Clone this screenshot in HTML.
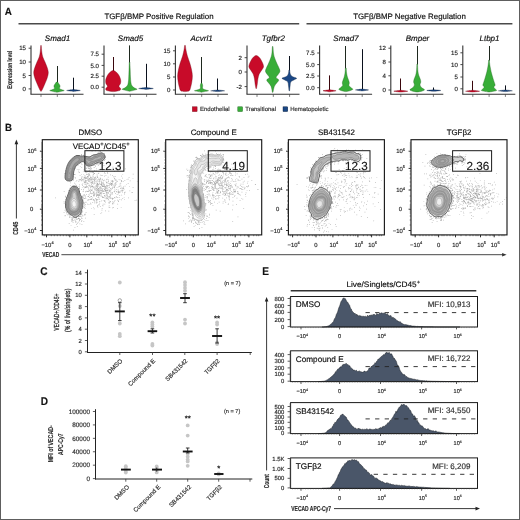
<!DOCTYPE html>
<html><head><meta charset="utf-8"><title>Figure</title>
<style>
html,body{margin:0;padding:0;background:#fff;width:520px;height:520px;overflow:hidden;}
svg{display:block;font-family:"Liberation Sans", sans-serif;text-rendering:geometricPrecision;will-change:transform;}
text{stroke:#2a2a2a;stroke-width:0.16px;}
</style></head>
<body>
<svg width="520" height="520" viewBox="0 0 520 520">
<rect x="0" y="0" width="520" height="520" fill="#fff"/>
<text x="0" y="0" font-size="10.6" font-weight="bold" fill="#111" transform="translate(4.80,15.40) scale(0.93,1)">A</text>
<line x1="18.50" y1="23.80" x2="299.20" y2="23.80" stroke="#4a4a4a" stroke-width="1.6"/>
<line x1="306.50" y1="23.80" x2="512.40" y2="23.80" stroke="#4a4a4a" stroke-width="1.6"/>
<text x="159.00" y="18.90" font-size="7.9" text-anchor="middle">TGF&#946;/BMP Positive Regulation</text>
<text x="409.50" y="18.90" font-size="7.9" text-anchor="middle">TGF&#946;/BMP Negative Regulation</text>
<line x1="31.00" y1="45.40" x2="31.00" y2="94.30" stroke="#333" stroke-width="1.1"/>
<line x1="30.50" y1="94.30" x2="83.50" y2="94.30" stroke="#333" stroke-width="1.1"/>
<line x1="28.60" y1="48.20" x2="31.00" y2="48.20" stroke="#333" stroke-width="0.9"/>
<text x="26.00" y="50.40" font-size="6.1" text-anchor="end" fill="#262626">15</text>
<line x1="28.60" y1="62.00" x2="31.00" y2="62.00" stroke="#333" stroke-width="0.9"/>
<text x="26.00" y="64.20" font-size="6.1" text-anchor="end" fill="#262626">10</text>
<line x1="28.60" y1="75.50" x2="31.00" y2="75.50" stroke="#333" stroke-width="0.9"/>
<text x="26.00" y="77.70" font-size="6.1" text-anchor="end" fill="#262626">5</text>
<line x1="28.60" y1="88.90" x2="31.00" y2="88.90" stroke="#333" stroke-width="0.9"/>
<text x="26.00" y="91.10" font-size="6.1" text-anchor="end" fill="#262626">0</text>
<line x1="41.00" y1="94.30" x2="41.00" y2="96.90" stroke="#444" stroke-width="0.7"/>
<line x1="57.30" y1="94.30" x2="57.30" y2="96.90" stroke="#444" stroke-width="0.7"/>
<line x1="73.60" y1="94.30" x2="73.60" y2="96.90" stroke="#444" stroke-width="0.7"/>
<text x="57.50" y="41.00" font-size="8.0" text-anchor="middle" font-style="italic">Smad1</text>
<path d="M41.30,45.50 C41.38,46.58 41.55,50.08 41.80,52.00 C42.05,53.92 42.27,55.33 42.80,57.00 C43.33,58.67 44.30,60.33 45.00,62.00 C45.70,63.67 46.45,65.25 47.00,67.00 C47.55,68.75 48.27,70.67 48.30,72.50 C48.33,74.33 47.78,76.08 47.20,78.00 C46.62,79.92 45.53,82.25 44.80,84.00 C44.07,85.75 43.38,87.28 42.80,88.50 C42.22,89.72 41.55,90.83 41.30,91.30 L40.70,91.30 C40.45,90.83 39.78,89.72 39.20,88.50 C38.62,87.28 37.93,85.75 37.20,84.00 C36.47,82.25 35.38,79.92 34.80,78.00 C34.22,76.08 33.67,74.33 33.70,72.50 C33.73,70.67 34.45,68.75 35.00,67.00 C35.55,65.25 36.30,63.67 37.00,62.00 C37.70,60.33 38.67,58.67 39.20,57.00 C39.73,55.33 39.95,53.92 40.20,52.00 C40.45,50.08 40.62,46.58 40.70,45.50Z" fill="#c80b29" stroke="#6b0a14" stroke-width="0.35"/>
<line x1="57.50" y1="66.00" x2="57.50" y2="82.50" stroke="#1e281e" stroke-width="1.0"/>
<path d="M57.60,82.00 C57.83,82.33 58.58,83.33 59.00,84.00 C59.42,84.67 60.00,85.27 60.10,86.00 C60.20,86.73 59.28,87.77 59.60,88.40 C59.92,89.03 61.23,89.43 62.00,89.80 C62.77,90.17 64.45,90.30 64.20,90.60 C63.95,90.90 61.65,91.32 60.50,91.60 C59.35,91.88 57.83,92.18 57.30,92.30 L56.70,92.30 C56.17,92.18 54.65,91.88 53.50,91.60 C52.35,91.32 50.05,90.90 49.80,90.60 C49.55,90.30 51.23,90.17 52.00,89.80 C52.77,89.43 54.08,89.03 54.40,88.40 C54.72,87.77 53.80,86.73 53.90,86.00 C54.00,85.27 54.58,84.67 55.00,84.00 C55.42,83.33 56.17,82.33 56.40,82.00Z" fill="#38ad38" stroke="#1d5c1d" stroke-width="0.35"/>
<line x1="73.50" y1="77.70" x2="73.50" y2="90.10" stroke="#0a101c" stroke-width="1.0"/>
<path d="M73.80,89.60 C74.43,89.67 76.50,89.90 77.58,90.05 C78.66,90.20 80.30,90.35 80.30,90.50 C80.30,90.65 78.66,90.80 77.58,90.95 C76.50,91.10 74.43,91.33 73.80,91.40 L73.20,91.40 C72.57,91.33 70.50,91.10 69.42,90.95 C68.34,90.80 66.70,90.65 66.70,90.50 C66.70,90.35 68.34,90.20 69.42,90.05 C70.50,89.90 72.57,89.67 73.20,89.60Z" fill="#1a4785" stroke="#0d1c36" stroke-width="0.35"/>
<line x1="104.00" y1="45.40" x2="104.00" y2="94.30" stroke="#333" stroke-width="1.1"/>
<line x1="103.50" y1="94.30" x2="156.50" y2="94.30" stroke="#333" stroke-width="1.1"/>
<line x1="101.60" y1="54.20" x2="104.00" y2="54.20" stroke="#333" stroke-width="0.9"/>
<text x="99.00" y="56.40" font-size="6.1" text-anchor="end" fill="#262626">7.5</text>
<line x1="101.60" y1="65.40" x2="104.00" y2="65.40" stroke="#333" stroke-width="0.9"/>
<text x="99.00" y="67.60" font-size="6.1" text-anchor="end" fill="#262626">5.0</text>
<line x1="101.60" y1="76.20" x2="104.00" y2="76.20" stroke="#333" stroke-width="0.9"/>
<text x="99.00" y="78.40" font-size="6.1" text-anchor="end" fill="#262626">2.5</text>
<line x1="101.60" y1="87.20" x2="104.00" y2="87.20" stroke="#333" stroke-width="0.9"/>
<text x="99.00" y="89.40" font-size="6.1" text-anchor="end" fill="#262626">0.0</text>
<line x1="114.00" y1="94.30" x2="114.00" y2="96.90" stroke="#444" stroke-width="0.7"/>
<line x1="130.30" y1="94.30" x2="130.30" y2="96.90" stroke="#444" stroke-width="0.7"/>
<line x1="146.60" y1="94.30" x2="146.60" y2="96.90" stroke="#444" stroke-width="0.7"/>
<text x="130.50" y="41.00" font-size="8.0" text-anchor="middle" font-style="italic">Smad5</text>
<line x1="113.50" y1="57.00" x2="113.50" y2="71.10" stroke="#3a060c" stroke-width="1.0"/>
<path d="M113.70,70.60 C113.98,70.73 114.78,70.97 115.40,71.40 C116.02,71.83 116.75,72.43 117.40,73.20 C118.05,73.97 118.75,74.87 119.30,76.00 C119.85,77.13 120.50,78.75 120.70,80.00 C120.90,81.25 120.80,82.45 120.50,83.50 C120.20,84.55 118.88,85.45 118.90,86.30 C118.92,87.15 120.47,87.90 120.60,88.60 C120.73,89.30 120.85,90.00 119.70,90.50 C118.55,91.00 114.70,91.42 113.70,91.60 L112.70,91.60 C111.70,91.42 107.85,91.00 106.70,90.50 C105.55,90.00 105.67,89.30 105.80,88.60 C105.93,87.90 107.48,87.15 107.50,86.30 C107.52,85.45 106.20,84.55 105.90,83.50 C105.60,82.45 105.50,81.25 105.70,80.00 C105.90,78.75 106.55,77.13 107.10,76.00 C107.65,74.87 108.35,73.97 109.00,73.20 C109.65,72.43 110.38,71.83 111.00,71.40 C111.62,70.97 112.42,70.73 112.70,70.60Z" fill="#c80b29" stroke="#6b0a14" stroke-width="0.35"/>
<line x1="129.50" y1="45.40" x2="129.50" y2="62.50" stroke="#1e281e" stroke-width="1.0"/>
<path d="M129.90,62.00 C129.95,63.33 130.10,67.33 130.20,70.00 C130.30,72.67 130.37,75.83 130.50,78.00 C130.63,80.17 130.73,81.67 131.00,83.00 C131.27,84.33 131.50,85.17 132.10,86.00 C132.70,86.83 133.77,87.47 134.60,88.00 C135.43,88.53 137.23,88.82 137.10,89.20 C136.97,89.58 135.00,89.95 133.80,90.30 C132.60,90.65 130.55,91.13 129.90,91.30 L129.30,91.30 C128.65,91.13 126.60,90.65 125.40,90.30 C124.20,89.95 122.23,89.58 122.10,89.20 C121.97,88.82 123.77,88.53 124.60,88.00 C125.43,87.47 126.50,86.83 127.10,86.00 C127.70,85.17 127.93,84.33 128.20,83.00 C128.47,81.67 128.57,80.17 128.70,78.00 C128.83,75.83 128.90,72.67 129.00,70.00 C129.10,67.33 129.25,63.33 129.30,62.00Z" fill="#38ad38" stroke="#1d5c1d" stroke-width="0.35"/>
<line x1="146.50" y1="63.80" x2="146.50" y2="88.10" stroke="#0a101c" stroke-width="1.0"/>
<path d="M146.30,87.60 C146.98,87.67 149.21,87.90 150.38,88.05 C151.55,88.20 153.30,88.35 153.30,88.50 C153.30,88.65 151.55,88.80 150.38,88.95 C149.21,89.10 146.98,89.33 146.30,89.40 L145.70,89.40 C145.02,89.33 142.79,89.10 141.62,88.95 C140.45,88.80 138.70,88.65 138.70,88.50 C138.70,88.35 140.45,88.20 141.62,88.05 C142.79,87.90 145.02,87.67 145.70,87.60Z" fill="#1a4785" stroke="#0d1c36" stroke-width="0.35"/>
<line x1="175.40" y1="45.40" x2="175.40" y2="94.30" stroke="#333" stroke-width="1.1"/>
<line x1="174.90" y1="94.30" x2="227.90" y2="94.30" stroke="#333" stroke-width="1.1"/>
<line x1="173.00" y1="50.80" x2="175.40" y2="50.80" stroke="#333" stroke-width="0.9"/>
<text x="170.40" y="53.00" font-size="6.1" text-anchor="end" fill="#262626">15</text>
<line x1="173.00" y1="63.80" x2="175.40" y2="63.80" stroke="#333" stroke-width="0.9"/>
<text x="170.40" y="66.00" font-size="6.1" text-anchor="end" fill="#262626">10</text>
<line x1="173.00" y1="77.00" x2="175.40" y2="77.00" stroke="#333" stroke-width="0.9"/>
<text x="170.40" y="79.20" font-size="6.1" text-anchor="end" fill="#262626">5</text>
<line x1="173.00" y1="90.00" x2="175.40" y2="90.00" stroke="#333" stroke-width="0.9"/>
<text x="170.40" y="92.20" font-size="6.1" text-anchor="end" fill="#262626">0</text>
<line x1="185.40" y1="94.30" x2="185.40" y2="96.90" stroke="#444" stroke-width="0.7"/>
<line x1="201.70" y1="94.30" x2="201.70" y2="96.90" stroke="#444" stroke-width="0.7"/>
<line x1="218.00" y1="94.30" x2="218.00" y2="96.90" stroke="#444" stroke-width="0.7"/>
<text x="201.50" y="41.00" font-size="8.0" text-anchor="middle" font-style="italic">Acvrl1</text>
<path d="M185.40,45.40 C185.50,46.17 185.67,48.23 186.00,50.00 C186.33,51.77 186.77,53.83 187.40,56.00 C188.03,58.17 189.10,60.67 189.80,63.00 C190.50,65.33 191.17,67.83 191.60,70.00 C192.03,72.17 192.37,74.00 192.40,76.00 C192.43,78.00 192.10,80.08 191.80,82.00 C191.50,83.92 191.03,86.03 190.60,87.50 C190.17,88.97 190.05,90.12 189.20,90.80 C188.35,91.48 186.12,91.47 185.50,91.60 L184.50,91.60 C183.88,91.47 181.65,91.48 180.80,90.80 C179.95,90.12 179.83,88.97 179.40,87.50 C178.97,86.03 178.50,83.92 178.20,82.00 C177.90,80.08 177.57,78.00 177.60,76.00 C177.63,74.00 177.97,72.17 178.40,70.00 C178.83,67.83 179.50,65.33 180.20,63.00 C180.90,60.67 181.97,58.17 182.60,56.00 C183.23,53.83 183.67,51.77 184.00,50.00 C184.33,48.23 184.50,46.17 184.60,45.40Z" fill="#c80b29" stroke="#6b0a14" stroke-width="0.35"/>
<line x1="201.50" y1="57.00" x2="201.50" y2="83.50" stroke="#1e281e" stroke-width="1.0"/>
<path d="M201.90,83.00 C202.03,83.42 202.57,84.58 202.70,85.50 C202.83,86.42 202.15,87.75 202.70,88.50 C203.25,89.25 205.03,89.62 206.00,90.00 C206.97,90.38 208.75,90.53 208.50,90.80 C208.25,91.07 205.62,91.37 204.50,91.60 C203.38,91.83 202.25,92.10 201.80,92.20 L201.20,92.20 C200.75,92.10 199.62,91.83 198.50,91.60 C197.38,91.37 194.75,91.07 194.50,90.80 C194.25,90.53 196.03,90.38 197.00,90.00 C197.97,89.62 199.75,89.25 200.30,88.50 C200.85,87.75 200.17,86.42 200.30,85.50 C200.43,84.58 200.97,83.42 201.10,83.00Z" fill="#38ad38" stroke="#1d5c1d" stroke-width="0.35"/>
<line x1="217.50" y1="78.50" x2="217.50" y2="90.50" stroke="#0a101c" stroke-width="1.0"/>
<path d="M218.00,90.00 C218.65,90.07 220.78,90.27 221.90,90.40 C223.02,90.53 224.70,90.67 224.70,90.80 C224.70,90.93 223.02,91.07 221.90,91.20 C220.78,91.33 218.65,91.53 218.00,91.60 L217.40,91.60 C216.75,91.53 214.62,91.33 213.50,91.20 C212.38,91.07 210.70,90.93 210.70,90.80 C210.70,90.67 212.38,90.53 213.50,90.40 C214.62,90.27 216.75,90.07 217.40,90.00Z" fill="#1a4785" stroke="#0d1c36" stroke-width="0.35"/>
<line x1="247.00" y1="45.40" x2="247.00" y2="94.30" stroke="#333" stroke-width="1.1"/>
<line x1="246.50" y1="94.30" x2="299.50" y2="94.30" stroke="#333" stroke-width="1.1"/>
<line x1="244.60" y1="57.70" x2="247.00" y2="57.70" stroke="#333" stroke-width="0.9"/>
<text x="242.00" y="59.90" font-size="6.1" text-anchor="end" fill="#262626">2</text>
<line x1="244.60" y1="72.00" x2="247.00" y2="72.00" stroke="#333" stroke-width="0.9"/>
<text x="242.00" y="74.20" font-size="6.1" text-anchor="end" fill="#262626">0</text>
<line x1="244.60" y1="86.60" x2="247.00" y2="86.60" stroke="#333" stroke-width="0.9"/>
<text x="242.00" y="88.80" font-size="6.1" text-anchor="end" fill="#262626">-2</text>
<line x1="257.00" y1="94.30" x2="257.00" y2="96.90" stroke="#444" stroke-width="0.7"/>
<line x1="273.30" y1="94.30" x2="273.30" y2="96.90" stroke="#444" stroke-width="0.7"/>
<line x1="289.60" y1="94.30" x2="289.60" y2="96.90" stroke="#444" stroke-width="0.7"/>
<text x="273.30" y="41.00" font-size="8.0" text-anchor="middle" font-style="italic">Tgfbr2</text>
<path d="M256.60,55.60 C256.87,55.73 257.63,55.97 258.20,56.40 C258.77,56.83 259.43,57.43 260.00,58.20 C260.57,58.97 261.10,60.03 261.60,61.00 C262.10,61.97 262.68,63.00 263.00,64.00 C263.32,65.00 263.70,66.00 263.50,67.00 C263.30,68.00 262.52,68.83 261.80,70.00 C261.08,71.17 259.85,72.50 259.20,74.00 C258.55,75.50 258.22,77.33 257.90,79.00 C257.58,80.67 257.53,82.42 257.30,84.00 C257.07,85.58 256.63,87.75 256.50,88.50 L255.90,88.50 C255.77,87.75 255.33,85.58 255.10,84.00 C254.87,82.42 254.82,80.67 254.50,79.00 C254.18,77.33 253.85,75.50 253.20,74.00 C252.55,72.50 251.32,71.17 250.60,70.00 C249.88,68.83 249.10,68.00 248.90,67.00 C248.70,66.00 249.08,65.00 249.40,64.00 C249.72,63.00 250.30,61.97 250.80,61.00 C251.30,60.03 251.83,58.97 252.40,58.20 C252.97,57.43 253.63,56.83 254.20,56.40 C254.77,55.97 255.53,55.73 255.80,55.60Z" fill="#c80b29" stroke="#6b0a14" stroke-width="0.35"/>
<path d="M273.00,46.50 C273.10,47.75 273.27,51.92 273.60,54.00 C273.93,56.08 274.42,57.33 275.00,59.00 C275.58,60.67 276.40,62.42 277.10,64.00 C277.80,65.58 278.73,67.25 279.20,68.50 C279.67,69.75 280.08,70.50 279.90,71.50 C279.72,72.50 278.73,73.50 278.10,74.50 C277.47,75.50 276.00,76.58 276.10,77.50 C276.20,78.42 278.60,79.08 278.70,80.00 C278.80,80.92 277.43,81.92 276.70,83.00 C275.97,84.08 274.92,84.95 274.30,86.50 C273.68,88.05 273.22,91.33 273.00,92.30 L272.40,92.30 C272.18,91.33 271.72,88.05 271.10,86.50 C270.48,84.95 269.43,84.08 268.70,83.00 C267.97,81.92 266.60,80.92 266.70,80.00 C266.80,79.08 269.20,78.42 269.30,77.50 C269.40,76.58 267.93,75.50 267.30,74.50 C266.67,73.50 265.68,72.50 265.50,71.50 C265.32,70.50 265.73,69.75 266.20,68.50 C266.67,67.25 267.60,65.58 268.30,64.00 C269.00,62.42 269.82,60.67 270.40,59.00 C270.98,57.33 271.47,56.08 271.80,54.00 C272.13,51.92 272.30,47.75 272.40,46.50Z" fill="#38ad38" stroke="#1d5c1d" stroke-width="0.35"/>
<line x1="289.50" y1="56.00" x2="289.50" y2="70.50" stroke="#0a101c" stroke-width="1.0"/>
<path d="M289.70,70.00 C289.80,70.67 289.87,72.92 290.30,74.00 C290.73,75.08 291.25,75.78 292.30,76.50 C293.35,77.22 296.35,77.72 296.60,78.30 C296.85,78.88 294.77,79.38 293.80,80.00 C292.83,80.62 291.42,81.00 290.80,82.00 C290.18,83.00 290.30,84.53 290.10,86.00 C289.90,87.47 289.68,90.00 289.60,90.80 L289.00,90.80 C288.92,90.00 288.70,87.47 288.50,86.00 C288.30,84.53 288.42,83.00 287.80,82.00 C287.18,81.00 285.77,80.62 284.80,80.00 C283.83,79.38 281.75,78.88 282.00,78.30 C282.25,77.72 285.25,77.22 286.30,76.50 C287.35,75.78 287.87,75.08 288.30,74.00 C288.73,72.92 288.80,70.67 288.90,70.00Z" fill="#1a4785" stroke="#0d1c36" stroke-width="0.35"/>
<line x1="319.60" y1="45.40" x2="319.60" y2="94.30" stroke="#333" stroke-width="1.1"/>
<line x1="319.10" y1="94.30" x2="372.10" y2="94.30" stroke="#333" stroke-width="1.1"/>
<line x1="317.20" y1="53.00" x2="319.60" y2="53.00" stroke="#333" stroke-width="0.9"/>
<text x="314.60" y="55.20" font-size="6.1" text-anchor="end" fill="#262626">7.5</text>
<line x1="317.20" y1="64.60" x2="319.60" y2="64.60" stroke="#333" stroke-width="0.9"/>
<text x="314.60" y="66.80" font-size="6.1" text-anchor="end" fill="#262626">5.0</text>
<line x1="317.20" y1="76.00" x2="319.60" y2="76.00" stroke="#333" stroke-width="0.9"/>
<text x="314.60" y="78.20" font-size="6.1" text-anchor="end" fill="#262626">2.5</text>
<line x1="317.20" y1="87.70" x2="319.60" y2="87.70" stroke="#333" stroke-width="0.9"/>
<text x="314.60" y="89.90" font-size="6.1" text-anchor="end" fill="#262626">0.0</text>
<line x1="329.60" y1="94.30" x2="329.60" y2="96.90" stroke="#444" stroke-width="0.7"/>
<line x1="345.90" y1="94.30" x2="345.90" y2="96.90" stroke="#444" stroke-width="0.7"/>
<line x1="362.20" y1="94.30" x2="362.20" y2="96.90" stroke="#444" stroke-width="0.7"/>
<text x="346.00" y="41.00" font-size="8.0" text-anchor="middle" font-style="italic">Smad7</text>
<line x1="329.50" y1="75.40" x2="329.50" y2="90.30" stroke="#3a060c" stroke-width="1.0"/>
<path d="M329.90,89.80 C330.50,89.88 332.47,90.13 333.50,90.30 C334.53,90.47 336.10,90.63 336.10,90.80 C336.10,90.97 334.53,91.13 333.50,91.30 C332.47,91.47 330.50,91.72 329.90,91.80 L329.30,91.80 C328.70,91.72 326.73,91.47 325.70,91.30 C324.67,91.13 323.10,90.97 323.10,90.80 C323.10,90.63 324.67,90.47 325.70,90.30 C326.73,90.13 328.70,89.88 329.30,89.80Z" fill="#c80b29" stroke="#6b0a14" stroke-width="0.35"/>
<line x1="345.50" y1="46.00" x2="345.50" y2="68.50" stroke="#1e281e" stroke-width="1.0"/>
<path d="M346.20,68.00 C346.27,68.83 346.40,71.50 346.60,73.00 C346.80,74.50 347.05,75.75 347.40,77.00 C347.75,78.25 348.38,79.50 348.70,80.50 C349.02,81.50 349.27,82.17 349.30,83.00 C349.33,83.83 348.65,84.75 348.90,85.50 C349.15,86.25 350.15,86.87 350.80,87.50 C351.45,88.13 352.97,88.75 352.80,89.30 C352.63,89.85 350.92,90.42 349.80,90.80 C348.68,91.18 346.72,91.47 346.10,91.60 L345.50,91.60 C344.88,91.47 342.92,91.18 341.80,90.80 C340.68,90.42 338.97,89.85 338.80,89.30 C338.63,88.75 340.15,88.13 340.80,87.50 C341.45,86.87 342.45,86.25 342.70,85.50 C342.95,84.75 342.27,83.83 342.30,83.00 C342.33,82.17 342.58,81.50 342.90,80.50 C343.22,79.50 343.85,78.25 344.20,77.00 C344.55,75.75 344.80,74.50 345.00,73.00 C345.20,71.50 345.33,68.83 345.40,68.00Z" fill="#38ad38" stroke="#1d5c1d" stroke-width="0.35"/>
<line x1="362.50" y1="49.20" x2="362.50" y2="89.60" stroke="#0a101c" stroke-width="1.0"/>
<path d="M362.30,89.10 C362.90,89.17 364.87,89.40 365.90,89.55 C366.93,89.70 368.50,89.85 368.50,90.00 C368.50,90.15 366.93,90.30 365.90,90.45 C364.87,90.60 362.90,90.83 362.30,90.90 L361.70,90.90 C361.10,90.83 359.13,90.60 358.10,90.45 C357.07,90.30 355.50,90.15 355.50,90.00 C355.50,89.85 357.07,89.70 358.10,89.55 C359.13,89.40 361.10,89.17 361.70,89.10Z" fill="#1a4785" stroke="#0d1c36" stroke-width="0.35"/>
<line x1="390.80" y1="45.40" x2="390.80" y2="94.30" stroke="#333" stroke-width="1.1"/>
<line x1="390.30" y1="94.30" x2="443.30" y2="94.30" stroke="#333" stroke-width="1.1"/>
<line x1="388.40" y1="48.20" x2="390.80" y2="48.20" stroke="#333" stroke-width="0.9"/>
<text x="385.80" y="50.40" font-size="6.1" text-anchor="end" fill="#262626">12</text>
<line x1="388.40" y1="62.00" x2="390.80" y2="62.00" stroke="#333" stroke-width="0.9"/>
<text x="385.80" y="64.20" font-size="6.1" text-anchor="end" fill="#262626">8</text>
<line x1="388.40" y1="75.80" x2="390.80" y2="75.80" stroke="#333" stroke-width="0.9"/>
<text x="385.80" y="78.00" font-size="6.1" text-anchor="end" fill="#262626">4</text>
<line x1="388.40" y1="90.00" x2="390.80" y2="90.00" stroke="#333" stroke-width="0.9"/>
<text x="385.80" y="92.20" font-size="6.1" text-anchor="end" fill="#262626">0</text>
<line x1="400.80" y1="94.30" x2="400.80" y2="96.90" stroke="#444" stroke-width="0.7"/>
<line x1="417.10" y1="94.30" x2="417.10" y2="96.90" stroke="#444" stroke-width="0.7"/>
<line x1="433.40" y1="94.30" x2="433.40" y2="96.90" stroke="#444" stroke-width="0.7"/>
<text x="417.50" y="41.00" font-size="8.0" text-anchor="middle" font-style="italic">Bmper</text>
<line x1="400.50" y1="78.50" x2="400.50" y2="90.80" stroke="#3a060c" stroke-width="1.0"/>
<path d="M401.10,90.30 C401.75,90.38 403.88,90.60 405.00,90.75 C406.12,90.90 407.80,91.05 407.80,91.20 C407.80,91.35 406.12,91.50 405.00,91.65 C403.88,91.80 401.75,92.03 401.10,92.10 L400.50,92.10 C399.85,92.03 397.72,91.80 396.60,91.65 C395.48,91.50 393.80,91.35 393.80,91.20 C393.80,91.05 395.48,90.90 396.60,90.75 C397.72,90.60 399.85,90.38 400.50,90.30Z" fill="#c80b29" stroke="#6b0a14" stroke-width="0.35"/>
<line x1="417.50" y1="46.00" x2="417.50" y2="64.50" stroke="#1e281e" stroke-width="1.0"/>
<path d="M417.50,64.00 C417.57,65.17 417.68,69.08 417.90,71.00 C418.12,72.92 418.42,74.17 418.80,75.50 C419.18,76.83 419.87,77.92 420.20,79.00 C420.53,80.08 420.83,81.00 420.80,82.00 C420.77,83.00 419.83,84.03 420.00,85.00 C420.17,85.97 421.05,87.00 421.80,87.80 C422.55,88.60 424.50,89.23 424.50,89.80 C424.50,90.37 422.97,90.83 421.80,91.20 C420.63,91.57 418.22,91.87 417.50,92.00 L416.90,92.00 C416.18,91.87 413.77,91.57 412.60,91.20 C411.43,90.83 409.90,90.37 409.90,89.80 C409.90,89.23 411.85,88.60 412.60,87.80 C413.35,87.00 414.23,85.97 414.40,85.00 C414.57,84.03 413.63,83.00 413.60,82.00 C413.57,81.00 413.87,80.08 414.20,79.00 C414.53,77.92 415.22,76.83 415.60,75.50 C415.98,74.17 416.28,72.92 416.50,71.00 C416.72,69.08 416.83,65.17 416.90,64.00Z" fill="#38ad38" stroke="#1d5c1d" stroke-width="0.35"/>
<line x1="433.50" y1="87.50" x2="433.50" y2="90.20" stroke="#0a101c" stroke-width="1.0"/>
<path d="M434.10,89.70 C434.75,89.77 436.88,89.97 438.00,90.10 C439.12,90.23 440.80,90.37 440.80,90.50 C440.80,90.63 439.12,90.77 438.00,90.90 C436.88,91.03 434.75,91.23 434.10,91.30 L433.50,91.30 C432.85,91.23 430.72,91.03 429.60,90.90 C428.48,90.77 426.80,90.63 426.80,90.50 C426.80,90.37 428.48,90.23 429.60,90.10 C430.72,89.97 432.85,89.77 433.50,89.70Z" fill="#1a4785" stroke="#0d1c36" stroke-width="0.35"/>
<line x1="462.80" y1="45.40" x2="462.80" y2="94.30" stroke="#333" stroke-width="1.1"/>
<line x1="462.30" y1="94.30" x2="515.30" y2="94.30" stroke="#333" stroke-width="1.1"/>
<line x1="460.40" y1="52.80" x2="462.80" y2="52.80" stroke="#333" stroke-width="0.9"/>
<text x="457.80" y="55.00" font-size="6.1" text-anchor="end" fill="#262626">15</text>
<line x1="460.40" y1="64.60" x2="462.80" y2="64.60" stroke="#333" stroke-width="0.9"/>
<text x="457.80" y="66.80" font-size="6.1" text-anchor="end" fill="#262626">10</text>
<line x1="460.40" y1="77.00" x2="462.80" y2="77.00" stroke="#333" stroke-width="0.9"/>
<text x="457.80" y="79.20" font-size="6.1" text-anchor="end" fill="#262626">5</text>
<line x1="460.40" y1="88.80" x2="462.80" y2="88.80" stroke="#333" stroke-width="0.9"/>
<text x="457.80" y="91.00" font-size="6.1" text-anchor="end" fill="#262626">0</text>
<line x1="472.80" y1="94.30" x2="472.80" y2="96.90" stroke="#444" stroke-width="0.7"/>
<line x1="489.10" y1="94.30" x2="489.10" y2="96.90" stroke="#444" stroke-width="0.7"/>
<line x1="505.40" y1="94.30" x2="505.40" y2="96.90" stroke="#444" stroke-width="0.7"/>
<text x="489.50" y="41.00" font-size="8.0" text-anchor="middle" font-style="italic">Ltbp1</text>
<line x1="472.50" y1="80.80" x2="472.50" y2="90.80" stroke="#3a060c" stroke-width="1.0"/>
<path d="M472.90,90.30 C473.55,90.38 475.68,90.60 476.80,90.75 C477.92,90.90 479.60,91.05 479.60,91.20 C479.60,91.35 477.92,91.50 476.80,91.65 C475.68,91.80 473.55,92.03 472.90,92.10 L472.30,92.10 C471.65,92.03 469.52,91.80 468.40,91.65 C467.28,91.50 465.60,91.35 465.60,91.20 C465.60,91.05 467.28,90.90 468.40,90.75 C469.52,90.60 471.65,90.38 472.30,90.30Z" fill="#c80b29" stroke="#6b0a14" stroke-width="0.35"/>
<line x1="489.50" y1="46.00" x2="489.50" y2="60.50" stroke="#1e281e" stroke-width="1.0"/>
<path d="M489.30,60.00 C489.42,61.00 489.68,64.00 490.00,66.00 C490.32,68.00 490.72,70.00 491.20,72.00 C491.68,74.00 492.35,76.17 492.90,78.00 C493.45,79.83 494.13,81.80 494.50,83.00 C494.87,84.20 495.22,84.50 495.10,85.20 C494.98,85.90 493.72,86.53 493.80,87.20 C493.88,87.87 495.15,88.63 495.60,89.20 C496.05,89.77 497.02,90.22 496.50,90.60 C495.98,90.98 493.70,91.27 492.50,91.50 C491.30,91.73 489.83,91.92 489.30,92.00 L488.70,92.00 C488.17,91.92 486.70,91.73 485.50,91.50 C484.30,91.27 482.02,90.98 481.50,90.60 C480.98,90.22 481.95,89.77 482.40,89.20 C482.85,88.63 484.12,87.87 484.20,87.20 C484.28,86.53 483.02,85.90 482.90,85.20 C482.78,84.50 483.13,84.20 483.50,83.00 C483.87,81.80 484.55,79.83 485.10,78.00 C485.65,76.17 486.32,74.00 486.80,72.00 C487.28,70.00 487.68,68.00 488.00,66.00 C488.32,64.00 488.58,61.00 488.70,60.00Z" fill="#38ad38" stroke="#1d5c1d" stroke-width="0.35"/>
<line x1="505.50" y1="85.40" x2="505.50" y2="90.50" stroke="#0a101c" stroke-width="1.0"/>
<path d="M505.70,90.00 C506.35,90.07 508.48,90.27 509.60,90.40 C510.72,90.53 512.40,90.67 512.40,90.80 C512.40,90.93 510.72,91.07 509.60,91.20 C508.48,91.33 506.35,91.53 505.70,91.60 L505.10,91.60 C504.45,91.53 502.32,91.33 501.20,91.20 C500.08,91.07 498.40,90.93 498.40,90.80 C498.40,90.67 500.08,90.53 501.20,90.40 C502.32,90.27 504.45,90.07 505.10,90.00Z" fill="#1a4785" stroke="#0d1c36" stroke-width="0.35"/>
<text x="0" y="0" font-size="6.8" text-anchor="middle" font-weight="bold" fill="#2a2a2a" transform="translate(12.10,69.80) rotate(-90) scale(0.71,1)">Expression level</text>
<rect x="192.30" y="106.80" width="4.80" height="4.80" fill="#c80b29" stroke="#6b0a14" stroke-width="0.4"/>
<text x="200.00" y="111.20" font-size="6.0" fill="#333">Endothelial</text>
<rect x="237.80" y="106.80" width="4.80" height="4.80" fill="#38ad38" stroke="#1d5c1d" stroke-width="0.4"/>
<text x="245.20" y="111.20" font-size="6.0" fill="#333">Transitional</text>
<rect x="283.00" y="106.80" width="4.80" height="4.80" fill="#1a4785" stroke="#0d1c36" stroke-width="0.4"/>
<text x="290.20" y="111.20" font-size="6.0" fill="#333">Hematopoietic</text>
<text x="0" y="0" font-size="10.4" font-weight="bold" fill="#111" transform="translate(5.10,130.50) scale(0.93,1)">B</text>
<g transform="translate(42.30,139.70)">
<path d="M44.0,45.1h.7v.7h-.7zM37.0,48.0h.7v.7h-.7zM33.7,77.9h.7v.7h-.7zM44.1,47.1h.7v.7h-.7zM57.8,46.6h.7v.7h-.7zM77.1,55.5h.7v.7h-.7zM62.3,60.8h.7v.7h-.7zM53.8,56.3h.7v.7h-.7zM64.4,55.4h.7v.7h-.7zM33.2,82.3h.7v.7h-.7zM30.9,77.7h.7v.7h-.7zM36.7,80.1h.7v.7h-.7zM51.9,42.0h.7v.7h-.7zM52.7,25.2h.7v.7h-.7zM26.8,74.6h.7v.7h-.7zM55.5,51.9h.7v.7h-.7zM73.9,41.7h.7v.7h-.7zM69.6,41.4h.7v.7h-.7zM27.9,42.8h.7v.7h-.7zM59.2,44.1h.7v.7h-.7zM53.3,14.3h.7v.7h-.7zM47.2,26.7h.7v.7h-.7zM57.7,23.0h.7v.7h-.7zM63.3,35.6h.7v.7h-.7zM22.4,70.3h.7v.7h-.7zM54.9,45.6h.7v.7h-.7zM78.3,46.0h.7v.7h-.7zM42.3,35.4h.7v.7h-.7zM49.7,42.2h.7v.7h-.7zM59.1,72.9h.7v.7h-.7zM50.8,55.6h.7v.7h-.7zM38.9,14.8h.7v.7h-.7zM55.0,49.6h.7v.7h-.7zM64.7,50.5h.7v.7h-.7zM71.2,63.0h.7v.7h-.7zM46.5,55.1h.7v.7h-.7zM44.2,34.0h.7v.7h-.7zM56.2,59.0h.7v.7h-.7zM61.6,56.8h.7v.7h-.7zM40.6,31.2h.7v.7h-.7zM53.9,38.8h.7v.7h-.7zM72.3,50.9h.7v.7h-.7zM55.3,67.2h.7v.7h-.7zM36.9,46.8h.7v.7h-.7zM60.9,53.3h.7v.7h-.7zM47.3,50.7h.7v.7h-.7zM67.8,48.4h.7v.7h-.7zM43.2,41.9h.7v.7h-.7zM41.3,29.8h.7v.7h-.7zM59.9,31.7h.7v.7h-.7zM52.2,24.9h.7v.7h-.7zM68.0,61.9h.7v.7h-.7zM49.7,15.8h.7v.7h-.7zM45.2,39.3h.7v.7h-.7zM56.3,12.4h.7v.7h-.7zM39.1,38.4h.7v.7h-.7zM51.3,54.7h.7v.7h-.7zM78.7,41.6h.7v.7h-.7zM43.1,37.6h.7v.7h-.7zM71.1,62.1h.7v.7h-.7zM27.0,21.9h.7v.7h-.7zM61.8,49.6h.7v.7h-.7zM66.4,67.0h.7v.7h-.7zM88.7,52.2h.7v.7h-.7zM56.7,47.2h.7v.7h-.7zM81.5,57.2h.7v.7h-.7zM24.8,26.2h.7v.7h-.7zM51.9,40.0h.7v.7h-.7zM43.1,36.2h.7v.7h-.7zM39.3,24.3h.7v.7h-.7zM32.8,80.2h.7v.7h-.7zM51.1,52.8h.7v.7h-.7zM21.4,72.6h.7v.7h-.7zM47.4,53.3h.7v.7h-.7zM74.5,54.4h.7v.7h-.7zM77.2,59.3h.7v.7h-.7zM50.2,53.3h.7v.7h-.7zM48.1,56.9h.7v.7h-.7zM37.1,76.4h.7v.7h-.7zM38.9,37.1h.7v.7h-.7zM49.7,32.3h.7v.7h-.7zM40.7,51.0h.7v.7h-.7zM85.5,39.1h.7v.7h-.7zM53.6,41.0h.7v.7h-.7zM66.2,71.1h.7v.7h-.7zM67.2,67.5h.7v.7h-.7zM42.8,32.1h.7v.7h-.7zM41.2,15.6h.7v.7h-.7zM68.4,48.8h.7v.7h-.7zM41.3,39.4h.7v.7h-.7zM43.4,72.4h.7v.7h-.7zM76.1,46.8h.7v.7h-.7zM46.0,36.7h.7v.7h-.7zM64.6,46.1h.7v.7h-.7zM23.4,66.9h.7v.7h-.7zM90.3,38.2h.7v.7h-.7zM79.0,40.4h.7v.7h-.7zM70.2,64.0h.7v.7h-.7zM34.6,86.3h.7v.7h-.7zM87.0,46.2h.7v.7h-.7zM39.1,72.6h.7v.7h-.7zM73.1,42.6h.7v.7h-.7zM46.7,28.7h.7v.7h-.7zM65.1,33.4h.7v.7h-.7zM45.1,46.9h.7v.7h-.7zM66.0,52.5h.7v.7h-.7zM64.3,43.0h.7v.7h-.7zM29.6,80.0h.7v.7h-.7zM54.3,45.7h.7v.7h-.7zM63.0,19.2h.7v.7h-.7zM32.2,34.4h.7v.7h-.7zM56.6,43.3h.7v.7h-.7zM47.8,39.5h.7v.7h-.7zM74.2,51.3h.7v.7h-.7zM67.2,51.7h.7v.7h-.7zM94.1,60.0h.7v.7h-.7zM50.1,62.5h.7v.7h-.7zM71.8,47.3h.7v.7h-.7zM61.8,60.5h.7v.7h-.7zM73.8,57.7h.7v.7h-.7zM64.4,47.8h.7v.7h-.7zM46.8,30.6h.7v.7h-.7zM62.2,64.0h.7v.7h-.7zM57.5,47.6h.7v.7h-.7zM55.1,23.5h.7v.7h-.7zM51.4,42.0h.7v.7h-.7zM51.7,43.3h.7v.7h-.7zM70.5,41.1h.7v.7h-.7zM55.9,56.1h.7v.7h-.7zM42.6,31.3h.7v.7h-.7zM59.6,29.9h.7v.7h-.7zM69.1,52.8h.7v.7h-.7zM41.0,49.5h.7v.7h-.7zM22.5,75.4h.7v.7h-.7zM68.4,54.7h.7v.7h-.7zM40.9,58.9h.7v.7h-.7zM46.8,34.6h.7v.7h-.7zM27.1,48.2h.7v.7h-.7zM62.7,17.5h.7v.7h-.7zM21.5,63.4h.7v.7h-.7zM44.7,36.7h.7v.7h-.7zM38.7,22.7h.7v.7h-.7zM22.8,67.8h.7v.7h-.7zM41.2,81.3h.7v.7h-.7zM48.5,28.8h.7v.7h-.7zM45.9,39.2h.7v.7h-.7zM52.3,47.2h.7v.7h-.7zM53.2,58.6h.7v.7h-.7zM72.5,40.0h.7v.7h-.7zM47.0,38.3h.7v.7h-.7zM62.8,50.3h.7v.7h-.7zM23.1,66.1h.7v.7h-.7zM39.2,80.7h.7v.7h-.7zM27.3,76.5h.7v.7h-.7zM69.3,44.8h.7v.7h-.7zM64.3,51.9h.7v.7h-.7zM63.7,54.0h.7v.7h-.7zM54.4,55.6h.7v.7h-.7zM42.5,38.4h.7v.7h-.7zM46.8,38.9h.7v.7h-.7zM23.4,30.6h.7v.7h-.7zM37.0,80.8h.7v.7h-.7zM51.5,54.3h.7v.7h-.7zM37.3,83.9h.7v.7h-.7zM59.6,39.8h.7v.7h-.7zM55.8,33.3h.7v.7h-.7zM61.6,13.8h.7v.7h-.7zM42.5,47.3h.7v.7h-.7zM58.4,47.5h.7v.7h-.7zM59.9,21.1h.7v.7h-.7zM53.5,24.3h.7v.7h-.7zM61.9,40.1h.7v.7h-.7zM87.2,50.9h.7v.7h-.7zM58.6,56.2h.7v.7h-.7zM47.4,32.4h.7v.7h-.7zM38.8,49.6h.7v.7h-.7zM37.1,76.3h.7v.7h-.7zM73.3,42.6h.7v.7h-.7zM31.3,80.6h.7v.7h-.7zM48.9,40.0h.7v.7h-.7zM50.7,55.0h.7v.7h-.7zM55.0,65.4h.7v.7h-.7zM54.6,40.1h.7v.7h-.7zM47.0,50.6h.7v.7h-.7zM55.6,52.6h.7v.7h-.7zM42.2,37.2h.7v.7h-.7zM59.9,57.5h.7v.7h-.7zM75.0,57.6h.7v.7h-.7zM35.3,78.2h.7v.7h-.7zM51.2,38.9h.7v.7h-.7zM39.3,57.2h.7v.7h-.7zM54.8,43.9h.7v.7h-.7zM52.4,37.4h.7v.7h-.7zM43.7,25.3h.7v.7h-.7zM47.7,27.3h.7v.7h-.7zM44.3,51.6h.7v.7h-.7zM33.9,15.9h.7v.7h-.7zM80.1,58.4h.7v.7h-.7zM59.5,45.6h.7v.7h-.7zM75.6,51.0h.7v.7h-.7zM47.5,42.9h.7v.7h-.7zM51.6,15.0h.7v.7h-.7zM59.5,68.6h.7v.7h-.7zM54.7,37.6h.7v.7h-.7zM49.7,42.7h.7v.7h-.7zM29.6,78.8h.7v.7h-.7zM21.3,61.8h.7v.7h-.7zM58.7,56.0h.7v.7h-.7zM50.3,53.1h.7v.7h-.7zM42.4,40.2h.7v.7h-.7zM42.8,40.1h.7v.7h-.7zM66.6,43.5h.7v.7h-.7zM50.3,41.1h.7v.7h-.7zM79.9,48.9h.7v.7h-.7zM34.2,40.4h.7v.7h-.7zM51.6,27.3h.7v.7h-.7zM54.3,48.6h.7v.7h-.7zM52.2,53.4h.7v.7h-.7zM29.0,80.1h.7v.7h-.7zM47.8,37.5h.7v.7h-.7zM75.9,61.5h.7v.7h-.7zM55.9,64.8h.7v.7h-.7zM41.6,55.4h.7v.7h-.7zM42.9,41.2h.7v.7h-.7zM66.0,43.2h.7v.7h-.7zM35.6,82.1h.7v.7h-.7zM47.0,16.9h.7v.7h-.7zM43.9,38.4h.7v.7h-.7zM33.9,79.0h.7v.7h-.7zM54.3,42.0h.7v.7h-.7zM54.9,44.1h.7v.7h-.7zM38.0,53.6h.7v.7h-.7zM22.5,70.0h.7v.7h-.7zM51.4,15.1h.7v.7h-.7zM42.7,55.7h.7v.7h-.7zM71.9,51.9h.7v.7h-.7zM59.7,46.6h.7v.7h-.7zM59.1,53.6h.7v.7h-.7zM63.5,54.1h.7v.7h-.7zM43.0,64.4h.7v.7h-.7zM47.8,40.7h.7v.7h-.7zM80.4,47.3h.7v.7h-.7zM38.0,74.4h.7v.7h-.7zM55.6,51.9h.7v.7h-.7zM34.5,79.5h.7v.7h-.7zM25.1,55.4h.7v.7h-.7zM69.1,45.6h.7v.7h-.7zM76.1,53.9h.7v.7h-.7zM52.2,52.0h.7v.7h-.7zM50.1,46.3h.7v.7h-.7zM31.0,39.7h.7v.7h-.7zM55.5,46.0h.7v.7h-.7zM53.5,14.9h.7v.7h-.7zM82.2,40.4h.7v.7h-.7zM37.6,54.1h.7v.7h-.7zM66.7,56.5h.7v.7h-.7zM72.2,49.0h.7v.7h-.7zM57.5,44.2h.7v.7h-.7zM54.5,35.7h.7v.7h-.7zM66.5,65.2h.7v.7h-.7zM68.5,44.9h.7v.7h-.7zM65.1,58.0h.7v.7h-.7zM55.9,49.0h.7v.7h-.7zM24.3,71.7h.7v.7h-.7zM56.5,39.5h.7v.7h-.7zM60.6,60.7h.7v.7h-.7zM72.3,39.1h.7v.7h-.7zM53.9,59.5h.7v.7h-.7zM50.8,60.0h.7v.7h-.7zM46.1,34.0h.7v.7h-.7zM23.4,71.4h.7v.7h-.7zM39.7,56.2h.7v.7h-.7zM41.9,58.5h.7v.7h-.7zM61.4,51.4h.7v.7h-.7zM59.6,51.8h.7v.7h-.7zM32.4,34.7h.7v.7h-.7zM43.7,46.5h.7v.7h-.7zM42.6,47.4h.7v.7h-.7zM68.5,40.9h.7v.7h-.7zM30.2,80.8h.7v.7h-.7zM65.0,27.5h.7v.7h-.7zM49.3,46.4h.7v.7h-.7zM39.8,59.2h.7v.7h-.7zM63.5,58.9h.7v.7h-.7zM77.4,39.9h.7v.7h-.7zM51.2,43.2h.7v.7h-.7zM46.6,46.2h.7v.7h-.7zM76.8,52.6h.7v.7h-.7zM48.4,53.4h.7v.7h-.7zM57.0,41.4h.7v.7h-.7zM50.8,52.0h.7v.7h-.7zM49.0,42.5h.7v.7h-.7zM44.5,42.2h.7v.7h-.7zM60.4,44.1h.7v.7h-.7zM52.4,50.0h.7v.7h-.7zM35.9,76.7h.7v.7h-.7zM48.0,59.4h.7v.7h-.7zM24.6,71.0h.7v.7h-.7zM23.5,58.1h.7v.7h-.7zM49.2,15.4h.7v.7h-.7zM56.8,47.1h.7v.7h-.7zM65.3,58.7h.7v.7h-.7zM60.1,22.5h.7v.7h-.7zM39.2,72.5h.7v.7h-.7zM76.0,52.5h.7v.7h-.7zM34.6,83.0h.7v.7h-.7zM35.8,78.6h.7v.7h-.7zM54.6,49.5h.7v.7h-.7zM69.4,58.1h.7v.7h-.7zM71.7,57.5h.7v.7h-.7zM65.5,41.9h.7v.7h-.7zM73.4,39.9h.7v.7h-.7zM46.9,38.2h.7v.7h-.7zM69.9,61.9h.7v.7h-.7zM57.0,54.4h.7v.7h-.7zM42.4,46.2h.7v.7h-.7zM53.2,43.1h.7v.7h-.7zM25.4,72.4h.7v.7h-.7zM69.8,48.4h.7v.7h-.7zM35.5,46.7h.7v.7h-.7zM71.9,38.2h.7v.7h-.7zM94.6,41.7h.7v.7h-.7zM67.7,61.5h.7v.7h-.7zM59.1,42.9h.7v.7h-.7zM44.6,16.7h.7v.7h-.7zM51.3,56.0h.7v.7h-.7zM49.4,11.6h.7v.7h-.7zM43.3,62.1h.7v.7h-.7zM26.5,51.7h.7v.7h-.7zM63.8,50.2h.7v.7h-.7zM59.2,50.1h.7v.7h-.7zM44.3,16.3h.7v.7h-.7zM59.5,50.9h.7v.7h-.7zM77.4,44.7h.7v.7h-.7zM45.9,38.2h.7v.7h-.7zM54.0,48.7h.7v.7h-.7zM49.6,46.3h.7v.7h-.7zM47.6,38.7h.7v.7h-.7zM57.4,44.0h.7v.7h-.7zM59.8,22.8h.7v.7h-.7zM49.3,59.7h.7v.7h-.7zM52.4,39.9h.7v.7h-.7zM31.8,43.0h.7v.7h-.7zM45.3,43.9h.7v.7h-.7zM59.8,42.8h.7v.7h-.7zM70.9,47.0h.7v.7h-.7zM63.0,50.4h.7v.7h-.7zM22.4,75.9h.7v.7h-.7zM51.1,33.1h.7v.7h-.7zM23.2,67.6h.7v.7h-.7zM60.5,50.8h.7v.7h-.7zM61.6,33.1h.7v.7h-.7zM70.9,36.8h.7v.7h-.7zM34.0,45.6h.7v.7h-.7zM54.4,60.9h.7v.7h-.7zM37.0,15.7h.7v.7h-.7zM63.4,50.2h.7v.7h-.7zM60.7,40.4h.7v.7h-.7zM58.0,38.0h.7v.7h-.7zM45.9,45.2h.7v.7h-.7zM62.8,62.0h.7v.7h-.7zM32.5,37.5h.7v.7h-.7zM33.4,41.2h.7v.7h-.7zM64.1,55.8h.7v.7h-.7zM54.7,36.5h.7v.7h-.7zM42.4,74.9h.7v.7h-.7zM39.8,75.8h.7v.7h-.7zM59.1,60.7h.7v.7h-.7zM55.3,51.1h.7v.7h-.7zM63.4,41.0h.7v.7h-.7zM39.6,68.5h.7v.7h-.7zM66.3,50.1h.7v.7h-.7zM40.3,51.7h.7v.7h-.7zM63.7,50.9h.7v.7h-.7zM51.8,40.6h.7v.7h-.7zM46.0,16.2h.7v.7h-.7zM53.9,54.4h.7v.7h-.7zM40.6,57.1h.7v.7h-.7zM56.2,29.2h.7v.7h-.7zM31.1,34.6h.7v.7h-.7zM50.2,31.8h.7v.7h-.7zM72.3,43.4h.7v.7h-.7zM54.8,14.5h.7v.7h-.7zM50.1,57.2h.7v.7h-.7zM74.5,47.7h.7v.7h-.7zM78.7,41.1h.7v.7h-.7zM56.8,61.4h.7v.7h-.7zM56.7,64.8h.7v.7h-.7zM71.7,47.5h.7v.7h-.7zM39.2,74.5h.7v.7h-.7zM43.5,42.1h.7v.7h-.7zM76.5,51.4h.7v.7h-.7zM38.8,38.2h.7v.7h-.7zM80.6,48.0h.7v.7h-.7zM60.6,53.3h.7v.7h-.7zM62.3,49.4h.7v.7h-.7zM47.9,51.3h.7v.7h-.7zM47.5,49.0h.7v.7h-.7zM69.7,35.3h.7v.7h-.7zM46.0,56.5h.7v.7h-.7zM53.7,45.0h.7v.7h-.7zM36.8,32.4h.7v.7h-.7zM43.5,30.2h.7v.7h-.7zM59.8,35.7h.7v.7h-.7zM41.1,46.4h.7v.7h-.7zM64.2,45.1h.7v.7h-.7zM42.5,74.1h.7v.7h-.7zM31.9,16.2h.7v.7h-.7zM23.5,61.4h.7v.7h-.7zM54.5,46.1h.7v.7h-.7zM27.6,47.7h.7v.7h-.7zM41.5,47.8h.7v.7h-.7zM30.2,45.7h.7v.7h-.7zM55.0,49.9h.7v.7h-.7zM44.8,64.1h.7v.7h-.7zM53.6,63.0h.7v.7h-.7zM41.6,41.3h.7v.7h-.7zM44.4,46.9h.7v.7h-.7zM66.4,47.6h.7v.7h-.7zM45.8,51.4h.7v.7h-.7zM48.4,38.8h.7v.7h-.7zM49.2,53.9h.7v.7h-.7zM72.3,60.3h.7v.7h-.7zM42.2,42.5h.7v.7h-.7zM61.1,57.2h.7v.7h-.7zM71.5,51.6h.7v.7h-.7zM36.3,32.2h.7v.7h-.7zM25.8,74.1h.7v.7h-.7zM37.1,79.3h.7v.7h-.7zM49.2,50.6h.7v.7h-.7zM49.9,45.7h.7v.7h-.7zM64.5,45.3h.7v.7h-.7zM39.1,40.8h.7v.7h-.7zM29.6,77.8h.7v.7h-.7zM48.9,56.5h.7v.7h-.7zM60.8,51.4h.7v.7h-.7zM76.5,57.4h.7v.7h-.7zM56.3,52.0h.7v.7h-.7zM69.1,43.7h.7v.7h-.7zM40.7,55.1h.7v.7h-.7zM30.1,46.8h.7v.7h-.7zM62.6,50.7h.7v.7h-.7zM65.4,56.8h.7v.7h-.7zM47.6,28.9h.7v.7h-.7zM49.3,58.3h.7v.7h-.7zM63.2,47.5h.7v.7h-.7zM69.6,40.7h.7v.7h-.7zM62.1,55.6h.7v.7h-.7zM82.0,59.2h.7v.7h-.7zM39.1,27.3h.7v.7h-.7zM67.0,44.1h.7v.7h-.7zM63.8,42.6h.7v.7h-.7zM47.2,59.5h.7v.7h-.7zM43.8,54.4h.7v.7h-.7zM39.4,55.7h.7v.7h-.7zM80.8,48.5h.7v.7h-.7zM44.7,34.7h.7v.7h-.7zM50.7,34.4h.7v.7h-.7zM31.6,45.2h.7v.7h-.7zM60.8,42.0h.7v.7h-.7zM36.2,78.7h.7v.7h-.7zM70.2,58.3h.7v.7h-.7zM21.9,33.7h.7v.7h-.7zM90.4,47.6h.7v.7h-.7zM60.1,46.0h.7v.7h-.7zM81.4,49.1h.7v.7h-.7zM45.9,35.5h.7v.7h-.7zM42.7,42.4h.7v.7h-.7zM82.5,52.1h.7v.7h-.7zM45.4,43.4h.7v.7h-.7zM40.6,15.0h.7v.7h-.7zM41.7,74.8h.7v.7h-.7zM56.5,11.5h.7v.7h-.7zM40.8,15.5h.7v.7h-.7zM36.6,78.3h.7v.7h-.7zM80.7,46.2h.7v.7h-.7zM38.9,72.1h.7v.7h-.7zM52.6,41.7h.7v.7h-.7zM78.4,50.6h.7v.7h-.7zM54.9,66.4h.7v.7h-.7zM69.8,40.5h.7v.7h-.7zM55.5,39.8h.7v.7h-.7zM42.5,56.3h.7v.7h-.7zM53.3,49.8h.7v.7h-.7zM58.6,50.8h.7v.7h-.7zM55.6,25.5h.7v.7h-.7zM40.4,39.7h.7v.7h-.7zM53.9,48.1h.7v.7h-.7zM90.5,34.1h.7v.7h-.7zM61.0,48.2h.7v.7h-.7zM46.3,54.6h.7v.7h-.7zM68.0,57.0h.7v.7h-.7zM67.1,44.2h.7v.7h-.7zM60.4,46.6h.7v.7h-.7zM53.7,52.0h.7v.7h-.7zM59.6,51.0h.7v.7h-.7zM45.4,40.3h.7v.7h-.7zM67.5,58.0h.7v.7h-.7zM50.4,53.0h.7v.7h-.7zM54.4,13.2h.7v.7h-.7zM56.6,42.9h.7v.7h-.7zM41.4,37.1h.7v.7h-.7zM63.0,70.8h.7v.7h-.7zM67.9,42.8h.7v.7h-.7zM55.1,43.3h.7v.7h-.7zM49.6,38.4h.7v.7h-.7zM57.6,35.1h.7v.7h-.7zM49.7,15.7h.7v.7h-.7zM36.3,29.3h.7v.7h-.7zM69.2,41.7h.7v.7h-.7zM48.5,56.3h.7v.7h-.7zM42.7,38.1h.7v.7h-.7zM47.9,51.3h.7v.7h-.7zM22.8,56.7h.7v.7h-.7zM73.6,56.4h.7v.7h-.7zM69.7,63.4h.7v.7h-.7zM56.0,48.8h.7v.7h-.7zM52.5,38.0h.7v.7h-.7zM52.8,46.1h.7v.7h-.7zM53.6,49.9h.7v.7h-.7zM49.2,37.4h.7v.7h-.7zM22.4,62.1h.7v.7h-.7zM47.7,63.0h.7v.7h-.7zM55.8,55.8h.7v.7h-.7zM68.0,54.7h.7v.7h-.7zM65.4,39.7h.7v.7h-.7zM47.1,28.0h.7v.7h-.7zM50.4,53.4h.7v.7h-.7zM64.4,30.7h.7v.7h-.7zM40.7,61.9h.7v.7h-.7zM57.8,50.9h.7v.7h-.7zM62.8,33.2h.7v.7h-.7zM44.3,40.2h.7v.7h-.7zM65.6,53.6h.7v.7h-.7zM49.2,43.6h.7v.7h-.7zM46.7,35.4h.7v.7h-.7zM54.0,23.5h.7v.7h-.7zM65.9,62.8h.7v.7h-.7zM87.5,40.9h.7v.7h-.7zM69.7,43.9h.7v.7h-.7zM66.6,47.4h.7v.7h-.7zM29.7,79.5h.7v.7h-.7zM52.4,37.3h.7v.7h-.7zM61.7,46.7h.7v.7h-.7zM30.7,77.8h.7v.7h-.7zM63.3,48.3h.7v.7h-.7zM47.3,50.8h.7v.7h-.7zM48.9,32.7h.7v.7h-.7zM65.7,56.9h.7v.7h-.7zM40.1,71.0h.7v.7h-.7zM68.8,43.4h.7v.7h-.7zM72.8,43.7h.7v.7h-.7zM82.0,53.0h.7v.7h-.7zM51.2,44.2h.7v.7h-.7zM33.1,45.2h.7v.7h-.7zM39.3,72.2h.7v.7h-.7zM58.2,53.8h.7v.7h-.7zM43.9,34.7h.7v.7h-.7zM56.2,48.6h.7v.7h-.7zM40.8,57.0h.7v.7h-.7zM69.1,49.7h.7v.7h-.7zM42.5,47.6h.7v.7h-.7zM51.5,68.8h.7v.7h-.7zM34.3,46.8h.7v.7h-.7zM61.7,46.4h.7v.7h-.7zM52.0,39.9h.7v.7h-.7zM64.6,52.5h.7v.7h-.7zM66.6,61.0h.7v.7h-.7zM81.9,52.5h.7v.7h-.7zM64.9,46.0h.7v.7h-.7zM77.4,45.1h.7v.7h-.7zM47.0,16.2h.7v.7h-.7zM36.5,40.8h.7v.7h-.7zM40.1,68.0h.7v.7h-.7zM58.9,42.0h.7v.7h-.7zM43.3,47.5h.7v.7h-.7zM58.5,44.0h.7v.7h-.7zM32.5,78.8h.7v.7h-.7zM53.7,46.5h.7v.7h-.7zM44.8,60.0h.7v.7h-.7zM57.9,11.0h.7v.7h-.7zM55.1,44.5h.7v.7h-.7zM61.7,55.6h.7v.7h-.7zM63.6,52.6h.7v.7h-.7zM44.4,27.8h.7v.7h-.7zM61.8,53.4h.7v.7h-.7zM50.8,47.5h.7v.7h-.7zM40.7,60.7h.7v.7h-.7zM41.9,63.8h.7v.7h-.7zM57.2,50.5h.7v.7h-.7zM37.9,74.6h.7v.7h-.7zM21.5,51.6h.7v.7h-.7zM66.8,62.6h.7v.7h-.7zM59.8,48.8h.7v.7h-.7zM48.3,64.1h.7v.7h-.7zM41.6,42.3h.7v.7h-.7zM44.6,38.6h.7v.7h-.7zM70.7,67.6h.7v.7h-.7zM80.1,34.2h.7v.7h-.7zM41.5,58.2h.7v.7h-.7zM29.2,81.5h.7v.7h-.7zM62.0,47.9h.7v.7h-.7zM46.0,48.9h.7v.7h-.7zM27.2,77.3h.7v.7h-.7zM46.2,50.1h.7v.7h-.7zM69.7,59.6h.7v.7h-.7zM52.8,58.9h.7v.7h-.7zM89.7,52.4h.7v.7h-.7zM52.3,54.1h.7v.7h-.7zM60.5,13.9h.7v.7h-.7zM80.5,41.4h.7v.7h-.7zM49.7,39.4h.7v.7h-.7zM63.0,56.1h.7v.7h-.7zM31.8,34.7h.7v.7h-.7zM72.8,40.1h.7v.7h-.7zM61.7,20.3h.7v.7h-.7zM71.7,38.3h.7v.7h-.7zM66.6,57.2h.7v.7h-.7zM54.9,59.4h.7v.7h-.7zM43.0,51.7h.7v.7h-.7zM67.3,56.7h.7v.7h-.7zM61.8,61.4h.7v.7h-.7zM59.8,57.4h.7v.7h-.7zM64.2,42.4h.7v.7h-.7zM50.8,32.3h.7v.7h-.7zM71.7,61.2h.7v.7h-.7zM46.1,60.0h.7v.7h-.7zM37.6,76.5h.7v.7h-.7zM70.3,27.0h.7v.7h-.7zM74.9,41.5h.7v.7h-.7zM31.1,45.9h.7v.7h-.7zM58.0,22.6h.7v.7h-.7zM64.3,52.8h.7v.7h-.7zM23.7,57.8h.7v.7h-.7zM73.5,42.9h.7v.7h-.7zM60.9,23.1h.7v.7h-.7zM57.1,59.1h.7v.7h-.7zM73.9,51.8h.7v.7h-.7zM65.2,56.5h.7v.7h-.7zM42.5,68.3h.7v.7h-.7zM54.3,50.9h.7v.7h-.7zM69.8,52.5h.7v.7h-.7zM54.7,54.5h.7v.7h-.7zM39.5,44.4h.7v.7h-.7zM56.3,55.3h.7v.7h-.7zM59.5,39.0h.7v.7h-.7zM46.3,33.4h.7v.7h-.7zM58.9,44.6h.7v.7h-.7zM40.1,57.6h.7v.7h-.7zM51.5,33.4h.7v.7h-.7zM36.4,48.5h.7v.7h-.7zM35.9,41.7h.7v.7h-.7zM43.1,38.4h.7v.7h-.7zM23.3,59.6h.7v.7h-.7zM65.9,41.0h.7v.7h-.7zM38.6,76.9h.7v.7h-.7zM55.4,50.4h.7v.7h-.7zM75.4,52.4h.7v.7h-.7zM40.0,45.3h.7v.7h-.7zM57.0,40.4h.7v.7h-.7zM64.4,39.1h.7v.7h-.7zM38.9,81.6h.7v.7h-.7zM40.8,67.7h.7v.7h-.7zM59.8,49.8h.7v.7h-.7zM49.4,46.2h.7v.7h-.7zM44.1,44.9h.7v.7h-.7zM66.3,67.1h.7v.7h-.7zM35.5,78.3h.7v.7h-.7zM50.7,59.4h.7v.7h-.7zM77.5,52.7h.7v.7h-.7zM42.5,44.6h.7v.7h-.7zM60.8,57.5h.7v.7h-.7zM42.7,78.1h.7v.7h-.7zM56.7,49.1h.7v.7h-.7zM49.2,38.1h.7v.7h-.7zM49.6,36.7h.7v.7h-.7zM38.4,40.3h.7v.7h-.7zM38.9,14.3h.7v.7h-.7zM31.1,36.3h.7v.7h-.7zM22.8,36.0h.7v.7h-.7zM41.1,34.2h.7v.7h-.7zM34.6,83.4h.7v.7h-.7zM33.0,81.6h.7v.7h-.7zM41.6,54.6h.7v.7h-.7zM46.3,31.0h.7v.7h-.7zM61.4,50.9h.7v.7h-.7zM51.2,39.2h.7v.7h-.7zM53.9,45.1h.7v.7h-.7zM43.7,28.4h.7v.7h-.7zM69.8,67.9h.7v.7h-.7zM57.8,11.8h.7v.7h-.7zM49.1,39.4h.7v.7h-.7zM75.9,60.9h.7v.7h-.7zM61.8,45.4h.7v.7h-.7zM36.5,39.4h.7v.7h-.7zM38.4,23.5h.7v.7h-.7zM64.4,48.8h.7v.7h-.7zM68.2,50.9h.7v.7h-.7zM63.2,46.8h.7v.7h-.7zM30.4,82.6h.7v.7h-.7zM25.1,74.9h.7v.7h-.7zM39.4,22.0h.7v.7h-.7zM39.5,70.8h.7v.7h-.7zM45.7,17.3h.7v.7h-.7zM64.3,58.4h.7v.7h-.7zM56.3,38.0h.7v.7h-.7zM72.2,46.7h.7v.7h-.7zM58.2,44.7h.7v.7h-.7zM26.0,50.5h.7v.7h-.7zM23.2,39.7h.7v.7h-.7zM86.4,37.6h.7v.7h-.7zM44.9,36.4h.7v.7h-.7zM76.3,39.7h.7v.7h-.7zM36.9,44.8h.7v.7h-.7zM85.7,57.8h.7v.7h-.7zM27.4,77.2h.7v.7h-.7zM40.9,63.7h.7v.7h-.7zM61.9,49.0h.7v.7h-.7zM39.4,78.3h.7v.7h-.7zM57.5,39.5h.7v.7h-.7zM46.6,45.1h.7v.7h-.7zM38.8,34.7h.7v.7h-.7zM37.0,51.7h.7v.7h-.7zM59.1,41.0h.7v.7h-.7zM38.2,75.8h.7v.7h-.7zM50.1,41.1h.7v.7h-.7zM40.0,59.9h.7v.7h-.7zM69.4,43.2h.7v.7h-.7zM82.6,28.8h.7v.7h-.7zM48.6,46.9h.7v.7h-.7zM79.3,50.0h.7v.7h-.7zM39.3,84.3h.7v.7h-.7zM32.2,79.2h.7v.7h-.7zM65.8,59.2h.7v.7h-.7zM56.7,51.6h.7v.7h-.7zM46.7,39.8h.7v.7h-.7zM52.1,30.6h.7v.7h-.7zM57.8,53.4h.7v.7h-.7zM55.3,24.5h.7v.7h-.7zM47.7,49.0h.7v.7h-.7zM45.4,37.6h.7v.7h-.7zM67.9,55.3h.7v.7h-.7zM58.4,61.2h.7v.7h-.7zM57.6,66.5h.7v.7h-.7zM43.2,58.4h.7v.7h-.7zM48.5,45.9h.7v.7h-.7zM69.7,47.0h.7v.7h-.7zM45.9,27.9h.7v.7h-.7zM49.7,46.6h.7v.7h-.7zM36.0,78.0h.7v.7h-.7zM51.3,14.5h.7v.7h-.7zM58.2,49.9h.7v.7h-.7zM46.3,34.5h.7v.7h-.7zM56.2,54.6h.7v.7h-.7zM55.4,55.6h.7v.7h-.7zM53.6,62.5h.7v.7h-.7zM53.6,60.5h.7v.7h-.7zM56.8,52.0h.7v.7h-.7zM47.6,36.0h.7v.7h-.7zM52.6,39.5h.7v.7h-.7zM58.9,48.3h.7v.7h-.7zM40.1,57.5h.7v.7h-.7zM24.0,72.6h.7v.7h-.7zM59.2,43.5h.7v.7h-.7zM69.4,44.8h.7v.7h-.7zM63.3,50.8h.7v.7h-.7zM44.1,25.8h.7v.7h-.7zM61.4,46.6h.7v.7h-.7zM50.8,39.4h.7v.7h-.7zM40.1,56.5h.7v.7h-.7zM55.5,54.1h.7v.7h-.7zM60.5,64.0h.7v.7h-.7zM58.5,54.9h.7v.7h-.7zM48.8,50.4h.7v.7h-.7zM38.9,78.0h.7v.7h-.7zM40.6,40.9h.7v.7h-.7zM36.4,76.5h.7v.7h-.7zM51.7,60.0h.7v.7h-.7zM39.1,74.1h.7v.7h-.7zM65.3,49.0h.7v.7h-.7zM49.4,49.3h.7v.7h-.7zM59.3,70.1h.7v.7h-.7zM64.9,32.3h.7v.7h-.7zM23.1,57.7h.7v.7h-.7zM52.2,49.3h.7v.7h-.7zM45.6,36.7h.7v.7h-.7zM65.3,57.1h.7v.7h-.7zM69.6,42.7h.7v.7h-.7zM56.2,38.2h.7v.7h-.7zM72.9,36.2h.7v.7h-.7zM28.9,77.7h.7v.7h-.7zM78.5,47.8h.7v.7h-.7zM37.4,39.4h.7v.7h-.7zM34.5,29.7h.7v.7h-.7zM58.7,52.5h.7v.7h-.7zM40.3,75.9h.7v.7h-.7zM68.2,44.1h.7v.7h-.7zM38.2,39.4h.7v.7h-.7zM58.9,45.8h.7v.7h-.7zM61.0,44.9h.7v.7h-.7zM70.5,41.0h.7v.7h-.7zM57.1,53.6h.7v.7h-.7zM73.4,44.3h.7v.7h-.7zM66.8,50.4h.7v.7h-.7zM57.4,48.8h.7v.7h-.7zM52.4,48.6h.7v.7h-.7zM61.3,25.5h.7v.7h-.7zM61.8,36.0h.7v.7h-.7zM60.7,46.4h.7v.7h-.7zM72.0,31.6h.7v.7h-.7zM78.9,36.1h.7v.7h-.7zM65.5,59.9h.7v.7h-.7zM68.3,43.6h.7v.7h-.7zM51.0,67.2h.7v.7h-.7zM80.4,50.6h.7v.7h-.7zM31.0,90.0h.7v.7h-.7zM61.1,43.4h.7v.7h-.7zM33.7,84.6h.7v.7h-.7zM49.1,28.0h.7v.7h-.7zM46.8,41.3h.7v.7h-.7zM45.1,37.0h.7v.7h-.7zM63.8,45.2h.7v.7h-.7zM70.1,58.5h.7v.7h-.7zM70.8,58.2h.7v.7h-.7zM26.6,75.8h.7v.7h-.7zM48.5,46.7h.7v.7h-.7zM54.4,34.0h.7v.7h-.7zM59.1,35.3h.7v.7h-.7zM75.9,51.3h.7v.7h-.7zM56.5,39.2h.7v.7h-.7zM53.8,55.4h.7v.7h-.7zM50.3,35.0h.7v.7h-.7zM41.9,62.2h.7v.7h-.7zM46.0,59.5h.7v.7h-.7zM43.3,41.0h.7v.7h-.7zM48.4,50.1h.7v.7h-.7zM54.8,59.3h.7v.7h-.7zM72.1,46.0h.7v.7h-.7zM55.0,37.2h.7v.7h-.7zM54.2,44.5h.7v.7h-.7zM12.9,57.8h.7v.7h-.7zM46.3,64.5h.7v.7h-.7zM63.2,48.5h.7v.7h-.7zM27.7,75.7h.7v.7h-.7zM67.9,54.7h.7v.7h-.7zM76.8,46.3h.7v.7h-.7zM39.4,39.3h.7v.7h-.7zM55.4,41.6h.7v.7h-.7zM64.1,53.8h.7v.7h-.7zM47.6,17.0h.7v.7h-.7zM46.0,28.5h.7v.7h-.7zM70.3,41.8h.7v.7h-.7zM42.8,46.2h.7v.7h-.7zM52.7,10.9h.7v.7h-.7zM46.1,51.3h.7v.7h-.7zM82.4,46.0h.7v.7h-.7zM67.7,58.3h.7v.7h-.7zM65.7,39.8h.7v.7h-.7zM46.8,57.5h.7v.7h-.7zM79.3,48.2h.7v.7h-.7zM64.4,42.7h.7v.7h-.7zM38.1,74.4h.7v.7h-.7zM69.5,53.6h.7v.7h-.7zM52.7,26.3h.7v.7h-.7zM50.1,41.0h.7v.7h-.7zM52.0,61.0h.7v.7h-.7zM51.6,41.7h.7v.7h-.7zM63.4,47.8h.7v.7h-.7zM58.1,29.0h.7v.7h-.7zM72.9,53.6h.7v.7h-.7zM41.6,65.0h.7v.7h-.7zM52.0,55.4h.7v.7h-.7zM44.5,31.8h.7v.7h-.7zM59.3,45.3h.7v.7h-.7zM50.9,36.2h.7v.7h-.7zM26.8,77.2h.7v.7h-.7zM39.6,36.9h.7v.7h-.7zM78.0,48.6h.7v.7h-.7zM59.7,56.5h.7v.7h-.7zM54.9,62.7h.7v.7h-.7zM42.0,67.6h.7v.7h-.7zM53.6,45.1h.7v.7h-.7zM67.9,34.9h.7v.7h-.7zM50.5,37.2h.7v.7h-.7zM56.2,50.3h.7v.7h-.7zM50.6,60.0h.7v.7h-.7zM56.2,57.4h.7v.7h-.7zM34.7,47.3h.7v.7h-.7zM48.4,26.1h.7v.7h-.7zM74.9,60.1h.7v.7h-.7zM53.8,50.7h.7v.7h-.7zM61.9,46.7h.7v.7h-.7zM72.1,36.9h.7v.7h-.7zM46.7,28.8h.7v.7h-.7zM69.5,48.1h.7v.7h-.7zM77.4,43.7h.7v.7h-.7zM45.9,40.0h.7v.7h-.7zM52.0,33.5h.7v.7h-.7zM43.7,37.2h.7v.7h-.7zM38.7,73.4h.7v.7h-.7zM48.1,52.3h.7v.7h-.7zM52.4,49.8h.7v.7h-.7zM27.7,45.2h.7v.7h-.7zM48.7,68.2h.7v.7h-.7zM55.3,57.4h.7v.7h-.7zM57.7,38.3h.7v.7h-.7zM54.7,23.4h.7v.7h-.7zM61.9,13.5h.7v.7h-.7zM64.4,43.0h.7v.7h-.7zM54.9,54.9h.7v.7h-.7zM39.5,71.0h.7v.7h-.7zM57.4,41.7h.7v.7h-.7zM29.4,78.4h.7v.7h-.7zM75.5,49.8h.7v.7h-.7zM40.2,43.2h.7v.7h-.7zM78.7,59.9h.7v.7h-.7zM56.3,23.1h.7v.7h-.7zM43.3,40.5h.7v.7h-.7zM45.3,56.4h.7v.7h-.7zM57.8,39.9h.7v.7h-.7zM49.8,41.7h.7v.7h-.7zM66.8,45.9h.7v.7h-.7zM63.5,46.1h.7v.7h-.7zM51.5,74.6h.7v.7h-.7zM55.2,52.9h.7v.7h-.7zM57.1,63.0h.7v.7h-.7zM56.8,55.6h.7v.7h-.7zM71.3,45.4h.7v.7h-.7zM59.8,65.7h.7v.7h-.7zM47.9,37.3h.7v.7h-.7zM42.4,44.0h.7v.7h-.7zM55.7,50.0h.7v.7h-.7zM40.1,59.8h.7v.7h-.7zM28.4,85.7h.7v.7h-.7zM53.6,30.1h.7v.7h-.7zM59.2,43.5h.7v.7h-.7zM54.8,47.3h.7v.7h-.7zM56.4,23.9h.7v.7h-.7zM53.3,36.8h.7v.7h-.7zM36.8,48.8h.7v.7h-.7zM44.9,51.3h.7v.7h-.7zM54.4,43.2h.7v.7h-.7zM79.1,55.1h.7v.7h-.7zM56.2,33.0h.7v.7h-.7zM48.6,42.1h.7v.7h-.7zM42.0,37.0h.7v.7h-.7zM69.2,58.3h.7v.7h-.7zM60.4,65.9h.7v.7h-.7zM52.4,47.8h.7v.7h-.7zM43.4,28.1h.7v.7h-.7zM31.3,77.7h.7v.7h-.7zM72.7,45.4h.7v.7h-.7zM51.4,27.3h.7v.7h-.7zM27.3,49.1h.7v.7h-.7zM60.9,46.1h.7v.7h-.7zM58.4,44.7h.7v.7h-.7zM64.9,54.1h.7v.7h-.7zM67.3,49.2h.7v.7h-.7zM33.3,81.6h.7v.7h-.7zM62.5,16.9h.7v.7h-.7zM53.5,61.8h.7v.7h-.7zM43.3,62.5h.7v.7h-.7zM37.9,79.3h.7v.7h-.7zM64.6,55.8h.7v.7h-.7zM34.0,77.6h.7v.7h-.7zM52.7,37.8h.7v.7h-.7zM23.0,56.1h.7v.7h-.7zM62.4,58.1h.7v.7h-.7zM69.6,54.7h.7v.7h-.7zM36.1,31.1h.7v.7h-.7zM51.2,51.2h.7v.7h-.7zM85.5,43.4h.7v.7h-.7zM37.4,35.3h.7v.7h-.7zM56.0,44.4h.7v.7h-.7zM62.6,51.4h.7v.7h-.7zM58.2,52.6h.7v.7h-.7zM47.9,46.9h.7v.7h-.7zM63.3,50.0h.7v.7h-.7zM73.7,49.3h.7v.7h-.7zM43.8,32.7h.7v.7h-.7zM46.0,47.2h.7v.7h-.7zM51.3,25.6h.7v.7h-.7zM35.3,25.4h.7v.7h-.7zM54.1,48.0h.7v.7h-.7zM61.7,44.3h.7v.7h-.7zM22.7,64.4h.7v.7h-.7zM67.9,52.9h.7v.7h-.7zM32.7,28.1h.7v.7h-.7zM51.9,37.9h.7v.7h-.7zM62.7,49.0h.7v.7h-.7zM42.4,66.1h.7v.7h-.7zM81.9,54.2h.7v.7h-.7zM43.3,40.3h.7v.7h-.7zM63.6,57.5h.7v.7h-.7zM39.6,47.7h.7v.7h-.7zM42.7,51.9h.7v.7h-.7zM79.7,50.8h.7v.7h-.7zM66.5,51.5h.7v.7h-.7zM36.4,15.3h.7v.7h-.7zM42.4,43.7h.7v.7h-.7zM55.3,13.0h.7v.7h-.7zM67.2,54.8h.7v.7h-.7zM37.6,26.7h.7v.7h-.7zM26.3,53.3h.7v.7h-.7zM74.9,68.3h.7v.7h-.7zM51.3,46.5h.7v.7h-.7zM79.7,38.1h.7v.7h-.7zM39.2,80.5h.7v.7h-.7zM40.7,66.3h.7v.7h-.7zM39.9,39.9h.7v.7h-.7zM26.5,83.4h.7v.7h-.7zM48.9,59.6h.7v.7h-.7zM75.1,64.1h.7v.7h-.7zM32.8,38.1h.7v.7h-.7zM68.5,44.0h.7v.7h-.7zM48.3,59.1h.7v.7h-.7zM31.0,40.2h.7v.7h-.7zM62.9,47.8h.7v.7h-.7zM38.9,15.4h.7v.7h-.7zM40.6,62.3h.7v.7h-.7zM55.6,48.3h.7v.7h-.7zM23.0,59.7h.7v.7h-.7zM48.2,29.9h.7v.7h-.7zM64.0,39.4h.7v.7h-.7zM52.2,38.8h.7v.7h-.7zM28.7,79.7h.7v.7h-.7zM92.4,60.3h.7v.7h-.7zM59.1,12.6h.7v.7h-.7zM72.4,57.8h.7v.7h-.7zM44.2,51.1h.7v.7h-.7zM54.0,28.7h.7v.7h-.7zM45.5,16.5h.7v.7h-.7zM66.8,63.2h.7v.7h-.7zM28.8,46.3h.7v.7h-.7zM37.6,76.6h.7v.7h-.7zM47.8,47.7h.7v.7h-.7zM62.7,16.0h.7v.7h-.7zM41.3,63.7h.7v.7h-.7zM83.7,44.7h.7v.7h-.7zM61.7,32.2h.7v.7h-.7zM65.5,37.0h.7v.7h-.7zM47.3,45.6h.7v.7h-.7zM48.3,41.8h.7v.7h-.7zM74.2,40.7h.7v.7h-.7zM66.1,45.3h.7v.7h-.7zM50.3,47.8h.7v.7h-.7zM41.4,38.4h.7v.7h-.7zM69.2,58.1h.7v.7h-.7zM48.8,44.4h.7v.7h-.7zM56.2,44.9h.7v.7h-.7zM78.5,67.2h.7v.7h-.7zM51.8,62.9h.7v.7h-.7zM43.0,57.8h.7v.7h-.7zM32.3,87.5h.7v.7h-.7zM63.4,46.3h.7v.7h-.7zM45.4,26.3h.7v.7h-.7zM79.8,52.0h.7v.7h-.7zM24.3,57.6h.7v.7h-.7zM72.3,44.4h.7v.7h-.7zM65.1,50.3h.7v.7h-.7zM25.0,54.2h.7v.7h-.7zM33.1,44.1h.7v.7h-.7zM53.7,23.8h.7v.7h-.7zM44.4,43.5h.7v.7h-.7zM39.2,72.4h.7v.7h-.7zM78.2,43.0h.7v.7h-.7zM67.5,50.9h.7v.7h-.7zM49.6,50.9h.7v.7h-.7zM50.3,48.1h.7v.7h-.7zM49.0,16.1h.7v.7h-.7zM57.5,55.8h.7v.7h-.7zM42.4,31.5h.7v.7h-.7zM53.9,53.2h.7v.7h-.7zM67.2,58.0h.7v.7h-.7zM45.8,41.6h.7v.7h-.7zM56.1,44.9h.7v.7h-.7zM84.3,39.7h.7v.7h-.7zM43.4,37.7h.7v.7h-.7zM62.9,46.4h.7v.7h-.7zM41.6,37.5h.7v.7h-.7zM46.9,40.0h.7v.7h-.7zM67.4,44.3h.7v.7h-.7zM54.6,47.2h.7v.7h-.7zM37.0,51.1h.7v.7h-.7zM55.1,46.9h.7v.7h-.7zM65.1,46.1h.7v.7h-.7zM24.2,73.8h.7v.7h-.7zM55.6,48.9h.7v.7h-.7zM29.9,77.7h.7v.7h-.7zM47.1,28.1h.7v.7h-.7zM74.3,47.7h.7v.7h-.7zM52.2,48.4h.7v.7h-.7zM78.3,51.6h.7v.7h-.7zM57.8,52.8h.7v.7h-.7zM54.0,59.3h.7v.7h-.7zM53.7,53.1h.7v.7h-.7zM57.9,73.2h.7v.7h-.7zM50.1,43.6h.7v.7h-.7zM57.7,48.6h.7v.7h-.7zM70.4,44.7h.7v.7h-.7z" fill="#a4a4a4"/>
<path d="M27.8,41.3 26.8,41.3 26.2,41.2 25.2,41.1 24.5,40.8 23.8,40.2 23.3,39.8 23.1,39.2 22.8,38.2 22.8,37.2 22.8,36.2 22.9,35.2 23.0,34.2 23.2,33.2 23.3,32.8 23.4,31.8 23.5,30.8 23.8,29.9 23.9,29.2 24.2,28.2 24.3,27.8 24.6,26.8 24.8,26.2 25.2,25.2 25.4,24.8 25.8,23.9 26.1,23.2 26.4,22.8 26.8,22.2 27.2,21.6 27.8,20.9 28.2,20.3 28.8,19.8 29.2,19.4 29.8,18.9 30.2,18.4 30.8,17.9 31.2,17.5 31.8,17.1 32.4,16.8 33.2,16.3 33.8,16.0 34.8,15.8 35.8,15.8 36.8,15.9 37.8,16.2 38.2,16.3 39.2,16.4 40.2,16.4 41.2,16.5 42.2,16.6 43.2,16.7 43.8,16.8 44.8,17.0 45.4,17.2 46.2,17.4 47.2,17.4 47.8,17.2 48.6,16.8 49.2,16.2 49.8,15.9 50.2,15.7 51.2,15.3 51.8,15.2 52.8,15.1 53.8,15.0 54.5,14.8 55.2,14.4 55.8,14.2 56.8,13.8 57.2,13.7 58.2,13.4 59.2,13.3 60.2,13.5 60.8,13.8 61.4,14.2 61.9,14.8 62.2,15.4 62.5,16.2 62.6,17.2 62.5,18.2 62.2,19.0 61.8,19.7 61.2,20.1 60.8,20.4 60.2,20.8 59.5,21.2 58.8,21.8 58.2,22.1 57.8,22.3 56.8,22.5 55.8,22.6 55.2,22.8 54.2,23.2 53.8,23.5 53.2,23.8 52.4,24.2 51.8,24.7 51.2,25.1 50.8,25.3 49.8,25.6 49.2,25.8 48.2,26.1 47.7,26.2 46.8,26.4 45.9,26.2 45.2,26.0 44.8,25.7 44.0,25.2 43.5,24.8 43.1,24.2 42.8,23.7 42.2,22.9 41.8,22.4 41.2,22.0 40.5,21.8 39.8,21.7 39.2,21.9 38.8,22.3 38.2,22.8 37.6,23.2 36.8,23.8 36.2,24.2 35.8,24.6 35.2,25.0 34.8,25.4 34.2,25.9 33.8,26.4 33.2,27.0 32.9,27.8 32.6,28.2 32.3,29.2 32.1,29.8 31.8,30.8 31.6,31.2 31.4,32.2 31.3,33.2 31.2,34.1 31.2,34.8 31.0,35.8 30.9,36.8 30.9,37.8 30.8,38.8 30.7,39.2 30.2,40.2 29.8,40.6 29.2,40.9 28.2,41.2 27.8,41.3ZM34.2,77.4 33.2,77.7 32.2,77.6 31.4,77.2 30.8,76.8 30.2,76.3 29.8,75.8 29.2,75.4 28.8,75.1 28.0,74.8 27.2,74.3 26.8,73.9 26.2,73.3 25.8,72.8 25.5,72.2 25.1,71.8 24.8,71.2 24.2,70.4 24.0,69.8 23.8,69.0 23.6,68.2 23.4,67.2 23.3,66.2 23.3,65.2 23.3,64.2 23.4,63.2 23.4,62.2 23.5,61.2 23.8,60.4 23.9,59.8 24.2,58.8 24.4,58.2 24.8,57.4 25.0,56.8 25.2,56.2 25.7,55.2 25.8,54.8 26.1,53.8 26.3,53.2 26.6,52.2 26.8,51.8 27.2,50.8 27.4,50.2 27.8,49.8 28.2,48.9 28.7,48.2 29.1,47.8 29.7,47.2 30.2,46.9 30.8,46.7 31.8,46.6 32.8,46.6 33.3,46.8 34.2,47.1 34.8,47.5 35.2,47.9 35.8,48.5 36.2,49.2 36.5,49.8 36.8,50.6 36.9,51.2 37.2,52.2 37.2,52.8 37.5,53.8 37.8,54.5 38.1,55.2 38.4,55.8 38.8,56.3 39.2,57.2 39.4,57.8 39.6,58.8 39.7,59.8 39.9,60.2 40.2,61.2 40.4,61.8 40.6,62.8 40.5,63.8 40.5,64.8 40.4,65.8 40.2,66.5 40.1,67.2 39.8,68.2 39.7,68.8 39.4,69.8 39.2,70.4 39.0,71.2 38.8,72.2 38.6,72.8 38.2,73.7 38.0,74.2 37.6,74.8 37.2,75.3 36.7,75.8 36.0,76.2 35.2,76.7 34.8,77.1 34.2,77.4Z" fill="#c4c4c4" stroke="#2e2e2e" stroke-width="0.75" fill-rule="evenodd"/>
<path d="M27.2,40.8 26.7,40.8 25.8,40.6 24.8,40.2 24.2,39.9 23.8,39.2 23.6,38.8 23.4,37.8 23.4,36.8 23.4,35.8 23.5,34.8 23.7,33.8 23.8,33.2 24.0,32.2 24.1,31.2 24.2,30.6 24.4,29.8 24.7,28.8 24.8,28.2 25.1,27.2 25.3,26.8 25.8,25.8 26.0,25.2 26.2,24.6 26.6,23.8 26.9,23.2 27.2,22.7 27.8,22.0 28.2,21.3 28.7,20.8 29.1,20.2 29.7,19.8 30.2,19.3 30.8,18.8 31.2,18.3 31.8,17.8 32.2,17.5 32.8,17.2 33.6,16.8 34.2,16.5 35.2,16.3 36.2,16.5 37.0,16.8 37.8,17.0 38.2,17.3 39.2,17.6 40.2,17.7 41.2,17.7 42.2,17.7 43.2,17.7 43.8,17.8 44.8,18.2 45.2,18.4 46.2,18.8 46.8,18.8 47.5,18.8 48.2,18.6 49.2,18.3 49.8,18.1 50.4,17.8 50.9,17.2 51.6,16.8 52.2,16.5 53.2,16.4 54.2,16.2 54.8,16.1 55.4,15.8 56.2,15.3 56.8,15.1 57.8,14.8 58.2,14.7 59.2,14.7 59.8,14.8 60.6,15.2 61.1,15.8 61.3,16.2 61.5,17.2 61.3,18.2 60.9,18.8 60.3,19.2 59.8,19.6 59.2,19.9 58.7,20.2 57.8,20.8 57.2,21.0 56.3,21.2 55.8,21.4 54.8,21.6 54.2,21.8 53.3,22.2 52.8,22.5 52.2,22.8 51.4,23.2 50.8,23.8 50.2,24.1 49.8,24.3 48.8,24.7 48.2,24.9 47.2,25.2 46.8,25.3 46.1,25.2 45.2,25.0 44.8,24.7 44.2,24.2 43.8,23.7 43.3,22.8 43.0,22.2 42.5,21.8 41.8,21.2 41.2,20.9 40.8,20.7 39.8,20.5 39.2,20.8 38.7,21.2 38.2,21.8 37.7,22.2 37.1,22.8 36.4,23.2 35.8,23.7 35.2,24.1 34.8,24.5 34.2,25.0 33.8,25.4 33.2,26.0 32.8,26.6 32.4,27.2 32.2,27.8 31.8,28.7 31.6,29.2 31.3,30.2 31.1,30.8 30.9,31.8 30.8,32.3 30.6,33.2 30.5,34.2 30.4,35.2 30.3,36.2 30.2,36.8 30.2,37.8 30.1,38.8 29.8,39.6 29.2,40.1 28.8,40.4 27.8,40.7 27.2,40.8ZM33.8,75.3 32.8,75.6 31.8,75.5 31.2,75.2 30.3,74.8 29.8,74.5 29.2,74.2 28.2,73.8 27.8,73.5 27.2,73.1 26.8,72.5 26.2,71.9 25.8,71.2 25.4,70.8 25.1,70.2 24.8,69.5 24.5,68.8 24.4,67.8 24.3,66.8 24.2,66.2 24.2,65.2 24.2,64.3 24.3,63.8 24.3,62.8 24.4,61.8 24.6,60.8 24.8,60.2 25.1,59.2 25.3,58.8 25.6,57.8 25.8,57.2 26.2,56.2 26.3,55.8 26.7,54.8 26.8,54.2 27.1,53.2 27.2,52.6 27.6,51.8 27.8,51.2 28.2,50.4 28.7,49.8 29.1,49.2 29.5,48.8 30.0,48.2 30.7,47.8 31.2,47.6 32.2,47.5 33.2,47.6 33.8,47.8 34.4,48.2 34.9,48.8 35.2,49.3 35.8,50.2 36.0,50.8 36.2,51.7 36.4,52.2 36.6,53.2 36.8,53.9 37.0,54.8 37.2,55.4 37.7,56.2 37.9,56.8 38.2,57.6 38.5,58.2 38.7,59.2 38.8,59.8 39.1,60.8 39.2,61.3 39.5,62.2 39.5,63.2 39.5,64.2 39.4,65.2 39.3,66.2 39.2,66.8 39.0,67.8 38.8,68.4 38.5,69.2 38.2,69.9 38.0,70.8 37.7,71.2 37.3,72.2 37.0,72.8 36.7,73.2 36.2,73.8 35.7,74.2 34.9,74.8 34.2,75.1 33.8,75.3Z" fill="#9c9c9c" stroke="#5a5a5a" stroke-width="0.4" fill-rule="evenodd"/>
<path d="M46.2,23.8 45.8,23.7 45.1,23.2 44.8,22.4 44.6,21.8 44.2,21.2 43.4,20.8 42.8,20.3 42.3,19.8 42.8,19.2 43.8,19.2 44.2,19.5 44.8,19.9 45.2,20.3 46.2,20.6 47.2,20.7 48.2,20.7 49.2,20.4 49.8,20.2 50.7,19.8 51.2,19.4 51.8,19.0 52.2,18.6 52.8,18.2 53.8,18.1 54.8,17.9 55.2,17.7 56.0,17.2 56.8,16.8 57.2,16.6 58.2,16.5 58.9,16.8 59.4,17.2 59.2,18.0 58.8,18.5 58.2,18.9 57.6,19.2 56.8,19.6 56.2,19.8 55.2,20.0 54.2,20.2 53.8,20.4 53.0,20.8 52.2,21.0 51.7,21.2 50.8,21.6 50.2,21.8 49.2,21.8 48.2,22.0 47.8,22.6 47.3,23.2 46.8,23.7 46.2,23.8ZM26.8,40.3 26.2,40.2 25.2,39.9 24.8,39.6 24.2,38.9 24.0,38.2 23.9,37.2 23.9,36.2 24.0,35.2 24.2,34.2 24.3,33.8 24.5,32.8 24.6,31.8 24.8,31.1 24.9,30.2 25.2,29.2 25.3,28.8 25.6,27.8 25.8,27.2 26.2,26.2 26.5,25.8 26.8,25.0 27.1,24.2 27.3,23.8 27.8,23.0 28.2,22.3 28.6,21.8 28.9,21.2 29.4,20.8 29.9,20.2 30.5,19.8 31.0,19.2 31.5,18.8 32.1,18.2 32.8,17.8 33.2,17.5 33.8,17.2 34.8,16.9 35.8,17.0 36.6,17.2 37.2,17.6 37.8,17.9 38.2,18.3 38.8,19.1 38.8,19.5 38.5,20.2 38.2,20.8 37.8,21.3 37.2,21.8 36.7,22.2 36.0,22.8 35.3,23.2 34.8,23.7 34.2,24.1 33.8,24.6 33.2,25.1 32.8,25.6 32.3,26.2 32.0,26.8 31.8,27.3 31.3,28.2 31.2,28.8 30.8,29.8 30.7,30.2 30.5,31.2 30.2,32.1 30.1,32.8 30.0,33.8 29.8,34.8 29.8,35.5 29.7,36.2 29.6,37.2 29.5,38.2 29.2,39.0 28.8,39.7 28.2,40.0 27.2,40.2 26.8,40.3ZM33.2,73.9 32.2,74.1 31.2,74.0 30.5,73.8 29.8,73.6 29.0,73.2 28.2,72.8 27.8,72.4 27.2,71.9 26.8,71.2 26.4,70.8 26.0,70.2 25.7,69.8 25.3,68.8 25.2,68.2 25.1,67.2 25.0,66.2 25.0,65.2 25.0,64.2 25.0,63.2 25.1,62.2 25.2,61.2 25.4,60.8 25.7,59.8 25.9,59.2 26.2,58.2 26.4,57.8 26.8,56.8 26.9,56.2 27.2,55.3 27.4,54.8 27.6,53.8 27.8,53.2 28.0,52.2 28.3,51.8 28.8,50.9 29.2,50.2 29.6,49.8 30.1,49.2 30.7,48.8 31.2,48.5 32.2,48.3 33.2,48.5 33.8,48.8 34.3,49.2 34.8,49.8 35.2,50.7 35.5,51.2 35.7,52.2 35.8,52.8 36.1,53.8 36.2,54.5 36.5,55.2 36.8,55.9 37.1,56.8 37.3,57.2 37.6,58.2 37.8,58.8 38.1,59.8 38.2,60.6 38.4,61.2 38.7,62.2 38.7,63.2 38.7,64.2 38.6,65.2 38.5,66.2 38.3,67.2 38.1,67.8 37.8,68.8 37.6,69.2 37.2,70.1 36.9,70.8 36.7,71.2 36.2,71.9 35.8,72.5 35.2,72.9 34.6,73.2 33.8,73.7 33.2,73.9Z" fill="#b2b2b2" stroke="#6a6a6a" stroke-width="0.35" fill-rule="evenodd"/>
<path d="M27.8,39.5 26.8,39.7 25.8,39.5 25.2,39.2 24.8,38.6 24.5,37.8 24.5,36.8 24.5,35.8 24.7,34.8 24.8,34.2 25.0,33.2 25.1,32.2 25.2,31.4 25.4,30.8 25.6,29.8 25.8,29.2 26.0,28.2 26.2,27.6 26.7,26.8 26.9,26.2 27.2,25.4 27.5,24.8 27.8,24.2 28.2,23.3 28.6,22.8 28.9,22.2 29.3,21.8 29.8,21.2 30.2,20.7 30.8,20.2 31.3,19.8 31.8,19.2 32.4,18.8 33.1,18.2 33.8,17.9 34.2,17.7 35.2,17.5 36.2,17.7 36.8,18.0 37.2,18.4 37.7,19.2 37.8,19.8 37.6,20.2 37.2,20.9 36.8,21.4 36.2,21.8 35.6,22.2 35.0,22.8 34.4,23.2 33.8,23.8 33.2,24.2 32.8,24.7 32.3,25.2 32.0,25.8 31.7,26.2 31.2,27.1 31.0,27.8 30.8,28.3 30.4,29.2 30.2,29.9 30.1,30.8 29.8,31.8 29.7,32.2 29.5,33.2 29.3,34.2 29.2,34.9 29.2,35.8 29.1,36.8 29.0,37.8 28.8,38.5 28.2,39.2 27.8,39.5ZM33.2,72.8 32.2,73.0 31.2,73.0 30.2,72.9 29.7,72.8 28.8,72.3 28.2,71.8 27.8,71.3 27.3,70.8 26.9,70.2 26.5,69.8 26.2,69.2 25.9,68.2 25.8,67.2 25.7,66.8 25.7,65.8 25.7,64.8 25.7,63.8 25.6,62.8 25.7,61.8 25.8,61.2 26.2,60.2 26.4,59.8 26.8,58.8 26.9,58.2 27.2,57.4 27.5,56.8 27.8,55.9 27.9,55.2 28.1,54.2 28.3,53.8 28.5,52.8 28.8,52.2 29.2,51.3 29.6,50.8 30.0,50.2 30.6,49.8 31.2,49.4 31.8,49.2 32.8,49.2 33.2,49.4 33.8,49.8 34.2,50.3 34.8,51.1 35.0,51.8 35.2,52.8 35.4,53.2 35.6,54.2 35.8,54.8 36.1,55.8 36.2,56.4 36.5,57.2 36.8,58.0 37.0,58.8 37.2,59.5 37.4,60.2 37.7,61.2 37.8,61.8 38.0,62.8 38.0,63.8 38.0,64.8 37.9,65.8 37.8,66.6 37.6,67.2 37.2,68.1 37.0,68.8 36.8,69.3 36.3,70.2 35.9,70.8 35.6,71.2 35.1,71.8 34.4,72.2 33.8,72.6 33.2,72.8Z" fill="#929292" stroke="#707070" stroke-width="0.35" fill-rule="evenodd"/>
<path d="M27.2,38.9 26.2,38.9 25.8,38.7 25.2,37.9 25.1,37.2 25.1,36.2 25.2,35.3 25.4,34.8 25.6,33.8 25.8,32.8 25.8,32.2 26.0,31.2 26.2,30.2 26.3,29.8 26.6,28.8 26.8,28.2 27.2,27.2 27.5,26.8 27.8,26.1 28.1,25.2 28.3,24.8 28.8,24.0 29.2,23.2 29.5,22.8 29.8,22.2 30.2,21.7 30.8,21.2 31.3,20.8 31.9,20.2 32.4,19.8 33.0,19.2 33.8,18.8 34.2,18.5 35.2,18.3 36.2,18.7 36.7,19.2 36.8,19.8 36.6,20.2 36.2,20.8 35.7,21.2 35.0,21.8 34.3,22.2 33.8,22.7 33.2,23.1 32.8,23.6 32.2,24.1 31.8,24.8 31.5,25.2 31.2,25.8 30.8,26.6 30.4,27.2 30.2,27.8 29.8,28.8 29.7,29.2 29.6,30.2 29.3,31.2 29.2,31.8 28.9,32.8 28.8,33.5 28.6,34.2 28.6,35.2 28.5,36.2 28.3,37.2 28.2,37.8 27.8,38.5 27.2,38.9ZM33.2,71.8 32.2,72.1 31.2,72.1 30.2,72.0 29.5,71.8 28.8,71.2 28.3,70.8 27.9,70.2 27.4,69.8 27.1,69.2 26.8,68.6 26.6,67.8 26.5,66.8 26.4,65.8 26.4,64.8 26.4,63.8 26.3,62.8 26.4,61.8 26.7,60.8 26.9,60.2 27.2,59.3 27.5,58.8 27.8,58.1 28.1,57.2 28.3,56.8 28.5,55.8 28.7,54.8 28.8,54.2 29.1,53.2 29.3,52.8 29.8,51.8 30.2,51.2 30.7,50.8 31.2,50.4 31.8,50.2 32.6,50.2 33.2,50.5 33.8,50.9 34.2,51.7 34.5,52.2 34.7,53.2 34.8,53.8 35.1,54.8 35.2,55.3 35.5,56.2 35.8,57.2 35.9,57.8 36.2,58.8 36.3,59.2 36.6,60.2 36.8,60.8 37.0,61.8 37.2,62.8 37.3,63.2 37.3,64.2 37.3,65.2 37.2,65.8 37.0,66.8 36.8,67.3 36.4,68.2 36.1,68.8 35.8,69.4 35.2,70.2 34.8,70.8 34.2,71.2 33.8,71.6 33.2,71.8Z" fill="#a8a8a8" stroke="#7a7a7a" stroke-width="0.32" fill-rule="evenodd"/>
<path d="M26.8,37.4 26.2,37.0 26.2,36.2 26.2,35.6 26.5,34.8 26.8,34.1 27.1,33.2 27.0,32.2 27.0,31.2 27.2,30.3 27.5,29.8 27.8,29.1 28.2,28.5 28.5,29.2 28.6,30.2 28.4,31.2 28.2,31.8 27.8,32.8 27.4,33.2 27.4,34.2 27.5,35.2 27.4,36.2 27.2,37.0 26.8,37.4ZM33.2,70.8 32.2,71.2 31.2,71.2 30.2,71.1 29.7,70.8 29.1,70.2 28.6,69.8 28.2,69.2 27.8,68.6 27.4,67.8 27.3,66.8 27.2,66.1 27.2,65.2 27.1,64.2 27.0,63.2 27.0,62.2 27.2,61.2 27.4,60.8 27.8,59.9 28.0,59.2 28.3,58.8 28.8,57.9 29.1,57.2 29.2,56.7 29.4,55.8 29.4,54.8 29.7,53.8 29.9,53.2 30.2,52.6 30.8,52.0 31.2,51.6 32.2,51.3 33.2,51.8 33.6,52.2 33.9,52.8 34.1,53.8 34.3,54.2 34.5,55.2 34.8,56.1 34.9,56.8 35.0,57.8 35.2,58.6 35.4,59.2 35.7,60.2 35.9,60.8 36.2,61.8 36.4,62.2 36.6,63.2 36.6,64.2 36.5,65.2 36.3,66.2 36.2,66.8 35.8,67.8 35.5,68.2 35.2,68.8 34.8,69.5 34.2,70.1 33.8,70.5 33.2,70.8Z" fill="#bcbcbc" stroke="#7a7a7a" stroke-width="0.32" fill-rule="evenodd"/>
<path d="M33.2,69.8 32.2,70.2 31.2,70.1 30.2,69.8 29.8,69.3 29.2,68.8 28.9,68.2 28.6,67.8 28.2,66.9 28.1,66.2 28.0,65.2 27.9,64.2 27.8,63.2 27.8,62.2 28.0,61.2 28.2,60.7 28.7,59.8 28.9,59.2 29.2,58.7 29.8,58.1 30.2,57.3 30.4,56.8 30.4,55.8 30.4,54.8 30.7,53.8 31.0,53.2 31.7,52.8 32.2,52.7 32.8,52.9 33.2,53.7 33.4,54.2 33.7,55.2 33.8,55.8 33.9,56.8 34.0,57.8 34.2,58.7 34.4,59.2 34.8,60.0 35.1,60.8 35.3,61.2 35.6,62.2 35.8,62.8 35.8,63.8 35.8,64.8 35.7,65.2 35.6,66.2 35.2,67.1 35.0,67.8 34.7,68.2 34.2,68.8 33.8,69.4 33.2,69.8Z" fill="#d2d2d2" stroke="#7a7a7a" stroke-width="0.32" fill-rule="evenodd"/>
<path d="M32.8,68.8 31.8,68.8 31.2,68.6 30.6,68.2 30.0,67.8 29.6,67.2 29.2,66.6 29.0,65.8 28.8,64.8 28.7,64.2 28.6,63.2 28.7,62.2 28.9,61.8 29.2,60.8 29.6,60.2 29.9,59.8 30.4,59.2 31.1,58.8 31.8,58.5 32.3,58.8 32.8,59.2 33.3,59.8 33.8,60.4 34.2,61.2 34.5,61.8 34.8,62.5 34.9,63.2 34.9,64.2 34.9,65.2 34.8,65.9 34.5,66.8 34.2,67.3 33.8,68.0 33.2,68.5 32.8,68.8Z" fill="#e6e6e6" stroke="#7a7a7a" stroke-width="0.32" fill-rule="evenodd"/>
<path d="M32.8,67.3 31.8,67.4 31.2,67.2 30.6,66.8 30.2,66.2 29.9,65.2 29.8,64.5 29.7,63.8 29.8,62.8 30.0,62.2 30.4,61.8 31.1,61.2 31.8,61.1 32.3,61.2 32.9,61.8 33.3,62.2 33.7,63.2 33.8,63.8 33.9,64.8 33.8,65.8 33.6,66.2 33.2,66.9 32.8,67.3Z" fill="#f4f4f4" stroke="#7a7a7a" stroke-width="0.32" fill-rule="evenodd"/>
</g>
<text x="90.30" y="135.10" font-size="7.9" text-anchor="middle">DMSO</text>
<rect x="42.30" y="139.70" width="96.00" height="95.20" fill="none" stroke="#1a1a1a" stroke-width="1.15"/>
<rect x="84.90" y="150.70" width="39.00" height="20.50" fill="none" stroke="#1a1a1a" stroke-width="1.0"/>
<text x="121.60" y="169.50" font-size="11.7" text-anchor="end" fill="#111">12.3</text>
<line x1="39.90" y1="151.20" x2="42.30" y2="151.20" stroke="#1a1a1a" stroke-width="0.9"/>
<text x="36.30" y="153.30" font-size="5.9" text-anchor="end" fill="#2a2a2a">10<tspan font-size="3.9" dy="-2.5">6</tspan></text>
<line x1="39.90" y1="168.40" x2="42.30" y2="168.40" stroke="#1a1a1a" stroke-width="0.9"/>
<text x="36.30" y="170.50" font-size="5.9" text-anchor="end" fill="#2a2a2a">10<tspan font-size="3.9" dy="-2.5">5</tspan></text>
<line x1="39.90" y1="190.00" x2="42.30" y2="190.00" stroke="#1a1a1a" stroke-width="0.9"/>
<text x="36.30" y="192.10" font-size="5.9" text-anchor="end" fill="#2a2a2a">10<tspan font-size="3.9" dy="-2.5">4</tspan></text>
<line x1="39.90" y1="209.20" x2="42.30" y2="209.20" stroke="#1a1a1a" stroke-width="0.9"/>
<text x="31.60" y="211.30" font-size="5.9" text-anchor="middle" fill="#2a2a2a">0</text>
<line x1="39.90" y1="230.50" x2="42.30" y2="230.50" stroke="#1a1a1a" stroke-width="0.9"/>
<text x="36.30" y="232.60" font-size="5.9" text-anchor="end" fill="#2a2a2a">&#8722;10<tspan font-size="3.9" dy="-2.5">4</tspan></text>
<line x1="41.00" y1="143.00" x2="42.30" y2="143.00" stroke="#333" stroke-width="0.6"/>
<line x1="41.00" y1="145.00" x2="42.30" y2="145.00" stroke="#333" stroke-width="0.6"/>
<line x1="41.00" y1="147.00" x2="42.30" y2="147.00" stroke="#333" stroke-width="0.6"/>
<line x1="41.00" y1="149.00" x2="42.30" y2="149.00" stroke="#333" stroke-width="0.6"/>
<line x1="41.00" y1="153.00" x2="42.30" y2="153.00" stroke="#333" stroke-width="0.6"/>
<line x1="41.00" y1="155.00" x2="42.30" y2="155.00" stroke="#333" stroke-width="0.6"/>
<line x1="41.00" y1="157.00" x2="42.30" y2="157.00" stroke="#333" stroke-width="0.6"/>
<line x1="41.00" y1="160.00" x2="42.30" y2="160.00" stroke="#333" stroke-width="0.6"/>
<line x1="41.00" y1="163.00" x2="42.30" y2="163.00" stroke="#333" stroke-width="0.6"/>
<line x1="41.00" y1="166.00" x2="42.30" y2="166.00" stroke="#333" stroke-width="0.6"/>
<line x1="41.00" y1="171.00" x2="42.30" y2="171.00" stroke="#333" stroke-width="0.6"/>
<line x1="41.00" y1="174.00" x2="42.30" y2="174.00" stroke="#333" stroke-width="0.6"/>
<line x1="41.00" y1="178.00" x2="42.30" y2="178.00" stroke="#333" stroke-width="0.6"/>
<line x1="41.00" y1="182.00" x2="42.30" y2="182.00" stroke="#333" stroke-width="0.6"/>
<line x1="41.00" y1="186.00" x2="42.30" y2="186.00" stroke="#333" stroke-width="0.6"/>
<line x1="41.00" y1="196.00" x2="42.30" y2="196.00" stroke="#333" stroke-width="0.6"/>
<line x1="41.00" y1="201.00" x2="42.30" y2="201.00" stroke="#333" stroke-width="0.6"/>
<line x1="41.00" y1="205.00" x2="42.30" y2="205.00" stroke="#333" stroke-width="0.6"/>
<line x1="41.00" y1="207.00" x2="42.30" y2="207.00" stroke="#333" stroke-width="0.6"/>
<line x1="41.00" y1="211.00" x2="42.30" y2="211.00" stroke="#333" stroke-width="0.6"/>
<line x1="41.00" y1="213.00" x2="42.30" y2="213.00" stroke="#333" stroke-width="0.6"/>
<line x1="41.00" y1="216.00" x2="42.30" y2="216.00" stroke="#333" stroke-width="0.6"/>
<line x1="41.00" y1="220.00" x2="42.30" y2="220.00" stroke="#333" stroke-width="0.6"/>
<line x1="41.00" y1="225.00" x2="42.30" y2="225.00" stroke="#333" stroke-width="0.6"/>
<line x1="46.50" y1="234.90" x2="46.50" y2="237.30" stroke="#1a1a1a" stroke-width="0.9"/>
<text x="47.50" y="246.60" font-size="5.9" text-anchor="middle" fill="#2a2a2a">&#8722;10<tspan font-size="3.9" dy="-2.5">4</tspan></text>
<line x1="69.90" y1="234.90" x2="69.90" y2="237.30" stroke="#1a1a1a" stroke-width="0.9"/>
<text x="69.90" y="246.60" font-size="5.9" text-anchor="middle" fill="#2a2a2a">0</text>
<line x1="86.80" y1="234.90" x2="86.80" y2="237.30" stroke="#1a1a1a" stroke-width="0.9"/>
<text x="87.80" y="246.60" font-size="5.9" text-anchor="middle" fill="#2a2a2a">10<tspan font-size="3.9" dy="-2.5">4</tspan></text>
<line x1="111.80" y1="234.90" x2="111.80" y2="237.30" stroke="#1a1a1a" stroke-width="0.9"/>
<text x="112.80" y="246.60" font-size="5.9" text-anchor="middle" fill="#2a2a2a">10<tspan font-size="3.9" dy="-2.5">5</tspan></text>
<line x1="125.50" y1="234.90" x2="125.50" y2="237.30" stroke="#1a1a1a" stroke-width="0.9"/>
<text x="126.50" y="246.60" font-size="5.9" text-anchor="middle" fill="#2a2a2a">10<tspan font-size="3.9" dy="-2.5">6</tspan></text>
<line x1="44.30" y1="234.90" x2="44.30" y2="236.20" stroke="#333" stroke-width="0.6"/>
<line x1="46.30" y1="234.90" x2="46.30" y2="236.20" stroke="#333" stroke-width="0.6"/>
<line x1="51.30" y1="234.90" x2="51.30" y2="236.20" stroke="#333" stroke-width="0.6"/>
<line x1="54.30" y1="234.90" x2="54.30" y2="236.20" stroke="#333" stroke-width="0.6"/>
<line x1="57.30" y1="234.90" x2="57.30" y2="236.20" stroke="#333" stroke-width="0.6"/>
<line x1="60.30" y1="234.90" x2="60.30" y2="236.20" stroke="#333" stroke-width="0.6"/>
<line x1="63.30" y1="234.90" x2="63.30" y2="236.20" stroke="#333" stroke-width="0.6"/>
<line x1="66.30" y1="234.90" x2="66.30" y2="236.20" stroke="#333" stroke-width="0.6"/>
<line x1="68.30" y1="234.90" x2="68.30" y2="236.20" stroke="#333" stroke-width="0.6"/>
<line x1="73.30" y1="234.90" x2="73.30" y2="236.20" stroke="#333" stroke-width="0.6"/>
<line x1="75.30" y1="234.90" x2="75.30" y2="236.20" stroke="#333" stroke-width="0.6"/>
<line x1="78.30" y1="234.90" x2="78.30" y2="236.20" stroke="#333" stroke-width="0.6"/>
<line x1="81.30" y1="234.90" x2="81.30" y2="236.20" stroke="#333" stroke-width="0.6"/>
<line x1="84.30" y1="234.90" x2="84.30" y2="236.20" stroke="#333" stroke-width="0.6"/>
<line x1="92.30" y1="234.90" x2="92.30" y2="236.20" stroke="#333" stroke-width="0.6"/>
<line x1="97.30" y1="234.90" x2="97.30" y2="236.20" stroke="#333" stroke-width="0.6"/>
<line x1="101.30" y1="234.90" x2="101.30" y2="236.20" stroke="#333" stroke-width="0.6"/>
<line x1="104.30" y1="234.90" x2="104.30" y2="236.20" stroke="#333" stroke-width="0.6"/>
<line x1="107.30" y1="234.90" x2="107.30" y2="236.20" stroke="#333" stroke-width="0.6"/>
<line x1="109.30" y1="234.90" x2="109.30" y2="236.20" stroke="#333" stroke-width="0.6"/>
<line x1="117.30" y1="234.90" x2="117.30" y2="236.20" stroke="#333" stroke-width="0.6"/>
<line x1="121.30" y1="234.90" x2="121.30" y2="236.20" stroke="#333" stroke-width="0.6"/>
<line x1="124.30" y1="234.90" x2="124.30" y2="236.20" stroke="#333" stroke-width="0.6"/>
<line x1="130.30" y1="234.90" x2="130.30" y2="236.20" stroke="#333" stroke-width="0.6"/>
<line x1="133.30" y1="234.90" x2="133.30" y2="236.20" stroke="#333" stroke-width="0.6"/>
<line x1="135.30" y1="234.90" x2="135.30" y2="236.20" stroke="#333" stroke-width="0.6"/>
<text x="101.20" y="148.60" font-size="8.0" text-anchor="middle">VECAD<tspan font-size="5.8" dy="-2.6">+</tspan><tspan dy="2.6">/CD45</tspan><tspan font-size="5.8" dy="-2.6">+</tspan></text>
<g transform="translate(165.70,139.70)">
<path d="M60.7,44.4h.7v.7h-.7zM26.1,26.3h.7v.7h-.7zM74.2,45.4h.7v.7h-.7zM61.8,40.6h.7v.7h-.7zM47.5,41.4h.7v.7h-.7zM58.5,59.8h.7v.7h-.7zM49.6,28.5h.7v.7h-.7zM43.5,27.1h.7v.7h-.7zM52.1,32.4h.7v.7h-.7zM81.9,41.7h.7v.7h-.7zM49.3,53.7h.7v.7h-.7zM63.1,44.6h.7v.7h-.7zM34.7,15.5h.7v.7h-.7zM82.2,46.6h.7v.7h-.7zM79.8,56.7h.7v.7h-.7zM64.1,32.8h.7v.7h-.7zM51.6,32.0h.7v.7h-.7zM44.6,35.3h.7v.7h-.7zM40.6,48.1h.7v.7h-.7zM58.4,28.0h.7v.7h-.7zM23.7,77.2h.7v.7h-.7zM58.2,41.1h.7v.7h-.7zM69.0,44.6h.7v.7h-.7zM40.0,80.3h.7v.7h-.7zM25.7,73.8h.7v.7h-.7zM26.2,75.4h.7v.7h-.7zM60.6,49.5h.7v.7h-.7zM46.7,55.8h.7v.7h-.7zM37.3,46.6h.7v.7h-.7zM79.3,34.6h.7v.7h-.7zM59.8,29.7h.7v.7h-.7zM60.0,32.2h.7v.7h-.7zM66.9,57.6h.7v.7h-.7zM31.5,84.5h.7v.7h-.7zM36.7,48.6h.7v.7h-.7zM29.7,17.7h.7v.7h-.7zM40.2,56.9h.7v.7h-.7zM59.6,41.9h.7v.7h-.7zM66.4,54.6h.7v.7h-.7zM63.2,55.7h.7v.7h-.7zM59.8,39.7h.7v.7h-.7zM41.2,28.5h.7v.7h-.7zM30.6,17.1h.7v.7h-.7zM22.9,43.3h.7v.7h-.7zM41.8,51.9h.7v.7h-.7zM47.9,44.5h.7v.7h-.7zM52.5,35.7h.7v.7h-.7zM40.3,42.2h.7v.7h-.7zM49.7,56.6h.7v.7h-.7zM76.1,49.6h.7v.7h-.7zM63.7,33.3h.7v.7h-.7zM56.2,49.1h.7v.7h-.7zM23.0,52.8h.7v.7h-.7zM67.4,51.0h.7v.7h-.7zM77.7,68.5h.7v.7h-.7zM59.0,51.2h.7v.7h-.7zM51.5,52.5h.7v.7h-.7zM72.0,39.3h.7v.7h-.7zM55.6,35.6h.7v.7h-.7zM21.5,30.5h.7v.7h-.7zM51.5,52.4h.7v.7h-.7zM63.3,59.9h.7v.7h-.7zM71.5,53.5h.7v.7h-.7zM57.7,28.7h.7v.7h-.7zM78.6,48.3h.7v.7h-.7zM49.1,44.5h.7v.7h-.7zM23.6,35.2h.7v.7h-.7zM27.5,78.5h.7v.7h-.7zM35.8,17.0h.7v.7h-.7zM55.1,35.9h.7v.7h-.7zM59.6,40.2h.7v.7h-.7zM66.3,39.7h.7v.7h-.7zM49.2,43.4h.7v.7h-.7zM47.5,33.8h.7v.7h-.7zM25.1,80.8h.7v.7h-.7zM57.4,16.2h.7v.7h-.7zM64.2,43.6h.7v.7h-.7zM58.7,51.3h.7v.7h-.7zM68.8,29.6h.7v.7h-.7zM58.5,44.8h.7v.7h-.7zM60.8,30.6h.7v.7h-.7zM50.8,42.4h.7v.7h-.7zM62.1,55.7h.7v.7h-.7zM63.6,56.6h.7v.7h-.7zM45.7,46.3h.7v.7h-.7zM25.1,27.1h.7v.7h-.7zM51.6,43.0h.7v.7h-.7zM42.6,62.4h.7v.7h-.7zM73.1,36.4h.7v.7h-.7zM29.7,17.5h.7v.7h-.7zM33.3,81.9h.7v.7h-.7zM66.1,40.0h.7v.7h-.7zM56.8,54.2h.7v.7h-.7zM54.6,37.1h.7v.7h-.7zM51.0,51.7h.7v.7h-.7zM59.4,31.2h.7v.7h-.7zM40.5,36.7h.7v.7h-.7zM27.7,21.7h.7v.7h-.7zM58.7,59.8h.7v.7h-.7zM49.9,37.2h.7v.7h-.7zM24.6,74.5h.7v.7h-.7zM57.4,32.0h.7v.7h-.7zM27.9,79.7h.7v.7h-.7zM43.2,42.0h.7v.7h-.7zM62.4,50.5h.7v.7h-.7zM70.6,64.5h.7v.7h-.7zM43.3,47.8h.7v.7h-.7zM58.7,43.8h.7v.7h-.7zM37.7,33.0h.7v.7h-.7zM56.8,36.4h.7v.7h-.7zM48.3,43.3h.7v.7h-.7zM50.2,40.8h.7v.7h-.7zM53.3,30.1h.7v.7h-.7zM44.0,55.8h.7v.7h-.7zM44.5,36.0h.7v.7h-.7zM54.5,41.0h.7v.7h-.7zM49.1,38.8h.7v.7h-.7zM23.4,73.5h.7v.7h-.7zM75.4,46.5h.7v.7h-.7zM47.4,38.6h.7v.7h-.7zM69.9,46.7h.7v.7h-.7zM23.6,40.4h.7v.7h-.7zM56.6,42.1h.7v.7h-.7zM52.3,37.4h.7v.7h-.7zM53.1,62.1h.7v.7h-.7zM25.4,82.5h.7v.7h-.7zM20.8,29.0h.7v.7h-.7zM40.5,42.5h.7v.7h-.7zM77.0,44.1h.7v.7h-.7zM56.1,41.0h.7v.7h-.7zM45.3,42.2h.7v.7h-.7zM29.9,82.2h.7v.7h-.7zM59.5,34.8h.7v.7h-.7zM41.1,54.5h.7v.7h-.7zM57.5,14.3h.7v.7h-.7zM35.9,87.3h.7v.7h-.7zM60.5,38.1h.7v.7h-.7zM52.6,50.2h.7v.7h-.7zM52.4,30.7h.7v.7h-.7zM65.1,54.5h.7v.7h-.7zM45.7,58.1h.7v.7h-.7zM50.1,36.4h.7v.7h-.7zM66.6,47.1h.7v.7h-.7zM52.5,29.1h.7v.7h-.7zM26.3,25.6h.7v.7h-.7zM68.1,52.0h.7v.7h-.7zM57.7,19.5h.7v.7h-.7zM34.3,15.3h.7v.7h-.7zM43.8,34.4h.7v.7h-.7zM44.4,31.9h.7v.7h-.7zM45.5,63.6h.7v.7h-.7zM43.2,50.2h.7v.7h-.7zM49.8,40.8h.7v.7h-.7zM41.6,46.6h.7v.7h-.7zM64.6,33.0h.7v.7h-.7zM55.8,44.3h.7v.7h-.7zM46.2,43.7h.7v.7h-.7zM49.1,48.5h.7v.7h-.7zM75.9,39.0h.7v.7h-.7zM31.8,80.8h.7v.7h-.7zM40.3,78.3h.7v.7h-.7zM36.5,47.4h.7v.7h-.7zM41.6,56.3h.7v.7h-.7zM78.2,41.1h.7v.7h-.7zM77.1,42.0h.7v.7h-.7zM24.8,70.3h.7v.7h-.7zM40.9,41.7h.7v.7h-.7zM66.1,35.3h.7v.7h-.7zM38.4,41.4h.7v.7h-.7zM62.1,43.8h.7v.7h-.7zM35.7,15.9h.7v.7h-.7zM35.7,16.1h.7v.7h-.7zM65.3,51.4h.7v.7h-.7zM65.6,46.8h.7v.7h-.7zM46.9,65.6h.7v.7h-.7zM42.9,34.9h.7v.7h-.7zM80.0,52.8h.7v.7h-.7zM79.5,54.4h.7v.7h-.7zM54.7,31.2h.7v.7h-.7zM45.7,42.6h.7v.7h-.7zM58.5,29.6h.7v.7h-.7zM44.2,38.3h.7v.7h-.7zM39.1,35.8h.7v.7h-.7zM50.3,41.3h.7v.7h-.7zM53.8,44.2h.7v.7h-.7zM24.1,67.7h.7v.7h-.7zM39.9,70.6h.7v.7h-.7zM69.4,39.9h.7v.7h-.7zM50.9,55.2h.7v.7h-.7zM52.9,55.3h.7v.7h-.7zM49.5,43.1h.7v.7h-.7zM51.4,41.5h.7v.7h-.7zM64.1,48.8h.7v.7h-.7zM75.6,58.2h.7v.7h-.7zM50.8,50.2h.7v.7h-.7zM71.9,76.8h.7v.7h-.7zM67.7,49.8h.7v.7h-.7zM29.7,82.8h.7v.7h-.7zM57.9,40.4h.7v.7h-.7zM57.6,33.4h.7v.7h-.7zM56.5,32.6h.7v.7h-.7zM51.0,58.5h.7v.7h-.7zM63.1,58.8h.7v.7h-.7zM38.1,39.9h.7v.7h-.7zM59.2,44.4h.7v.7h-.7zM38.5,82.0h.7v.7h-.7zM40.3,47.5h.7v.7h-.7zM42.6,34.7h.7v.7h-.7zM40.3,47.3h.7v.7h-.7zM45.0,50.5h.7v.7h-.7zM43.6,51.4h.7v.7h-.7zM71.8,51.2h.7v.7h-.7zM23.7,63.2h.7v.7h-.7zM58.2,55.4h.7v.7h-.7zM23.3,80.9h.7v.7h-.7zM77.9,47.1h.7v.7h-.7zM46.7,47.5h.7v.7h-.7zM51.7,39.8h.7v.7h-.7zM42.9,53.7h.7v.7h-.7zM65.0,45.6h.7v.7h-.7zM40.1,69.5h.7v.7h-.7zM22.9,72.6h.7v.7h-.7zM19.5,83.8h.7v.7h-.7zM45.4,35.7h.7v.7h-.7zM55.7,42.6h.7v.7h-.7zM36.4,43.1h.7v.7h-.7zM82.1,37.0h.7v.7h-.7zM36.8,14.4h.7v.7h-.7zM50.9,40.2h.7v.7h-.7zM60.8,43.4h.7v.7h-.7zM64.1,46.8h.7v.7h-.7zM50.1,70.0h.7v.7h-.7zM43.4,61.9h.7v.7h-.7zM39.8,30.3h.7v.7h-.7zM61.1,45.1h.7v.7h-.7zM60.0,51.7h.7v.7h-.7zM41.1,37.5h.7v.7h-.7zM30.4,83.4h.7v.7h-.7zM77.9,37.6h.7v.7h-.7zM54.0,37.7h.7v.7h-.7zM39.8,27.8h.7v.7h-.7zM59.3,47.6h.7v.7h-.7zM63.9,54.3h.7v.7h-.7zM54.4,30.3h.7v.7h-.7zM42.3,60.3h.7v.7h-.7zM49.0,26.2h.7v.7h-.7zM42.8,40.8h.7v.7h-.7zM72.4,53.9h.7v.7h-.7zM27.4,83.3h.7v.7h-.7zM36.4,32.8h.7v.7h-.7zM66.8,52.4h.7v.7h-.7zM40.7,40.1h.7v.7h-.7zM27.2,76.9h.7v.7h-.7zM61.0,55.7h.7v.7h-.7zM59.0,60.1h.7v.7h-.7zM46.9,48.5h.7v.7h-.7zM61.8,49.2h.7v.7h-.7zM26.5,77.3h.7v.7h-.7zM49.4,46.2h.7v.7h-.7zM54.7,38.7h.7v.7h-.7zM41.0,41.5h.7v.7h-.7zM42.2,54.9h.7v.7h-.7zM42.9,43.7h.7v.7h-.7zM26.5,26.0h.7v.7h-.7zM60.4,44.9h.7v.7h-.7zM57.9,52.9h.7v.7h-.7zM69.8,41.4h.7v.7h-.7zM48.1,57.0h.7v.7h-.7zM47.1,59.1h.7v.7h-.7zM57.0,54.3h.7v.7h-.7zM39.7,46.8h.7v.7h-.7zM59.7,62.5h.7v.7h-.7zM67.2,54.1h.7v.7h-.7zM42.9,50.5h.7v.7h-.7zM51.3,14.4h.7v.7h-.7zM63.7,32.1h.7v.7h-.7zM38.9,84.4h.7v.7h-.7zM55.8,24.8h.7v.7h-.7zM22.4,76.6h.7v.7h-.7zM46.9,52.2h.7v.7h-.7zM69.3,45.7h.7v.7h-.7zM69.6,32.8h.7v.7h-.7zM65.2,33.3h.7v.7h-.7zM59.7,55.1h.7v.7h-.7zM66.0,35.4h.7v.7h-.7zM23.9,37.2h.7v.7h-.7zM44.5,60.6h.7v.7h-.7zM51.9,31.1h.7v.7h-.7zM43.1,37.8h.7v.7h-.7zM56.3,51.4h.7v.7h-.7zM41.9,80.3h.7v.7h-.7zM59.8,26.6h.7v.7h-.7zM63.7,52.5h.7v.7h-.7zM74.9,44.0h.7v.7h-.7zM54.0,25.3h.7v.7h-.7zM66.9,61.0h.7v.7h-.7zM25.5,81.6h.7v.7h-.7zM57.7,33.1h.7v.7h-.7zM76.8,59.1h.7v.7h-.7zM51.3,39.1h.7v.7h-.7zM53.9,53.2h.7v.7h-.7zM26.6,79.1h.7v.7h-.7zM36.1,17.0h.7v.7h-.7zM22.3,78.7h.7v.7h-.7zM75.0,48.6h.7v.7h-.7zM56.9,14.4h.7v.7h-.7zM27.2,78.0h.7v.7h-.7zM49.3,26.4h.7v.7h-.7zM83.3,50.3h.7v.7h-.7zM43.9,43.1h.7v.7h-.7zM44.0,61.1h.7v.7h-.7zM89.6,44.2h.7v.7h-.7zM49.9,59.3h.7v.7h-.7zM62.3,46.6h.7v.7h-.7zM43.4,75.0h.7v.7h-.7zM55.5,43.6h.7v.7h-.7zM57.2,51.4h.7v.7h-.7zM54.0,29.9h.7v.7h-.7zM41.0,51.6h.7v.7h-.7zM39.5,29.3h.7v.7h-.7zM32.4,81.6h.7v.7h-.7zM22.6,40.0h.7v.7h-.7zM58.8,47.3h.7v.7h-.7zM48.0,50.2h.7v.7h-.7zM23.0,49.0h.7v.7h-.7zM59.6,54.4h.7v.7h-.7zM69.8,49.7h.7v.7h-.7zM44.8,63.5h.7v.7h-.7zM69.0,51.9h.7v.7h-.7zM54.3,52.1h.7v.7h-.7zM33.3,88.5h.7v.7h-.7zM61.2,25.3h.7v.7h-.7zM46.2,14.4h.7v.7h-.7zM40.7,42.8h.7v.7h-.7zM36.7,50.1h.7v.7h-.7zM22.7,56.4h.7v.7h-.7zM91.7,49.7h.7v.7h-.7zM48.0,37.2h.7v.7h-.7zM44.3,50.2h.7v.7h-.7zM65.7,38.4h.7v.7h-.7zM48.8,34.3h.7v.7h-.7zM46.3,55.0h.7v.7h-.7zM59.9,28.1h.7v.7h-.7zM57.3,46.3h.7v.7h-.7zM42.8,61.0h.7v.7h-.7zM58.9,53.1h.7v.7h-.7zM36.2,43.9h.7v.7h-.7zM47.2,57.1h.7v.7h-.7zM35.7,33.9h.7v.7h-.7zM51.1,52.0h.7v.7h-.7zM53.6,34.8h.7v.7h-.7zM32.5,81.6h.7v.7h-.7zM59.3,38.9h.7v.7h-.7zM37.1,81.5h.7v.7h-.7zM27.8,21.7h.7v.7h-.7zM47.7,55.0h.7v.7h-.7zM54.6,52.5h.7v.7h-.7zM70.9,58.0h.7v.7h-.7zM38.5,59.9h.7v.7h-.7zM43.0,40.5h.7v.7h-.7zM43.6,74.1h.7v.7h-.7zM60.3,57.9h.7v.7h-.7zM22.0,37.4h.7v.7h-.7zM64.4,35.5h.7v.7h-.7zM42.2,14.8h.7v.7h-.7zM56.5,48.7h.7v.7h-.7zM65.8,24.1h.7v.7h-.7zM60.8,27.5h.7v.7h-.7zM72.1,53.2h.7v.7h-.7zM69.5,50.8h.7v.7h-.7zM58.3,31.4h.7v.7h-.7zM56.7,37.8h.7v.7h-.7zM45.9,34.3h.7v.7h-.7zM49.6,36.0h.7v.7h-.7zM82.1,31.7h.7v.7h-.7zM24.6,33.9h.7v.7h-.7zM50.9,38.9h.7v.7h-.7zM58.9,41.1h.7v.7h-.7zM23.7,31.6h.7v.7h-.7zM70.9,48.0h.7v.7h-.7zM53.9,40.4h.7v.7h-.7zM73.2,54.6h.7v.7h-.7zM40.9,46.1h.7v.7h-.7zM46.4,29.7h.7v.7h-.7zM46.5,54.0h.7v.7h-.7zM39.6,49.6h.7v.7h-.7zM36.1,43.5h.7v.7h-.7zM60.5,42.1h.7v.7h-.7zM51.4,29.9h.7v.7h-.7zM51.3,14.3h.7v.7h-.7zM71.7,51.6h.7v.7h-.7zM57.6,18.8h.7v.7h-.7zM85.8,40.6h.7v.7h-.7zM60.8,35.5h.7v.7h-.7zM47.7,47.8h.7v.7h-.7zM45.9,31.4h.7v.7h-.7zM62.2,40.7h.7v.7h-.7zM27.4,77.1h.7v.7h-.7zM57.5,27.1h.7v.7h-.7zM37.5,54.4h.7v.7h-.7zM46.2,44.9h.7v.7h-.7zM55.7,38.6h.7v.7h-.7zM56.6,43.7h.7v.7h-.7zM23.0,58.6h.7v.7h-.7zM61.1,51.8h.7v.7h-.7zM39.0,57.7h.7v.7h-.7zM60.5,53.2h.7v.7h-.7zM73.3,37.1h.7v.7h-.7zM41.6,57.8h.7v.7h-.7zM59.6,29.3h.7v.7h-.7zM54.5,43.3h.7v.7h-.7zM43.4,11.8h.7v.7h-.7zM58.8,39.1h.7v.7h-.7zM65.8,53.7h.7v.7h-.7zM57.1,53.2h.7v.7h-.7zM17.6,80.8h.7v.7h-.7zM42.8,50.9h.7v.7h-.7zM63.2,31.4h.7v.7h-.7zM44.4,64.3h.7v.7h-.7zM32.0,83.1h.7v.7h-.7zM38.6,10.8h.7v.7h-.7zM63.3,45.9h.7v.7h-.7zM48.4,42.9h.7v.7h-.7zM70.1,43.9h.7v.7h-.7zM42.2,46.6h.7v.7h-.7zM41.0,60.0h.7v.7h-.7zM59.6,53.2h.7v.7h-.7zM62.7,48.5h.7v.7h-.7zM31.0,17.6h.7v.7h-.7zM63.2,32.1h.7v.7h-.7zM22.5,36.0h.7v.7h-.7zM40.6,43.7h.7v.7h-.7zM60.8,47.8h.7v.7h-.7zM44.4,43.5h.7v.7h-.7zM48.1,48.8h.7v.7h-.7zM62.1,64.3h.7v.7h-.7zM73.9,40.5h.7v.7h-.7zM39.3,14.1h.7v.7h-.7zM57.6,52.9h.7v.7h-.7zM47.7,29.1h.7v.7h-.7zM21.8,35.3h.7v.7h-.7zM55.0,37.9h.7v.7h-.7zM26.6,78.3h.7v.7h-.7zM40.6,76.1h.7v.7h-.7zM61.6,45.7h.7v.7h-.7zM39.8,73.8h.7v.7h-.7zM38.8,39.8h.7v.7h-.7zM55.7,38.5h.7v.7h-.7zM48.0,41.9h.7v.7h-.7zM56.0,38.3h.7v.7h-.7zM52.6,38.5h.7v.7h-.7zM22.7,55.4h.7v.7h-.7zM35.7,80.4h.7v.7h-.7zM60.5,49.9h.7v.7h-.7zM40.1,34.5h.7v.7h-.7zM25.0,30.3h.7v.7h-.7zM45.8,14.4h.7v.7h-.7zM37.5,53.2h.7v.7h-.7zM69.1,51.3h.7v.7h-.7zM47.4,44.6h.7v.7h-.7zM22.7,41.7h.7v.7h-.7zM63.5,48.9h.7v.7h-.7zM56.6,31.6h.7v.7h-.7zM25.1,25.9h.7v.7h-.7zM67.1,41.2h.7v.7h-.7zM48.5,42.4h.7v.7h-.7zM30.6,17.7h.7v.7h-.7zM68.7,29.5h.7v.7h-.7zM51.1,53.5h.7v.7h-.7zM34.1,82.4h.7v.7h-.7zM55.4,46.0h.7v.7h-.7zM47.3,55.1h.7v.7h-.7zM62.5,63.9h.7v.7h-.7zM49.5,11.7h.7v.7h-.7zM60.3,45.9h.7v.7h-.7zM63.3,29.1h.7v.7h-.7zM37.7,55.0h.7v.7h-.7zM61.8,30.1h.7v.7h-.7zM63.4,53.6h.7v.7h-.7zM37.6,15.7h.7v.7h-.7zM23.5,37.8h.7v.7h-.7zM48.5,45.2h.7v.7h-.7zM54.9,15.0h.7v.7h-.7zM44.0,50.3h.7v.7h-.7zM70.8,38.7h.7v.7h-.7zM30.8,80.1h.7v.7h-.7zM24.1,30.7h.7v.7h-.7zM54.2,42.2h.7v.7h-.7zM37.4,43.2h.7v.7h-.7zM36.9,44.3h.7v.7h-.7zM41.1,57.9h.7v.7h-.7zM57.2,15.8h.7v.7h-.7zM59.4,33.9h.7v.7h-.7zM92.0,49.4h.7v.7h-.7zM26.4,75.1h.7v.7h-.7zM47.2,38.8h.7v.7h-.7zM52.1,53.2h.7v.7h-.7zM38.5,79.2h.7v.7h-.7zM52.0,42.0h.7v.7h-.7zM57.0,63.0h.7v.7h-.7zM61.4,53.8h.7v.7h-.7zM36.0,17.0h.7v.7h-.7zM39.0,36.6h.7v.7h-.7zM74.0,60.3h.7v.7h-.7zM66.9,65.1h.7v.7h-.7zM22.3,75.2h.7v.7h-.7zM52.7,58.8h.7v.7h-.7zM41.4,76.4h.7v.7h-.7zM52.1,52.1h.7v.7h-.7zM49.3,32.9h.7v.7h-.7zM60.8,30.7h.7v.7h-.7zM72.1,40.3h.7v.7h-.7zM49.5,58.3h.7v.7h-.7zM46.4,40.4h.7v.7h-.7zM65.0,41.2h.7v.7h-.7zM39.3,55.7h.7v.7h-.7zM41.0,75.9h.7v.7h-.7zM31.7,84.3h.7v.7h-.7zM50.2,52.0h.7v.7h-.7zM62.6,56.3h.7v.7h-.7zM63.4,53.8h.7v.7h-.7zM47.4,49.6h.7v.7h-.7zM25.4,24.9h.7v.7h-.7zM72.2,31.1h.7v.7h-.7zM22.9,81.7h.7v.7h-.7zM31.4,18.4h.7v.7h-.7zM62.2,34.2h.7v.7h-.7zM49.3,41.3h.7v.7h-.7zM44.0,14.8h.7v.7h-.7zM39.0,57.6h.7v.7h-.7zM44.3,41.9h.7v.7h-.7zM56.5,48.5h.7v.7h-.7zM29.3,81.8h.7v.7h-.7zM43.7,37.1h.7v.7h-.7zM47.4,49.9h.7v.7h-.7zM74.2,55.1h.7v.7h-.7zM36.0,82.6h.7v.7h-.7zM64.4,45.4h.7v.7h-.7zM57.1,61.7h.7v.7h-.7zM58.8,53.4h.7v.7h-.7zM46.3,49.5h.7v.7h-.7zM66.9,27.8h.7v.7h-.7zM62.6,47.1h.7v.7h-.7zM46.5,63.2h.7v.7h-.7zM26.8,73.7h.7v.7h-.7zM52.0,53.2h.7v.7h-.7zM75.5,49.1h.7v.7h-.7zM36.4,14.1h.7v.7h-.7zM68.3,56.4h.7v.7h-.7zM39.7,35.3h.7v.7h-.7zM63.6,48.5h.7v.7h-.7zM38.8,44.1h.7v.7h-.7zM43.2,38.1h.7v.7h-.7zM46.0,40.5h.7v.7h-.7zM54.4,51.2h.7v.7h-.7zM46.3,42.8h.7v.7h-.7zM42.7,48.2h.7v.7h-.7zM28.3,80.5h.7v.7h-.7zM43.1,14.7h.7v.7h-.7zM45.6,48.2h.7v.7h-.7zM32.9,84.6h.7v.7h-.7zM66.4,47.1h.7v.7h-.7zM61.6,50.1h.7v.7h-.7zM42.2,39.9h.7v.7h-.7zM68.9,55.4h.7v.7h-.7zM79.0,47.9h.7v.7h-.7zM56.0,45.0h.7v.7h-.7zM39.7,65.8h.7v.7h-.7zM69.8,45.3h.7v.7h-.7zM42.4,43.3h.7v.7h-.7zM81.3,46.8h.7v.7h-.7zM24.7,27.6h.7v.7h-.7zM47.9,50.7h.7v.7h-.7zM59.6,55.2h.7v.7h-.7zM80.6,46.3h.7v.7h-.7zM42.1,46.2h.7v.7h-.7zM54.5,36.7h.7v.7h-.7zM22.6,44.8h.7v.7h-.7zM25.3,71.8h.7v.7h-.7zM57.4,22.3h.7v.7h-.7zM48.2,55.2h.7v.7h-.7zM59.2,54.4h.7v.7h-.7zM24.8,79.7h.7v.7h-.7zM41.1,41.0h.7v.7h-.7zM35.4,37.2h.7v.7h-.7zM53.3,43.9h.7v.7h-.7zM56.6,50.0h.7v.7h-.7zM53.1,37.3h.7v.7h-.7zM62.7,53.4h.7v.7h-.7zM61.0,31.7h.7v.7h-.7zM43.7,28.0h.7v.7h-.7zM52.9,39.9h.7v.7h-.7zM38.7,75.6h.7v.7h-.7zM68.0,41.6h.7v.7h-.7zM43.5,28.0h.7v.7h-.7zM63.8,33.3h.7v.7h-.7zM20.9,35.9h.7v.7h-.7zM82.5,45.6h.7v.7h-.7zM54.3,42.0h.7v.7h-.7zM41.5,47.4h.7v.7h-.7zM32.5,82.5h.7v.7h-.7zM59.6,40.3h.7v.7h-.7zM69.5,51.9h.7v.7h-.7zM63.1,57.4h.7v.7h-.7zM64.5,50.0h.7v.7h-.7zM30.3,19.0h.7v.7h-.7zM27.2,74.9h.7v.7h-.7zM54.4,13.8h.7v.7h-.7zM60.3,49.2h.7v.7h-.7zM61.6,40.7h.7v.7h-.7zM68.4,51.7h.7v.7h-.7zM38.1,48.6h.7v.7h-.7zM56.8,45.5h.7v.7h-.7zM60.8,38.3h.7v.7h-.7zM36.0,38.9h.7v.7h-.7zM65.9,46.8h.7v.7h-.7zM66.3,69.9h.7v.7h-.7zM45.2,38.0h.7v.7h-.7zM43.8,42.9h.7v.7h-.7zM46.0,47.1h.7v.7h-.7zM68.1,49.3h.7v.7h-.7zM27.8,20.7h.7v.7h-.7zM61.5,37.3h.7v.7h-.7zM57.9,42.7h.7v.7h-.7zM37.9,44.9h.7v.7h-.7zM62.5,46.1h.7v.7h-.7zM48.3,25.7h.7v.7h-.7zM48.7,46.9h.7v.7h-.7zM47.7,50.3h.7v.7h-.7zM76.4,49.7h.7v.7h-.7zM60.7,50.7h.7v.7h-.7zM44.8,27.3h.7v.7h-.7zM54.9,31.7h.7v.7h-.7zM51.0,55.7h.7v.7h-.7zM66.7,81.6h.7v.7h-.7zM62.8,37.5h.7v.7h-.7zM23.6,76.9h.7v.7h-.7zM37.9,50.1h.7v.7h-.7zM46.6,55.7h.7v.7h-.7zM57.7,34.8h.7v.7h-.7zM71.5,46.8h.7v.7h-.7zM25.1,80.3h.7v.7h-.7zM50.0,32.2h.7v.7h-.7zM22.0,72.6h.7v.7h-.7zM51.3,63.7h.7v.7h-.7zM57.7,49.0h.7v.7h-.7zM54.1,29.7h.7v.7h-.7zM59.8,50.2h.7v.7h-.7zM40.0,63.8h.7v.7h-.7zM61.8,41.4h.7v.7h-.7zM44.6,42.5h.7v.7h-.7zM59.2,48.2h.7v.7h-.7zM51.2,40.7h.7v.7h-.7zM57.8,20.2h.7v.7h-.7zM38.0,83.9h.7v.7h-.7zM50.1,42.8h.7v.7h-.7zM39.8,49.4h.7v.7h-.7zM54.1,71.1h.7v.7h-.7zM48.9,44.1h.7v.7h-.7zM72.3,47.1h.7v.7h-.7zM44.7,36.5h.7v.7h-.7zM45.1,43.9h.7v.7h-.7zM46.9,55.8h.7v.7h-.7zM22.7,67.5h.7v.7h-.7zM50.6,13.4h.7v.7h-.7zM60.7,45.0h.7v.7h-.7zM23.0,30.1h.7v.7h-.7zM23.4,32.5h.7v.7h-.7zM75.9,52.1h.7v.7h-.7zM49.6,26.3h.7v.7h-.7zM61.3,49.8h.7v.7h-.7zM58.9,51.7h.7v.7h-.7zM33.4,84.0h.7v.7h-.7zM42.1,14.2h.7v.7h-.7zM73.8,48.6h.7v.7h-.7zM76.4,47.0h.7v.7h-.7zM56.7,58.0h.7v.7h-.7zM29.2,85.7h.7v.7h-.7zM38.3,50.2h.7v.7h-.7zM52.3,56.0h.7v.7h-.7zM38.7,79.2h.7v.7h-.7zM44.7,40.3h.7v.7h-.7zM67.8,49.0h.7v.7h-.7zM53.9,55.3h.7v.7h-.7zM42.0,41.7h.7v.7h-.7zM58.9,61.2h.7v.7h-.7zM44.6,62.6h.7v.7h-.7zM64.8,47.0h.7v.7h-.7zM39.1,64.0h.7v.7h-.7zM26.6,78.8h.7v.7h-.7zM46.6,47.0h.7v.7h-.7zM65.2,34.8h.7v.7h-.7zM41.7,41.0h.7v.7h-.7zM71.9,52.2h.7v.7h-.7zM27.3,78.0h.7v.7h-.7zM60.1,33.9h.7v.7h-.7zM28.9,79.0h.7v.7h-.7zM51.0,33.6h.7v.7h-.7zM43.0,77.3h.7v.7h-.7zM43.6,40.7h.7v.7h-.7zM52.9,57.4h.7v.7h-.7zM44.0,42.7h.7v.7h-.7zM44.5,36.3h.7v.7h-.7zM63.4,30.1h.7v.7h-.7zM64.3,48.4h.7v.7h-.7zM51.2,51.4h.7v.7h-.7zM43.7,54.7h.7v.7h-.7zM28.0,86.6h.7v.7h-.7zM64.1,52.2h.7v.7h-.7zM26.9,80.5h.7v.7h-.7zM65.2,45.1h.7v.7h-.7zM46.1,35.8h.7v.7h-.7zM64.1,53.8h.7v.7h-.7zM27.2,74.9h.7v.7h-.7zM49.3,25.8h.7v.7h-.7zM68.5,51.1h.7v.7h-.7zM43.0,40.8h.7v.7h-.7zM54.7,39.2h.7v.7h-.7zM47.0,33.0h.7v.7h-.7zM26.2,74.0h.7v.7h-.7zM81.6,43.1h.7v.7h-.7zM62.5,36.9h.7v.7h-.7zM39.0,44.5h.7v.7h-.7zM48.3,62.1h.7v.7h-.7zM82.9,36.1h.7v.7h-.7zM20.7,49.5h.7v.7h-.7zM63.2,37.9h.7v.7h-.7zM47.6,27.0h.7v.7h-.7zM55.8,38.8h.7v.7h-.7zM81.0,50.7h.7v.7h-.7zM57.9,42.3h.7v.7h-.7zM53.9,45.8h.7v.7h-.7zM23.0,46.7h.7v.7h-.7zM74.2,48.6h.7v.7h-.7zM81.7,34.1h.7v.7h-.7zM71.1,33.9h.7v.7h-.7zM61.5,53.7h.7v.7h-.7zM69.4,35.1h.7v.7h-.7zM40.0,46.6h.7v.7h-.7zM77.9,49.2h.7v.7h-.7zM42.6,42.7h.7v.7h-.7zM89.2,44.5h.7v.7h-.7zM66.9,35.7h.7v.7h-.7zM59.6,39.3h.7v.7h-.7zM23.2,59.9h.7v.7h-.7zM60.2,52.3h.7v.7h-.7zM62.8,42.3h.7v.7h-.7zM53.3,38.4h.7v.7h-.7zM56.5,37.3h.7v.7h-.7zM39.1,63.5h.7v.7h-.7z" fill="#a4a4a4"/>
<path d="M35.2,80.4 34.2,80.5 33.2,80.6 32.2,80.6 31.3,80.2 30.8,80.0 30.2,79.7 29.2,79.4 28.8,79.2 28.2,78.8 27.7,78.2 27.4,77.2 27.4,76.2 27.4,75.2 27.3,74.2 27.2,73.7 27.1,72.8 26.8,71.8 26.6,71.2 26.2,70.4 25.9,69.8 25.7,69.2 25.3,68.2 25.1,67.8 24.9,66.8 24.8,65.8 24.7,65.2 24.3,64.2 24.1,63.8 23.9,62.8 23.8,61.8 23.8,60.9 23.6,60.2 23.5,59.2 23.4,58.2 23.3,57.2 23.3,56.2 23.2,55.8 23.0,54.8 22.9,53.8 22.8,52.8 22.9,51.8 22.9,50.8 22.8,49.8 22.8,48.9 22.7,48.2 22.7,47.2 22.8,46.8 22.9,45.8 22.9,44.8 23.1,43.8 23.2,43.2 23.5,42.2 23.7,41.2 23.8,40.8 23.9,39.8 24.0,38.8 24.1,37.8 24.1,36.8 24.0,35.8 24.2,34.8 24.5,34.2 24.8,33.8 25.1,32.8 25.1,31.8 25.1,30.8 25.2,29.8 25.4,29.2 25.6,28.2 25.8,27.6 26.0,26.8 26.3,26.2 26.9,25.8 27.6,25.2 28.1,24.8 28.4,24.2 28.7,23.2 28.8,22.8 29.1,21.8 29.4,21.2 29.8,20.7 30.2,20.2 30.8,19.7 31.5,19.2 32.2,19.0 33.2,18.8 33.9,18.8 34.8,18.4 35.2,18.0 35.8,17.4 36.2,16.9 36.8,16.5 37.5,16.2 38.2,16.1 39.2,15.9 39.9,15.8 40.8,15.3 41.2,15.2 42.2,15.0 43.2,14.9 44.0,14.8 44.8,14.5 45.8,14.4 46.8,14.5 47.3,14.8 48.2,15.1 48.8,15.3 49.8,15.3 50.6,15.2 51.2,15.1 52.2,14.8 52.8,14.7 53.3,14.8 54.2,15.0 54.8,15.3 55.3,15.8 55.9,16.2 56.5,16.8 56.9,17.2 57.2,18.1 57.4,18.8 57.4,19.8 57.3,20.8 57.2,21.2 57.0,22.2 56.8,22.8 56.2,23.5 55.8,24.0 55.2,24.5 54.8,24.9 54.1,25.2 53.2,25.6 52.2,25.6 51.2,25.5 50.2,25.5 49.2,25.6 48.2,25.5 47.2,25.5 46.5,25.8 45.8,26.2 45.2,26.7 44.8,26.9 43.8,26.9 43.2,26.7 42.2,26.4 41.2,26.5 40.7,26.8 40.0,27.2 39.5,27.8 39.1,28.2 38.8,28.9 38.5,29.8 38.2,30.3 37.8,31.2 37.3,31.8 36.8,32.2 36.2,32.6 35.8,33.0 35.2,33.4 34.8,34.2 34.6,34.8 34.8,35.6 35.0,36.2 35.2,37.2 35.3,37.8 35.4,38.8 35.3,39.8 35.4,40.8 35.5,41.8 35.7,42.8 35.9,43.2 36.2,44.2 36.3,44.8 36.3,45.8 36.2,46.3 36.2,47.2 36.2,47.8 36.5,48.8 36.6,49.8 36.7,50.8 36.7,51.8 36.8,52.4 37.0,53.2 37.2,53.9 37.5,54.8 37.8,55.7 37.9,56.2 38.0,57.2 38.0,58.2 38.2,59.2 38.2,60.2 38.3,60.8 38.5,61.8 38.8,62.6 39.0,63.2 39.2,64.2 39.2,65.2 39.2,66.2 39.1,67.2 39.2,68.2 39.2,69.2 39.2,70.2 39.0,71.2 38.8,72.0 38.6,72.8 38.5,73.8 38.5,74.8 38.6,75.8 38.5,76.8 38.3,77.8 38.1,78.2 37.8,78.9 37.2,79.4 36.6,79.8 35.8,80.2 35.2,80.4ZM53.2,41.3 52.2,41.3 51.9,40.8 52.2,40.2 53.2,40.1 53.7,40.8 53.2,41.3ZM52.2,49.3 51.2,49.4 50.8,49.2 50.2,48.8 49.8,48.1 49.5,47.2 49.6,46.2 49.7,45.2 49.7,44.2 50.0,43.8 50.8,43.4 51.6,43.2 52.0,43.2 52.6,43.8 52.8,44.3 53.0,45.2 53.4,45.8 54.2,46.2 55.2,45.9 55.8,45.7 56.2,45.9 56.6,46.8 56.6,47.8 56.2,48.5 55.2,48.6 54.4,48.2 53.8,48.2 53.2,48.5 52.8,48.9 52.2,49.3ZM53.2,51.5 52.4,51.2 52.8,50.7 53.3,50.8 53.2,51.5Z" fill="#fefefe" stroke="#6e6e6e" stroke-width="0.45" fill-rule="evenodd"/>
<path d="M35.8,78.3 34.8,78.5 33.8,78.5 32.8,78.3 32.2,78.1 31.5,77.8 30.9,77.2 30.5,76.8 30.1,76.2 29.8,75.7 29.3,74.8 29.0,74.2 28.8,73.6 28.3,72.8 28.0,72.2 27.8,71.7 27.3,70.8 27.0,70.2 26.8,69.7 26.3,68.8 26.1,68.2 25.8,67.4 25.6,66.8 25.4,65.8 25.2,65.1 25.0,64.2 24.8,63.6 24.5,62.8 24.4,61.8 24.3,60.8 24.2,60.2 24.0,59.2 23.9,58.2 23.9,57.2 23.9,56.2 23.8,55.4 23.6,54.8 23.5,53.8 23.5,52.8 23.5,51.8 23.6,50.8 23.6,49.8 23.5,48.8 23.5,47.8 23.6,46.8 23.7,45.8 23.8,45.2 24.0,44.2 24.2,43.4 24.4,42.8 24.7,41.8 24.8,41.2 24.9,40.2 25.0,39.2 25.2,38.2 25.3,37.8 25.2,37.2 25.1,36.2 25.2,35.2 25.4,34.8 25.8,33.9 25.9,33.2 26.0,32.2 26.1,31.2 26.2,30.2 26.4,29.8 26.8,28.8 26.9,28.2 27.2,27.4 27.6,26.8 28.1,26.2 28.6,25.8 29.0,25.2 29.3,24.8 29.6,23.8 29.8,23.1 30.1,22.2 30.4,21.8 30.9,21.2 31.3,20.8 32.0,20.2 32.8,19.9 33.8,19.8 34.2,19.7 35.2,19.4 35.8,19.0 36.2,18.5 36.8,17.9 37.2,17.5 37.8,17.2 38.8,17.0 39.8,16.9 40.5,16.8 41.2,16.4 41.8,16.2 42.8,15.9 43.8,15.8 44.2,15.7 45.2,15.5 46.2,15.6 46.8,15.8 47.8,16.0 48.8,16.2 49.2,16.3 50.2,16.3 50.8,16.2 51.8,16.0 52.8,15.8 53.8,15.9 54.3,16.2 54.9,16.8 55.4,17.2 55.9,17.8 56.3,18.2 56.6,19.2 56.6,20.2 56.5,21.2 56.2,22.1 55.9,22.8 55.4,23.2 54.8,23.8 54.2,24.1 53.8,24.3 52.8,24.4 51.9,24.2 51.2,24.2 50.2,24.1 49.2,24.1 48.2,24.0 47.2,24.1 46.8,24.3 45.9,24.8 45.3,25.2 44.8,25.6 44.2,25.8 43.7,25.8 42.8,25.4 42.2,25.1 41.2,25.1 40.8,25.4 40.2,25.8 39.5,26.2 38.8,26.8 38.4,27.2 38.2,27.8 37.8,28.8 37.6,29.2 37.2,30.0 36.8,30.7 36.2,31.2 35.8,31.5 35.2,31.8 34.7,32.2 34.2,32.8 33.8,33.5 33.5,34.2 33.5,35.2 33.7,36.2 33.8,36.8 33.9,37.8 34.0,38.8 34.1,39.8 34.2,40.7 34.3,41.2 34.3,42.2 34.5,43.2 34.8,43.9 35.1,44.8 35.2,45.8 35.2,46.8 35.2,47.5 35.4,48.2 35.7,49.2 35.8,49.8 35.9,50.8 35.9,51.8 35.9,52.8 36.2,53.6 36.5,54.2 36.8,54.8 37.0,55.8 37.2,56.8 37.3,57.2 37.4,58.2 37.6,59.2 37.7,60.2 37.8,60.9 37.9,61.8 38.1,62.8 38.2,63.4 38.4,64.2 38.5,65.2 38.5,66.2 38.5,67.2 38.5,68.2 38.6,69.2 38.5,70.2 38.3,71.2 38.1,71.8 37.8,72.8 37.7,73.2 37.5,74.2 37.4,75.2 37.3,76.2 37.1,76.8 36.8,77.6 36.2,78.0 35.8,78.3Z" fill="#fcfcfc" stroke="#7c7c7c" stroke-width="0.42" fill-rule="evenodd"/>
<path d="M35.2,76.8 34.2,77.0 33.2,76.8 32.8,76.6 32.2,76.2 31.6,75.8 31.0,75.2 30.5,74.8 30.1,74.2 29.8,73.6 29.3,72.8 29.0,72.2 28.6,71.8 28.2,71.1 27.8,70.2 27.5,69.8 27.2,69.1 26.8,68.2 26.5,67.8 26.2,67.0 26.0,66.2 25.8,65.2 25.7,64.8 25.3,63.8 25.2,63.2 24.9,62.2 24.8,61.2 24.8,60.7 24.6,59.8 24.5,58.8 24.4,57.8 24.4,56.8 24.3,55.8 24.2,55.2 24.1,54.2 24.0,53.2 24.1,52.2 24.2,51.2 24.2,50.2 24.2,49.2 24.2,48.2 24.3,47.8 24.5,46.8 24.6,45.8 24.8,44.8 24.9,44.2 25.2,43.4 25.5,42.8 25.8,42.1 26.0,41.2 26.1,40.2 26.2,39.2 26.3,38.8 26.4,37.8 26.3,36.8 26.4,35.8 26.7,34.8 26.8,34.2 27.0,33.2 27.0,32.2 27.2,31.2 27.3,30.8 27.6,29.8 27.8,29.2 28.2,28.2 28.4,27.8 28.8,27.2 29.3,26.8 29.8,26.1 30.2,25.2 30.4,24.8 30.7,23.8 30.9,23.2 31.3,22.8 31.8,22.1 32.2,21.5 32.8,21.1 33.6,20.8 34.2,20.6 35.2,20.4 35.8,20.2 36.6,19.8 37.1,19.2 37.5,18.8 38.1,18.2 38.8,18.0 39.8,17.9 40.8,17.8 41.2,17.7 42.2,17.3 42.8,17.1 43.8,16.9 44.8,16.8 45.2,16.7 46.2,16.7 46.8,16.8 47.8,17.0 48.8,17.1 49.7,17.2 50.2,17.3 50.8,17.2 51.8,16.9 52.8,16.8 53.8,17.1 54.2,17.5 54.8,17.9 55.2,18.4 55.8,19.1 55.9,19.8 55.9,20.8 55.8,21.3 55.2,22.2 54.8,22.7 54.2,23.1 53.8,23.3 52.8,23.4 51.8,23.3 51.2,23.2 50.2,23.1 49.2,23.0 48.2,22.8 47.2,22.9 46.4,23.2 45.8,23.6 45.2,24.0 44.8,24.3 43.8,24.6 42.9,24.2 42.2,24.0 41.2,23.9 40.6,24.2 39.9,24.8 39.2,25.2 38.8,25.5 38.2,25.9 37.8,26.3 37.2,27.2 37.0,27.8 36.8,28.5 36.4,29.2 36.0,29.8 35.4,30.2 34.8,30.6 34.2,30.8 33.7,31.2 33.2,32.1 33.0,32.8 32.7,33.2 32.5,34.2 32.4,35.2 32.4,36.2 32.5,37.2 32.6,38.2 32.8,38.9 32.9,39.8 33.0,40.8 33.0,41.8 33.0,42.8 33.2,43.8 33.5,44.2 33.8,44.8 34.2,45.8 34.2,46.3 34.4,47.2 34.7,48.2 34.9,48.8 35.1,49.8 35.2,50.8 35.2,51.8 35.2,52.8 35.4,53.2 35.8,54.2 36.1,54.8 36.3,55.2 36.6,56.2 36.8,57.2 36.9,57.8 37.0,58.8 37.2,59.8 37.2,60.4 37.3,61.2 37.5,62.2 37.7,63.2 37.8,63.8 37.8,64.8 37.9,65.8 37.9,66.8 37.9,67.8 38.0,68.8 37.9,69.8 37.8,70.7 37.6,71.2 37.3,72.2 37.1,72.8 36.8,73.8 36.6,74.2 36.4,75.2 36.2,75.8 35.8,76.4 35.2,76.8Z" fill="#f6f6f6" stroke="#838383" stroke-width="0.4" fill-rule="evenodd"/>
<path d="M30.2,35.4 29.7,35.2 29.1,34.8 28.7,34.2 28.4,33.2 28.4,32.2 28.6,31.2 28.8,30.8 29.2,29.8 29.6,29.2 30.0,28.8 30.5,28.2 30.8,27.8 31.2,26.8 31.4,26.2 31.8,25.5 32.0,24.8 32.3,24.2 32.8,23.6 33.2,22.8 33.6,22.2 34.2,21.8 34.8,21.6 35.8,21.4 36.8,21.3 37.5,21.2 38.2,21.2 39.1,20.8 39.2,19.9 39.8,19.3 40.2,19.2 41.2,18.9 42.0,18.8 42.8,18.7 43.8,18.7 44.8,18.7 45.8,18.4 46.8,18.4 47.8,18.5 48.8,18.7 49.2,18.8 50.2,18.9 50.8,18.7 51.8,18.3 52.2,18.2 53.2,18.2 53.8,18.6 54.2,19.0 54.8,19.7 54.9,20.2 54.8,20.9 54.2,21.6 53.8,22.0 52.8,22.2 52.7,22.2 51.8,22.0 50.8,21.8 49.8,21.8 49.2,21.7 48.2,21.5 47.2,21.4 46.2,21.7 45.8,22.0 45.2,22.4 44.7,22.8 43.8,23.0 42.8,22.9 42.2,22.7 41.2,22.5 40.3,22.8 39.8,23.2 39.2,23.6 38.8,24.0 38.2,24.4 37.3,24.8 36.8,24.8 35.8,25.0 35.2,25.4 34.9,26.2 34.8,26.8 34.2,27.7 33.8,28.2 33.2,28.5 32.7,28.8 32.2,29.2 32.1,30.2 32.0,31.2 31.8,32.2 31.6,32.8 31.3,33.8 31.1,34.2 30.8,35.1 30.2,35.4ZM34.8,75.4 33.8,75.5 33.1,75.2 32.2,74.8 31.8,74.5 31.2,74.1 30.8,73.6 30.2,72.8 29.9,72.2 29.6,71.8 29.2,71.2 28.8,70.5 28.4,69.8 28.1,69.2 27.8,68.6 27.3,67.8 27.0,67.2 26.8,66.5 26.5,65.8 26.2,64.9 26.0,64.2 25.8,63.4 25.6,62.8 25.4,61.8 25.3,60.8 25.2,60.2 25.0,59.2 24.9,58.2 24.9,57.2 24.8,56.2 24.8,55.4 24.7,54.8 24.6,53.8 24.6,52.8 24.7,51.8 24.8,51.2 24.9,50.2 24.9,49.2 25.0,48.2 25.2,47.2 25.3,46.8 25.6,45.8 25.8,45.1 26.1,44.2 26.4,43.8 26.8,43.1 27.2,42.4 27.7,41.8 27.9,41.2 28.2,40.2 28.3,39.8 28.6,38.8 29.2,38.2 29.8,38.1 30.2,38.3 30.8,38.8 31.2,39.4 31.5,40.2 31.5,41.2 31.6,42.2 31.8,42.9 32.0,43.8 32.2,44.4 32.6,45.2 32.9,45.8 33.2,46.4 33.6,47.2 33.8,47.8 34.1,48.8 34.3,49.2 34.6,50.2 34.6,51.2 34.6,52.2 34.7,53.2 34.9,53.8 35.2,54.5 35.6,55.2 35.8,55.8 36.1,56.8 36.2,57.3 36.5,58.2 36.7,59.2 36.8,59.9 36.8,60.8 36.9,61.8 37.1,62.8 37.2,63.8 37.2,64.3 37.3,65.2 37.3,66.2 37.4,67.2 37.4,68.2 37.3,69.2 37.2,69.8 37.0,70.8 36.8,71.6 36.5,72.2 36.2,72.8 35.8,73.8 35.6,74.2 35.2,75.0 34.8,75.4Z" fill="#e6e6e6" stroke="#838383" stroke-width="0.38" fill-rule="evenodd"/>
<path d="M34.2,73.4 33.2,73.7 32.2,73.4 31.8,73.1 31.2,72.6 30.8,72.0 30.2,71.3 29.9,70.8 29.6,70.2 29.2,69.7 28.8,68.9 28.3,68.2 28.1,67.8 27.8,67.1 27.4,66.2 27.2,65.8 26.8,64.8 26.7,64.2 26.3,63.2 26.2,62.8 26.0,61.8 25.8,60.8 25.7,60.2 25.6,59.2 25.5,58.2 25.4,57.2 25.4,56.2 25.3,55.2 25.3,54.2 25.3,53.2 25.4,52.2 25.5,51.2 25.6,50.2 25.7,49.2 25.8,48.8 26.1,47.8 26.3,47.2 26.8,46.4 27.2,45.8 27.6,45.2 28.0,44.8 28.6,44.2 29.2,44.0 30.2,44.2 30.8,44.7 31.1,45.2 31.5,45.8 31.9,46.2 32.2,46.8 32.7,47.8 32.9,48.2 33.2,48.9 33.6,49.8 33.8,50.2 33.9,51.2 33.9,52.2 34.1,53.2 34.2,53.8 34.6,54.8 34.9,55.2 35.2,56.1 35.5,56.8 35.8,57.6 35.9,58.2 36.1,59.2 36.2,60.1 36.3,60.8 36.4,61.8 36.5,62.8 36.6,63.8 36.6,64.8 36.6,65.8 36.7,66.8 36.7,67.8 36.6,68.8 36.3,69.8 36.2,70.2 35.8,71.2 35.6,71.8 35.2,72.2 34.8,72.9 34.2,73.4Z" fill="#c8c8c8" stroke="#7a7a7a" stroke-width="0.36" fill-rule="evenodd"/>
<path d="M33.8,71.9 32.8,72.1 32.0,71.8 31.5,71.2 31.0,70.8 30.6,70.2 30.2,69.7 29.8,69.1 29.2,68.4 28.8,67.8 28.6,67.2 28.2,66.5 27.9,65.8 27.7,65.2 27.3,64.2 27.1,63.8 26.8,62.8 26.7,62.2 26.5,61.2 26.3,60.2 26.2,59.6 26.1,58.8 26.0,57.8 26.0,56.8 26.0,55.8 26.0,54.8 26.1,53.8 26.2,52.8 26.2,51.8 26.3,51.2 26.4,50.2 26.6,49.2 26.8,48.8 27.2,48.1 27.8,47.6 28.3,47.2 29.2,46.8 29.8,46.6 30.3,46.8 31.0,47.2 31.5,47.8 31.8,48.2 32.2,49.2 32.5,49.8 32.8,50.3 33.0,51.2 33.2,52.2 33.3,52.8 33.6,53.8 33.8,54.3 34.2,55.2 34.4,55.8 34.8,56.6 35.0,57.2 35.2,58.0 35.5,58.8 35.6,59.8 35.8,60.7 35.8,61.2 35.9,62.2 36.0,63.2 36.0,64.2 36.0,65.2 36.0,66.2 36.0,67.2 35.8,68.2 35.7,68.8 35.3,69.8 35.1,70.2 34.8,70.9 34.2,71.5 33.8,71.9Z" fill="#a0a0a0" stroke="#6a6a6a" stroke-width="0.36" fill-rule="evenodd"/>
<path d="M33.2,70.3 32.3,70.2 31.8,69.9 31.2,69.5 30.8,69.0 30.2,68.5 29.8,67.9 29.4,67.2 29.1,66.8 28.8,65.8 28.5,65.2 28.2,64.7 27.9,63.8 27.7,63.2 27.4,62.2 27.2,61.5 27.1,60.8 26.9,59.8 26.8,58.8 26.7,58.2 26.6,57.2 26.6,56.2 26.7,55.2 26.8,54.8 27.0,53.8 27.1,52.8 27.2,51.8 27.2,51.2 27.5,50.2 27.8,49.8 28.2,49.2 29.2,48.8 30.2,49.1 30.8,49.6 31.2,50.2 31.5,50.8 31.8,51.3 32.2,52.2 32.4,52.8 32.8,53.6 33.0,54.2 33.2,54.9 33.6,55.8 33.9,56.2 34.2,57.1 34.5,57.8 34.8,58.7 34.9,59.2 35.1,60.2 35.2,61.2 35.2,61.9 35.3,62.8 35.4,63.8 35.3,64.8 35.3,65.8 35.2,66.5 35.2,67.2 34.8,68.2 34.6,68.8 34.2,69.4 33.8,70.0 33.2,70.3Z" fill="#808080" stroke="#6a6a6a" stroke-width="0.36" fill-rule="evenodd"/>
<path d="M33.2,68.5 32.2,68.6 31.4,68.2 30.8,67.8 30.2,67.3 29.9,66.8 29.7,66.2 29.3,65.2 29.1,64.8 28.8,63.8 28.6,63.2 28.2,62.3 28.1,61.8 27.9,60.8 27.8,60.2 27.6,59.2 27.4,58.2 27.4,57.2 27.4,56.2 27.6,55.2 27.8,54.7 28.1,53.8 28.2,53.1 28.6,52.2 28.9,51.8 29.8,51.6 30.2,51.9 30.8,52.3 31.2,52.9 31.8,53.6 32.1,54.2 32.3,54.8 32.8,55.7 33.0,56.2 33.3,56.8 33.8,57.7 33.9,58.2 34.2,59.2 34.3,59.8 34.4,60.8 34.6,61.8 34.6,62.8 34.6,63.8 34.6,64.8 34.5,65.8 34.4,66.8 34.2,67.2 33.8,68.0 33.2,68.5Z" fill="#8c8c8c" stroke="#6a6a6a" stroke-width="0.36" fill-rule="evenodd"/>
<path d="M32.8,66.9 31.8,67.0 31.2,66.7 30.8,66.1 30.4,65.2 30.2,64.8 29.9,63.8 29.7,63.2 29.3,62.2 29.1,61.8 28.8,60.8 28.6,60.2 28.5,59.2 28.3,58.2 28.3,57.2 28.4,56.2 28.7,55.2 29.0,54.8 29.6,54.2 30.2,54.2 30.8,54.5 31.2,55.0 31.7,55.8 32.0,56.2 32.4,56.8 32.8,57.4 33.1,58.2 33.2,58.8 33.4,59.8 33.6,60.8 33.7,61.8 33.8,62.2 33.8,63.2 33.7,63.8 33.6,64.8 33.5,65.8 33.2,66.4 32.8,66.9Z" fill="#c8c8c8" stroke="#6a6a6a" stroke-width="0.36" fill-rule="evenodd"/>
</g>
<text x="213.70" y="135.10" font-size="7.9" text-anchor="middle">Compound E</text>
<rect x="165.70" y="139.70" width="96.00" height="95.20" fill="none" stroke="#1a1a1a" stroke-width="1.15"/>
<rect x="208.30" y="150.70" width="39.00" height="20.50" fill="none" stroke="#1a1a1a" stroke-width="1.0"/>
<text x="245.00" y="169.50" font-size="11.7" text-anchor="end" fill="#111">4.19</text>
<line x1="163.30" y1="151.20" x2="165.70" y2="151.20" stroke="#1a1a1a" stroke-width="0.9"/>
<text x="159.70" y="153.30" font-size="5.9" text-anchor="end" fill="#2a2a2a">10<tspan font-size="3.9" dy="-2.5">6</tspan></text>
<line x1="163.30" y1="168.40" x2="165.70" y2="168.40" stroke="#1a1a1a" stroke-width="0.9"/>
<text x="159.70" y="170.50" font-size="5.9" text-anchor="end" fill="#2a2a2a">10<tspan font-size="3.9" dy="-2.5">5</tspan></text>
<line x1="163.30" y1="190.00" x2="165.70" y2="190.00" stroke="#1a1a1a" stroke-width="0.9"/>
<text x="159.70" y="192.10" font-size="5.9" text-anchor="end" fill="#2a2a2a">10<tspan font-size="3.9" dy="-2.5">4</tspan></text>
<line x1="163.30" y1="209.20" x2="165.70" y2="209.20" stroke="#1a1a1a" stroke-width="0.9"/>
<text x="155.00" y="211.30" font-size="5.9" text-anchor="middle" fill="#2a2a2a">0</text>
<line x1="163.30" y1="230.50" x2="165.70" y2="230.50" stroke="#1a1a1a" stroke-width="0.9"/>
<text x="159.70" y="232.60" font-size="5.9" text-anchor="end" fill="#2a2a2a">&#8722;10<tspan font-size="3.9" dy="-2.5">4</tspan></text>
<line x1="164.40" y1="143.00" x2="165.70" y2="143.00" stroke="#333" stroke-width="0.6"/>
<line x1="164.40" y1="145.00" x2="165.70" y2="145.00" stroke="#333" stroke-width="0.6"/>
<line x1="164.40" y1="147.00" x2="165.70" y2="147.00" stroke="#333" stroke-width="0.6"/>
<line x1="164.40" y1="149.00" x2="165.70" y2="149.00" stroke="#333" stroke-width="0.6"/>
<line x1="164.40" y1="153.00" x2="165.70" y2="153.00" stroke="#333" stroke-width="0.6"/>
<line x1="164.40" y1="155.00" x2="165.70" y2="155.00" stroke="#333" stroke-width="0.6"/>
<line x1="164.40" y1="157.00" x2="165.70" y2="157.00" stroke="#333" stroke-width="0.6"/>
<line x1="164.40" y1="160.00" x2="165.70" y2="160.00" stroke="#333" stroke-width="0.6"/>
<line x1="164.40" y1="163.00" x2="165.70" y2="163.00" stroke="#333" stroke-width="0.6"/>
<line x1="164.40" y1="166.00" x2="165.70" y2="166.00" stroke="#333" stroke-width="0.6"/>
<line x1="164.40" y1="171.00" x2="165.70" y2="171.00" stroke="#333" stroke-width="0.6"/>
<line x1="164.40" y1="174.00" x2="165.70" y2="174.00" stroke="#333" stroke-width="0.6"/>
<line x1="164.40" y1="178.00" x2="165.70" y2="178.00" stroke="#333" stroke-width="0.6"/>
<line x1="164.40" y1="182.00" x2="165.70" y2="182.00" stroke="#333" stroke-width="0.6"/>
<line x1="164.40" y1="186.00" x2="165.70" y2="186.00" stroke="#333" stroke-width="0.6"/>
<line x1="164.40" y1="196.00" x2="165.70" y2="196.00" stroke="#333" stroke-width="0.6"/>
<line x1="164.40" y1="201.00" x2="165.70" y2="201.00" stroke="#333" stroke-width="0.6"/>
<line x1="164.40" y1="205.00" x2="165.70" y2="205.00" stroke="#333" stroke-width="0.6"/>
<line x1="164.40" y1="207.00" x2="165.70" y2="207.00" stroke="#333" stroke-width="0.6"/>
<line x1="164.40" y1="211.00" x2="165.70" y2="211.00" stroke="#333" stroke-width="0.6"/>
<line x1="164.40" y1="213.00" x2="165.70" y2="213.00" stroke="#333" stroke-width="0.6"/>
<line x1="164.40" y1="216.00" x2="165.70" y2="216.00" stroke="#333" stroke-width="0.6"/>
<line x1="164.40" y1="220.00" x2="165.70" y2="220.00" stroke="#333" stroke-width="0.6"/>
<line x1="164.40" y1="225.00" x2="165.70" y2="225.00" stroke="#333" stroke-width="0.6"/>
<line x1="169.90" y1="234.90" x2="169.90" y2="237.30" stroke="#1a1a1a" stroke-width="0.9"/>
<text x="170.90" y="246.60" font-size="5.9" text-anchor="middle" fill="#2a2a2a">&#8722;10<tspan font-size="3.9" dy="-2.5">4</tspan></text>
<line x1="193.30" y1="234.90" x2="193.30" y2="237.30" stroke="#1a1a1a" stroke-width="0.9"/>
<text x="193.30" y="246.60" font-size="5.9" text-anchor="middle" fill="#2a2a2a">0</text>
<line x1="210.20" y1="234.90" x2="210.20" y2="237.30" stroke="#1a1a1a" stroke-width="0.9"/>
<text x="211.20" y="246.60" font-size="5.9" text-anchor="middle" fill="#2a2a2a">10<tspan font-size="3.9" dy="-2.5">4</tspan></text>
<line x1="235.20" y1="234.90" x2="235.20" y2="237.30" stroke="#1a1a1a" stroke-width="0.9"/>
<text x="236.20" y="246.60" font-size="5.9" text-anchor="middle" fill="#2a2a2a">10<tspan font-size="3.9" dy="-2.5">5</tspan></text>
<line x1="248.90" y1="234.90" x2="248.90" y2="237.30" stroke="#1a1a1a" stroke-width="0.9"/>
<text x="249.90" y="246.60" font-size="5.9" text-anchor="middle" fill="#2a2a2a">10<tspan font-size="3.9" dy="-2.5">6</tspan></text>
<line x1="167.70" y1="234.90" x2="167.70" y2="236.20" stroke="#333" stroke-width="0.6"/>
<line x1="169.70" y1="234.90" x2="169.70" y2="236.20" stroke="#333" stroke-width="0.6"/>
<line x1="174.70" y1="234.90" x2="174.70" y2="236.20" stroke="#333" stroke-width="0.6"/>
<line x1="177.70" y1="234.90" x2="177.70" y2="236.20" stroke="#333" stroke-width="0.6"/>
<line x1="180.70" y1="234.90" x2="180.70" y2="236.20" stroke="#333" stroke-width="0.6"/>
<line x1="183.70" y1="234.90" x2="183.70" y2="236.20" stroke="#333" stroke-width="0.6"/>
<line x1="186.70" y1="234.90" x2="186.70" y2="236.20" stroke="#333" stroke-width="0.6"/>
<line x1="189.70" y1="234.90" x2="189.70" y2="236.20" stroke="#333" stroke-width="0.6"/>
<line x1="191.70" y1="234.90" x2="191.70" y2="236.20" stroke="#333" stroke-width="0.6"/>
<line x1="196.70" y1="234.90" x2="196.70" y2="236.20" stroke="#333" stroke-width="0.6"/>
<line x1="198.70" y1="234.90" x2="198.70" y2="236.20" stroke="#333" stroke-width="0.6"/>
<line x1="201.70" y1="234.90" x2="201.70" y2="236.20" stroke="#333" stroke-width="0.6"/>
<line x1="204.70" y1="234.90" x2="204.70" y2="236.20" stroke="#333" stroke-width="0.6"/>
<line x1="207.70" y1="234.90" x2="207.70" y2="236.20" stroke="#333" stroke-width="0.6"/>
<line x1="215.70" y1="234.90" x2="215.70" y2="236.20" stroke="#333" stroke-width="0.6"/>
<line x1="220.70" y1="234.90" x2="220.70" y2="236.20" stroke="#333" stroke-width="0.6"/>
<line x1="224.70" y1="234.90" x2="224.70" y2="236.20" stroke="#333" stroke-width="0.6"/>
<line x1="227.70" y1="234.90" x2="227.70" y2="236.20" stroke="#333" stroke-width="0.6"/>
<line x1="230.70" y1="234.90" x2="230.70" y2="236.20" stroke="#333" stroke-width="0.6"/>
<line x1="232.70" y1="234.90" x2="232.70" y2="236.20" stroke="#333" stroke-width="0.6"/>
<line x1="240.70" y1="234.90" x2="240.70" y2="236.20" stroke="#333" stroke-width="0.6"/>
<line x1="244.70" y1="234.90" x2="244.70" y2="236.20" stroke="#333" stroke-width="0.6"/>
<line x1="247.70" y1="234.90" x2="247.70" y2="236.20" stroke="#333" stroke-width="0.6"/>
<line x1="253.70" y1="234.90" x2="253.70" y2="236.20" stroke="#333" stroke-width="0.6"/>
<line x1="256.70" y1="234.90" x2="256.70" y2="236.20" stroke="#333" stroke-width="0.6"/>
<line x1="258.70" y1="234.90" x2="258.70" y2="236.20" stroke="#333" stroke-width="0.6"/>
<g transform="translate(288.40,139.70)">
<path d="M53.3,53.5h.7v.7h-.7zM39.7,45.7h.7v.7h-.7zM61.1,70.0h.7v.7h-.7zM62.2,12.4h.7v.7h-.7zM72.9,19.9h.7v.7h-.7zM20.7,41.1h.7v.7h-.7zM37.4,45.9h.7v.7h-.7zM41.5,55.5h.7v.7h-.7zM25.6,50.3h.7v.7h-.7zM18.3,56.9h.7v.7h-.7zM52.2,45.5h.7v.7h-.7zM21.8,43.2h.7v.7h-.7zM40.6,45.5h.7v.7h-.7zM59.6,10.1h.7v.7h-.7zM37.6,77.2h.7v.7h-.7zM69.8,47.7h.7v.7h-.7zM48.1,50.2h.7v.7h-.7zM75.7,37.7h.7v.7h-.7zM64.0,45.6h.7v.7h-.7zM72.5,15.6h.7v.7h-.7zM36.0,76.8h.7v.7h-.7zM43.6,22.1h.7v.7h-.7zM74.3,52.9h.7v.7h-.7zM38.0,28.6h.7v.7h-.7zM22.7,29.5h.7v.7h-.7zM31.3,18.8h.7v.7h-.7zM26.4,47.2h.7v.7h-.7zM19.6,64.3h.7v.7h-.7zM76.4,51.1h.7v.7h-.7zM74.5,33.9h.7v.7h-.7zM41.8,68.3h.7v.7h-.7zM86.0,57.6h.7v.7h-.7zM49.5,56.4h.7v.7h-.7zM17.4,75.6h.7v.7h-.7zM37.9,75.1h.7v.7h-.7zM29.9,17.4h.7v.7h-.7zM40.8,52.9h.7v.7h-.7zM69.4,53.8h.7v.7h-.7zM29.4,83.0h.7v.7h-.7zM23.9,45.9h.7v.7h-.7zM21.0,45.1h.7v.7h-.7zM56.5,10.8h.7v.7h-.7zM19.8,64.2h.7v.7h-.7zM36.2,77.9h.7v.7h-.7zM62.9,50.1h.7v.7h-.7zM52.6,41.1h.7v.7h-.7zM60.4,35.9h.7v.7h-.7zM62.6,44.3h.7v.7h-.7zM52.3,69.5h.7v.7h-.7zM36.8,39.0h.7v.7h-.7zM29.8,20.4h.7v.7h-.7zM57.8,61.1h.7v.7h-.7zM35.0,27.6h.7v.7h-.7zM22.2,41.6h.7v.7h-.7zM89.8,62.3h.7v.7h-.7zM57.8,37.5h.7v.7h-.7zM20.1,79.8h.7v.7h-.7zM54.6,59.9h.7v.7h-.7zM64.9,21.7h.7v.7h-.7zM22.4,41.5h.7v.7h-.7zM29.1,83.9h.7v.7h-.7zM71.5,14.4h.7v.7h-.7zM68.3,13.5h.7v.7h-.7zM67.2,64.0h.7v.7h-.7zM52.8,33.1h.7v.7h-.7zM49.1,57.9h.7v.7h-.7zM18.2,62.5h.7v.7h-.7zM55.8,46.4h.7v.7h-.7zM29.2,82.1h.7v.7h-.7zM42.1,45.8h.7v.7h-.7zM21.1,71.7h.7v.7h-.7zM51.4,12.2h.7v.7h-.7zM57.1,51.6h.7v.7h-.7zM26.9,47.1h.7v.7h-.7zM68.1,37.3h.7v.7h-.7zM26.3,49.4h.7v.7h-.7zM17.8,55.1h.7v.7h-.7zM23.8,52.5h.7v.7h-.7zM41.7,53.4h.7v.7h-.7zM79.1,51.2h.7v.7h-.7zM30.5,86.7h.7v.7h-.7zM61.6,51.6h.7v.7h-.7zM36.4,43.2h.7v.7h-.7zM50.7,54.0h.7v.7h-.7zM58.4,63.5h.7v.7h-.7zM39.2,74.8h.7v.7h-.7zM31.1,34.9h.7v.7h-.7zM84.1,57.0h.7v.7h-.7zM22.8,78.0h.7v.7h-.7zM28.4,88.1h.7v.7h-.7zM20.7,41.5h.7v.7h-.7zM70.1,53.3h.7v.7h-.7zM73.1,61.7h.7v.7h-.7zM38.8,47.3h.7v.7h-.7zM19.8,71.4h.7v.7h-.7zM30.8,90.6h.7v.7h-.7zM61.2,54.0h.7v.7h-.7zM25.0,49.2h.7v.7h-.7zM31.3,35.9h.7v.7h-.7zM23.9,54.7h.7v.7h-.7zM68.4,45.1h.7v.7h-.7zM31.3,88.1h.7v.7h-.7zM22.4,48.5h.7v.7h-.7zM50.0,56.2h.7v.7h-.7zM78.6,61.0h.7v.7h-.7zM24.2,27.0h.7v.7h-.7zM19.1,65.1h.7v.7h-.7zM24.3,44.6h.7v.7h-.7zM63.2,57.9h.7v.7h-.7zM41.8,84.4h.7v.7h-.7zM50.4,29.5h.7v.7h-.7zM40.0,25.1h.7v.7h-.7zM66.2,58.6h.7v.7h-.7zM27.5,21.4h.7v.7h-.7zM92.8,40.2h.7v.7h-.7zM23.7,47.4h.7v.7h-.7zM39.4,37.8h.7v.7h-.7zM49.4,23.8h.7v.7h-.7zM57.2,35.6h.7v.7h-.7zM68.3,45.0h.7v.7h-.7zM27.9,21.1h.7v.7h-.7zM39.0,87.5h.7v.7h-.7zM63.2,49.0h.7v.7h-.7zM62.0,51.3h.7v.7h-.7zM39.8,79.7h.7v.7h-.7zM56.6,50.0h.7v.7h-.7zM55.3,34.5h.7v.7h-.7zM64.3,10.9h.7v.7h-.7zM45.2,10.1h.7v.7h-.7zM64.5,65.7h.7v.7h-.7zM85.6,53.1h.7v.7h-.7zM39.1,43.9h.7v.7h-.7zM35.5,78.0h.7v.7h-.7zM25.7,89.8h.7v.7h-.7zM46.3,55.8h.7v.7h-.7zM21.9,58.9h.7v.7h-.7zM33.8,88.1h.7v.7h-.7zM54.0,54.2h.7v.7h-.7zM42.1,52.6h.7v.7h-.7zM33.0,30.0h.7v.7h-.7zM66.9,12.9h.7v.7h-.7zM55.4,28.2h.7v.7h-.7zM37.2,46.4h.7v.7h-.7zM19.8,63.9h.7v.7h-.7zM33.8,80.2h.7v.7h-.7zM73.6,41.9h.7v.7h-.7zM26.8,21.1h.7v.7h-.7zM76.4,45.4h.7v.7h-.7zM19.6,80.4h.7v.7h-.7zM38.7,79.1h.7v.7h-.7zM20.9,62.9h.7v.7h-.7zM32.6,45.8h.7v.7h-.7zM51.9,48.3h.7v.7h-.7zM21.9,27.7h.7v.7h-.7zM68.1,45.5h.7v.7h-.7zM53.3,41.7h.7v.7h-.7zM42.5,51.5h.7v.7h-.7zM42.5,38.4h.7v.7h-.7zM23.6,24.4h.7v.7h-.7zM16.3,69.3h.7v.7h-.7zM33.9,78.1h.7v.7h-.7zM27.7,43.1h.7v.7h-.7zM46.9,57.1h.7v.7h-.7zM41.7,67.3h.7v.7h-.7zM57.3,45.0h.7v.7h-.7zM37.3,80.9h.7v.7h-.7zM60.0,33.2h.7v.7h-.7zM55.3,70.9h.7v.7h-.7zM46.5,48.3h.7v.7h-.7zM24.4,79.7h.7v.7h-.7zM37.2,85.5h.7v.7h-.7zM34.1,30.9h.7v.7h-.7zM18.7,60.5h.7v.7h-.7zM32.8,46.3h.7v.7h-.7zM47.4,86.6h.7v.7h-.7zM68.5,32.5h.7v.7h-.7zM78.6,77.4h.7v.7h-.7zM24.7,78.3h.7v.7h-.7zM53.2,52.6h.7v.7h-.7zM68.2,52.5h.7v.7h-.7zM47.2,67.1h.7v.7h-.7zM66.6,10.1h.7v.7h-.7zM78.2,45.2h.7v.7h-.7zM69.9,13.5h.7v.7h-.7zM56.9,71.4h.7v.7h-.7zM29.4,88.3h.7v.7h-.7zM51.4,11.3h.7v.7h-.7zM77.8,69.1h.7v.7h-.7zM46.3,43.8h.7v.7h-.7zM38.0,79.2h.7v.7h-.7zM44.8,66.3h.7v.7h-.7zM26.4,51.2h.7v.7h-.7zM36.4,86.7h.7v.7h-.7zM63.5,30.6h.7v.7h-.7zM25.8,79.7h.7v.7h-.7zM46.6,62.0h.7v.7h-.7zM32.7,35.4h.7v.7h-.7zM53.8,35.4h.7v.7h-.7zM49.1,11.2h.7v.7h-.7zM48.0,44.7h.7v.7h-.7zM51.7,75.4h.7v.7h-.7zM34.1,80.3h.7v.7h-.7zM66.5,10.3h.7v.7h-.7zM53.0,42.5h.7v.7h-.7zM36.0,76.3h.7v.7h-.7zM31.5,41.7h.7v.7h-.7zM21.6,77.5h.7v.7h-.7zM62.2,11.5h.7v.7h-.7zM61.7,68.1h.7v.7h-.7zM33.2,80.5h.7v.7h-.7zM71.9,51.4h.7v.7h-.7zM25.1,51.3h.7v.7h-.7zM41.3,44.0h.7v.7h-.7zM42.2,12.6h.7v.7h-.7zM43.9,62.8h.7v.7h-.7zM27.4,81.7h.7v.7h-.7zM72.8,38.1h.7v.7h-.7zM25.8,48.0h.7v.7h-.7zM48.0,13.1h.7v.7h-.7zM73.9,47.9h.7v.7h-.7zM65.8,53.9h.7v.7h-.7zM30.2,48.8h.7v.7h-.7zM21.7,79.5h.7v.7h-.7zM57.9,55.7h.7v.7h-.7zM31.8,32.1h.7v.7h-.7zM23.4,50.9h.7v.7h-.7zM57.5,20.1h.7v.7h-.7zM62.7,43.0h.7v.7h-.7zM44.6,49.0h.7v.7h-.7zM39.1,75.8h.7v.7h-.7zM51.4,51.2h.7v.7h-.7zM22.3,76.3h.7v.7h-.7zM67.0,45.5h.7v.7h-.7zM68.1,74.8h.7v.7h-.7zM18.4,86.1h.7v.7h-.7zM31.7,17.9h.7v.7h-.7zM75.3,37.7h.7v.7h-.7zM43.6,63.1h.7v.7h-.7zM48.2,34.9h.7v.7h-.7zM17.7,38.7h.7v.7h-.7zM68.2,35.9h.7v.7h-.7zM24.2,82.7h.7v.7h-.7zM24.9,42.8h.7v.7h-.7zM35.5,44.3h.7v.7h-.7zM36.7,15.5h.7v.7h-.7zM67.7,57.6h.7v.7h-.7zM46.2,13.5h.7v.7h-.7zM8.3,44.4h.7v.7h-.7zM38.4,24.9h.7v.7h-.7zM68.9,37.4h.7v.7h-.7zM46.7,84.6h.7v.7h-.7zM61.3,57.3h.7v.7h-.7zM44.0,22.1h.7v.7h-.7zM67.2,47.2h.7v.7h-.7zM22.3,32.2h.7v.7h-.7zM69.2,44.9h.7v.7h-.7zM59.1,12.3h.7v.7h-.7zM81.0,41.5h.7v.7h-.7zM66.2,41.9h.7v.7h-.7zM67.7,44.7h.7v.7h-.7zM46.1,52.9h.7v.7h-.7zM32.4,17.9h.7v.7h-.7zM74.9,57.5h.7v.7h-.7zM44.6,42.7h.7v.7h-.7zM71.8,46.4h.7v.7h-.7zM70.3,12.8h.7v.7h-.7zM68.9,22.8h.7v.7h-.7zM61.2,37.2h.7v.7h-.7zM56.1,42.8h.7v.7h-.7zM71.2,49.0h.7v.7h-.7zM57.4,51.6h.7v.7h-.7zM69.0,57.2h.7v.7h-.7zM52.5,57.0h.7v.7h-.7zM49.7,54.5h.7v.7h-.7zM54.3,57.4h.7v.7h-.7zM84.4,63.9h.7v.7h-.7zM57.0,35.1h.7v.7h-.7zM72.5,76.6h.7v.7h-.7zM64.5,51.0h.7v.7h-.7zM30.9,83.8h.7v.7h-.7zM49.9,47.1h.7v.7h-.7zM24.9,26.1h.7v.7h-.7zM65.2,12.5h.7v.7h-.7zM46.2,53.5h.7v.7h-.7zM42.9,66.7h.7v.7h-.7zM56.6,11.5h.7v.7h-.7zM30.5,47.0h.7v.7h-.7zM24.5,82.2h.7v.7h-.7zM43.3,62.6h.7v.7h-.7zM44.1,47.6h.7v.7h-.7zM65.7,67.4h.7v.7h-.7zM65.9,72.1h.7v.7h-.7zM24.5,52.3h.7v.7h-.7zM29.0,80.5h.7v.7h-.7zM63.9,20.1h.7v.7h-.7zM74.9,36.5h.7v.7h-.7zM51.7,71.0h.7v.7h-.7zM35.9,30.8h.7v.7h-.7zM64.6,52.6h.7v.7h-.7zM30.3,89.8h.7v.7h-.7zM41.5,24.1h.7v.7h-.7zM63.3,56.3h.7v.7h-.7zM46.8,49.4h.7v.7h-.7zM71.4,49.8h.7v.7h-.7zM60.7,68.9h.7v.7h-.7zM41.8,46.9h.7v.7h-.7zM82.8,37.9h.7v.7h-.7zM30.0,85.0h.7v.7h-.7zM47.0,40.7h.7v.7h-.7zM68.8,48.2h.7v.7h-.7zM19.8,47.1h.7v.7h-.7zM18.3,71.1h.7v.7h-.7zM78.1,18.6h.7v.7h-.7zM74.1,50.7h.7v.7h-.7zM38.7,47.8h.7v.7h-.7zM42.0,65.2h.7v.7h-.7zM72.6,45.1h.7v.7h-.7zM53.8,20.6h.7v.7h-.7zM23.4,87.2h.7v.7h-.7zM32.2,36.9h.7v.7h-.7zM23.3,47.7h.7v.7h-.7zM45.4,48.2h.7v.7h-.7zM28.2,44.4h.7v.7h-.7zM27.6,45.2h.7v.7h-.7zM19.5,65.9h.7v.7h-.7zM18.7,37.8h.7v.7h-.7zM58.1,35.7h.7v.7h-.7zM56.4,40.5h.7v.7h-.7zM17.9,64.8h.7v.7h-.7zM49.2,42.8h.7v.7h-.7zM34.7,28.9h.7v.7h-.7zM50.9,50.8h.7v.7h-.7zM38.4,48.0h.7v.7h-.7zM80.5,40.8h.7v.7h-.7zM71.4,68.7h.7v.7h-.7zM75.5,37.6h.7v.7h-.7zM33.0,81.6h.7v.7h-.7zM56.9,23.9h.7v.7h-.7zM25.5,82.5h.7v.7h-.7zM40.3,83.7h.7v.7h-.7zM42.7,57.2h.7v.7h-.7zM34.9,28.9h.7v.7h-.7zM72.0,36.3h.7v.7h-.7zM55.0,11.5h.7v.7h-.7zM42.6,12.8h.7v.7h-.7zM48.9,9.8h.7v.7h-.7zM43.7,59.2h.7v.7h-.7zM47.5,47.6h.7v.7h-.7zM20.6,50.7h.7v.7h-.7zM20.0,37.2h.7v.7h-.7zM33.6,42.9h.7v.7h-.7zM44.1,58.2h.7v.7h-.7zM80.8,38.1h.7v.7h-.7zM58.8,58.9h.7v.7h-.7zM21.3,76.0h.7v.7h-.7zM40.8,51.1h.7v.7h-.7zM21.7,58.3h.7v.7h-.7zM37.7,77.5h.7v.7h-.7zM24.7,53.1h.7v.7h-.7zM57.1,61.7h.7v.7h-.7zM50.7,55.4h.7v.7h-.7zM61.1,45.4h.7v.7h-.7zM63.2,69.0h.7v.7h-.7zM37.5,79.9h.7v.7h-.7zM69.0,55.4h.7v.7h-.7zM67.2,46.5h.7v.7h-.7zM27.3,80.9h.7v.7h-.7zM41.7,13.0h.7v.7h-.7zM69.5,13.4h.7v.7h-.7zM19.5,66.3h.7v.7h-.7zM49.5,55.0h.7v.7h-.7zM56.5,41.6h.7v.7h-.7zM45.7,24.0h.7v.7h-.7zM91.9,69.3h.7v.7h-.7zM42.9,67.9h.7v.7h-.7zM68.2,13.5h.7v.7h-.7zM35.7,81.3h.7v.7h-.7zM55.5,67.7h.7v.7h-.7zM54.3,31.4h.7v.7h-.7zM29.7,49.2h.7v.7h-.7zM43.0,51.0h.7v.7h-.7zM51.4,69.2h.7v.7h-.7zM22.9,76.3h.7v.7h-.7zM30.1,39.9h.7v.7h-.7zM43.1,43.8h.7v.7h-.7zM42.8,71.1h.7v.7h-.7zM65.7,41.5h.7v.7h-.7zM42.9,63.3h.7v.7h-.7zM86.2,52.5h.7v.7h-.7zM23.7,47.2h.7v.7h-.7zM60.2,12.0h.7v.7h-.7zM41.4,13.2h.7v.7h-.7zM34.7,79.2h.7v.7h-.7zM67.5,48.8h.7v.7h-.7zM22.3,32.5h.7v.7h-.7zM36.4,38.1h.7v.7h-.7zM49.3,65.3h.7v.7h-.7zM72.8,18.1h.7v.7h-.7zM36.3,40.9h.7v.7h-.7zM57.0,22.9h.7v.7h-.7zM31.0,17.4h.7v.7h-.7zM35.9,90.9h.7v.7h-.7zM47.0,12.6h.7v.7h-.7zM29.6,86.3h.7v.7h-.7zM24.1,50.4h.7v.7h-.7zM56.1,33.0h.7v.7h-.7zM22.4,76.2h.7v.7h-.7zM66.0,12.1h.7v.7h-.7zM45.4,59.0h.7v.7h-.7zM19.1,70.2h.7v.7h-.7zM85.4,47.2h.7v.7h-.7zM56.8,20.4h.7v.7h-.7zM54.4,20.9h.7v.7h-.7zM74.3,47.4h.7v.7h-.7zM45.0,57.1h.7v.7h-.7zM60.9,54.4h.7v.7h-.7zM24.9,85.1h.7v.7h-.7zM17.7,46.7h.7v.7h-.7zM39.5,74.7h.7v.7h-.7zM38.2,49.9h.7v.7h-.7zM66.6,22.8h.7v.7h-.7zM43.1,68.9h.7v.7h-.7zM34.7,46.4h.7v.7h-.7zM44.5,50.3h.7v.7h-.7zM33.3,45.8h.7v.7h-.7zM29.1,43.7h.7v.7h-.7zM22.2,47.5h.7v.7h-.7zM24.3,47.7h.7v.7h-.7zM48.1,39.0h.7v.7h-.7zM55.4,39.6h.7v.7h-.7zM72.3,15.4h.7v.7h-.7zM37.7,91.4h.7v.7h-.7zM24.6,85.4h.7v.7h-.7zM46.5,51.8h.7v.7h-.7zM57.8,9.9h.7v.7h-.7zM28.3,21.1h.7v.7h-.7zM20.8,60.2h.7v.7h-.7zM63.4,37.2h.7v.7h-.7zM68.6,24.2h.7v.7h-.7zM47.8,32.5h.7v.7h-.7zM61.4,48.0h.7v.7h-.7zM32.6,45.8h.7v.7h-.7zM37.5,30.4h.7v.7h-.7zM31.4,79.1h.7v.7h-.7zM42.8,62.9h.7v.7h-.7zM88.1,37.7h.7v.7h-.7zM51.8,32.5h.7v.7h-.7zM49.7,21.6h.7v.7h-.7zM47.7,65.6h.7v.7h-.7zM39.8,74.4h.7v.7h-.7zM59.1,20.8h.7v.7h-.7zM71.6,13.3h.7v.7h-.7zM33.6,14.3h.7v.7h-.7zM32.0,82.8h.7v.7h-.7zM38.9,79.3h.7v.7h-.7zM50.4,45.7h.7v.7h-.7zM67.8,31.9h.7v.7h-.7zM27.5,49.2h.7v.7h-.7zM41.4,51.0h.7v.7h-.7zM65.4,59.9h.7v.7h-.7zM39.6,47.2h.7v.7h-.7zM59.8,48.9h.7v.7h-.7zM87.1,47.4h.7v.7h-.7zM57.9,27.6h.7v.7h-.7zM47.0,12.6h.7v.7h-.7zM91.4,48.4h.7v.7h-.7zM33.9,87.9h.7v.7h-.7zM55.5,39.2h.7v.7h-.7zM32.6,31.5h.7v.7h-.7zM78.1,49.8h.7v.7h-.7zM55.4,36.1h.7v.7h-.7zM49.0,12.7h.7v.7h-.7zM60.0,21.2h.7v.7h-.7zM58.5,70.9h.7v.7h-.7zM58.1,43.5h.7v.7h-.7zM73.6,9.2h.7v.7h-.7zM55.2,56.6h.7v.7h-.7zM30.0,17.9h.7v.7h-.7zM39.9,23.9h.7v.7h-.7zM32.9,85.5h.7v.7h-.7zM19.9,36.2h.7v.7h-.7zM72.0,33.8h.7v.7h-.7zM74.4,54.7h.7v.7h-.7zM63.6,12.3h.7v.7h-.7zM64.4,57.3h.7v.7h-.7zM67.3,37.8h.7v.7h-.7zM22.9,74.4h.7v.7h-.7zM28.1,80.8h.7v.7h-.7zM40.8,51.8h.7v.7h-.7zM76.2,72.1h.7v.7h-.7zM68.3,48.5h.7v.7h-.7zM60.8,48.7h.7v.7h-.7zM72.7,50.8h.7v.7h-.7zM70.1,13.9h.7v.7h-.7zM43.5,61.3h.7v.7h-.7zM21.1,40.8h.7v.7h-.7zM68.4,49.1h.7v.7h-.7zM39.9,76.1h.7v.7h-.7zM37.2,79.8h.7v.7h-.7zM32.6,45.6h.7v.7h-.7zM20.2,61.5h.7v.7h-.7zM73.6,54.3h.7v.7h-.7zM38.7,24.6h.7v.7h-.7zM73.2,17.4h.7v.7h-.7zM28.3,49.9h.7v.7h-.7zM53.8,30.5h.7v.7h-.7zM18.4,60.0h.7v.7h-.7zM35.0,27.6h.7v.7h-.7zM86.2,66.7h.7v.7h-.7zM48.7,63.5h.7v.7h-.7zM28.9,49.7h.7v.7h-.7zM70.0,47.0h.7v.7h-.7zM37.2,45.4h.7v.7h-.7zM67.3,65.3h.7v.7h-.7zM21.0,62.9h.7v.7h-.7zM45.9,56.1h.7v.7h-.7zM41.9,24.3h.7v.7h-.7zM18.1,66.2h.7v.7h-.7zM59.7,47.6h.7v.7h-.7zM39.3,73.1h.7v.7h-.7zM38.6,49.9h.7v.7h-.7zM57.8,59.3h.7v.7h-.7zM62.8,20.4h.7v.7h-.7zM25.2,24.7h.7v.7h-.7zM75.9,62.9h.7v.7h-.7zM37.4,26.2h.7v.7h-.7zM44.2,63.5h.7v.7h-.7zM20.9,84.6h.7v.7h-.7zM39.0,26.1h.7v.7h-.7zM45.1,56.5h.7v.7h-.7zM63.8,57.3h.7v.7h-.7zM77.6,64.4h.7v.7h-.7zM34.3,28.0h.7v.7h-.7zM20.2,63.0h.7v.7h-.7zM50.1,21.7h.7v.7h-.7zM71.4,35.7h.7v.7h-.7zM24.4,26.9h.7v.7h-.7zM25.1,50.4h.7v.7h-.7zM21.5,78.7h.7v.7h-.7zM70.7,55.2h.7v.7h-.7zM36.2,83.6h.7v.7h-.7zM46.7,32.5h.7v.7h-.7zM30.8,88.3h.7v.7h-.7zM70.1,34.5h.7v.7h-.7zM22.1,54.3h.7v.7h-.7zM54.4,20.0h.7v.7h-.7zM22.1,75.1h.7v.7h-.7zM86.9,42.3h.7v.7h-.7zM62.0,11.5h.7v.7h-.7zM35.2,83.8h.7v.7h-.7zM46.7,56.7h.7v.7h-.7zM33.0,38.0h.7v.7h-.7zM74.7,65.8h.7v.7h-.7zM30.0,79.8h.7v.7h-.7zM76.4,38.2h.7v.7h-.7zM25.6,87.6h.7v.7h-.7zM46.6,21.8h.7v.7h-.7zM34.1,85.3h.7v.7h-.7zM63.1,36.7h.7v.7h-.7zM55.8,72.1h.7v.7h-.7zM34.7,92.0h.7v.7h-.7zM51.4,55.4h.7v.7h-.7zM32.0,78.5h.7v.7h-.7zM38.9,48.9h.7v.7h-.7zM36.6,80.4h.7v.7h-.7zM24.8,80.0h.7v.7h-.7zM33.6,29.5h.7v.7h-.7zM73.5,14.3h.7v.7h-.7zM74.9,32.4h.7v.7h-.7zM50.5,59.8h.7v.7h-.7zM72.9,62.0h.7v.7h-.7zM45.3,31.4h.7v.7h-.7zM18.2,37.4h.7v.7h-.7zM74.2,51.0h.7v.7h-.7zM19.6,49.9h.7v.7h-.7zM34.9,31.8h.7v.7h-.7zM73.8,45.7h.7v.7h-.7zM30.1,42.1h.7v.7h-.7zM48.0,79.0h.7v.7h-.7zM53.1,11.7h.7v.7h-.7zM24.5,25.7h.7v.7h-.7zM50.0,34.5h.7v.7h-.7zM39.5,91.8h.7v.7h-.7zM36.3,43.3h.7v.7h-.7zM67.8,50.9h.7v.7h-.7zM18.2,57.4h.7v.7h-.7zM46.0,8.6h.7v.7h-.7zM27.8,84.0h.7v.7h-.7zM37.7,76.6h.7v.7h-.7zM50.1,21.8h.7v.7h-.7zM40.9,51.1h.7v.7h-.7zM65.9,57.0h.7v.7h-.7zM61.0,11.8h.7v.7h-.7zM39.8,73.3h.7v.7h-.7zM52.3,52.6h.7v.7h-.7zM66.9,62.6h.7v.7h-.7zM28.9,43.5h.7v.7h-.7zM21.9,31.4h.7v.7h-.7zM45.6,22.1h.7v.7h-.7zM27.3,84.9h.7v.7h-.7zM55.1,30.5h.7v.7h-.7zM53.6,57.7h.7v.7h-.7zM54.5,46.7h.7v.7h-.7zM60.3,55.1h.7v.7h-.7zM38.2,45.5h.7v.7h-.7zM76.3,32.5h.7v.7h-.7zM36.9,27.1h.7v.7h-.7zM80.7,54.5h.7v.7h-.7zM27.6,82.6h.7v.7h-.7zM44.7,45.7h.7v.7h-.7zM46.8,43.9h.7v.7h-.7zM56.9,39.7h.7v.7h-.7zM20.7,82.0h.7v.7h-.7zM31.7,43.2h.7v.7h-.7zM32.2,36.4h.7v.7h-.7zM85.0,80.8h.7v.7h-.7zM70.8,67.0h.7v.7h-.7zM34.3,17.2h.7v.7h-.7zM41.4,23.1h.7v.7h-.7zM61.5,61.2h.7v.7h-.7zM63.6,42.3h.7v.7h-.7zM54.6,47.6h.7v.7h-.7zM37.2,77.3h.7v.7h-.7zM45.6,46.9h.7v.7h-.7zM38.8,79.4h.7v.7h-.7zM20.7,55.4h.7v.7h-.7zM45.9,12.9h.7v.7h-.7zM70.7,70.5h.7v.7h-.7zM65.4,59.0h.7v.7h-.7zM19.0,38.3h.7v.7h-.7zM20.2,37.2h.7v.7h-.7zM43.7,62.1h.7v.7h-.7zM43.6,49.4h.7v.7h-.7zM41.7,67.5h.7v.7h-.7zM70.5,22.5h.7v.7h-.7zM62.6,46.6h.7v.7h-.7zM31.9,33.7h.7v.7h-.7zM68.9,63.5h.7v.7h-.7zM38.7,41.2h.7v.7h-.7zM37.0,75.6h.7v.7h-.7zM30.5,46.7h.7v.7h-.7zM18.9,84.6h.7v.7h-.7zM62.0,56.1h.7v.7h-.7zM43.2,61.3h.7v.7h-.7zM37.7,84.8h.7v.7h-.7zM43.3,89.2h.7v.7h-.7zM89.4,54.0h.7v.7h-.7zM35.5,77.6h.7v.7h-.7zM15.9,66.6h.7v.7h-.7zM21.2,72.7h.7v.7h-.7z" fill="#a4a4a4"/>
<path d="M28.8,43.0 27.8,43.2 26.8,43.1 25.8,42.9 25.2,42.7 24.2,42.5 23.4,42.2 22.8,42.0 22.2,41.7 21.8,41.2 21.2,40.4 21.1,39.8 21.1,38.8 21.2,37.8 21.4,37.2 21.8,36.6 22.2,35.8 22.4,35.2 22.6,34.2 22.5,33.2 22.6,32.2 22.7,31.2 22.8,30.8 23.0,29.8 23.2,29.1 23.6,28.2 24.0,27.8 24.4,27.2 24.8,26.8 25.2,26.1 25.7,25.2 25.9,24.8 26.2,24.1 26.8,23.3 27.2,22.8 27.8,22.3 28.2,22.0 28.8,21.6 29.2,21.2 29.8,20.7 30.2,20.1 30.8,19.4 31.2,18.8 31.8,18.3 32.2,18.1 33.2,17.8 33.8,17.6 34.8,17.4 35.2,17.2 36.0,16.8 36.7,16.2 37.2,15.9 37.8,15.7 38.8,15.4 39.3,15.2 40.2,15.1 41.2,15.0 42.1,14.8 42.8,14.5 43.6,14.2 44.2,14.1 45.2,13.9 46.2,13.8 46.8,13.6 47.8,13.3 48.2,13.2 49.2,13.1 50.2,13.0 51.2,13.0 52.2,12.9 52.8,12.7 53.8,12.3 54.2,12.2 55.2,12.2 56.2,12.1 57.2,12.1 58.2,12.2 58.8,12.4 59.8,12.6 60.8,12.6 61.8,12.5 62.8,12.4 63.8,12.3 64.2,12.2 65.1,12.2 65.8,12.4 66.5,12.8 67.1,13.2 67.8,13.7 68.2,13.9 69.2,14.0 70.2,14.1 70.8,14.3 71.4,14.8 71.8,15.2 72.2,16.2 72.3,16.8 72.3,17.8 72.2,18.5 72.1,19.2 71.8,20.0 71.3,20.8 71.0,21.2 70.4,21.8 69.8,21.9 69.1,21.8 68.2,21.4 67.8,21.2 66.8,21.1 65.8,20.8 65.2,20.6 64.6,20.2 63.8,19.8 63.2,19.6 62.2,19.5 61.4,19.8 60.8,20.1 60.2,20.3 59.2,20.5 58.4,20.2 57.8,20.1 56.8,20.1 55.8,20.2 54.8,20.2 53.8,20.1 52.8,20.2 52.2,20.4 51.7,20.8 50.8,21.2 50.2,21.3 49.2,21.3 48.2,21.3 47.2,21.4 46.2,21.6 45.3,21.8 44.8,21.9 43.8,22.1 43.0,22.2 42.2,22.4 41.4,22.8 40.8,23.1 40.2,23.3 39.5,23.8 38.8,24.1 38.2,24.4 37.7,24.8 36.9,25.2 36.2,25.7 35.8,26.2 35.4,26.8 35.1,27.2 34.7,27.8 34.2,28.2 33.8,28.9 33.3,29.8 33.0,30.2 32.6,30.8 32.2,31.3 31.8,31.9 31.2,32.5 30.8,33.2 30.7,33.8 30.8,34.3 31.1,35.2 31.2,36.2 30.9,37.2 30.7,37.8 30.4,38.8 30.2,39.4 30.1,40.2 29.9,41.2 29.7,41.8 29.2,42.6 28.8,43.0ZM29.2,79.8 28.2,79.8 27.8,79.7 26.8,79.2 26.2,79.0 25.8,78.7 25.1,78.2 24.5,77.8 23.9,77.2 23.5,76.8 23.2,76.1 23.1,75.2 22.9,74.2 22.6,73.8 22.2,73.2 21.8,72.5 21.3,71.8 21.1,71.2 20.8,70.3 20.7,69.8 20.5,68.8 20.4,67.8 20.2,67.1 20.2,66.2 20.2,65.7 20.5,64.8 20.8,63.8 20.8,63.2 20.9,62.2 21.1,61.2 21.2,60.6 21.5,59.8 21.8,58.8 21.9,58.2 22.2,57.6 22.7,56.8 23.0,56.2 23.2,55.7 23.8,54.9 24.2,54.2 24.7,53.8 25.1,53.2 25.5,52.8 25.9,52.2 26.3,51.8 26.8,51.2 27.3,50.8 28.0,50.2 28.8,49.9 29.2,49.6 29.8,49.2 30.3,48.8 30.8,48.1 31.2,47.7 32.2,47.6 33.1,47.8 33.8,47.9 34.6,48.2 35.2,48.6 35.8,48.9 36.6,49.2 37.2,49.5 37.8,49.8 38.2,50.3 38.8,51.0 39.2,51.5 39.8,51.9 40.2,52.3 40.8,52.9 41.2,53.7 41.4,54.2 41.6,55.2 41.8,55.8 42.2,56.5 42.7,57.2 42.9,57.8 42.9,58.8 42.8,59.8 42.8,60.8 42.7,61.2 42.7,62.2 42.7,63.2 42.5,64.2 42.2,64.9 41.9,65.8 41.7,66.2 41.6,67.2 41.4,68.2 41.2,68.9 40.8,69.8 40.5,70.2 40.1,70.8 39.8,71.4 39.3,72.2 39.1,72.8 38.8,73.3 38.2,74.1 37.8,74.8 37.4,75.2 36.8,75.8 36.2,76.1 35.8,76.4 35.2,76.8 34.7,77.2 34.1,77.8 33.2,78.2 32.8,78.3 31.8,78.6 31.2,78.8 30.5,79.2 29.8,79.6 29.2,79.8Z" fill="#d2d2d2" stroke="#2e2e2e" stroke-width="0.75" fill-rule="evenodd"/>
<path d="M70.2,19.4 69.2,19.7 68.2,19.6 67.2,19.7 66.2,19.6 65.4,19.2 64.8,18.8 64.2,18.5 63.8,18.2 62.8,18.0 61.8,18.0 61.1,18.2 60.2,18.5 59.2,18.6 58.2,18.5 57.2,18.6 56.7,18.8 55.8,19.0 54.8,19.0 53.8,18.8 53.2,18.7 52.2,18.6 51.4,18.8 50.8,19.0 50.2,19.2 49.2,19.5 48.2,19.6 47.2,19.7 46.2,19.6 45.3,19.2 44.8,18.9 44.2,18.4 43.8,17.8 43.6,17.2 43.8,16.6 44.2,16.1 45.2,16.0 46.2,16.1 47.2,15.8 47.8,15.3 48.2,15.0 48.9,14.8 49.8,14.6 50.8,14.6 51.8,14.6 52.8,14.5 53.6,14.2 54.2,14.0 55.2,13.8 55.8,13.7 56.8,13.5 57.8,13.5 58.8,13.7 59.2,13.9 60.2,14.2 60.8,14.3 61.4,14.2 62.2,14.0 63.0,13.8 63.8,13.6 64.8,13.7 65.2,13.9 65.8,14.2 66.4,14.8 67.2,15.2 67.8,15.4 68.8,15.7 69.2,15.9 69.8,16.4 70.2,17.0 70.6,17.8 70.7,18.8 70.2,19.4ZM28.2,41.8 27.2,42.1 26.2,42.0 25.2,41.8 24.8,41.6 23.8,41.2 23.2,40.8 22.8,40.2 22.6,39.8 22.5,38.8 22.7,37.8 22.9,37.2 23.2,36.7 23.6,35.8 23.7,34.8 23.6,33.8 23.6,32.8 23.7,31.8 23.8,31.2 24.0,30.2 24.2,29.5 24.6,28.8 25.0,28.2 25.5,27.8 25.9,27.2 26.2,26.5 26.5,25.8 26.8,25.2 27.2,24.4 27.8,23.9 28.2,23.5 28.8,23.2 29.4,22.8 30.0,22.2 30.6,21.8 31.0,21.2 31.5,20.8 31.9,20.2 32.4,19.8 33.2,19.3 33.8,19.2 34.8,19.0 35.4,18.8 36.2,18.4 36.8,18.2 37.6,17.8 38.2,17.6 39.2,17.5 40.2,17.3 40.8,17.2 41.2,17.3 42.0,17.8 42.3,18.2 42.3,19.2 42.0,19.8 41.5,20.2 40.8,20.5 39.8,20.6 39.0,20.8 38.7,21.2 38.2,21.8 37.8,22.3 37.0,22.8 36.3,23.2 35.8,23.7 35.3,24.2 34.9,24.8 34.6,25.2 34.2,25.8 33.8,26.4 33.2,27.0 32.8,27.6 32.3,28.2 32.1,28.8 31.8,29.6 31.5,30.2 31.1,30.8 30.7,31.2 30.2,31.8 29.7,32.2 29.2,33.2 29.2,33.8 29.2,34.7 29.4,35.2 29.4,36.2 29.2,37.1 29.1,37.8 28.8,38.8 28.8,39.8 28.8,40.8 28.6,41.2 28.2,41.8ZM29.8,77.3 28.9,77.2 28.2,77.2 27.2,77.2 26.2,77.1 25.5,76.8 25.0,76.2 24.8,75.6 24.7,74.8 24.3,73.8 23.9,73.2 23.4,72.8 23.1,72.2 22.8,71.4 22.5,70.8 22.2,70.2 21.8,69.2 21.7,68.8 21.5,67.8 21.3,66.8 21.3,65.8 21.5,64.8 21.7,63.8 21.8,63.2 21.9,62.2 22.1,61.2 22.3,60.8 22.7,59.8 22.9,59.2 23.2,58.6 23.6,57.8 23.9,57.2 24.2,56.6 24.8,55.8 25.2,55.2 25.6,54.8 26.1,54.2 26.6,53.8 27.1,53.2 27.7,52.8 28.2,52.3 28.8,52.0 29.2,51.6 30.0,51.2 30.8,50.9 31.2,50.6 31.8,50.2 32.3,49.8 33.2,49.5 34.0,49.8 34.8,50.2 35.2,50.5 35.8,50.8 36.4,51.2 36.9,51.8 37.3,52.2 37.8,52.8 38.5,53.2 39.1,53.8 39.5,54.2 39.8,54.8 40.2,55.8 40.5,56.2 40.8,56.8 41.2,57.8 41.4,58.2 41.6,59.2 41.5,60.2 41.4,61.2 41.3,62.2 41.3,63.2 41.2,63.9 41.1,64.8 40.8,65.8 40.6,66.2 40.5,67.2 40.4,68.2 40.2,68.8 39.8,69.8 39.4,70.2 39.0,70.8 38.6,71.2 38.2,71.8 37.8,72.6 37.4,73.2 37.0,73.8 36.5,74.2 35.8,74.7 35.2,75.0 34.7,75.2 33.9,75.8 33.2,76.2 32.8,76.5 31.8,76.7 31.2,76.9 30.2,77.2 29.8,77.3Z" fill="#b4b4b4" stroke="#5a5a5a" stroke-width="0.4" fill-rule="evenodd"/>
<path d="M26.8,40.3 25.8,40.4 25.2,40.2 24.6,39.8 24.4,38.8 24.7,37.8 24.8,37.2 25.0,36.2 25.1,35.2 25.0,34.2 24.9,33.2 25.0,32.2 25.2,31.3 25.4,30.8 25.6,29.8 25.9,29.2 26.2,28.7 26.8,28.1 27.2,27.3 27.5,26.8 27.8,26.2 28.2,25.5 28.8,25.1 29.4,24.8 30.2,24.4 30.8,24.2 31.4,23.8 31.9,23.2 32.2,22.7 32.8,22.1 33.5,22.2 33.4,23.2 33.1,23.8 32.8,24.3 32.2,24.8 31.7,25.2 31.2,26.0 30.8,26.6 30.2,27.1 29.9,27.8 30.0,28.8 30.1,29.8 29.8,30.5 29.2,31.1 28.8,31.6 28.3,32.2 28.0,32.8 27.7,33.2 27.6,34.2 27.7,35.2 27.8,35.8 27.7,36.2 27.5,37.2 27.2,38.0 27.0,38.8 26.9,39.8 26.8,40.3ZM31.8,75.3 30.8,75.5 29.8,75.7 28.8,75.6 27.8,75.5 27.0,75.2 26.4,74.8 26.1,74.2 25.8,73.5 25.2,72.8 24.8,72.3 24.3,71.8 24.0,71.2 23.7,70.8 23.2,69.8 23.0,69.2 22.8,68.7 22.5,67.8 22.3,66.8 22.2,66.2 22.2,65.3 22.3,64.8 22.5,63.8 22.7,62.8 22.8,62.2 23.1,61.2 23.3,60.8 23.8,59.8 24.1,59.2 24.4,58.8 24.8,58.1 25.2,57.3 25.6,56.8 25.9,56.2 26.3,55.8 26.8,55.2 27.2,54.7 27.8,54.2 28.5,53.8 29.2,53.4 29.8,53.1 30.4,52.8 31.2,52.3 31.8,52.1 32.8,51.9 33.8,52.0 34.8,52.2 35.2,52.4 35.8,52.8 36.3,53.2 37.0,53.8 37.7,54.2 38.2,54.8 38.7,55.2 39.0,55.8 39.3,56.2 39.8,57.0 40.1,57.8 40.4,58.2 40.6,59.2 40.6,60.2 40.4,61.2 40.3,62.2 40.3,63.2 40.2,64.0 40.1,64.8 39.9,65.8 39.8,66.3 39.6,67.2 39.5,68.2 39.2,69.0 38.8,69.8 38.4,70.2 38.0,70.8 37.6,71.2 37.2,71.8 36.8,72.4 36.2,73.1 35.8,73.5 35.2,73.9 34.3,74.2 33.8,74.5 33.2,74.8 32.2,75.2 31.8,75.3Z" fill="#c4c4c4" stroke="#6a6a6a" stroke-width="0.35" fill-rule="evenodd"/>
<path d="M31.2,74.3 30.2,74.5 29.2,74.6 28.2,74.4 27.8,74.2 27.2,73.8 26.8,73.2 26.2,72.5 25.8,71.9 25.2,71.3 24.8,70.8 24.5,70.2 24.2,69.8 23.8,68.8 23.6,68.2 23.3,67.2 23.2,66.8 23.0,65.8 23.1,64.8 23.2,63.8 23.4,63.2 23.6,62.2 23.8,61.8 24.2,60.8 24.5,60.2 24.8,59.8 25.2,59.1 25.8,58.3 26.1,57.8 26.4,57.2 26.8,56.8 27.2,56.1 27.8,55.6 28.2,55.1 28.8,54.7 29.6,54.2 30.2,53.9 30.8,53.7 31.8,53.3 32.2,53.2 33.2,53.1 34.2,53.2 34.8,53.5 35.3,53.8 36.0,54.2 36.8,54.7 37.2,55.1 37.8,55.6 38.2,56.2 38.6,56.8 38.9,57.2 39.2,57.8 39.7,58.8 39.8,59.2 39.8,60.2 39.7,60.8 39.5,61.8 39.4,62.8 39.4,63.8 39.3,64.8 39.2,65.2 39.0,66.2 38.9,67.2 38.8,67.8 38.5,68.8 38.2,69.2 37.8,69.8 37.2,70.4 36.8,71.0 36.2,71.6 35.8,72.2 35.2,72.7 34.8,73.0 33.9,73.2 33.2,73.5 32.7,73.8 31.8,74.2 31.2,74.3Z" fill="#a0a0a0" stroke="#707070" stroke-width="0.35" fill-rule="evenodd"/>
<path d="M30.2,73.3 29.2,73.3 28.8,73.2 27.9,72.8 27.3,72.2 26.9,71.8 26.5,71.2 26.0,70.8 25.7,70.2 25.2,69.6 24.8,68.8 24.6,68.2 24.3,67.2 24.2,66.8 24.1,65.8 24.0,64.8 24.1,63.8 24.3,63.2 24.6,62.2 24.8,61.8 25.2,60.9 25.6,60.2 25.9,59.8 26.2,59.1 26.8,58.4 27.2,57.8 27.6,57.2 28.1,56.8 28.6,56.2 29.2,55.8 29.8,55.4 30.2,55.1 31.0,54.8 31.8,54.5 32.8,54.4 33.8,54.4 34.7,54.8 35.2,55.0 35.8,55.3 36.5,55.8 37.0,56.2 37.5,56.8 37.8,57.2 38.2,57.9 38.7,58.8 38.8,59.2 38.8,60.2 38.7,60.8 38.6,61.8 38.6,62.8 38.6,63.8 38.5,64.8 38.3,65.8 38.2,66.2 38.0,67.2 37.8,68.0 37.3,68.8 37.0,69.2 36.6,69.8 36.2,70.2 35.7,70.8 35.2,71.3 34.6,71.8 33.8,72.1 33.1,72.2 32.2,72.6 31.8,72.8 30.8,73.2 30.2,73.3Z" fill="#b6b6b6" stroke="#7a7a7a" stroke-width="0.32" fill-rule="evenodd"/>
<path d="M30.2,71.8 29.7,71.8 28.8,71.5 28.2,71.2 27.6,70.8 27.1,70.2 26.7,69.8 26.2,69.2 25.8,68.2 25.7,67.8 25.5,66.8 25.2,65.9 25.1,65.2 25.0,64.2 25.2,63.2 25.4,62.8 25.8,62.0 26.1,61.2 26.4,60.8 26.8,60.0 27.2,59.2 27.5,58.8 27.9,58.2 28.4,57.8 29.0,57.2 29.8,56.8 30.2,56.6 31.2,56.3 31.8,56.2 32.8,56.1 33.8,56.0 34.7,56.2 35.2,56.5 35.8,56.8 36.3,57.2 36.8,57.8 37.2,58.4 37.7,59.2 37.8,59.8 37.8,60.7 37.7,61.2 37.7,62.2 37.8,63.0 37.8,63.8 37.7,64.2 37.5,65.2 37.3,66.2 37.1,66.8 36.8,67.7 36.4,68.2 36.0,68.8 35.6,69.2 35.2,69.8 34.8,70.3 34.2,70.8 33.2,71.1 32.8,71.3 31.8,71.5 30.8,71.7 30.2,71.8Z" fill="#989898" stroke="#7a7a7a" stroke-width="0.32" fill-rule="evenodd"/>
<path d="M32.2,70.3 31.2,70.5 30.2,70.4 29.6,70.2 28.8,69.9 28.2,69.6 27.8,69.2 27.2,68.5 26.9,67.8 26.8,67.0 26.6,66.2 26.2,65.3 26.1,64.8 26.1,63.8 26.2,63.1 26.6,62.2 26.9,61.8 27.2,61.1 27.7,60.2 27.9,59.8 28.3,59.2 28.8,58.7 29.5,58.2 30.2,58.0 31.2,57.8 32.2,57.8 32.8,57.7 33.8,57.7 34.3,57.8 35.2,58.2 35.8,58.7 36.2,59.2 36.5,59.8 36.7,60.8 36.8,61.3 36.8,62.2 36.9,63.2 36.8,64.2 36.6,64.8 36.3,65.8 36.1,66.2 35.8,67.1 35.4,67.8 35.0,68.2 34.6,68.8 34.2,69.2 33.6,69.8 32.8,70.2 32.2,70.3Z" fill="#adadad" stroke="#7a7a7a" stroke-width="0.32" fill-rule="evenodd"/>
<path d="M32.2,68.9 31.2,69.2 30.2,69.2 29.2,68.8 28.8,68.5 28.2,67.9 28.0,67.2 27.8,66.5 27.5,65.8 27.2,64.8 27.1,64.2 27.2,63.3 27.5,62.8 27.8,62.2 28.2,61.4 28.7,60.8 29.1,60.2 29.8,59.8 30.2,59.6 31.2,59.5 32.2,59.3 32.8,59.2 33.8,59.2 34.2,59.4 34.8,59.8 35.2,60.7 35.4,61.2 35.6,62.2 35.5,63.2 35.4,64.2 35.2,65.0 35.0,65.8 34.8,66.3 34.2,67.1 33.8,67.7 33.2,68.2 32.8,68.6 32.2,68.9Z" fill="#cccccc" stroke="#7a7a7a" stroke-width="0.32" fill-rule="evenodd"/>
<path d="M30.8,67.8 30.2,67.8 29.4,67.2 29.1,66.8 28.8,66.0 28.5,65.2 28.3,64.2 28.5,63.2 28.8,62.8 29.2,62.1 29.8,61.6 30.5,61.2 31.2,61.1 32.2,61.1 32.9,61.2 33.5,61.8 33.8,62.3 33.9,63.2 34.0,64.2 33.8,65.2 33.5,65.8 33.1,66.2 32.6,66.8 32.0,67.2 31.2,67.7 30.8,67.8Z" fill="#e6e6e6" stroke="#7a7a7a" stroke-width="0.32" fill-rule="evenodd"/>
</g>
<text x="336.40" y="135.10" font-size="7.9" text-anchor="middle">SB431542</text>
<rect x="288.40" y="139.70" width="96.00" height="95.20" fill="none" stroke="#1a1a1a" stroke-width="1.15"/>
<rect x="331.00" y="150.70" width="39.00" height="20.50" fill="none" stroke="#1a1a1a" stroke-width="1.0"/>
<text x="367.70" y="169.50" font-size="11.7" text-anchor="end" fill="#111">12.3</text>
<line x1="286.00" y1="151.20" x2="288.40" y2="151.20" stroke="#1a1a1a" stroke-width="0.9"/>
<text x="282.40" y="153.30" font-size="5.9" text-anchor="end" fill="#2a2a2a">10<tspan font-size="3.9" dy="-2.5">6</tspan></text>
<line x1="286.00" y1="168.40" x2="288.40" y2="168.40" stroke="#1a1a1a" stroke-width="0.9"/>
<text x="282.40" y="170.50" font-size="5.9" text-anchor="end" fill="#2a2a2a">10<tspan font-size="3.9" dy="-2.5">5</tspan></text>
<line x1="286.00" y1="190.00" x2="288.40" y2="190.00" stroke="#1a1a1a" stroke-width="0.9"/>
<text x="282.40" y="192.10" font-size="5.9" text-anchor="end" fill="#2a2a2a">10<tspan font-size="3.9" dy="-2.5">4</tspan></text>
<line x1="286.00" y1="209.20" x2="288.40" y2="209.20" stroke="#1a1a1a" stroke-width="0.9"/>
<text x="277.70" y="211.30" font-size="5.9" text-anchor="middle" fill="#2a2a2a">0</text>
<line x1="286.00" y1="230.50" x2="288.40" y2="230.50" stroke="#1a1a1a" stroke-width="0.9"/>
<text x="282.40" y="232.60" font-size="5.9" text-anchor="end" fill="#2a2a2a">&#8722;10<tspan font-size="3.9" dy="-2.5">4</tspan></text>
<line x1="287.10" y1="143.00" x2="288.40" y2="143.00" stroke="#333" stroke-width="0.6"/>
<line x1="287.10" y1="145.00" x2="288.40" y2="145.00" stroke="#333" stroke-width="0.6"/>
<line x1="287.10" y1="147.00" x2="288.40" y2="147.00" stroke="#333" stroke-width="0.6"/>
<line x1="287.10" y1="149.00" x2="288.40" y2="149.00" stroke="#333" stroke-width="0.6"/>
<line x1="287.10" y1="153.00" x2="288.40" y2="153.00" stroke="#333" stroke-width="0.6"/>
<line x1="287.10" y1="155.00" x2="288.40" y2="155.00" stroke="#333" stroke-width="0.6"/>
<line x1="287.10" y1="157.00" x2="288.40" y2="157.00" stroke="#333" stroke-width="0.6"/>
<line x1="287.10" y1="160.00" x2="288.40" y2="160.00" stroke="#333" stroke-width="0.6"/>
<line x1="287.10" y1="163.00" x2="288.40" y2="163.00" stroke="#333" stroke-width="0.6"/>
<line x1="287.10" y1="166.00" x2="288.40" y2="166.00" stroke="#333" stroke-width="0.6"/>
<line x1="287.10" y1="171.00" x2="288.40" y2="171.00" stroke="#333" stroke-width="0.6"/>
<line x1="287.10" y1="174.00" x2="288.40" y2="174.00" stroke="#333" stroke-width="0.6"/>
<line x1="287.10" y1="178.00" x2="288.40" y2="178.00" stroke="#333" stroke-width="0.6"/>
<line x1="287.10" y1="182.00" x2="288.40" y2="182.00" stroke="#333" stroke-width="0.6"/>
<line x1="287.10" y1="186.00" x2="288.40" y2="186.00" stroke="#333" stroke-width="0.6"/>
<line x1="287.10" y1="196.00" x2="288.40" y2="196.00" stroke="#333" stroke-width="0.6"/>
<line x1="287.10" y1="201.00" x2="288.40" y2="201.00" stroke="#333" stroke-width="0.6"/>
<line x1="287.10" y1="205.00" x2="288.40" y2="205.00" stroke="#333" stroke-width="0.6"/>
<line x1="287.10" y1="207.00" x2="288.40" y2="207.00" stroke="#333" stroke-width="0.6"/>
<line x1="287.10" y1="211.00" x2="288.40" y2="211.00" stroke="#333" stroke-width="0.6"/>
<line x1="287.10" y1="213.00" x2="288.40" y2="213.00" stroke="#333" stroke-width="0.6"/>
<line x1="287.10" y1="216.00" x2="288.40" y2="216.00" stroke="#333" stroke-width="0.6"/>
<line x1="287.10" y1="220.00" x2="288.40" y2="220.00" stroke="#333" stroke-width="0.6"/>
<line x1="287.10" y1="225.00" x2="288.40" y2="225.00" stroke="#333" stroke-width="0.6"/>
<line x1="292.60" y1="234.90" x2="292.60" y2="237.30" stroke="#1a1a1a" stroke-width="0.9"/>
<text x="293.60" y="246.60" font-size="5.9" text-anchor="middle" fill="#2a2a2a">&#8722;10<tspan font-size="3.9" dy="-2.5">4</tspan></text>
<line x1="316.00" y1="234.90" x2="316.00" y2="237.30" stroke="#1a1a1a" stroke-width="0.9"/>
<text x="316.00" y="246.60" font-size="5.9" text-anchor="middle" fill="#2a2a2a">0</text>
<line x1="332.90" y1="234.90" x2="332.90" y2="237.30" stroke="#1a1a1a" stroke-width="0.9"/>
<text x="333.90" y="246.60" font-size="5.9" text-anchor="middle" fill="#2a2a2a">10<tspan font-size="3.9" dy="-2.5">4</tspan></text>
<line x1="357.90" y1="234.90" x2="357.90" y2="237.30" stroke="#1a1a1a" stroke-width="0.9"/>
<text x="358.90" y="246.60" font-size="5.9" text-anchor="middle" fill="#2a2a2a">10<tspan font-size="3.9" dy="-2.5">5</tspan></text>
<line x1="371.60" y1="234.90" x2="371.60" y2="237.30" stroke="#1a1a1a" stroke-width="0.9"/>
<text x="372.60" y="246.60" font-size="5.9" text-anchor="middle" fill="#2a2a2a">10<tspan font-size="3.9" dy="-2.5">6</tspan></text>
<line x1="290.40" y1="234.90" x2="290.40" y2="236.20" stroke="#333" stroke-width="0.6"/>
<line x1="292.40" y1="234.90" x2="292.40" y2="236.20" stroke="#333" stroke-width="0.6"/>
<line x1="297.40" y1="234.90" x2="297.40" y2="236.20" stroke="#333" stroke-width="0.6"/>
<line x1="300.40" y1="234.90" x2="300.40" y2="236.20" stroke="#333" stroke-width="0.6"/>
<line x1="303.40" y1="234.90" x2="303.40" y2="236.20" stroke="#333" stroke-width="0.6"/>
<line x1="306.40" y1="234.90" x2="306.40" y2="236.20" stroke="#333" stroke-width="0.6"/>
<line x1="309.40" y1="234.90" x2="309.40" y2="236.20" stroke="#333" stroke-width="0.6"/>
<line x1="312.40" y1="234.90" x2="312.40" y2="236.20" stroke="#333" stroke-width="0.6"/>
<line x1="314.40" y1="234.90" x2="314.40" y2="236.20" stroke="#333" stroke-width="0.6"/>
<line x1="319.40" y1="234.90" x2="319.40" y2="236.20" stroke="#333" stroke-width="0.6"/>
<line x1="321.40" y1="234.90" x2="321.40" y2="236.20" stroke="#333" stroke-width="0.6"/>
<line x1="324.40" y1="234.90" x2="324.40" y2="236.20" stroke="#333" stroke-width="0.6"/>
<line x1="327.40" y1="234.90" x2="327.40" y2="236.20" stroke="#333" stroke-width="0.6"/>
<line x1="330.40" y1="234.90" x2="330.40" y2="236.20" stroke="#333" stroke-width="0.6"/>
<line x1="338.40" y1="234.90" x2="338.40" y2="236.20" stroke="#333" stroke-width="0.6"/>
<line x1="343.40" y1="234.90" x2="343.40" y2="236.20" stroke="#333" stroke-width="0.6"/>
<line x1="347.40" y1="234.90" x2="347.40" y2="236.20" stroke="#333" stroke-width="0.6"/>
<line x1="350.40" y1="234.90" x2="350.40" y2="236.20" stroke="#333" stroke-width="0.6"/>
<line x1="353.40" y1="234.90" x2="353.40" y2="236.20" stroke="#333" stroke-width="0.6"/>
<line x1="355.40" y1="234.90" x2="355.40" y2="236.20" stroke="#333" stroke-width="0.6"/>
<line x1="363.40" y1="234.90" x2="363.40" y2="236.20" stroke="#333" stroke-width="0.6"/>
<line x1="367.40" y1="234.90" x2="367.40" y2="236.20" stroke="#333" stroke-width="0.6"/>
<line x1="370.40" y1="234.90" x2="370.40" y2="236.20" stroke="#333" stroke-width="0.6"/>
<line x1="376.40" y1="234.90" x2="376.40" y2="236.20" stroke="#333" stroke-width="0.6"/>
<line x1="379.40" y1="234.90" x2="379.40" y2="236.20" stroke="#333" stroke-width="0.6"/>
<line x1="381.40" y1="234.90" x2="381.40" y2="236.20" stroke="#333" stroke-width="0.6"/>
<g transform="translate(411.00,139.70)">
<path d="M50.9,22.1h.7v.7h-.7zM70.5,58.3h.7v.7h-.7zM61.5,57.8h.7v.7h-.7zM59.8,72.5h.7v.7h-.7zM24.7,29.3h.7v.7h-.7zM73.3,47.7h.7v.7h-.7zM62.6,62.4h.7v.7h-.7zM52.2,72.1h.7v.7h-.7zM25.4,27.0h.7v.7h-.7zM25.7,81.3h.7v.7h-.7zM73.8,53.4h.7v.7h-.7zM73.5,47.7h.7v.7h-.7zM21.3,32.4h.7v.7h-.7zM26.3,29.5h.7v.7h-.7zM44.8,37.5h.7v.7h-.7zM43.3,53.2h.7v.7h-.7zM40.8,56.1h.7v.7h-.7zM46.2,57.7h.7v.7h-.7zM16.0,23.5h.7v.7h-.7zM62.1,49.9h.7v.7h-.7zM60.4,61.5h.7v.7h-.7zM42.0,23.5h.7v.7h-.7zM69.6,58.9h.7v.7h-.7zM56.6,50.5h.7v.7h-.7zM21.3,25.2h.7v.7h-.7zM74.3,59.6h.7v.7h-.7zM53.1,58.0h.7v.7h-.7zM74.5,56.0h.7v.7h-.7zM65.9,65.1h.7v.7h-.7zM40.7,44.8h.7v.7h-.7zM33.8,33.4h.7v.7h-.7zM18.1,23.0h.7v.7h-.7zM66.7,52.1h.7v.7h-.7zM40.5,45.3h.7v.7h-.7zM56.2,62.7h.7v.7h-.7zM51.8,22.1h.7v.7h-.7zM52.5,73.7h.7v.7h-.7zM70.7,55.9h.7v.7h-.7zM23.2,26.8h.7v.7h-.7zM29.1,43.9h.7v.7h-.7zM42.7,47.3h.7v.7h-.7zM53.3,50.0h.7v.7h-.7zM64.4,53.2h.7v.7h-.7zM48.2,49.8h.7v.7h-.7zM46.9,22.4h.7v.7h-.7zM57.4,58.2h.7v.7h-.7zM81.3,44.9h.7v.7h-.7zM53.4,68.1h.7v.7h-.7zM46.6,22.3h.7v.7h-.7zM12.8,45.1h.7v.7h-.7zM42.8,24.1h.7v.7h-.7zM53.5,62.0h.7v.7h-.7zM34.4,32.9h.7v.7h-.7zM71.3,64.6h.7v.7h-.7zM43.0,57.7h.7v.7h-.7zM51.0,45.7h.7v.7h-.7zM77.0,60.3h.7v.7h-.7zM52.7,20.0h.7v.7h-.7zM33.3,40.6h.7v.7h-.7zM73.1,53.3h.7v.7h-.7zM62.7,70.7h.7v.7h-.7zM62.6,49.3h.7v.7h-.7zM60.0,49.3h.7v.7h-.7zM67.5,54.2h.7v.7h-.7zM32.3,76.2h.7v.7h-.7zM39.2,69.0h.7v.7h-.7zM29.5,30.8h.7v.7h-.7zM20.3,20.3h.7v.7h-.7zM32.6,75.9h.7v.7h-.7zM34.6,76.9h.7v.7h-.7zM61.1,48.1h.7v.7h-.7zM65.8,57.0h.7v.7h-.7zM26.1,34.8h.7v.7h-.7zM70.6,48.2h.7v.7h-.7zM49.0,48.2h.7v.7h-.7zM19.1,24.0h.7v.7h-.7zM41.4,60.3h.7v.7h-.7zM33.6,31.5h.7v.7h-.7zM33.5,34.7h.7v.7h-.7zM47.9,43.2h.7v.7h-.7zM29.9,79.1h.7v.7h-.7zM32.3,43.5h.7v.7h-.7zM34.9,27.2h.7v.7h-.7zM46.1,24.1h.7v.7h-.7zM22.8,44.6h.7v.7h-.7zM67.5,53.9h.7v.7h-.7zM33.0,30.8h.7v.7h-.7zM19.9,20.6h.7v.7h-.7zM12.7,65.8h.7v.7h-.7zM61.9,51.7h.7v.7h-.7zM21.9,47.2h.7v.7h-.7zM20.2,24.6h.7v.7h-.7zM36.5,48.3h.7v.7h-.7zM64.9,54.3h.7v.7h-.7zM52.6,61.5h.7v.7h-.7zM65.9,57.5h.7v.7h-.7zM57.6,48.9h.7v.7h-.7zM93.4,59.5h.7v.7h-.7zM74.1,56.8h.7v.7h-.7zM36.8,48.1h.7v.7h-.7zM51.1,61.3h.7v.7h-.7zM41.8,65.2h.7v.7h-.7zM29.7,37.8h.7v.7h-.7zM39.2,46.0h.7v.7h-.7zM45.9,53.8h.7v.7h-.7zM47.9,46.1h.7v.7h-.7zM57.6,59.2h.7v.7h-.7zM42.9,23.4h.7v.7h-.7zM15.5,69.8h.7v.7h-.7zM43.6,48.2h.7v.7h-.7zM55.0,51.1h.7v.7h-.7zM17.6,53.9h.7v.7h-.7zM29.5,32.4h.7v.7h-.7zM25.2,77.8h.7v.7h-.7zM77.4,53.2h.7v.7h-.7zM67.9,54.8h.7v.7h-.7zM31.4,36.7h.7v.7h-.7zM47.7,54.7h.7v.7h-.7zM75.5,52.1h.7v.7h-.7zM68.6,65.3h.7v.7h-.7zM16.1,71.3h.7v.7h-.7zM47.5,51.4h.7v.7h-.7zM44.8,45.8h.7v.7h-.7zM52.8,20.7h.7v.7h-.7zM54.5,56.1h.7v.7h-.7zM43.8,58.6h.7v.7h-.7zM57.2,61.8h.7v.7h-.7zM55.7,51.9h.7v.7h-.7zM78.8,53.5h.7v.7h-.7zM32.5,43.6h.7v.7h-.7zM52.5,47.2h.7v.7h-.7zM45.7,51.4h.7v.7h-.7zM54.1,54.8h.7v.7h-.7zM56.5,56.8h.7v.7h-.7zM59.5,59.3h.7v.7h-.7zM26.5,45.1h.7v.7h-.7zM54.4,37.5h.7v.7h-.7zM56.7,56.6h.7v.7h-.7zM37.4,70.8h.7v.7h-.7zM69.8,58.4h.7v.7h-.7zM66.2,56.1h.7v.7h-.7zM28.9,28.7h.7v.7h-.7zM61.9,61.3h.7v.7h-.7zM29.3,38.0h.7v.7h-.7zM80.2,66.0h.7v.7h-.7zM57.4,59.9h.7v.7h-.7zM27.8,40.1h.7v.7h-.7zM66.2,68.0h.7v.7h-.7zM63.7,69.4h.7v.7h-.7zM13.6,26.0h.7v.7h-.7zM15.1,66.2h.7v.7h-.7zM78.0,50.8h.7v.7h-.7zM43.8,23.3h.7v.7h-.7zM66.7,51.9h.7v.7h-.7zM76.4,59.4h.7v.7h-.7zM37.1,41.2h.7v.7h-.7zM36.0,74.7h.7v.7h-.7zM23.5,41.2h.7v.7h-.7zM59.1,55.5h.7v.7h-.7zM30.8,45.7h.7v.7h-.7zM33.8,40.5h.7v.7h-.7zM19.7,44.3h.7v.7h-.7zM26.9,28.5h.7v.7h-.7zM27.0,78.0h.7v.7h-.7zM48.3,13.9h.7v.7h-.7zM20.1,79.2h.7v.7h-.7zM15.6,72.7h.7v.7h-.7zM62.3,48.4h.7v.7h-.7zM26.4,44.9h.7v.7h-.7zM48.4,51.2h.7v.7h-.7zM80.2,58.5h.7v.7h-.7zM63.4,56.0h.7v.7h-.7zM57.8,49.7h.7v.7h-.7zM17.0,68.6h.7v.7h-.7zM55.8,49.9h.7v.7h-.7zM53.5,57.4h.7v.7h-.7zM41.3,55.1h.7v.7h-.7zM81.7,52.9h.7v.7h-.7zM41.4,62.0h.7v.7h-.7zM48.0,59.0h.7v.7h-.7zM21.6,48.0h.7v.7h-.7zM29.4,78.1h.7v.7h-.7zM85.1,33.6h.7v.7h-.7zM73.2,49.0h.7v.7h-.7zM82.1,58.5h.7v.7h-.7zM22.7,37.5h.7v.7h-.7zM39.6,48.6h.7v.7h-.7zM22.7,45.6h.7v.7h-.7zM52.9,48.1h.7v.7h-.7zM39.7,52.7h.7v.7h-.7zM52.0,54.5h.7v.7h-.7zM48.8,50.2h.7v.7h-.7zM66.6,63.7h.7v.7h-.7zM39.5,65.9h.7v.7h-.7zM64.3,61.8h.7v.7h-.7zM40.5,48.2h.7v.7h-.7zM63.9,60.7h.7v.7h-.7zM18.8,79.5h.7v.7h-.7zM67.5,68.2h.7v.7h-.7zM78.5,59.0h.7v.7h-.7zM21.5,47.0h.7v.7h-.7zM78.3,62.5h.7v.7h-.7zM38.1,34.9h.7v.7h-.7zM47.4,61.6h.7v.7h-.7zM65.4,61.9h.7v.7h-.7zM41.4,44.2h.7v.7h-.7zM58.4,66.5h.7v.7h-.7zM22.4,34.9h.7v.7h-.7zM50.6,23.0h.7v.7h-.7zM18.3,21.7h.7v.7h-.7zM23.8,46.0h.7v.7h-.7zM42.1,34.5h.7v.7h-.7zM62.0,50.0h.7v.7h-.7zM63.6,68.6h.7v.7h-.7zM87.4,54.1h.7v.7h-.7zM46.5,49.2h.7v.7h-.7zM64.5,45.3h.7v.7h-.7zM50.7,54.0h.7v.7h-.7zM53.3,61.5h.7v.7h-.7zM65.4,49.3h.7v.7h-.7zM40.7,55.7h.7v.7h-.7zM49.6,64.5h.7v.7h-.7zM66.7,47.8h.7v.7h-.7zM69.1,60.9h.7v.7h-.7zM56.2,43.8h.7v.7h-.7zM14.5,14.3h.7v.7h-.7zM40.2,66.6h.7v.7h-.7zM60.5,43.5h.7v.7h-.7zM67.7,62.1h.7v.7h-.7zM14.6,63.1h.7v.7h-.7zM49.0,15.7h.7v.7h-.7zM60.0,78.4h.7v.7h-.7zM61.6,50.1h.7v.7h-.7zM70.9,57.7h.7v.7h-.7zM43.4,16.4h.7v.7h-.7zM29.5,79.2h.7v.7h-.7zM23.0,45.8h.7v.7h-.7zM21.0,45.3h.7v.7h-.7zM40.9,53.3h.7v.7h-.7zM13.7,65.7h.7v.7h-.7zM88.0,64.1h.7v.7h-.7zM21.9,48.3h.7v.7h-.7zM65.3,60.5h.7v.7h-.7zM70.9,47.3h.7v.7h-.7zM22.9,38.1h.7v.7h-.7zM37.5,71.7h.7v.7h-.7zM70.2,52.1h.7v.7h-.7zM81.4,49.9h.7v.7h-.7zM79.2,50.5h.7v.7h-.7zM65.7,51.5h.7v.7h-.7zM30.0,77.2h.7v.7h-.7zM31.6,28.4h.7v.7h-.7zM63.2,38.0h.7v.7h-.7zM48.7,46.2h.7v.7h-.7zM26.4,36.9h.7v.7h-.7zM52.2,47.9h.7v.7h-.7zM31.0,14.5h.7v.7h-.7zM53.9,57.5h.7v.7h-.7zM57.4,44.2h.7v.7h-.7zM50.3,54.4h.7v.7h-.7zM22.5,77.2h.7v.7h-.7zM52.2,63.5h.7v.7h-.7zM49.5,53.1h.7v.7h-.7zM19.7,48.9h.7v.7h-.7zM51.8,68.3h.7v.7h-.7zM71.0,64.7h.7v.7h-.7zM68.6,33.3h.7v.7h-.7zM15.0,33.9h.7v.7h-.7zM71.7,56.8h.7v.7h-.7zM61.0,58.3h.7v.7h-.7zM62.0,53.7h.7v.7h-.7zM80.7,57.7h.7v.7h-.7zM72.0,67.3h.7v.7h-.7zM18.2,25.2h.7v.7h-.7zM71.4,60.6h.7v.7h-.7zM22.9,29.7h.7v.7h-.7zM71.0,52.9h.7v.7h-.7zM67.6,46.6h.7v.7h-.7zM41.5,31.9h.7v.7h-.7zM85.5,53.2h.7v.7h-.7zM62.2,69.3h.7v.7h-.7zM26.2,28.4h.7v.7h-.7zM48.7,53.4h.7v.7h-.7zM16.4,56.6h.7v.7h-.7zM24.3,35.1h.7v.7h-.7zM24.0,28.3h.7v.7h-.7zM75.8,52.5h.7v.7h-.7zM43.4,65.6h.7v.7h-.7zM55.5,52.3h.7v.7h-.7zM26.4,45.5h.7v.7h-.7zM68.3,54.4h.7v.7h-.7zM74.9,55.9h.7v.7h-.7zM60.7,59.4h.7v.7h-.7zM29.9,80.5h.7v.7h-.7zM81.5,59.5h.7v.7h-.7zM25.8,31.3h.7v.7h-.7zM41.9,39.5h.7v.7h-.7zM26.6,41.2h.7v.7h-.7zM56.6,61.9h.7v.7h-.7zM37.9,25.5h.7v.7h-.7zM40.6,63.5h.7v.7h-.7zM29.7,40.2h.7v.7h-.7zM57.4,45.5h.7v.7h-.7zM72.9,44.1h.7v.7h-.7zM32.6,45.5h.7v.7h-.7zM56.3,65.9h.7v.7h-.7zM21.2,35.9h.7v.7h-.7zM54.7,48.3h.7v.7h-.7zM68.3,47.1h.7v.7h-.7zM25.9,46.2h.7v.7h-.7zM78.9,43.8h.7v.7h-.7zM75.7,59.6h.7v.7h-.7zM74.7,50.6h.7v.7h-.7zM31.1,27.9h.7v.7h-.7zM34.1,75.7h.7v.7h-.7zM66.1,58.0h.7v.7h-.7zM37.0,75.6h.7v.7h-.7zM65.3,60.9h.7v.7h-.7zM30.8,30.7h.7v.7h-.7zM20.3,76.3h.7v.7h-.7zM64.3,46.6h.7v.7h-.7zM47.3,57.6h.7v.7h-.7zM34.4,41.6h.7v.7h-.7zM63.4,59.1h.7v.7h-.7zM50.3,41.1h.7v.7h-.7zM69.3,57.1h.7v.7h-.7zM34.1,74.4h.7v.7h-.7zM73.9,64.1h.7v.7h-.7zM30.0,43.2h.7v.7h-.7zM19.3,76.6h.7v.7h-.7zM62.4,55.3h.7v.7h-.7zM38.0,71.2h.7v.7h-.7zM29.2,31.3h.7v.7h-.7zM50.6,16.3h.7v.7h-.7zM20.2,29.3h.7v.7h-.7zM82.1,62.0h.7v.7h-.7zM61.4,54.4h.7v.7h-.7zM45.7,59.9h.7v.7h-.7zM50.2,68.5h.7v.7h-.7zM58.0,46.4h.7v.7h-.7zM63.1,60.4h.7v.7h-.7zM45.6,53.5h.7v.7h-.7zM65.0,54.1h.7v.7h-.7zM50.9,25.5h.7v.7h-.7zM49.0,46.1h.7v.7h-.7zM47.2,58.9h.7v.7h-.7zM39.4,50.2h.7v.7h-.7zM62.2,50.2h.7v.7h-.7zM77.4,62.0h.7v.7h-.7zM38.8,68.5h.7v.7h-.7zM58.7,63.3h.7v.7h-.7zM52.0,60.3h.7v.7h-.7zM41.3,55.8h.7v.7h-.7zM46.3,54.0h.7v.7h-.7zM35.3,43.1h.7v.7h-.7zM28.8,40.5h.7v.7h-.7zM24.3,77.9h.7v.7h-.7zM52.0,16.7h.7v.7h-.7zM45.5,16.9h.7v.7h-.7zM19.8,76.9h.7v.7h-.7zM60.4,53.1h.7v.7h-.7zM21.8,47.9h.7v.7h-.7zM41.7,68.4h.7v.7h-.7zM37.4,71.1h.7v.7h-.7zM85.8,61.2h.7v.7h-.7zM59.7,66.6h.7v.7h-.7zM50.5,59.4h.7v.7h-.7zM34.3,43.4h.7v.7h-.7zM57.3,59.2h.7v.7h-.7zM39.3,50.5h.7v.7h-.7zM70.5,78.7h.7v.7h-.7zM27.3,76.5h.7v.7h-.7zM40.6,68.6h.7v.7h-.7zM23.4,32.6h.7v.7h-.7zM71.1,66.9h.7v.7h-.7zM52.0,57.8h.7v.7h-.7zM67.5,66.2h.7v.7h-.7zM60.4,50.4h.7v.7h-.7zM38.4,43.2h.7v.7h-.7zM42.8,16.7h.7v.7h-.7zM15.5,68.6h.7v.7h-.7zM11.5,22.5h.7v.7h-.7zM48.9,46.7h.7v.7h-.7zM36.7,71.6h.7v.7h-.7zM37.3,30.0h.7v.7h-.7zM19.9,43.3h.7v.7h-.7zM46.9,59.4h.7v.7h-.7zM31.5,38.4h.7v.7h-.7zM61.2,50.0h.7v.7h-.7zM34.1,39.7h.7v.7h-.7zM55.7,48.9h.7v.7h-.7zM18.5,75.0h.7v.7h-.7zM31.1,76.5h.7v.7h-.7zM60.2,60.3h.7v.7h-.7zM18.7,26.5h.7v.7h-.7zM59.9,53.1h.7v.7h-.7zM16.3,60.1h.7v.7h-.7zM52.4,57.0h.7v.7h-.7zM39.5,37.9h.7v.7h-.7zM79.4,54.2h.7v.7h-.7zM57.6,53.3h.7v.7h-.7zM55.6,26.8h.7v.7h-.7zM82.9,48.9h.7v.7h-.7zM39.7,69.7h.7v.7h-.7zM26.5,41.6h.7v.7h-.7zM46.3,16.0h.7v.7h-.7zM69.8,50.6h.7v.7h-.7zM49.2,50.8h.7v.7h-.7zM51.4,69.0h.7v.7h-.7zM55.6,63.7h.7v.7h-.7zM66.6,49.3h.7v.7h-.7zM44.3,68.3h.7v.7h-.7zM56.2,65.6h.7v.7h-.7zM84.0,44.9h.7v.7h-.7zM29.4,39.4h.7v.7h-.7zM61.1,58.4h.7v.7h-.7zM30.0,33.6h.7v.7h-.7zM72.4,60.3h.7v.7h-.7zM24.5,17.7h.7v.7h-.7zM46.2,35.0h.7v.7h-.7zM26.6,38.2h.7v.7h-.7zM52.2,45.9h.7v.7h-.7zM15.5,52.9h.7v.7h-.7zM46.4,17.3h.7v.7h-.7zM41.9,61.6h.7v.7h-.7zM60.5,58.6h.7v.7h-.7zM62.6,50.8h.7v.7h-.7zM43.0,23.0h.7v.7h-.7zM69.6,46.2h.7v.7h-.7zM75.8,58.3h.7v.7h-.7zM54.3,16.3h.7v.7h-.7zM74.2,59.5h.7v.7h-.7zM39.9,69.4h.7v.7h-.7zM76.7,59.7h.7v.7h-.7zM42.2,57.0h.7v.7h-.7zM44.7,49.4h.7v.7h-.7zM60.7,46.8h.7v.7h-.7zM29.0,80.4h.7v.7h-.7zM73.0,57.2h.7v.7h-.7zM15.3,58.6h.7v.7h-.7zM65.4,64.7h.7v.7h-.7zM81.3,58.3h.7v.7h-.7zM34.0,28.8h.7v.7h-.7zM77.3,51.4h.7v.7h-.7zM18.3,53.7h.7v.7h-.7zM75.9,55.2h.7v.7h-.7zM74.0,52.4h.7v.7h-.7zM9.4,69.0h.7v.7h-.7zM56.1,57.5h.7v.7h-.7zM53.4,19.3h.7v.7h-.7zM54.0,63.5h.7v.7h-.7zM76.6,50.8h.7v.7h-.7zM58.8,63.9h.7v.7h-.7zM39.3,41.1h.7v.7h-.7zM52.1,44.8h.7v.7h-.7zM31.8,30.4h.7v.7h-.7zM50.6,44.0h.7v.7h-.7zM46.5,52.2h.7v.7h-.7zM71.3,65.1h.7v.7h-.7zM60.8,51.4h.7v.7h-.7zM53.6,58.8h.7v.7h-.7zM40.6,63.1h.7v.7h-.7zM66.1,57.5h.7v.7h-.7zM57.9,51.4h.7v.7h-.7zM16.5,55.9h.7v.7h-.7zM27.9,35.1h.7v.7h-.7zM36.2,47.9h.7v.7h-.7zM33.5,43.8h.7v.7h-.7zM67.0,54.6h.7v.7h-.7zM47.4,67.5h.7v.7h-.7zM72.6,59.8h.7v.7h-.7zM64.9,51.4h.7v.7h-.7zM35.1,36.6h.7v.7h-.7zM40.6,50.5h.7v.7h-.7zM76.7,66.8h.7v.7h-.7zM59.6,45.8h.7v.7h-.7zM54.2,62.4h.7v.7h-.7zM53.4,17.1h.7v.7h-.7zM66.6,50.1h.7v.7h-.7zM23.0,16.8h.7v.7h-.7zM32.5,38.3h.7v.7h-.7zM91.0,61.4h.7v.7h-.7zM56.8,62.2h.7v.7h-.7zM21.8,80.3h.7v.7h-.7zM52.2,52.0h.7v.7h-.7zM40.9,38.7h.7v.7h-.7zM34.3,28.5h.7v.7h-.7zM69.8,51.5h.7v.7h-.7zM41.7,55.3h.7v.7h-.7zM22.0,25.1h.7v.7h-.7zM79.3,55.1h.7v.7h-.7zM64.0,53.4h.7v.7h-.7zM50.6,17.5h.7v.7h-.7zM45.3,66.1h.7v.7h-.7zM25.4,46.2h.7v.7h-.7zM55.3,55.2h.7v.7h-.7zM58.4,59.6h.7v.7h-.7zM32.8,77.5h.7v.7h-.7zM42.2,57.8h.7v.7h-.7zM73.0,52.4h.7v.7h-.7zM52.2,55.9h.7v.7h-.7zM77.6,67.5h.7v.7h-.7zM46.4,57.0h.7v.7h-.7zM57.6,62.6h.7v.7h-.7zM38.1,34.7h.7v.7h-.7zM26.3,35.8h.7v.7h-.7zM72.6,46.9h.7v.7h-.7zM27.3,37.2h.7v.7h-.7zM37.2,47.4h.7v.7h-.7zM41.4,50.4h.7v.7h-.7zM46.7,53.8h.7v.7h-.7zM22.1,30.8h.7v.7h-.7zM63.7,67.7h.7v.7h-.7zM38.6,75.5h.7v.7h-.7zM63.3,53.8h.7v.7h-.7zM46.2,46.6h.7v.7h-.7zM67.3,66.7h.7v.7h-.7zM72.4,52.8h.7v.7h-.7zM69.3,52.1h.7v.7h-.7zM43.7,52.3h.7v.7h-.7zM53.9,18.9h.7v.7h-.7zM65.9,48.9h.7v.7h-.7zM69.1,58.1h.7v.7h-.7zM28.5,77.8h.7v.7h-.7zM61.6,55.9h.7v.7h-.7zM59.2,60.4h.7v.7h-.7zM39.9,64.1h.7v.7h-.7zM48.2,44.9h.7v.7h-.7zM61.6,66.4h.7v.7h-.7zM28.3,38.9h.7v.7h-.7zM39.7,16.3h.7v.7h-.7zM60.3,75.5h.7v.7h-.7zM52.0,55.7h.7v.7h-.7zM66.9,60.2h.7v.7h-.7zM39.8,69.2h.7v.7h-.7zM82.6,52.6h.7v.7h-.7zM75.1,47.2h.7v.7h-.7zM64.4,57.0h.7v.7h-.7zM33.8,46.3h.7v.7h-.7zM91.0,64.1h.7v.7h-.7zM59.6,63.0h.7v.7h-.7zM63.5,47.3h.7v.7h-.7zM65.6,63.7h.7v.7h-.7zM55.3,54.5h.7v.7h-.7zM18.8,20.6h.7v.7h-.7zM32.6,38.2h.7v.7h-.7zM42.0,55.9h.7v.7h-.7zM64.7,53.8h.7v.7h-.7zM25.6,41.2h.7v.7h-.7zM29.2,45.1h.7v.7h-.7zM63.4,52.5h.7v.7h-.7zM89.5,62.2h.7v.7h-.7zM19.7,34.0h.7v.7h-.7zM37.9,70.5h.7v.7h-.7zM60.9,61.3h.7v.7h-.7zM55.4,63.8h.7v.7h-.7zM67.6,57.7h.7v.7h-.7zM29.7,15.1h.7v.7h-.7zM72.0,56.5h.7v.7h-.7zM35.0,47.4h.7v.7h-.7zM28.9,77.1h.7v.7h-.7zM62.0,53.2h.7v.7h-.7zM77.1,43.5h.7v.7h-.7zM72.9,52.8h.7v.7h-.7zM36.1,39.3h.7v.7h-.7zM30.4,77.3h.7v.7h-.7zM27.6,40.0h.7v.7h-.7zM54.0,20.8h.7v.7h-.7zM25.9,41.0h.7v.7h-.7zM41.0,56.3h.7v.7h-.7zM77.6,56.3h.7v.7h-.7zM67.5,58.5h.7v.7h-.7zM77.4,71.8h.7v.7h-.7zM68.6,68.8h.7v.7h-.7zM52.8,22.2h.7v.7h-.7zM37.7,47.1h.7v.7h-.7zM65.0,49.2h.7v.7h-.7zM66.4,50.7h.7v.7h-.7zM44.5,64.4h.7v.7h-.7zM18.8,76.8h.7v.7h-.7zM66.5,56.0h.7v.7h-.7zM69.8,50.9h.7v.7h-.7zM82.9,42.0h.7v.7h-.7zM62.6,49.7h.7v.7h-.7zM94.9,57.2h.7v.7h-.7zM80.8,52.8h.7v.7h-.7zM17.7,73.7h.7v.7h-.7zM72.0,65.8h.7v.7h-.7zM19.5,37.1h.7v.7h-.7zM46.4,17.0h.7v.7h-.7zM25.8,42.5h.7v.7h-.7zM29.5,28.0h.7v.7h-.7zM65.4,55.2h.7v.7h-.7zM34.2,14.5h.7v.7h-.7zM56.0,66.5h.7v.7h-.7zM56.1,44.7h.7v.7h-.7zM18.0,71.7h.7v.7h-.7zM46.1,51.7h.7v.7h-.7zM65.3,54.1h.7v.7h-.7zM23.7,41.1h.7v.7h-.7zM73.3,63.6h.7v.7h-.7zM15.3,59.8h.7v.7h-.7zM19.2,47.2h.7v.7h-.7zM27.2,77.4h.7v.7h-.7zM33.5,14.3h.7v.7h-.7zM14.9,64.6h.7v.7h-.7zM65.6,53.8h.7v.7h-.7zM32.7,45.9h.7v.7h-.7zM25.6,35.8h.7v.7h-.7zM27.4,15.9h.7v.7h-.7zM62.6,63.4h.7v.7h-.7zM43.2,54.3h.7v.7h-.7zM63.9,52.7h.7v.7h-.7zM33.6,45.3h.7v.7h-.7zM18.5,46.6h.7v.7h-.7zM36.2,45.9h.7v.7h-.7zM30.0,79.8h.7v.7h-.7zM56.0,48.2h.7v.7h-.7zM46.5,17.1h.7v.7h-.7zM21.2,48.5h.7v.7h-.7zM59.0,40.9h.7v.7h-.7zM54.1,57.3h.7v.7h-.7zM76.1,56.7h.7v.7h-.7zM14.8,58.8h.7v.7h-.7zM19.8,36.2h.7v.7h-.7zM53.5,23.0h.7v.7h-.7zM45.6,61.6h.7v.7h-.7zM38.9,40.9h.7v.7h-.7zM19.3,20.8h.7v.7h-.7zM19.3,22.7h.7v.7h-.7zM50.5,22.9h.7v.7h-.7zM36.1,36.7h.7v.7h-.7zM27.7,42.5h.7v.7h-.7zM25.3,27.5h.7v.7h-.7zM28.9,77.1h.7v.7h-.7zM58.1,48.7h.7v.7h-.7zM23.2,34.0h.7v.7h-.7zM48.5,63.8h.7v.7h-.7zM66.9,58.3h.7v.7h-.7zM68.4,68.2h.7v.7h-.7zM59.9,60.5h.7v.7h-.7zM50.1,49.5h.7v.7h-.7zM18.1,75.3h.7v.7h-.7zM73.5,46.1h.7v.7h-.7zM26.2,33.0h.7v.7h-.7zM41.8,65.7h.7v.7h-.7zM65.1,50.1h.7v.7h-.7zM29.3,28.0h.7v.7h-.7zM16.5,38.9h.7v.7h-.7zM51.1,21.9h.7v.7h-.7zM17.9,54.9h.7v.7h-.7zM73.9,48.8h.7v.7h-.7zM70.9,65.2h.7v.7h-.7zM47.9,15.6h.7v.7h-.7zM61.1,46.0h.7v.7h-.7zM35.5,33.3h.7v.7h-.7zM18.9,42.1h.7v.7h-.7zM48.2,74.7h.7v.7h-.7zM30.0,40.9h.7v.7h-.7zM52.3,18.5h.7v.7h-.7zM18.8,35.3h.7v.7h-.7zM21.7,26.8h.7v.7h-.7zM33.4,74.8h.7v.7h-.7zM30.5,41.1h.7v.7h-.7zM46.4,17.0h.7v.7h-.7zM45.6,16.9h.7v.7h-.7zM39.5,69.4h.7v.7h-.7zM51.5,65.1h.7v.7h-.7zM22.8,37.0h.7v.7h-.7zM52.7,18.4h.7v.7h-.7zM58.9,66.3h.7v.7h-.7zM63.8,41.0h.7v.7h-.7zM58.9,56.8h.7v.7h-.7zM77.5,51.8h.7v.7h-.7zM51.5,52.9h.7v.7h-.7zM72.0,64.8h.7v.7h-.7zM33.8,33.0h.7v.7h-.7zM41.1,65.2h.7v.7h-.7zM24.3,17.5h.7v.7h-.7zM63.6,57.1h.7v.7h-.7zM62.3,62.3h.7v.7h-.7zM29.5,40.2h.7v.7h-.7zM22.0,46.4h.7v.7h-.7zM56.4,48.5h.7v.7h-.7zM13.2,33.9h.7v.7h-.7zM68.5,64.3h.7v.7h-.7zM38.2,26.5h.7v.7h-.7zM52.4,57.7h.7v.7h-.7zM49.4,52.1h.7v.7h-.7zM62.3,57.4h.7v.7h-.7zM54.6,14.7h.7v.7h-.7zM51.4,17.0h.7v.7h-.7zM45.9,51.5h.7v.7h-.7zM15.4,62.4h.7v.7h-.7zM28.8,33.5h.7v.7h-.7zM32.2,80.0h.7v.7h-.7zM25.6,46.0h.7v.7h-.7zM59.4,56.0h.7v.7h-.7zM24.4,38.4h.7v.7h-.7zM67.8,49.4h.7v.7h-.7zM31.7,41.3h.7v.7h-.7zM50.1,16.6h.7v.7h-.7zM55.3,57.6h.7v.7h-.7zM14.9,68.0h.7v.7h-.7zM61.6,59.1h.7v.7h-.7zM20.8,82.3h.7v.7h-.7zM64.9,51.8h.7v.7h-.7zM65.5,53.0h.7v.7h-.7zM44.7,67.8h.7v.7h-.7zM28.3,78.2h.7v.7h-.7zM41.6,52.3h.7v.7h-.7zM52.5,68.9h.7v.7h-.7zM43.8,43.9h.7v.7h-.7zM45.6,56.0h.7v.7h-.7zM75.1,58.8h.7v.7h-.7zM52.6,19.4h.7v.7h-.7zM66.4,58.3h.7v.7h-.7zM38.7,68.1h.7v.7h-.7zM15.3,63.8h.7v.7h-.7zM67.5,60.0h.7v.7h-.7zM40.9,59.3h.7v.7h-.7zM48.7,56.6h.7v.7h-.7zM34.4,29.4h.7v.7h-.7zM30.9,77.4h.7v.7h-.7zM58.6,58.9h.7v.7h-.7zM53.8,59.4h.7v.7h-.7zM46.8,35.4h.7v.7h-.7zM49.4,42.6h.7v.7h-.7zM74.5,62.3h.7v.7h-.7zM64.0,54.0h.7v.7h-.7zM56.3,59.3h.7v.7h-.7zM49.8,46.8h.7v.7h-.7zM49.5,43.1h.7v.7h-.7zM37.8,49.9h.7v.7h-.7zM68.6,52.6h.7v.7h-.7zM62.3,57.8h.7v.7h-.7zM19.6,42.9h.7v.7h-.7zM65.2,42.2h.7v.7h-.7zM18.4,52.7h.7v.7h-.7zM20.3,23.6h.7v.7h-.7zM55.2,57.9h.7v.7h-.7zM61.8,55.7h.7v.7h-.7zM19.5,51.0h.7v.7h-.7zM44.7,23.6h.7v.7h-.7zM37.1,45.8h.7v.7h-.7zM48.7,58.0h.7v.7h-.7zM20.6,74.9h.7v.7h-.7zM77.1,54.5h.7v.7h-.7zM33.5,38.3h.7v.7h-.7zM37.3,43.9h.7v.7h-.7zM15.2,54.2h.7v.7h-.7zM56.9,63.0h.7v.7h-.7zM52.5,75.7h.7v.7h-.7zM26.5,41.2h.7v.7h-.7zM64.0,57.8h.7v.7h-.7zM45.5,55.9h.7v.7h-.7zM41.7,23.9h.7v.7h-.7zM64.6,57.9h.7v.7h-.7zM50.5,21.5h.7v.7h-.7zM26.1,32.6h.7v.7h-.7zM30.9,43.2h.7v.7h-.7zM59.5,58.4h.7v.7h-.7zM49.8,53.4h.7v.7h-.7zM77.6,63.1h.7v.7h-.7zM62.5,63.3h.7v.7h-.7zM67.7,57.8h.7v.7h-.7zM47.0,57.4h.7v.7h-.7zM49.6,54.7h.7v.7h-.7zM70.9,56.4h.7v.7h-.7zM23.2,46.7h.7v.7h-.7zM46.1,62.5h.7v.7h-.7zM61.3,44.5h.7v.7h-.7zM42.2,60.8h.7v.7h-.7zM40.9,58.3h.7v.7h-.7zM52.8,58.7h.7v.7h-.7zM39.6,48.1h.7v.7h-.7zM35.8,46.9h.7v.7h-.7zM66.6,45.3h.7v.7h-.7zM73.0,40.8h.7v.7h-.7zM31.1,37.1h.7v.7h-.7zM40.6,54.9h.7v.7h-.7zM58.4,57.3h.7v.7h-.7zM40.7,59.6h.7v.7h-.7zM67.7,45.6h.7v.7h-.7zM72.0,57.7h.7v.7h-.7zM71.1,59.4h.7v.7h-.7zM80.7,45.7h.7v.7h-.7zM51.8,62.7h.7v.7h-.7zM44.9,24.0h.7v.7h-.7zM43.2,51.4h.7v.7h-.7zM58.8,55.0h.7v.7h-.7zM17.3,69.6h.7v.7h-.7zM49.4,47.6h.7v.7h-.7zM31.2,15.4h.7v.7h-.7zM59.3,55.5h.7v.7h-.7zM67.6,60.2h.7v.7h-.7zM51.7,67.6h.7v.7h-.7zM50.0,49.2h.7v.7h-.7zM28.0,35.8h.7v.7h-.7zM49.5,55.6h.7v.7h-.7zM41.9,58.0h.7v.7h-.7zM17.9,51.9h.7v.7h-.7zM69.4,60.9h.7v.7h-.7zM12.5,61.2h.7v.7h-.7zM29.7,78.5h.7v.7h-.7zM68.3,54.8h.7v.7h-.7zM61.8,76.6h.7v.7h-.7zM32.0,33.9h.7v.7h-.7zM19.0,41.7h.7v.7h-.7zM52.3,60.8h.7v.7h-.7zM21.1,24.5h.7v.7h-.7zM67.9,62.8h.7v.7h-.7zM61.6,55.7h.7v.7h-.7zM37.4,35.2h.7v.7h-.7zM58.5,64.0h.7v.7h-.7zM72.9,42.9h.7v.7h-.7zM16.0,56.9h.7v.7h-.7zM74.7,64.4h.7v.7h-.7zM50.5,44.0h.7v.7h-.7zM26.5,38.5h.7v.7h-.7zM52.0,68.9h.7v.7h-.7zM75.1,55.6h.7v.7h-.7zM39.3,29.7h.7v.7h-.7zM54.2,37.9h.7v.7h-.7zM66.3,54.9h.7v.7h-.7zM54.5,54.3h.7v.7h-.7zM62.9,57.2h.7v.7h-.7zM75.6,73.1h.7v.7h-.7zM18.9,22.4h.7v.7h-.7zM41.6,40.4h.7v.7h-.7zM55.2,59.2h.7v.7h-.7zM58.7,72.8h.7v.7h-.7zM42.6,53.2h.7v.7h-.7zM58.7,60.6h.7v.7h-.7zM14.9,63.2h.7v.7h-.7zM36.3,26.2h.7v.7h-.7zM20.8,78.6h.7v.7h-.7zM60.7,59.8h.7v.7h-.7zM65.1,64.7h.7v.7h-.7zM65.0,51.1h.7v.7h-.7zM67.4,45.7h.7v.7h-.7zM65.5,53.5h.7v.7h-.7zM70.8,54.1h.7v.7h-.7zM73.8,64.8h.7v.7h-.7zM71.2,61.2h.7v.7h-.7zM22.4,76.5h.7v.7h-.7zM86.5,56.9h.7v.7h-.7zM58.8,60.4h.7v.7h-.7zM47.6,15.7h.7v.7h-.7zM18.7,20.9h.7v.7h-.7zM67.9,58.5h.7v.7h-.7zM61.5,61.1h.7v.7h-.7zM54.0,57.9h.7v.7h-.7zM36.3,36.4h.7v.7h-.7zM52.5,57.3h.7v.7h-.7zM45.2,57.8h.7v.7h-.7zM55.1,41.0h.7v.7h-.7zM25.4,33.3h.7v.7h-.7zM71.5,68.7h.7v.7h-.7zM37.3,28.2h.7v.7h-.7zM48.5,41.7h.7v.7h-.7zM21.8,35.7h.7v.7h-.7zM49.7,71.6h.7v.7h-.7zM46.7,60.6h.7v.7h-.7zM58.5,49.4h.7v.7h-.7zM58.8,51.9h.7v.7h-.7zM59.0,56.2h.7v.7h-.7zM79.6,53.3h.7v.7h-.7zM60.1,58.4h.7v.7h-.7zM56.1,50.8h.7v.7h-.7zM51.2,55.2h.7v.7h-.7zM50.1,61.2h.7v.7h-.7zM30.8,36.9h.7v.7h-.7zM49.3,41.6h.7v.7h-.7zM30.4,34.7h.7v.7h-.7zM41.8,60.4h.7v.7h-.7zM33.4,14.8h.7v.7h-.7zM82.9,57.7h.7v.7h-.7zM65.3,47.8h.7v.7h-.7zM16.4,73.8h.7v.7h-.7zM40.4,26.0h.7v.7h-.7zM46.0,58.2h.7v.7h-.7zM38.1,39.1h.7v.7h-.7zM24.4,47.3h.7v.7h-.7zM35.7,75.4h.7v.7h-.7zM39.6,52.7h.7v.7h-.7zM18.2,35.0h.7v.7h-.7zM21.0,27.0h.7v.7h-.7zM24.3,38.5h.7v.7h-.7zM40.2,65.0h.7v.7h-.7zM55.3,59.8h.7v.7h-.7zM14.8,69.5h.7v.7h-.7zM20.3,78.9h.7v.7h-.7zM26.5,45.8h.7v.7h-.7zM48.9,16.5h.7v.7h-.7zM40.8,39.6h.7v.7h-.7zM71.4,58.1h.7v.7h-.7zM78.6,43.4h.7v.7h-.7zM42.5,17.1h.7v.7h-.7zM28.9,43.5h.7v.7h-.7zM66.6,43.2h.7v.7h-.7zM53.1,50.3h.7v.7h-.7zM38.9,47.8h.7v.7h-.7zM83.9,62.7h.7v.7h-.7zM78.4,60.9h.7v.7h-.7zM64.7,49.2h.7v.7h-.7zM24.7,27.9h.7v.7h-.7zM65.8,55.4h.7v.7h-.7zM24.1,32.7h.7v.7h-.7zM21.6,75.7h.7v.7h-.7zM72.3,52.7h.7v.7h-.7zM66.5,64.4h.7v.7h-.7zM65.8,56.2h.7v.7h-.7zM46.0,53.9h.7v.7h-.7zM55.0,51.0h.7v.7h-.7zM49.2,46.0h.7v.7h-.7zM27.7,33.0h.7v.7h-.7zM24.0,78.6h.7v.7h-.7zM65.1,55.5h.7v.7h-.7zM44.8,55.2h.7v.7h-.7zM68.9,40.7h.7v.7h-.7zM62.7,59.2h.7v.7h-.7zM55.7,51.4h.7v.7h-.7zM65.5,46.3h.7v.7h-.7zM40.0,51.7h.7v.7h-.7zM40.4,46.2h.7v.7h-.7zM29.1,42.7h.7v.7h-.7zM83.2,55.8h.7v.7h-.7zM50.6,43.6h.7v.7h-.7zM27.0,32.1h.7v.7h-.7zM54.2,68.5h.7v.7h-.7zM30.9,41.3h.7v.7h-.7zM25.5,13.7h.7v.7h-.7zM78.4,50.1h.7v.7h-.7zM41.5,58.2h.7v.7h-.7zM41.5,63.7h.7v.7h-.7zM31.2,36.6h.7v.7h-.7zM52.4,24.6h.7v.7h-.7zM75.6,63.6h.7v.7h-.7zM57.8,54.2h.7v.7h-.7zM65.4,65.2h.7v.7h-.7zM47.6,65.5h.7v.7h-.7zM66.0,56.5h.7v.7h-.7zM64.4,60.9h.7v.7h-.7zM31.3,37.5h.7v.7h-.7zM53.1,60.8h.7v.7h-.7zM16.4,55.8h.7v.7h-.7zM57.2,64.7h.7v.7h-.7zM41.3,57.1h.7v.7h-.7zM45.7,56.7h.7v.7h-.7zM34.6,73.6h.7v.7h-.7zM58.7,54.4h.7v.7h-.7zM52.7,55.9h.7v.7h-.7zM70.7,58.3h.7v.7h-.7zM28.8,44.4h.7v.7h-.7zM20.1,50.9h.7v.7h-.7zM54.3,19.4h.7v.7h-.7zM56.1,53.2h.7v.7h-.7zM65.7,60.7h.7v.7h-.7zM79.0,54.3h.7v.7h-.7zM30.0,29.4h.7v.7h-.7zM35.3,46.2h.7v.7h-.7zM58.3,43.5h.7v.7h-.7zM73.3,59.1h.7v.7h-.7zM16.6,70.0h.7v.7h-.7zM70.3,65.9h.7v.7h-.7zM22.1,27.3h.7v.7h-.7zM26.4,78.7h.7v.7h-.7zM58.5,51.9h.7v.7h-.7zM63.1,56.5h.7v.7h-.7zM54.2,46.9h.7v.7h-.7zM69.5,49.8h.7v.7h-.7zM16.7,22.4h.7v.7h-.7zM56.9,53.9h.7v.7h-.7zM74.7,51.8h.7v.7h-.7zM59.8,56.5h.7v.7h-.7zM56.4,37.6h.7v.7h-.7zM49.4,56.4h.7v.7h-.7zM48.3,58.0h.7v.7h-.7zM59.0,52.7h.7v.7h-.7zM25.4,78.9h.7v.7h-.7zM74.4,60.9h.7v.7h-.7zM18.8,79.2h.7v.7h-.7zM70.0,45.4h.7v.7h-.7zM63.6,53.4h.7v.7h-.7zM41.0,49.9h.7v.7h-.7zM46.0,55.4h.7v.7h-.7zM60.9,62.1h.7v.7h-.7zM52.0,58.4h.7v.7h-.7zM56.8,53.8h.7v.7h-.7zM44.0,28.0h.7v.7h-.7zM62.9,64.2h.7v.7h-.7zM80.4,61.4h.7v.7h-.7zM34.9,33.6h.7v.7h-.7zM46.1,22.4h.7v.7h-.7zM29.0,13.8h.7v.7h-.7zM66.8,53.4h.7v.7h-.7zM59.3,52.3h.7v.7h-.7zM75.2,51.9h.7v.7h-.7zM54.2,67.7h.7v.7h-.7z" fill="#a4a4a4"/>
<path d="M32.2,27.3 31.2,27.6 30.2,27.7 29.2,27.7 28.2,27.6 27.2,27.5 26.2,27.3 25.8,27.2 24.8,27.0 24.2,26.7 23.3,26.2 22.8,25.8 22.2,25.3 21.8,24.8 21.3,24.2 21.0,23.8 20.8,23.1 20.6,22.2 20.8,21.5 21.1,20.8 21.4,20.2 21.8,19.8 22.3,19.2 23.0,18.8 23.8,18.3 24.2,18.0 24.8,17.7 25.3,17.2 26.1,16.8 26.8,16.5 27.4,16.2 28.2,16.0 29.1,15.8 29.8,15.6 30.8,15.3 31.8,15.3 32.8,15.3 33.8,15.4 34.8,15.6 35.8,15.6 36.8,15.7 37.3,15.8 38.2,15.9 39.2,16.2 39.8,16.5 40.2,16.8 41.2,17.2 41.8,17.3 42.4,17.2 43.2,17.1 44.2,17.2 45.2,17.2 45.8,17.3 46.8,17.4 47.8,17.3 48.2,17.2 49.2,17.1 49.8,17.2 50.8,17.6 51.2,17.9 51.9,18.2 52.4,18.8 52.6,19.8 52.4,20.8 52.2,21.2 51.2,21.7 50.2,21.4 49.8,21.2 48.8,21.1 48.2,21.3 47.4,21.8 46.8,22.0 45.8,22.0 44.8,21.9 43.8,22.2 43.2,22.6 42.8,22.9 42.2,23.2 41.4,23.8 40.8,24.1 40.2,24.4 39.6,24.8 38.8,25.1 38.2,25.2 37.2,25.6 36.8,25.8 35.8,26.2 35.2,26.5 34.5,26.8 33.8,27.0 32.8,27.2 32.2,27.3ZM25.2,77.3 24.7,77.2 23.8,76.9 23.2,76.6 22.8,76.2 22.2,75.8 21.5,75.2 20.9,74.8 20.2,74.3 19.8,73.9 19.2,73.5 18.8,72.8 18.5,72.2 18.2,71.6 17.9,70.8 17.7,70.2 17.2,69.5 16.9,68.8 16.6,68.2 16.2,67.3 16.0,66.8 15.8,65.8 15.8,64.8 15.9,63.8 16.1,62.8 16.1,61.8 16.2,60.8 16.3,60.2 16.7,59.2 16.8,58.8 17.0,57.8 17.2,56.8 17.4,56.2 17.8,55.3 18.0,54.8 18.2,54.2 18.8,53.5 19.2,52.9 19.8,52.3 20.2,51.8 20.5,51.2 20.8,50.6 21.2,49.8 21.5,49.2 22.0,48.8 22.5,48.2 23.2,47.8 23.8,47.6 24.8,47.4 25.3,47.2 26.2,46.8 26.8,46.4 27.2,46.0 27.9,45.8 28.8,45.6 29.8,45.7 30.2,45.9 31.2,46.2 31.8,46.3 32.8,46.7 33.2,46.9 34.2,47.2 34.8,47.4 35.4,47.8 36.1,48.2 36.7,48.8 37.2,49.2 37.7,49.8 38.2,50.2 38.5,50.8 38.8,51.2 39.2,52.2 39.5,52.8 39.8,53.2 40.2,54.2 40.4,54.8 40.7,55.8 40.7,56.8 40.6,57.8 40.5,58.8 40.3,59.8 40.3,60.8 40.4,61.8 40.2,62.4 39.8,63.2 39.5,63.8 39.2,64.2 38.9,65.2 38.7,65.8 38.6,66.8 38.4,67.8 38.2,68.2 37.8,69.0 37.3,69.8 37.1,70.2 36.8,71.0 36.3,71.8 35.9,72.2 35.5,72.8 35.1,73.2 34.6,73.8 33.9,74.2 33.2,74.7 32.8,75.1 32.2,75.5 31.8,76.0 31.2,76.4 30.8,76.8 29.8,77.2 28.8,76.8 28.2,76.7 27.2,76.7 26.8,76.9 25.8,77.2 25.2,77.3Z" fill="#d4d4d4" stroke="#2e2e2e" stroke-width="0.75" fill-rule="evenodd"/>
<path d="M30.8,26.8 29.8,26.8 29.1,26.8 28.2,26.6 27.2,26.5 26.2,26.4 25.7,26.2 24.8,26.0 24.2,25.7 23.7,25.2 23.2,24.8 22.8,24.0 22.3,23.2 22.1,22.8 22.0,21.8 22.2,21.0 22.8,20.3 23.2,19.8 23.8,19.5 24.2,19.1 24.8,18.7 25.4,18.2 26.2,17.8 26.8,17.4 27.2,17.2 28.2,16.8 28.8,16.6 29.8,16.4 30.2,16.2 31.2,16.1 32.2,16.0 33.2,16.1 33.9,16.2 34.8,16.3 35.8,16.4 36.8,16.5 37.6,16.8 38.2,17.0 38.8,17.3 39.4,17.8 40.2,18.2 40.8,18.5 41.3,18.8 42.2,19.2 42.6,19.8 42.5,20.8 42.2,21.2 41.8,21.8 41.2,22.2 40.6,22.8 39.9,23.2 39.2,23.7 38.8,23.9 38.0,24.2 37.2,24.6 36.8,24.8 36.0,25.2 35.2,25.7 34.8,25.9 33.8,26.2 33.2,26.3 32.2,26.6 31.2,26.7 30.8,26.8ZM27.2,75.3 26.2,75.6 25.2,75.6 24.5,75.2 23.8,74.8 23.2,74.5 22.8,74.2 21.9,73.8 21.2,73.4 20.8,73.1 20.2,72.6 19.8,72.1 19.3,71.2 19.1,70.8 18.8,70.1 18.4,69.2 18.2,68.8 17.9,67.8 17.8,67.2 17.5,66.2 17.3,65.2 17.5,64.2 17.8,63.8 18.0,62.8 17.8,61.8 17.6,61.2 17.6,60.2 17.8,59.8 18.0,58.8 18.2,57.9 18.5,57.2 18.8,56.7 19.1,55.8 19.3,55.2 19.8,54.4 20.2,53.8 20.7,53.2 21.1,52.8 21.5,52.2 21.9,51.8 22.2,51.1 22.8,50.3 23.2,49.8 23.8,49.3 24.2,49.0 24.8,48.7 25.8,48.4 26.5,48.2 27.2,48.0 27.8,47.8 28.8,47.6 29.8,47.7 30.2,47.8 31.2,48.2 31.8,48.7 32.2,49.0 33.2,49.2 33.8,49.3 34.8,49.6 35.2,50.0 35.8,50.4 36.2,50.9 36.8,51.5 37.2,52.2 37.4,52.8 37.8,53.3 38.2,54.1 38.6,54.8 38.9,55.2 39.1,56.2 39.1,57.2 39.1,58.2 39.0,59.2 38.8,60.2 38.8,61.0 38.7,61.8 38.5,62.8 38.2,63.6 38.1,64.2 37.8,65.2 37.6,65.8 37.2,66.7 37.0,67.2 36.7,67.8 36.2,68.5 35.9,69.2 35.7,69.8 35.3,70.8 34.9,71.2 34.6,71.8 34.1,72.2 33.6,72.8 33.0,73.2 32.4,73.8 31.8,74.2 31.2,74.5 30.3,74.8 29.8,74.8 28.8,75.0 27.8,75.2 27.2,75.3Z" fill="#b0b0b0" stroke="#5a5a5a" stroke-width="0.4" fill-rule="evenodd"/>
<path d="M32.8,25.8 31.8,26.0 30.8,26.1 29.8,26.1 28.8,25.9 27.8,25.8 27.2,25.7 26.2,25.5 25.3,25.2 24.8,25.0 24.2,24.5 23.8,23.8 23.5,23.2 23.2,22.4 23.2,21.8 23.4,21.2 23.8,20.7 24.2,20.1 24.8,19.7 25.3,19.2 25.9,18.8 26.8,18.3 27.2,18.0 27.9,17.8 28.8,17.4 29.2,17.2 30.2,16.9 31.2,16.8 31.8,16.7 32.6,16.8 33.2,16.8 34.2,16.9 35.2,17.1 36.2,17.2 36.8,17.3 37.6,17.8 38.2,18.2 38.7,18.8 39.2,19.2 39.8,19.7 40.2,20.1 40.4,20.8 40.1,21.2 39.7,21.8 39.2,22.2 38.7,22.8 37.9,23.2 37.2,23.6 36.8,23.9 36.2,24.2 35.4,24.8 34.8,25.1 34.2,25.3 33.2,25.7 32.8,25.8ZM27.2,74.3 26.2,74.4 25.7,74.2 24.8,73.8 24.2,73.5 23.6,73.2 22.8,72.9 22.2,72.7 21.3,72.2 20.8,71.8 20.4,71.2 20.1,70.8 19.8,70.0 19.4,69.2 19.2,68.8 19.0,67.8 18.8,66.8 18.7,66.2 18.5,65.2 18.7,64.2 18.8,63.8 19.0,62.8 18.9,61.8 18.8,61.1 18.7,60.2 18.8,59.8 19.1,58.8 19.2,58.2 19.6,57.2 19.8,56.8 20.2,55.8 20.5,55.2 20.8,54.8 21.2,54.1 21.8,53.5 22.2,52.9 22.8,52.4 23.2,51.8 23.7,51.2 24.2,50.8 24.8,50.4 25.2,50.1 26.2,49.8 26.8,49.7 27.8,49.5 28.8,49.3 29.2,49.2 29.8,49.3 30.6,49.8 31.2,50.1 31.8,50.3 32.8,50.5 33.7,50.8 34.2,51.0 34.8,51.5 35.2,52.1 35.7,52.8 36.1,53.2 36.4,53.8 36.8,54.6 36.9,55.2 37.2,56.2 37.4,56.8 37.7,57.8 37.8,58.2 37.8,59.2 37.7,59.8 37.6,60.8 37.3,61.8 37.3,62.8 37.2,63.2 37.1,64.2 36.8,65.2 36.5,65.8 36.2,66.2 35.8,67.1 35.5,67.8 35.2,68.3 34.8,69.2 34.6,69.8 34.2,70.3 33.8,70.9 33.2,71.4 32.8,71.9 32.2,72.5 31.8,72.9 31.2,73.2 30.2,73.6 29.7,73.8 28.8,74.0 27.8,74.2 27.2,74.3Z" fill="#c2c2c2" stroke="#6a6a6a" stroke-width="0.35" fill-rule="evenodd"/>
<path d="M32.2,25.3 31.2,25.4 30.2,25.4 29.2,25.3 28.8,25.2 27.8,25.0 26.8,24.8 26.2,24.6 25.4,24.2 24.9,23.8 24.6,23.2 24.3,22.2 24.5,21.2 24.8,20.7 25.2,20.1 25.8,19.7 26.4,19.2 27.2,18.8 27.8,18.5 28.3,18.2 29.2,17.9 29.8,17.7 30.8,17.4 31.8,17.4 32.8,17.4 33.8,17.5 34.8,17.6 35.3,17.8 36.2,18.0 36.8,18.3 37.3,18.8 37.8,19.4 38.1,20.2 38.2,21.2 37.8,22.1 37.2,22.6 36.8,23.0 36.2,23.4 35.7,23.8 34.9,24.2 34.2,24.6 33.8,24.8 32.8,25.2 32.2,25.3ZM27.2,73.3 26.3,73.2 25.8,73.1 24.9,72.8 24.2,72.4 23.8,72.2 22.8,71.8 22.2,71.6 21.6,71.2 21.2,70.8 20.8,70.0 20.4,69.2 20.2,68.7 20.0,67.8 19.8,66.8 19.7,66.2 19.5,65.2 19.5,64.2 19.7,63.2 19.8,62.8 19.8,61.8 19.7,61.2 19.7,60.2 19.8,59.8 20.0,58.8 20.2,58.2 20.6,57.2 20.8,56.8 21.2,55.8 21.6,55.2 21.9,54.8 22.3,54.2 22.8,53.7 23.2,53.2 23.8,52.7 24.2,52.2 24.9,51.8 25.8,51.3 26.2,51.1 27.2,50.8 27.8,50.7 28.8,50.6 29.8,50.7 30.2,50.9 31.2,51.2 31.8,51.3 32.8,51.5 33.2,51.8 33.8,52.2 34.2,52.8 34.8,53.5 35.2,54.2 35.4,54.8 35.7,55.8 35.8,56.2 36.2,57.2 36.4,57.8 36.7,58.8 36.7,59.8 36.6,60.8 36.4,61.8 36.3,62.8 36.2,63.6 36.1,64.2 35.8,65.1 35.4,65.8 35.2,66.2 34.8,67.2 34.6,67.8 34.2,68.5 33.8,69.2 33.4,69.8 33.0,70.2 32.5,70.8 32.1,71.2 31.6,71.8 31.1,72.2 30.2,72.7 29.8,72.8 28.8,73.0 27.8,73.2 27.2,73.3Z" fill="#9e9e9e" stroke="#707070" stroke-width="0.35" fill-rule="evenodd"/>
<path d="M33.2,24.3 32.2,24.5 31.2,24.6 30.2,24.7 29.2,24.6 28.2,24.4 27.8,24.2 26.8,23.8 26.2,23.5 25.8,23.0 25.4,22.2 25.5,21.2 25.8,20.8 26.2,20.2 26.9,19.8 27.8,19.3 28.2,19.1 29.0,18.8 29.8,18.5 30.5,18.2 31.2,18.1 32.2,18.1 33.2,18.2 33.9,18.2 34.8,18.4 35.6,18.8 36.2,19.2 36.6,19.8 36.8,20.2 36.8,21.2 36.6,21.8 36.2,22.2 35.7,22.8 35.0,23.2 34.2,23.7 33.8,24.0 33.2,24.3ZM28.2,71.8 27.2,72.0 26.2,72.0 25.3,71.8 24.8,71.5 24.2,71.2 23.3,70.8 22.8,70.4 22.2,69.9 21.9,69.2 21.6,68.8 21.3,67.8 21.2,67.2 20.8,66.2 20.7,65.8 20.5,64.8 20.6,63.8 20.6,62.8 20.6,61.8 20.6,60.8 20.7,59.8 20.9,59.2 21.2,58.4 21.5,57.8 21.8,57.2 22.2,56.4 22.6,55.8 23.0,55.2 23.4,54.8 23.9,54.2 24.4,53.8 25.0,53.2 25.8,52.8 26.2,52.5 26.9,52.2 27.8,51.9 28.8,51.8 29.8,52.0 30.8,52.2 31.2,52.3 32.2,52.6 32.8,52.9 33.2,53.5 33.7,54.2 34.0,54.8 34.3,55.2 34.7,56.2 34.8,56.8 35.2,57.8 35.3,58.2 35.6,59.2 35.6,60.2 35.5,61.2 35.4,62.2 35.3,63.2 35.2,63.8 34.8,64.8 34.6,65.2 34.2,66.2 34.1,66.8 33.8,67.5 33.3,68.2 32.8,68.8 32.3,69.2 31.8,69.8 31.3,70.2 30.8,70.8 30.2,71.2 29.8,71.5 28.8,71.7 28.2,71.8Z" fill="#b6b6b6" stroke="#7a7a7a" stroke-width="0.32" fill-rule="evenodd"/>
<path d="M31.8,23.8 30.8,23.8 29.8,23.8 29.0,23.8 28.2,23.5 27.7,23.2 27.1,22.8 26.8,22.0 26.8,21.6 27.2,20.8 27.8,20.4 28.2,20.1 28.9,19.8 29.8,19.4 30.2,19.2 31.2,19.0 32.2,19.0 33.2,19.1 34.0,19.2 34.8,19.7 35.2,20.2 35.4,20.8 35.2,21.5 34.8,22.2 34.2,22.7 33.8,23.1 33.2,23.4 32.2,23.7 31.8,23.8ZM28.2,70.4 27.2,70.7 26.2,70.7 25.2,70.4 24.8,70.1 24.2,69.7 23.8,69.1 23.3,68.2 23.1,67.8 22.8,67.2 22.3,66.2 22.0,65.8 21.8,64.9 21.6,64.2 21.6,63.2 21.6,62.2 21.6,61.2 21.7,60.2 21.8,59.8 22.2,58.8 22.5,58.2 22.8,57.7 23.2,56.9 23.7,56.2 24.1,55.8 24.7,55.2 25.2,54.8 25.8,54.4 26.2,54.1 26.8,53.8 27.7,53.2 28.2,53.1 29.2,53.1 29.8,53.2 30.8,53.4 31.7,53.8 32.2,54.1 32.8,54.7 33.1,55.2 33.4,55.8 33.8,56.7 33.9,57.2 34.1,58.2 34.2,58.8 34.5,59.8 34.6,60.8 34.6,61.8 34.4,62.8 34.2,63.4 34.0,64.2 33.8,64.8 33.4,65.8 33.2,66.2 32.8,67.2 32.3,67.8 31.8,68.2 31.2,68.7 30.8,69.1 30.2,69.4 29.6,69.8 28.8,70.2 28.2,70.4Z" fill="#9a9a9a" stroke="#7a7a7a" stroke-width="0.32" fill-rule="evenodd"/>
<path d="M32.8,22.4 31.8,22.6 30.8,22.5 29.8,22.5 29.0,22.2 29.2,21.3 29.8,21.0 30.2,20.7 31.2,20.3 31.8,20.2 32.6,20.2 33.2,20.6 33.6,21.2 33.2,22.0 32.8,22.4ZM28.8,68.9 27.8,69.1 26.8,69.1 26.0,68.8 25.3,68.2 24.9,67.8 24.4,67.2 24.0,66.8 23.6,66.2 23.2,65.6 22.9,64.8 22.8,64.2 22.7,63.2 22.7,62.2 22.8,61.3 22.8,60.8 23.0,59.8 23.2,59.1 23.6,58.2 23.9,57.8 24.2,57.1 24.8,56.6 25.2,56.2 26.0,55.8 26.8,55.4 27.2,55.2 28.2,54.8 28.8,54.7 29.5,54.8 30.2,54.8 31.2,55.1 31.8,55.5 32.2,56.1 32.6,56.8 32.8,57.2 33.1,58.2 33.2,59.0 33.4,59.8 33.6,60.8 33.5,61.8 33.3,62.8 33.2,63.2 32.9,64.2 32.7,64.8 32.3,65.8 32.0,66.2 31.7,66.8 31.2,67.4 30.8,67.9 30.2,68.2 29.2,68.7 28.8,68.9Z" fill="#b2b2b2" stroke="#7a7a7a" stroke-width="0.32" fill-rule="evenodd"/>
<path d="M29.8,67.3 28.8,67.6 27.8,67.6 26.8,67.3 26.2,67.0 25.8,66.7 25.2,66.2 24.8,65.7 24.2,64.8 24.1,64.2 24.0,63.2 24.2,62.2 24.2,61.2 24.3,60.8 24.4,59.8 24.7,58.8 24.9,58.2 25.3,57.8 25.9,57.2 26.8,56.9 27.8,56.8 28.2,56.7 29.2,56.7 29.8,56.8 30.8,57.0 31.2,57.3 31.8,57.9 32.1,58.8 32.2,59.7 32.3,60.2 32.3,61.2 32.2,61.9 32.1,62.8 31.9,63.8 31.7,64.2 31.2,65.2 31.0,65.8 30.7,66.2 30.2,66.9 29.8,67.3Z" fill="#d2d2d2" stroke="#7a7a7a" stroke-width="0.32" fill-rule="evenodd"/>
<path d="M29.2,65.4 28.2,65.5 27.2,65.3 26.8,65.1 26.2,64.8 25.8,64.0 25.6,63.2 25.6,62.2 25.8,61.5 25.9,60.8 26.1,59.8 26.4,59.2 27.0,58.8 27.8,58.5 28.8,58.5 29.6,58.8 30.2,59.2 30.3,59.8 30.5,60.8 30.7,61.8 30.8,62.2 30.8,63.2 30.6,63.8 30.2,64.4 29.8,65.0 29.2,65.4Z" fill="#eeeeee" stroke="#7a7a7a" stroke-width="0.32" fill-rule="evenodd"/>
</g>
<text x="459.00" y="135.10" font-size="7.9" text-anchor="middle">TGF&#946;2</text>
<rect x="411.00" y="139.70" width="96.00" height="95.20" fill="none" stroke="#1a1a1a" stroke-width="1.15"/>
<rect x="452.60" y="150.70" width="39.00" height="20.50" fill="none" stroke="#1a1a1a" stroke-width="1.0"/>
<text x="489.30" y="169.50" font-size="11.7" text-anchor="end" fill="#111">2.36</text>
<line x1="408.60" y1="151.20" x2="411.00" y2="151.20" stroke="#1a1a1a" stroke-width="0.9"/>
<text x="405.00" y="153.30" font-size="5.9" text-anchor="end" fill="#2a2a2a">10<tspan font-size="3.9" dy="-2.5">6</tspan></text>
<line x1="408.60" y1="168.40" x2="411.00" y2="168.40" stroke="#1a1a1a" stroke-width="0.9"/>
<text x="405.00" y="170.50" font-size="5.9" text-anchor="end" fill="#2a2a2a">10<tspan font-size="3.9" dy="-2.5">5</tspan></text>
<line x1="408.60" y1="190.00" x2="411.00" y2="190.00" stroke="#1a1a1a" stroke-width="0.9"/>
<text x="405.00" y="192.10" font-size="5.9" text-anchor="end" fill="#2a2a2a">10<tspan font-size="3.9" dy="-2.5">4</tspan></text>
<line x1="408.60" y1="209.20" x2="411.00" y2="209.20" stroke="#1a1a1a" stroke-width="0.9"/>
<text x="400.30" y="211.30" font-size="5.9" text-anchor="middle" fill="#2a2a2a">0</text>
<line x1="408.60" y1="230.50" x2="411.00" y2="230.50" stroke="#1a1a1a" stroke-width="0.9"/>
<text x="405.00" y="232.60" font-size="5.9" text-anchor="end" fill="#2a2a2a">&#8722;10<tspan font-size="3.9" dy="-2.5">4</tspan></text>
<line x1="409.70" y1="143.00" x2="411.00" y2="143.00" stroke="#333" stroke-width="0.6"/>
<line x1="409.70" y1="145.00" x2="411.00" y2="145.00" stroke="#333" stroke-width="0.6"/>
<line x1="409.70" y1="147.00" x2="411.00" y2="147.00" stroke="#333" stroke-width="0.6"/>
<line x1="409.70" y1="149.00" x2="411.00" y2="149.00" stroke="#333" stroke-width="0.6"/>
<line x1="409.70" y1="153.00" x2="411.00" y2="153.00" stroke="#333" stroke-width="0.6"/>
<line x1="409.70" y1="155.00" x2="411.00" y2="155.00" stroke="#333" stroke-width="0.6"/>
<line x1="409.70" y1="157.00" x2="411.00" y2="157.00" stroke="#333" stroke-width="0.6"/>
<line x1="409.70" y1="160.00" x2="411.00" y2="160.00" stroke="#333" stroke-width="0.6"/>
<line x1="409.70" y1="163.00" x2="411.00" y2="163.00" stroke="#333" stroke-width="0.6"/>
<line x1="409.70" y1="166.00" x2="411.00" y2="166.00" stroke="#333" stroke-width="0.6"/>
<line x1="409.70" y1="171.00" x2="411.00" y2="171.00" stroke="#333" stroke-width="0.6"/>
<line x1="409.70" y1="174.00" x2="411.00" y2="174.00" stroke="#333" stroke-width="0.6"/>
<line x1="409.70" y1="178.00" x2="411.00" y2="178.00" stroke="#333" stroke-width="0.6"/>
<line x1="409.70" y1="182.00" x2="411.00" y2="182.00" stroke="#333" stroke-width="0.6"/>
<line x1="409.70" y1="186.00" x2="411.00" y2="186.00" stroke="#333" stroke-width="0.6"/>
<line x1="409.70" y1="196.00" x2="411.00" y2="196.00" stroke="#333" stroke-width="0.6"/>
<line x1="409.70" y1="201.00" x2="411.00" y2="201.00" stroke="#333" stroke-width="0.6"/>
<line x1="409.70" y1="205.00" x2="411.00" y2="205.00" stroke="#333" stroke-width="0.6"/>
<line x1="409.70" y1="207.00" x2="411.00" y2="207.00" stroke="#333" stroke-width="0.6"/>
<line x1="409.70" y1="211.00" x2="411.00" y2="211.00" stroke="#333" stroke-width="0.6"/>
<line x1="409.70" y1="213.00" x2="411.00" y2="213.00" stroke="#333" stroke-width="0.6"/>
<line x1="409.70" y1="216.00" x2="411.00" y2="216.00" stroke="#333" stroke-width="0.6"/>
<line x1="409.70" y1="220.00" x2="411.00" y2="220.00" stroke="#333" stroke-width="0.6"/>
<line x1="409.70" y1="225.00" x2="411.00" y2="225.00" stroke="#333" stroke-width="0.6"/>
<line x1="415.20" y1="234.90" x2="415.20" y2="237.30" stroke="#1a1a1a" stroke-width="0.9"/>
<text x="416.20" y="246.60" font-size="5.9" text-anchor="middle" fill="#2a2a2a">&#8722;10<tspan font-size="3.9" dy="-2.5">4</tspan></text>
<line x1="438.60" y1="234.90" x2="438.60" y2="237.30" stroke="#1a1a1a" stroke-width="0.9"/>
<text x="438.60" y="246.60" font-size="5.9" text-anchor="middle" fill="#2a2a2a">0</text>
<line x1="455.50" y1="234.90" x2="455.50" y2="237.30" stroke="#1a1a1a" stroke-width="0.9"/>
<text x="456.50" y="246.60" font-size="5.9" text-anchor="middle" fill="#2a2a2a">10<tspan font-size="3.9" dy="-2.5">4</tspan></text>
<line x1="480.50" y1="234.90" x2="480.50" y2="237.30" stroke="#1a1a1a" stroke-width="0.9"/>
<text x="481.50" y="246.60" font-size="5.9" text-anchor="middle" fill="#2a2a2a">10<tspan font-size="3.9" dy="-2.5">5</tspan></text>
<line x1="494.20" y1="234.90" x2="494.20" y2="237.30" stroke="#1a1a1a" stroke-width="0.9"/>
<text x="495.20" y="246.60" font-size="5.9" text-anchor="middle" fill="#2a2a2a">10<tspan font-size="3.9" dy="-2.5">6</tspan></text>
<line x1="413.00" y1="234.90" x2="413.00" y2="236.20" stroke="#333" stroke-width="0.6"/>
<line x1="415.00" y1="234.90" x2="415.00" y2="236.20" stroke="#333" stroke-width="0.6"/>
<line x1="420.00" y1="234.90" x2="420.00" y2="236.20" stroke="#333" stroke-width="0.6"/>
<line x1="423.00" y1="234.90" x2="423.00" y2="236.20" stroke="#333" stroke-width="0.6"/>
<line x1="426.00" y1="234.90" x2="426.00" y2="236.20" stroke="#333" stroke-width="0.6"/>
<line x1="429.00" y1="234.90" x2="429.00" y2="236.20" stroke="#333" stroke-width="0.6"/>
<line x1="432.00" y1="234.90" x2="432.00" y2="236.20" stroke="#333" stroke-width="0.6"/>
<line x1="435.00" y1="234.90" x2="435.00" y2="236.20" stroke="#333" stroke-width="0.6"/>
<line x1="437.00" y1="234.90" x2="437.00" y2="236.20" stroke="#333" stroke-width="0.6"/>
<line x1="442.00" y1="234.90" x2="442.00" y2="236.20" stroke="#333" stroke-width="0.6"/>
<line x1="444.00" y1="234.90" x2="444.00" y2="236.20" stroke="#333" stroke-width="0.6"/>
<line x1="447.00" y1="234.90" x2="447.00" y2="236.20" stroke="#333" stroke-width="0.6"/>
<line x1="450.00" y1="234.90" x2="450.00" y2="236.20" stroke="#333" stroke-width="0.6"/>
<line x1="453.00" y1="234.90" x2="453.00" y2="236.20" stroke="#333" stroke-width="0.6"/>
<line x1="461.00" y1="234.90" x2="461.00" y2="236.20" stroke="#333" stroke-width="0.6"/>
<line x1="466.00" y1="234.90" x2="466.00" y2="236.20" stroke="#333" stroke-width="0.6"/>
<line x1="470.00" y1="234.90" x2="470.00" y2="236.20" stroke="#333" stroke-width="0.6"/>
<line x1="473.00" y1="234.90" x2="473.00" y2="236.20" stroke="#333" stroke-width="0.6"/>
<line x1="476.00" y1="234.90" x2="476.00" y2="236.20" stroke="#333" stroke-width="0.6"/>
<line x1="478.00" y1="234.90" x2="478.00" y2="236.20" stroke="#333" stroke-width="0.6"/>
<line x1="486.00" y1="234.90" x2="486.00" y2="236.20" stroke="#333" stroke-width="0.6"/>
<line x1="490.00" y1="234.90" x2="490.00" y2="236.20" stroke="#333" stroke-width="0.6"/>
<line x1="493.00" y1="234.90" x2="493.00" y2="236.20" stroke="#333" stroke-width="0.6"/>
<line x1="499.00" y1="234.90" x2="499.00" y2="236.20" stroke="#333" stroke-width="0.6"/>
<line x1="502.00" y1="234.90" x2="502.00" y2="236.20" stroke="#333" stroke-width="0.6"/>
<line x1="504.00" y1="234.90" x2="504.00" y2="236.20" stroke="#333" stroke-width="0.6"/>
<line x1="16.40" y1="142.50" x2="16.40" y2="218.50" stroke="#222" stroke-width="0.9"/>
<path d="M16.4,139.6 L14.6,144.2 L18.2,144.2 Z" fill="#222"/>
<text x="0" y="0" font-size="7.2" text-anchor="middle" font-weight="bold" fill="#2a2a2a" transform="translate(18.30,228.20) rotate(-90) scale(0.71,1)">CD45</text>
<text x="0" y="0" font-size="7.2" text-anchor="middle" font-weight="bold" fill="#2a2a2a" transform="translate(50.80,257.30) scale(0.675,1)">VECAD</text>
<line x1="61.40" y1="254.70" x2="503.00" y2="254.70" stroke="#333" stroke-width="0.9"/>
<path d="M506.6,254.7 L502.1,252.9 L502.1,256.5 Z" fill="#333"/>
<text x="0" y="0" font-size="11.2" font-weight="bold" fill="#111" transform="translate(40.30,274.50) scale(0.9,1)">C</text>
<line x1="87.50" y1="269.60" x2="87.50" y2="353.00" stroke="#222" stroke-width="1.0"/>
<line x1="87.00" y1="352.50" x2="251.80" y2="352.50" stroke="#222" stroke-width="1.0"/>
<line x1="84.90" y1="351.80" x2="87.50" y2="351.80" stroke="#333" stroke-width="0.8"/>
<text x="81.80" y="353.90" font-size="5.9" text-anchor="end" fill="#333">0</text>
<line x1="84.90" y1="340.50" x2="87.50" y2="340.50" stroke="#333" stroke-width="0.8"/>
<text x="81.80" y="342.60" font-size="5.9" text-anchor="end" fill="#333">2</text>
<line x1="84.90" y1="329.20" x2="87.50" y2="329.20" stroke="#333" stroke-width="0.8"/>
<text x="81.80" y="331.30" font-size="5.9" text-anchor="end" fill="#333">4</text>
<line x1="84.90" y1="317.90" x2="87.50" y2="317.90" stroke="#333" stroke-width="0.8"/>
<text x="81.80" y="320.00" font-size="5.9" text-anchor="end" fill="#333">6</text>
<line x1="84.90" y1="306.60" x2="87.50" y2="306.60" stroke="#333" stroke-width="0.8"/>
<text x="81.80" y="308.70" font-size="5.9" text-anchor="end" fill="#333">8</text>
<line x1="84.90" y1="295.30" x2="87.50" y2="295.30" stroke="#333" stroke-width="0.8"/>
<text x="81.80" y="297.40" font-size="5.9" text-anchor="end" fill="#333">10</text>
<line x1="84.90" y1="284.00" x2="87.50" y2="284.00" stroke="#333" stroke-width="0.8"/>
<text x="81.80" y="286.10" font-size="5.9" text-anchor="end" fill="#333">12</text>
<line x1="84.90" y1="272.70" x2="87.50" y2="272.70" stroke="#333" stroke-width="0.8"/>
<text x="81.80" y="274.80" font-size="5.9" text-anchor="end" fill="#333">14</text>
<line x1="119.80" y1="352.20" x2="119.80" y2="355.00" stroke="#333" stroke-width="0.8"/>
<line x1="152.50" y1="352.20" x2="152.50" y2="355.00" stroke="#333" stroke-width="0.8"/>
<line x1="184.80" y1="352.20" x2="184.80" y2="355.00" stroke="#333" stroke-width="0.8"/>
<line x1="217.10" y1="352.20" x2="217.10" y2="355.00" stroke="#333" stroke-width="0.8"/>
<line x1="250.20" y1="352.20" x2="250.20" y2="355.00" stroke="#333" stroke-width="0.8"/>
<text x="0" y="0" font-size="7.3" text-anchor="middle" fill="#2a2a2a" transform="translate(59.00,311.90) rotate(-90) scale(0.62,1)" letter-spacing="0.45" style="stroke-width:0.32px">VECAD+/CD45+</text>
<text x="0" y="0" font-size="7.3" text-anchor="middle" fill="#2a2a2a" transform="translate(69.70,310.20) rotate(-90) scale(0.66,1)" letter-spacing="0.33" style="stroke-width:0.32px">(% of live/singlets)</text>
<text x="232.40" y="284.60" font-size="5.6" text-anchor="middle" fill="#333">(n = 7)</text>
<circle cx="119.80" cy="282.50" r="1.9" fill="#c6c6c6"/>
<circle cx="119.80" cy="306.00" r="1.9" fill="#c6c6c6"/>
<circle cx="119.80" cy="323.50" r="1.9" fill="#c6c6c6"/>
<circle cx="119.80" cy="334.00" r="1.9" fill="#c6c6c6"/>
<circle cx="119.80" cy="336.20" r="1.9" fill="#c6c6c6"/>
<circle cx="119.8" cy="300.4" r="1.7" fill="#fff" stroke="#8a8a8a" stroke-width="0.8"/>
<line x1="119.80" y1="302.70" x2="119.80" y2="320.60" stroke="#222" stroke-width="0.9"/>
<line x1="118.00" y1="302.70" x2="121.60" y2="302.70" stroke="#222" stroke-width="0.9"/>
<line x1="118.00" y1="320.60" x2="121.60" y2="320.60" stroke="#222" stroke-width="0.9"/>
<line x1="114.80" y1="311.40" x2="124.80" y2="311.40" stroke="#111" stroke-width="1.9"/>
<circle cx="152.40" cy="322.50" r="1.9" fill="#c6c6c6"/>
<circle cx="152.40" cy="324.50" r="1.9" fill="#c6c6c6"/>
<circle cx="152.40" cy="326.50" r="1.9" fill="#c6c6c6"/>
<circle cx="152.40" cy="344.00" r="1.9" fill="#c6c6c6"/>
<circle cx="152.40" cy="345.50" r="1.9" fill="#c6c6c6"/>
<line x1="152.40" y1="328.80" x2="152.40" y2="333.00" stroke="#222" stroke-width="0.9"/>
<line x1="150.60" y1="328.80" x2="154.20" y2="328.80" stroke="#222" stroke-width="0.9"/>
<line x1="150.60" y1="333.00" x2="154.20" y2="333.00" stroke="#222" stroke-width="0.9"/>
<line x1="147.60" y1="331.20" x2="157.20" y2="331.20" stroke="#111" stroke-width="1.9"/>
<text x="152.40" y="318.70" font-size="7.8" text-anchor="middle">**</text>
<circle cx="185.00" cy="282.20" r="1.9" fill="#c6c6c6"/>
<circle cx="185.00" cy="285.00" r="1.9" fill="#c6c6c6"/>
<circle cx="185.00" cy="288.00" r="1.9" fill="#c6c6c6"/>
<circle cx="185.00" cy="290.80" r="1.9" fill="#c6c6c6"/>
<circle cx="185.00" cy="319.60" r="1.9" fill="#c6c6c6"/>
<circle cx="185.00" cy="323.50" r="1.9" fill="#c6c6c6"/>
<line x1="185.00" y1="293.70" x2="185.00" y2="302.70" stroke="#222" stroke-width="0.9"/>
<line x1="183.20" y1="293.70" x2="186.80" y2="293.70" stroke="#222" stroke-width="0.9"/>
<line x1="183.20" y1="302.70" x2="186.80" y2="302.70" stroke="#222" stroke-width="0.9"/>
<line x1="180.10" y1="298.00" x2="189.90" y2="298.00" stroke="#111" stroke-width="1.9"/>
<circle cx="217.10" cy="322.50" r="1.9" fill="#c6c6c6"/>
<circle cx="217.10" cy="324.60" r="1.9" fill="#c6c6c6"/>
<circle cx="217.10" cy="342.40" r="1.9" fill="#c6c6c6"/>
<circle cx="217.10" cy="344.00" r="1.9" fill="#c6c6c6"/>
<line x1="217.10" y1="328.80" x2="217.10" y2="343.00" stroke="#222" stroke-width="0.9"/>
<line x1="215.30" y1="328.80" x2="218.90" y2="328.80" stroke="#222" stroke-width="0.9"/>
<line x1="215.30" y1="343.00" x2="218.90" y2="343.00" stroke="#222" stroke-width="0.9"/>
<line x1="212.10" y1="336.00" x2="222.10" y2="336.00" stroke="#111" stroke-width="1.9"/>
<text x="217.10" y="320.90" font-size="7.8" text-anchor="middle">**</text>
<text x="0" y="0" font-size="6.1" text-anchor="end" fill="#333" transform="translate(122.80,361.30) rotate(-45)">DMSO</text>
<text x="0" y="0" font-size="6.1" text-anchor="end" fill="#333" transform="translate(155.60,361.30) rotate(-45)">Compound E</text>
<text x="0" y="0" font-size="6.1" text-anchor="end" fill="#333" transform="translate(188.00,361.30) rotate(-45)">SB431542</text>
<text x="0" y="0" font-size="6.1" text-anchor="end" fill="#333" transform="translate(220.20,361.30) rotate(-45)">TGF&#946;2</text>
<text x="0" y="0" font-size="11.2" font-weight="bold" fill="#111" transform="translate(40.70,404.80) scale(0.9,1)">D</text>
<line x1="95.50" y1="409.20" x2="95.50" y2="479.50" stroke="#222" stroke-width="1.0"/>
<line x1="95.00" y1="479.00" x2="252.30" y2="479.00" stroke="#222" stroke-width="1.0"/>
<line x1="92.90" y1="478.60" x2="95.50" y2="478.60" stroke="#333" stroke-width="0.8"/>
<text x="90.00" y="480.90" font-size="6.4" text-anchor="end" fill="#333">0</text>
<line x1="92.90" y1="465.18" x2="95.50" y2="465.18" stroke="#333" stroke-width="0.8"/>
<text x="90.00" y="467.48" font-size="6.4" text-anchor="end" fill="#333">20000</text>
<line x1="92.90" y1="451.76" x2="95.50" y2="451.76" stroke="#333" stroke-width="0.8"/>
<text x="90.00" y="454.06" font-size="6.4" text-anchor="end" fill="#333">40000</text>
<line x1="92.90" y1="438.34" x2="95.50" y2="438.34" stroke="#333" stroke-width="0.8"/>
<text x="90.00" y="440.64" font-size="6.4" text-anchor="end" fill="#333">60000</text>
<line x1="92.90" y1="424.92" x2="95.50" y2="424.92" stroke="#333" stroke-width="0.8"/>
<text x="90.00" y="427.22" font-size="6.4" text-anchor="end" fill="#333">80000</text>
<line x1="92.90" y1="411.50" x2="95.50" y2="411.50" stroke="#333" stroke-width="0.8"/>
<text x="90.00" y="413.80" font-size="6.4" text-anchor="end" fill="#333">100000</text>
<line x1="125.80" y1="478.90" x2="125.80" y2="481.70" stroke="#333" stroke-width="0.8"/>
<line x1="156.70" y1="478.90" x2="156.70" y2="481.70" stroke="#333" stroke-width="0.8"/>
<line x1="187.70" y1="478.90" x2="187.70" y2="481.70" stroke="#333" stroke-width="0.8"/>
<line x1="218.70" y1="478.90" x2="218.70" y2="481.70" stroke="#333" stroke-width="0.8"/>
<line x1="250.00" y1="478.90" x2="250.00" y2="481.70" stroke="#333" stroke-width="0.8"/>
<text x="0" y="0" font-size="7.0" text-anchor="middle" font-weight="bold" fill="#2a2a2a" transform="translate(53.20,443.80) rotate(-90) scale(0.75,1)">MFI of VECAD-</text>
<text x="0" y="0" font-size="7.0" text-anchor="middle" font-weight="bold" fill="#2a2a2a" transform="translate(62.90,444.20) rotate(-90) scale(0.72,1)">APC-Cy7</text>
<text x="232.10" y="412.90" font-size="5.6" text-anchor="middle" fill="#333">(n = 7)</text>
<circle cx="125.80" cy="466.20" r="1.9" fill="#c6c6c6"/>
<circle cx="125.80" cy="468.00" r="1.9" fill="#c6c6c6"/>
<circle cx="125.80" cy="471.00" r="1.9" fill="#c6c6c6"/>
<circle cx="125.80" cy="472.60" r="1.9" fill="#c6c6c6"/>
<line x1="121.00" y1="469.60" x2="130.80" y2="469.60" stroke="#111" stroke-width="1.9"/>
<circle cx="156.70" cy="466.40" r="1.9" fill="#c6c6c6"/>
<circle cx="156.70" cy="468.00" r="1.9" fill="#c6c6c6"/>
<circle cx="156.70" cy="470.60" r="1.9" fill="#c6c6c6"/>
<circle cx="156.70" cy="472.40" r="1.9" fill="#c6c6c6"/>
<line x1="152.00" y1="469.60" x2="162.00" y2="469.60" stroke="#111" stroke-width="1.9"/>
<line x1="156.70" y1="467.60" x2="156.70" y2="471.60" stroke="#222" stroke-width="0.9"/>
<circle cx="187.70" cy="425.40" r="1.9" fill="#c6c6c6"/>
<circle cx="187.70" cy="435.60" r="1.9" fill="#c6c6c6"/>
<circle cx="187.70" cy="453.80" r="1.9" fill="#c6c6c6"/>
<circle cx="187.70" cy="456.70" r="1.9" fill="#c6c6c6"/>
<circle cx="187.70" cy="459.60" r="1.9" fill="#c6c6c6"/>
<circle cx="187.70" cy="461.40" r="1.9" fill="#c6c6c6"/>
<circle cx="187.70" cy="465.80" r="1.9" fill="#c6c6c6"/>
<line x1="187.70" y1="448.00" x2="187.70" y2="452.90" stroke="#222" stroke-width="0.9"/>
<line x1="185.90" y1="448.00" x2="189.50" y2="448.00" stroke="#222" stroke-width="0.9"/>
<line x1="185.90" y1="452.90" x2="189.50" y2="452.90" stroke="#222" stroke-width="0.9"/>
<line x1="182.80" y1="451.50" x2="192.60" y2="451.50" stroke="#111" stroke-width="1.9"/>
<text x="187.70" y="421.20" font-size="7.8" text-anchor="middle">**</text>
<circle cx="218.70" cy="473.40" r="1.9" fill="#c6c6c6"/>
<circle cx="218.70" cy="474.40" r="1.9" fill="#c6c6c6"/>
<line x1="214.20" y1="474.00" x2="223.50" y2="474.00" stroke="#111" stroke-width="1.9"/>
<text x="218.70" y="470.90" font-size="7.8" text-anchor="middle">*</text>
<text x="0" y="0" font-size="6.1" text-anchor="end" fill="#333" transform="translate(129.60,487.40) rotate(-45)">DMSO</text>
<text x="0" y="0" font-size="6.1" text-anchor="end" fill="#333" transform="translate(160.80,487.40) rotate(-45)">Compound E</text>
<text x="0" y="0" font-size="6.1" text-anchor="end" fill="#333" transform="translate(191.60,487.40) rotate(-45)">SB431542</text>
<text x="0" y="0" font-size="6.1" text-anchor="end" fill="#333" transform="translate(222.40,487.40) rotate(-45)">TGF&#946;2</text>
<text x="0" y="0" font-size="11.2" font-weight="bold" fill="#111" transform="translate(262.20,274.60) scale(0.9,1)">E</text>
<text x="0" y="0" font-size="7.8" text-anchor="middle" transform="translate(383.30,286.90) scale(1.06,1)">Live/Singlets/CD45<tspan font-size="5.6" dy="-2.6">+</tspan></text>
<line x1="290.70" y1="290.80" x2="476.30" y2="290.80" stroke="#333" stroke-width="1.4"/>
<path d="M322.00,327.00 L322.00,327.00 L322.60,326.99 L323.20,326.96 L323.80,326.90 L324.40,326.84 L325.00,326.75 L325.60,326.68 L326.20,326.55 L326.80,326.47 L327.40,326.19 L328.00,326.20 L328.60,325.78 L329.20,325.52 L329.80,324.99 L330.40,324.46 L331.00,324.12 L331.60,323.68 L332.20,322.76 L332.80,322.13 L333.40,321.71 L334.00,319.97 L334.60,318.50 L335.20,318.18 L335.80,316.27 L336.40,314.22 L337.00,313.32 L337.60,312.00 L338.20,309.86 L338.80,307.76 L339.40,306.51 L340.00,305.01 L340.60,302.73 L341.20,301.13 L341.80,300.53 L342.40,299.57 L343.00,298.17 L343.60,298.11 L344.20,298.41 L344.80,298.22 L345.40,298.63 L346.00,300.10 L346.60,301.05 L347.20,302.47 L347.80,302.21 L348.40,303.50 L349.00,304.52 L349.60,305.24 L350.20,307.35 L350.80,308.70 L351.40,309.13 L352.00,311.11 L352.60,311.57 L353.20,312.19 L353.80,312.76 L354.40,313.68 L355.00,313.12 L355.60,314.59 L356.20,314.98 L356.80,314.08 L357.40,315.33 L358.00,315.22 L358.60,315.90 L359.20,315.45 L359.80,315.81 L360.40,316.11 L361.00,315.61 L361.60,316.44 L362.20,316.16 L362.80,316.51 L363.40,316.03 L364.00,316.84 L364.60,316.58 L365.20,316.15 L365.80,316.50 L366.40,316.74 L367.00,316.93 L367.60,315.15 L368.20,316.28 L368.80,315.97 L369.40,315.59 L370.00,315.03 L370.60,316.06 L371.20,314.71 L371.80,315.52 L372.40,315.78 L373.00,314.22 L373.60,314.75 L374.20,314.13 L374.80,314.78 L375.40,315.29 L376.00,315.42 L376.60,313.39 L377.20,313.84 L377.80,314.31 L378.40,314.56 L379.00,313.79 L379.60,313.03 L380.20,313.39 L380.80,313.11 L381.40,312.93 L382.00,312.63 L382.60,313.22 L383.20,313.26 L383.80,313.17 L384.40,313.25 L385.00,312.89 L385.60,313.47 L386.20,314.51 L386.80,314.00 L387.40,313.61 L388.00,315.27 L388.60,315.17 L389.20,316.29 L389.80,315.62 L390.40,315.71 L391.00,315.58 L391.60,317.32 L392.20,318.31 L392.80,317.00 L393.40,317.49 L394.00,318.52 L394.60,318.23 L395.20,318.92 L395.80,319.29 L396.40,319.97 L397.00,320.84 L397.60,320.74 L398.20,321.60 L398.80,321.38 L399.40,322.11 L400.00,321.50 L400.60,322.12 L401.20,323.22 L401.80,323.05 L402.40,323.68 L403.00,323.92 L403.60,324.35 L404.20,324.44 L404.80,324.67 L405.40,324.62 L406.00,324.67 L406.60,324.81 L407.20,325.00 L407.80,325.04 L408.40,325.25 L409.00,325.43 L409.60,325.59 L410.20,325.62 L410.80,325.56 L411.40,325.84 L412.00,325.95 L412.60,326.09 L413.20,326.12 L413.80,326.09 L414.40,326.14 L415.00,326.36 L415.60,326.32 L416.20,326.42 L416.80,326.47 L417.40,326.35 L418.00,326.44 L418.60,326.48 L419.20,326.51 L419.80,326.54 L420.40,326.55 L421.00,326.58 L421.60,326.54 L422.20,326.61 L422.80,326.61 L423.40,326.66 L424.00,326.66 L424.60,326.71 L425.20,326.72 L425.80,326.73 L426.40,326.74 L427.00,326.75 L427.60,326.75 L428.20,326.77 L428.80,326.78 L429.40,326.81 L430.00,326.82 L430.60,326.84 L431.20,326.82 L431.80,326.86 L432.40,326.86 L433.00,326.87 L433.60,326.88 L434.20,326.89 L434.80,326.91 L435.40,326.91 L436.00,326.92 L436.60,326.93 L437.20,326.95 L437.80,326.95 L438.40,326.95 L439.00,326.97 L439.60,326.97 L440.20,326.98 L440.80,326.98 L441.40,326.99 L442.00,326.99 L442.60,326.99 L443.20,327.00 L443.80,327.00 L444.40,327.00 L445.00,327.00 L445.60,327.00 L446.20,327.00 L446.80,327.00 L447.40,327.00 L448.00,327.00 L448.60,327.00 L449.20,327.00 L449.80,327.00 L450.40,327.00 L451.00,327.00 L451.60,327.00 L452.20,327.00 L452.80,327.00 L453.40,327.00 L454.00,327.00 L454.60,327.00 L455.20,327.00 L455.80,327.00 L456.40,327.00 L457.00,327.00 L457.60,327.00 L458.20,327.00 L458.80,327.00 L459.40,327.00 L460.00,327.00 L460.00,327.00Z" fill="#4a5669" stroke="#15181d" stroke-width="0.45" stroke-linejoin="round"/>
<rect x="290.60" y="296.50" width="186.90" height="30.50" fill="none" stroke="#1a1a1a" stroke-width="1.0"/>
<line x1="287.60" y1="298.50" x2="290.60" y2="298.50" stroke="#333" stroke-width="0.8"/>
<text x="284.40" y="300.50" font-size="5.9" text-anchor="end" fill="#1e1e1e">800</text>
<line x1="287.60" y1="305.50" x2="290.60" y2="305.50" stroke="#333" stroke-width="0.8"/>
<text x="284.40" y="307.50" font-size="5.9" text-anchor="end" fill="#1e1e1e">600</text>
<line x1="287.60" y1="312.40" x2="290.60" y2="312.40" stroke="#333" stroke-width="0.8"/>
<text x="284.40" y="314.40" font-size="5.9" text-anchor="end" fill="#1e1e1e">400</text>
<line x1="287.60" y1="319.60" x2="290.60" y2="319.60" stroke="#333" stroke-width="0.8"/>
<text x="284.40" y="321.60" font-size="5.9" text-anchor="end" fill="#1e1e1e">200</text>
<line x1="287.60" y1="326.60" x2="290.60" y2="326.60" stroke="#333" stroke-width="0.8"/>
<text x="284.40" y="328.60" font-size="5.9" text-anchor="end" fill="#1e1e1e">0</text>
<line x1="289.40" y1="297.50" x2="290.60" y2="297.50" stroke="#555" stroke-width="0.4"/>
<line x1="289.40" y1="298.50" x2="290.60" y2="298.50" stroke="#555" stroke-width="0.4"/>
<line x1="289.40" y1="299.50" x2="290.60" y2="299.50" stroke="#555" stroke-width="0.4"/>
<line x1="289.40" y1="300.50" x2="290.60" y2="300.50" stroke="#555" stroke-width="0.4"/>
<line x1="289.40" y1="301.50" x2="290.60" y2="301.50" stroke="#555" stroke-width="0.4"/>
<line x1="289.40" y1="302.50" x2="290.60" y2="302.50" stroke="#555" stroke-width="0.4"/>
<line x1="289.40" y1="303.50" x2="290.60" y2="303.50" stroke="#555" stroke-width="0.4"/>
<line x1="289.40" y1="304.50" x2="290.60" y2="304.50" stroke="#555" stroke-width="0.4"/>
<line x1="289.40" y1="305.50" x2="290.60" y2="305.50" stroke="#555" stroke-width="0.4"/>
<line x1="289.40" y1="306.50" x2="290.60" y2="306.50" stroke="#555" stroke-width="0.4"/>
<line x1="289.40" y1="307.50" x2="290.60" y2="307.50" stroke="#555" stroke-width="0.4"/>
<line x1="289.40" y1="308.50" x2="290.60" y2="308.50" stroke="#555" stroke-width="0.4"/>
<line x1="289.40" y1="309.50" x2="290.60" y2="309.50" stroke="#555" stroke-width="0.4"/>
<line x1="289.40" y1="310.50" x2="290.60" y2="310.50" stroke="#555" stroke-width="0.4"/>
<line x1="289.40" y1="311.50" x2="290.60" y2="311.50" stroke="#555" stroke-width="0.4"/>
<line x1="289.40" y1="312.50" x2="290.60" y2="312.50" stroke="#555" stroke-width="0.4"/>
<line x1="289.40" y1="313.50" x2="290.60" y2="313.50" stroke="#555" stroke-width="0.4"/>
<line x1="289.40" y1="314.50" x2="290.60" y2="314.50" stroke="#555" stroke-width="0.4"/>
<line x1="289.40" y1="315.50" x2="290.60" y2="315.50" stroke="#555" stroke-width="0.4"/>
<line x1="289.40" y1="316.50" x2="290.60" y2="316.50" stroke="#555" stroke-width="0.4"/>
<line x1="289.40" y1="317.50" x2="290.60" y2="317.50" stroke="#555" stroke-width="0.4"/>
<line x1="289.40" y1="318.50" x2="290.60" y2="318.50" stroke="#555" stroke-width="0.4"/>
<line x1="289.40" y1="319.50" x2="290.60" y2="319.50" stroke="#555" stroke-width="0.4"/>
<line x1="289.40" y1="320.50" x2="290.60" y2="320.50" stroke="#555" stroke-width="0.4"/>
<line x1="289.40" y1="321.50" x2="290.60" y2="321.50" stroke="#555" stroke-width="0.4"/>
<line x1="289.40" y1="322.50" x2="290.60" y2="322.50" stroke="#555" stroke-width="0.4"/>
<line x1="289.40" y1="323.50" x2="290.60" y2="323.50" stroke="#555" stroke-width="0.4"/>
<line x1="289.40" y1="324.50" x2="290.60" y2="324.50" stroke="#555" stroke-width="0.4"/>
<line x1="289.40" y1="325.50" x2="290.60" y2="325.50" stroke="#555" stroke-width="0.4"/>
<line x1="289.40" y1="326.50" x2="290.60" y2="326.50" stroke="#555" stroke-width="0.4"/>
<line x1="301.00" y1="327.00" x2="301.00" y2="329.40" stroke="#333" stroke-width="0.8"/>
<line x1="339.60" y1="327.00" x2="339.60" y2="329.40" stroke="#333" stroke-width="0.8"/>
<line x1="380.50" y1="327.00" x2="380.50" y2="329.40" stroke="#333" stroke-width="0.8"/>
<line x1="421.60" y1="327.00" x2="421.60" y2="329.40" stroke="#333" stroke-width="0.8"/>
<line x1="456.50" y1="327.00" x2="456.50" y2="329.40" stroke="#333" stroke-width="0.8"/>
<line x1="292.50" y1="327.00" x2="292.50" y2="328.10" stroke="#555" stroke-width="0.4"/>
<line x1="295.10" y1="327.00" x2="295.10" y2="328.10" stroke="#555" stroke-width="0.4"/>
<line x1="297.70" y1="327.00" x2="297.70" y2="328.10" stroke="#555" stroke-width="0.4"/>
<line x1="300.30" y1="327.00" x2="300.30" y2="328.10" stroke="#555" stroke-width="0.4"/>
<line x1="302.90" y1="327.00" x2="302.90" y2="328.10" stroke="#555" stroke-width="0.4"/>
<line x1="305.50" y1="327.00" x2="305.50" y2="328.10" stroke="#555" stroke-width="0.4"/>
<line x1="308.10" y1="327.00" x2="308.10" y2="328.10" stroke="#555" stroke-width="0.4"/>
<line x1="310.70" y1="327.00" x2="310.70" y2="328.10" stroke="#555" stroke-width="0.4"/>
<line x1="313.30" y1="327.00" x2="313.30" y2="328.10" stroke="#555" stroke-width="0.4"/>
<line x1="315.90" y1="327.00" x2="315.90" y2="328.10" stroke="#555" stroke-width="0.4"/>
<line x1="318.50" y1="327.00" x2="318.50" y2="328.10" stroke="#555" stroke-width="0.4"/>
<line x1="321.10" y1="327.00" x2="321.10" y2="328.10" stroke="#555" stroke-width="0.4"/>
<line x1="323.70" y1="327.00" x2="323.70" y2="328.10" stroke="#555" stroke-width="0.4"/>
<line x1="326.30" y1="327.00" x2="326.30" y2="328.10" stroke="#555" stroke-width="0.4"/>
<line x1="328.90" y1="327.00" x2="328.90" y2="328.10" stroke="#555" stroke-width="0.4"/>
<line x1="331.50" y1="327.00" x2="331.50" y2="328.10" stroke="#555" stroke-width="0.4"/>
<line x1="334.10" y1="327.00" x2="334.10" y2="328.10" stroke="#555" stroke-width="0.4"/>
<line x1="336.70" y1="327.00" x2="336.70" y2="328.10" stroke="#555" stroke-width="0.4"/>
<line x1="339.30" y1="327.00" x2="339.30" y2="328.10" stroke="#555" stroke-width="0.4"/>
<line x1="341.90" y1="327.00" x2="341.90" y2="328.10" stroke="#555" stroke-width="0.4"/>
<line x1="344.50" y1="327.00" x2="344.50" y2="328.10" stroke="#555" stroke-width="0.4"/>
<line x1="347.10" y1="327.00" x2="347.10" y2="328.10" stroke="#555" stroke-width="0.4"/>
<line x1="349.70" y1="327.00" x2="349.70" y2="328.10" stroke="#555" stroke-width="0.4"/>
<line x1="352.30" y1="327.00" x2="352.30" y2="328.10" stroke="#555" stroke-width="0.4"/>
<line x1="354.90" y1="327.00" x2="354.90" y2="328.10" stroke="#555" stroke-width="0.4"/>
<line x1="357.50" y1="327.00" x2="357.50" y2="328.10" stroke="#555" stroke-width="0.4"/>
<line x1="360.10" y1="327.00" x2="360.10" y2="328.10" stroke="#555" stroke-width="0.4"/>
<line x1="362.70" y1="327.00" x2="362.70" y2="328.10" stroke="#555" stroke-width="0.4"/>
<line x1="365.30" y1="327.00" x2="365.30" y2="328.10" stroke="#555" stroke-width="0.4"/>
<line x1="367.90" y1="327.00" x2="367.90" y2="328.10" stroke="#555" stroke-width="0.4"/>
<line x1="370.50" y1="327.00" x2="370.50" y2="328.10" stroke="#555" stroke-width="0.4"/>
<line x1="373.10" y1="327.00" x2="373.10" y2="328.10" stroke="#555" stroke-width="0.4"/>
<line x1="375.70" y1="327.00" x2="375.70" y2="328.10" stroke="#555" stroke-width="0.4"/>
<line x1="378.30" y1="327.00" x2="378.30" y2="328.10" stroke="#555" stroke-width="0.4"/>
<line x1="380.90" y1="327.00" x2="380.90" y2="328.10" stroke="#555" stroke-width="0.4"/>
<line x1="383.50" y1="327.00" x2="383.50" y2="328.10" stroke="#555" stroke-width="0.4"/>
<line x1="386.10" y1="327.00" x2="386.10" y2="328.10" stroke="#555" stroke-width="0.4"/>
<line x1="388.70" y1="327.00" x2="388.70" y2="328.10" stroke="#555" stroke-width="0.4"/>
<line x1="391.30" y1="327.00" x2="391.30" y2="328.10" stroke="#555" stroke-width="0.4"/>
<line x1="393.90" y1="327.00" x2="393.90" y2="328.10" stroke="#555" stroke-width="0.4"/>
<line x1="396.50" y1="327.00" x2="396.50" y2="328.10" stroke="#555" stroke-width="0.4"/>
<line x1="399.10" y1="327.00" x2="399.10" y2="328.10" stroke="#555" stroke-width="0.4"/>
<line x1="401.70" y1="327.00" x2="401.70" y2="328.10" stroke="#555" stroke-width="0.4"/>
<line x1="404.30" y1="327.00" x2="404.30" y2="328.10" stroke="#555" stroke-width="0.4"/>
<line x1="406.90" y1="327.00" x2="406.90" y2="328.10" stroke="#555" stroke-width="0.4"/>
<line x1="409.50" y1="327.00" x2="409.50" y2="328.10" stroke="#555" stroke-width="0.4"/>
<line x1="412.10" y1="327.00" x2="412.10" y2="328.10" stroke="#555" stroke-width="0.4"/>
<line x1="414.70" y1="327.00" x2="414.70" y2="328.10" stroke="#555" stroke-width="0.4"/>
<line x1="417.30" y1="327.00" x2="417.30" y2="328.10" stroke="#555" stroke-width="0.4"/>
<line x1="419.90" y1="327.00" x2="419.90" y2="328.10" stroke="#555" stroke-width="0.4"/>
<line x1="422.50" y1="327.00" x2="422.50" y2="328.10" stroke="#555" stroke-width="0.4"/>
<line x1="425.10" y1="327.00" x2="425.10" y2="328.10" stroke="#555" stroke-width="0.4"/>
<line x1="427.70" y1="327.00" x2="427.70" y2="328.10" stroke="#555" stroke-width="0.4"/>
<line x1="430.30" y1="327.00" x2="430.30" y2="328.10" stroke="#555" stroke-width="0.4"/>
<line x1="432.90" y1="327.00" x2="432.90" y2="328.10" stroke="#555" stroke-width="0.4"/>
<line x1="435.50" y1="327.00" x2="435.50" y2="328.10" stroke="#555" stroke-width="0.4"/>
<line x1="438.10" y1="327.00" x2="438.10" y2="328.10" stroke="#555" stroke-width="0.4"/>
<line x1="440.70" y1="327.00" x2="440.70" y2="328.10" stroke="#555" stroke-width="0.4"/>
<line x1="443.30" y1="327.00" x2="443.30" y2="328.10" stroke="#555" stroke-width="0.4"/>
<line x1="445.90" y1="327.00" x2="445.90" y2="328.10" stroke="#555" stroke-width="0.4"/>
<line x1="448.50" y1="327.00" x2="448.50" y2="328.10" stroke="#555" stroke-width="0.4"/>
<line x1="451.10" y1="327.00" x2="451.10" y2="328.10" stroke="#555" stroke-width="0.4"/>
<line x1="453.70" y1="327.00" x2="453.70" y2="328.10" stroke="#555" stroke-width="0.4"/>
<line x1="456.30" y1="327.00" x2="456.30" y2="328.10" stroke="#555" stroke-width="0.4"/>
<line x1="458.90" y1="327.00" x2="458.90" y2="328.10" stroke="#555" stroke-width="0.4"/>
<line x1="461.50" y1="327.00" x2="461.50" y2="328.10" stroke="#555" stroke-width="0.4"/>
<line x1="464.10" y1="327.00" x2="464.10" y2="328.10" stroke="#555" stroke-width="0.4"/>
<line x1="466.70" y1="327.00" x2="466.70" y2="328.10" stroke="#555" stroke-width="0.4"/>
<line x1="469.30" y1="327.00" x2="469.30" y2="328.10" stroke="#555" stroke-width="0.4"/>
<line x1="471.90" y1="327.00" x2="471.90" y2="328.10" stroke="#555" stroke-width="0.4"/>
<line x1="474.50" y1="327.00" x2="474.50" y2="328.10" stroke="#555" stroke-width="0.4"/>
<text x="302.20" y="338.40" font-size="5.6" text-anchor="middle" fill="#333">&#8722;10<tspan font-size="3.6" dy="-2.4">4</tspan></text>
<text x="339.60" y="338.40" font-size="5.6" text-anchor="middle" fill="#333">0</text>
<text x="381.70" y="338.40" font-size="5.6" text-anchor="middle" fill="#333">10<tspan font-size="3.6" dy="-2.4">4</tspan></text>
<text x="422.80" y="338.40" font-size="5.6" text-anchor="middle" fill="#333">10<tspan font-size="3.6" dy="-2.4">5</tspan></text>
<text x="457.70" y="338.40" font-size="5.6" text-anchor="middle" fill="#333">10<tspan font-size="3.6" dy="-2.4">6</tspan></text>
<text x="295.80" y="307.40" font-size="8.2">DMSO</text>
<text x="470.40" y="307.10" font-size="8.0" text-anchor="end" fill="#333">MFI: 10,913</text>
<line x1="365.50" y1="312.60" x2="476.50" y2="312.60" stroke="#222" stroke-width="0.9" stroke-dasharray="4.3,5.3"/>
<path d="M318.00,381.60 L318.00,381.60 L318.60,381.59 L319.20,381.58 L319.80,381.55 L320.40,381.53 L321.00,381.46 L321.60,381.40 L322.20,381.32 L322.80,381.27 L323.40,381.23 L324.00,381.11 L324.60,381.04 L325.20,380.76 L325.80,380.64 L326.40,380.20 L327.00,380.16 L327.60,379.65 L328.20,379.26 L328.80,378.62 L329.40,378.41 L330.00,378.04 L330.60,377.31 L331.20,376.80 L331.80,376.49 L332.40,375.76 L333.00,375.20 L333.60,374.73 L334.20,373.78 L334.80,373.74 L335.40,371.74 L336.00,372.14 L336.60,370.65 L337.20,370.01 L337.80,368.95 L338.40,368.91 L339.00,368.24 L339.60,367.86 L340.20,366.93 L340.80,366.72 L341.40,367.06 L342.00,365.79 L342.60,364.73 L343.20,365.00 L343.80,364.10 L344.40,364.30 L345.00,364.32 L345.60,363.88 L346.20,363.21 L346.80,364.13 L347.40,364.72 L348.00,364.45 L348.60,365.20 L349.20,365.92 L349.80,365.70 L350.40,367.16 L351.00,367.94 L351.60,368.21 L352.20,368.74 L352.80,369.22 L353.40,370.33 L354.00,369.82 L354.60,370.21 L355.20,370.93 L355.80,370.47 L356.40,370.35 L357.00,370.86 L357.60,371.65 L358.20,371.84 L358.80,370.94 L359.40,370.83 L360.00,371.64 L360.60,371.70 L361.20,371.76 L361.80,372.10 L362.40,372.36 L363.00,371.83 L363.60,371.98 L364.20,371.08 L364.80,370.99 L365.40,371.64 L366.00,371.74 L366.60,371.49 L367.20,370.99 L367.80,370.55 L368.40,369.97 L369.00,368.08 L369.60,367.99 L370.20,368.06 L370.80,367.61 L371.40,366.03 L372.00,366.83 L372.60,365.48 L373.20,365.02 L373.80,364.71 L374.40,364.37 L375.00,362.68 L375.60,363.29 L376.20,362.20 L376.80,361.11 L377.40,360.67 L378.00,359.04 L378.60,359.13 L379.20,358.90 L379.80,357.84 L380.40,357.40 L381.00,356.87 L381.60,356.36 L382.20,356.27 L382.80,355.22 L383.40,354.64 L384.00,354.62 L384.60,354.95 L385.20,353.31 L385.80,353.34 L386.40,351.97 L387.00,353.20 L387.60,352.74 L388.20,353.10 L388.80,352.59 L389.40,352.39 L390.00,353.73 L390.60,354.09 L391.20,353.72 L391.80,354.01 L392.40,355.71 L393.00,356.25 L393.60,358.59 L394.20,357.96 L394.80,359.01 L395.40,360.23 L396.00,360.57 L396.60,362.15 L397.20,364.65 L397.80,365.01 L398.40,366.00 L399.00,366.91 L399.60,369.17 L400.20,370.53 L400.80,371.53 L401.40,372.17 L402.00,373.26 L402.60,373.97 L403.20,374.05 L403.80,375.25 L404.40,374.38 L405.00,375.26 L405.60,376.13 L406.20,376.56 L406.80,376.47 L407.40,377.33 L408.00,377.83 L408.60,377.86 L409.20,378.01 L409.80,378.38 L410.40,378.45 L411.00,378.22 L411.60,378.63 L412.20,379.14 L412.80,378.74 L413.40,379.14 L414.00,379.19 L414.60,379.23 L415.20,379.34 L415.80,379.64 L416.40,379.78 L417.00,379.88 L417.60,379.74 L418.20,379.99 L418.80,380.17 L419.40,380.33 L420.00,380.38 L420.60,380.48 L421.20,380.58 L421.80,380.62 L422.40,380.56 L423.00,380.69 L423.60,380.69 L424.20,380.63 L424.80,380.72 L425.40,380.99 L426.00,380.83 L426.60,380.80 L427.20,380.93 L427.80,381.07 L428.40,381.02 L429.00,381.07 L429.60,381.06 L430.20,381.10 L430.80,381.17 L431.40,381.18 L432.00,381.17 L432.60,381.22 L433.20,381.25 L433.80,381.23 L434.40,381.26 L435.00,381.28 L435.60,381.27 L436.20,381.33 L436.80,381.31 L437.40,381.32 L438.00,381.31 L438.60,381.33 L439.20,381.40 L439.80,381.36 L440.40,381.40 L441.00,381.40 L441.60,381.42 L442.20,381.43 L442.80,381.42 L443.40,381.44 L444.00,381.45 L444.60,381.46 L445.20,381.47 L445.80,381.48 L446.40,381.49 L447.00,381.51 L447.60,381.51 L448.20,381.51 L448.80,381.52 L449.40,381.53 L450.00,381.54 L450.60,381.55 L451.20,381.55 L451.80,381.55 L452.40,381.56 L453.00,381.57 L453.60,381.57 L454.20,381.58 L454.80,381.58 L455.40,381.58 L456.00,381.59 L456.60,381.59 L457.20,381.59 L457.80,381.60 L458.40,381.60 L459.00,381.60 L459.60,381.60 L459.60,381.60Z" fill="#4a5669" stroke="#15181d" stroke-width="0.45" stroke-linejoin="round"/>
<rect x="290.60" y="350.80" width="186.90" height="30.80" fill="none" stroke="#1a1a1a" stroke-width="1.0"/>
<line x1="287.60" y1="354.60" x2="290.60" y2="354.60" stroke="#333" stroke-width="0.8"/>
<text x="284.40" y="356.60" font-size="5.9" text-anchor="end" fill="#1e1e1e">400</text>
<line x1="287.60" y1="361.20" x2="290.60" y2="361.20" stroke="#333" stroke-width="0.8"/>
<text x="284.40" y="363.20" font-size="5.9" text-anchor="end" fill="#1e1e1e">300</text>
<line x1="287.60" y1="367.90" x2="290.60" y2="367.90" stroke="#333" stroke-width="0.8"/>
<text x="284.40" y="369.90" font-size="5.9" text-anchor="end" fill="#1e1e1e">200</text>
<line x1="287.60" y1="374.20" x2="290.60" y2="374.20" stroke="#333" stroke-width="0.8"/>
<text x="284.40" y="376.20" font-size="5.9" text-anchor="end" fill="#1e1e1e">100</text>
<line x1="287.60" y1="381.20" x2="290.60" y2="381.20" stroke="#333" stroke-width="0.8"/>
<text x="284.40" y="383.20" font-size="5.9" text-anchor="end" fill="#1e1e1e">0</text>
<line x1="289.40" y1="351.50" x2="290.60" y2="351.50" stroke="#555" stroke-width="0.4"/>
<line x1="289.40" y1="352.50" x2="290.60" y2="352.50" stroke="#555" stroke-width="0.4"/>
<line x1="289.40" y1="353.50" x2="290.60" y2="353.50" stroke="#555" stroke-width="0.4"/>
<line x1="289.40" y1="354.50" x2="290.60" y2="354.50" stroke="#555" stroke-width="0.4"/>
<line x1="289.40" y1="355.50" x2="290.60" y2="355.50" stroke="#555" stroke-width="0.4"/>
<line x1="289.40" y1="356.50" x2="290.60" y2="356.50" stroke="#555" stroke-width="0.4"/>
<line x1="289.40" y1="357.50" x2="290.60" y2="357.50" stroke="#555" stroke-width="0.4"/>
<line x1="289.40" y1="358.50" x2="290.60" y2="358.50" stroke="#555" stroke-width="0.4"/>
<line x1="289.40" y1="359.50" x2="290.60" y2="359.50" stroke="#555" stroke-width="0.4"/>
<line x1="289.40" y1="360.50" x2="290.60" y2="360.50" stroke="#555" stroke-width="0.4"/>
<line x1="289.40" y1="361.50" x2="290.60" y2="361.50" stroke="#555" stroke-width="0.4"/>
<line x1="289.40" y1="362.50" x2="290.60" y2="362.50" stroke="#555" stroke-width="0.4"/>
<line x1="289.40" y1="363.50" x2="290.60" y2="363.50" stroke="#555" stroke-width="0.4"/>
<line x1="289.40" y1="364.50" x2="290.60" y2="364.50" stroke="#555" stroke-width="0.4"/>
<line x1="289.40" y1="365.50" x2="290.60" y2="365.50" stroke="#555" stroke-width="0.4"/>
<line x1="289.40" y1="366.50" x2="290.60" y2="366.50" stroke="#555" stroke-width="0.4"/>
<line x1="289.40" y1="367.50" x2="290.60" y2="367.50" stroke="#555" stroke-width="0.4"/>
<line x1="289.40" y1="368.50" x2="290.60" y2="368.50" stroke="#555" stroke-width="0.4"/>
<line x1="289.40" y1="369.50" x2="290.60" y2="369.50" stroke="#555" stroke-width="0.4"/>
<line x1="289.40" y1="370.50" x2="290.60" y2="370.50" stroke="#555" stroke-width="0.4"/>
<line x1="289.40" y1="371.50" x2="290.60" y2="371.50" stroke="#555" stroke-width="0.4"/>
<line x1="289.40" y1="372.50" x2="290.60" y2="372.50" stroke="#555" stroke-width="0.4"/>
<line x1="289.40" y1="373.50" x2="290.60" y2="373.50" stroke="#555" stroke-width="0.4"/>
<line x1="289.40" y1="374.50" x2="290.60" y2="374.50" stroke="#555" stroke-width="0.4"/>
<line x1="289.40" y1="375.50" x2="290.60" y2="375.50" stroke="#555" stroke-width="0.4"/>
<line x1="289.40" y1="376.50" x2="290.60" y2="376.50" stroke="#555" stroke-width="0.4"/>
<line x1="289.40" y1="377.50" x2="290.60" y2="377.50" stroke="#555" stroke-width="0.4"/>
<line x1="289.40" y1="378.50" x2="290.60" y2="378.50" stroke="#555" stroke-width="0.4"/>
<line x1="289.40" y1="379.50" x2="290.60" y2="379.50" stroke="#555" stroke-width="0.4"/>
<line x1="289.40" y1="380.50" x2="290.60" y2="380.50" stroke="#555" stroke-width="0.4"/>
<line x1="301.00" y1="381.60" x2="301.00" y2="384.00" stroke="#333" stroke-width="0.8"/>
<line x1="339.60" y1="381.60" x2="339.60" y2="384.00" stroke="#333" stroke-width="0.8"/>
<line x1="380.50" y1="381.60" x2="380.50" y2="384.00" stroke="#333" stroke-width="0.8"/>
<line x1="421.60" y1="381.60" x2="421.60" y2="384.00" stroke="#333" stroke-width="0.8"/>
<line x1="456.50" y1="381.60" x2="456.50" y2="384.00" stroke="#333" stroke-width="0.8"/>
<line x1="292.50" y1="381.60" x2="292.50" y2="382.70" stroke="#555" stroke-width="0.4"/>
<line x1="295.10" y1="381.60" x2="295.10" y2="382.70" stroke="#555" stroke-width="0.4"/>
<line x1="297.70" y1="381.60" x2="297.70" y2="382.70" stroke="#555" stroke-width="0.4"/>
<line x1="300.30" y1="381.60" x2="300.30" y2="382.70" stroke="#555" stroke-width="0.4"/>
<line x1="302.90" y1="381.60" x2="302.90" y2="382.70" stroke="#555" stroke-width="0.4"/>
<line x1="305.50" y1="381.60" x2="305.50" y2="382.70" stroke="#555" stroke-width="0.4"/>
<line x1="308.10" y1="381.60" x2="308.10" y2="382.70" stroke="#555" stroke-width="0.4"/>
<line x1="310.70" y1="381.60" x2="310.70" y2="382.70" stroke="#555" stroke-width="0.4"/>
<line x1="313.30" y1="381.60" x2="313.30" y2="382.70" stroke="#555" stroke-width="0.4"/>
<line x1="315.90" y1="381.60" x2="315.90" y2="382.70" stroke="#555" stroke-width="0.4"/>
<line x1="318.50" y1="381.60" x2="318.50" y2="382.70" stroke="#555" stroke-width="0.4"/>
<line x1="321.10" y1="381.60" x2="321.10" y2="382.70" stroke="#555" stroke-width="0.4"/>
<line x1="323.70" y1="381.60" x2="323.70" y2="382.70" stroke="#555" stroke-width="0.4"/>
<line x1="326.30" y1="381.60" x2="326.30" y2="382.70" stroke="#555" stroke-width="0.4"/>
<line x1="328.90" y1="381.60" x2="328.90" y2="382.70" stroke="#555" stroke-width="0.4"/>
<line x1="331.50" y1="381.60" x2="331.50" y2="382.70" stroke="#555" stroke-width="0.4"/>
<line x1="334.10" y1="381.60" x2="334.10" y2="382.70" stroke="#555" stroke-width="0.4"/>
<line x1="336.70" y1="381.60" x2="336.70" y2="382.70" stroke="#555" stroke-width="0.4"/>
<line x1="339.30" y1="381.60" x2="339.30" y2="382.70" stroke="#555" stroke-width="0.4"/>
<line x1="341.90" y1="381.60" x2="341.90" y2="382.70" stroke="#555" stroke-width="0.4"/>
<line x1="344.50" y1="381.60" x2="344.50" y2="382.70" stroke="#555" stroke-width="0.4"/>
<line x1="347.10" y1="381.60" x2="347.10" y2="382.70" stroke="#555" stroke-width="0.4"/>
<line x1="349.70" y1="381.60" x2="349.70" y2="382.70" stroke="#555" stroke-width="0.4"/>
<line x1="352.30" y1="381.60" x2="352.30" y2="382.70" stroke="#555" stroke-width="0.4"/>
<line x1="354.90" y1="381.60" x2="354.90" y2="382.70" stroke="#555" stroke-width="0.4"/>
<line x1="357.50" y1="381.60" x2="357.50" y2="382.70" stroke="#555" stroke-width="0.4"/>
<line x1="360.10" y1="381.60" x2="360.10" y2="382.70" stroke="#555" stroke-width="0.4"/>
<line x1="362.70" y1="381.60" x2="362.70" y2="382.70" stroke="#555" stroke-width="0.4"/>
<line x1="365.30" y1="381.60" x2="365.30" y2="382.70" stroke="#555" stroke-width="0.4"/>
<line x1="367.90" y1="381.60" x2="367.90" y2="382.70" stroke="#555" stroke-width="0.4"/>
<line x1="370.50" y1="381.60" x2="370.50" y2="382.70" stroke="#555" stroke-width="0.4"/>
<line x1="373.10" y1="381.60" x2="373.10" y2="382.70" stroke="#555" stroke-width="0.4"/>
<line x1="375.70" y1="381.60" x2="375.70" y2="382.70" stroke="#555" stroke-width="0.4"/>
<line x1="378.30" y1="381.60" x2="378.30" y2="382.70" stroke="#555" stroke-width="0.4"/>
<line x1="380.90" y1="381.60" x2="380.90" y2="382.70" stroke="#555" stroke-width="0.4"/>
<line x1="383.50" y1="381.60" x2="383.50" y2="382.70" stroke="#555" stroke-width="0.4"/>
<line x1="386.10" y1="381.60" x2="386.10" y2="382.70" stroke="#555" stroke-width="0.4"/>
<line x1="388.70" y1="381.60" x2="388.70" y2="382.70" stroke="#555" stroke-width="0.4"/>
<line x1="391.30" y1="381.60" x2="391.30" y2="382.70" stroke="#555" stroke-width="0.4"/>
<line x1="393.90" y1="381.60" x2="393.90" y2="382.70" stroke="#555" stroke-width="0.4"/>
<line x1="396.50" y1="381.60" x2="396.50" y2="382.70" stroke="#555" stroke-width="0.4"/>
<line x1="399.10" y1="381.60" x2="399.10" y2="382.70" stroke="#555" stroke-width="0.4"/>
<line x1="401.70" y1="381.60" x2="401.70" y2="382.70" stroke="#555" stroke-width="0.4"/>
<line x1="404.30" y1="381.60" x2="404.30" y2="382.70" stroke="#555" stroke-width="0.4"/>
<line x1="406.90" y1="381.60" x2="406.90" y2="382.70" stroke="#555" stroke-width="0.4"/>
<line x1="409.50" y1="381.60" x2="409.50" y2="382.70" stroke="#555" stroke-width="0.4"/>
<line x1="412.10" y1="381.60" x2="412.10" y2="382.70" stroke="#555" stroke-width="0.4"/>
<line x1="414.70" y1="381.60" x2="414.70" y2="382.70" stroke="#555" stroke-width="0.4"/>
<line x1="417.30" y1="381.60" x2="417.30" y2="382.70" stroke="#555" stroke-width="0.4"/>
<line x1="419.90" y1="381.60" x2="419.90" y2="382.70" stroke="#555" stroke-width="0.4"/>
<line x1="422.50" y1="381.60" x2="422.50" y2="382.70" stroke="#555" stroke-width="0.4"/>
<line x1="425.10" y1="381.60" x2="425.10" y2="382.70" stroke="#555" stroke-width="0.4"/>
<line x1="427.70" y1="381.60" x2="427.70" y2="382.70" stroke="#555" stroke-width="0.4"/>
<line x1="430.30" y1="381.60" x2="430.30" y2="382.70" stroke="#555" stroke-width="0.4"/>
<line x1="432.90" y1="381.60" x2="432.90" y2="382.70" stroke="#555" stroke-width="0.4"/>
<line x1="435.50" y1="381.60" x2="435.50" y2="382.70" stroke="#555" stroke-width="0.4"/>
<line x1="438.10" y1="381.60" x2="438.10" y2="382.70" stroke="#555" stroke-width="0.4"/>
<line x1="440.70" y1="381.60" x2="440.70" y2="382.70" stroke="#555" stroke-width="0.4"/>
<line x1="443.30" y1="381.60" x2="443.30" y2="382.70" stroke="#555" stroke-width="0.4"/>
<line x1="445.90" y1="381.60" x2="445.90" y2="382.70" stroke="#555" stroke-width="0.4"/>
<line x1="448.50" y1="381.60" x2="448.50" y2="382.70" stroke="#555" stroke-width="0.4"/>
<line x1="451.10" y1="381.60" x2="451.10" y2="382.70" stroke="#555" stroke-width="0.4"/>
<line x1="453.70" y1="381.60" x2="453.70" y2="382.70" stroke="#555" stroke-width="0.4"/>
<line x1="456.30" y1="381.60" x2="456.30" y2="382.70" stroke="#555" stroke-width="0.4"/>
<line x1="458.90" y1="381.60" x2="458.90" y2="382.70" stroke="#555" stroke-width="0.4"/>
<line x1="461.50" y1="381.60" x2="461.50" y2="382.70" stroke="#555" stroke-width="0.4"/>
<line x1="464.10" y1="381.60" x2="464.10" y2="382.70" stroke="#555" stroke-width="0.4"/>
<line x1="466.70" y1="381.60" x2="466.70" y2="382.70" stroke="#555" stroke-width="0.4"/>
<line x1="469.30" y1="381.60" x2="469.30" y2="382.70" stroke="#555" stroke-width="0.4"/>
<line x1="471.90" y1="381.60" x2="471.90" y2="382.70" stroke="#555" stroke-width="0.4"/>
<line x1="474.50" y1="381.60" x2="474.50" y2="382.70" stroke="#555" stroke-width="0.4"/>
<text x="302.20" y="393.00" font-size="5.6" text-anchor="middle" fill="#333">&#8722;10<tspan font-size="3.6" dy="-2.4">4</tspan></text>
<text x="339.60" y="393.00" font-size="5.6" text-anchor="middle" fill="#333">0</text>
<text x="381.70" y="393.00" font-size="5.6" text-anchor="middle" fill="#333">10<tspan font-size="3.6" dy="-2.4">4</tspan></text>
<text x="422.80" y="393.00" font-size="5.6" text-anchor="middle" fill="#333">10<tspan font-size="3.6" dy="-2.4">5</tspan></text>
<text x="457.70" y="393.00" font-size="5.6" text-anchor="middle" fill="#333">10<tspan font-size="3.6" dy="-2.4">6</tspan></text>
<text x="295.80" y="361.70" font-size="8.2">Compound E</text>
<text x="470.40" y="361.40" font-size="8.0" text-anchor="end" fill="#333">MFI: 16,722</text>
<line x1="365.50" y1="366.60" x2="476.50" y2="366.60" stroke="#222" stroke-width="0.9" stroke-dasharray="4.3,5.3"/>
<path d="M318.00,433.60 L318.00,433.60 L318.60,433.59 L319.20,433.58 L319.80,433.56 L320.40,433.53 L321.00,433.48 L321.60,433.45 L322.20,433.36 L322.80,433.28 L323.40,433.23 L324.00,433.13 L324.60,433.00 L325.20,432.82 L325.80,432.53 L326.40,432.06 L327.00,431.32 L327.60,430.76 L328.20,429.85 L328.80,430.38 L329.40,429.28 L330.00,429.37 L330.60,428.48 L331.20,428.66 L331.80,427.80 L332.40,426.44 L333.00,426.22 L333.60,424.20 L334.20,424.51 L334.80,422.39 L335.40,422.57 L336.00,422.22 L336.60,421.08 L337.20,420.06 L337.80,419.10 L338.40,418.52 L339.00,418.35 L339.60,417.44 L340.20,416.15 L340.80,415.12 L341.40,415.56 L342.00,414.08 L342.60,414.34 L343.20,414.33 L343.80,415.40 L344.40,415.61 L345.00,416.23 L345.60,416.76 L346.20,417.10 L346.80,418.61 L347.40,419.93 L348.00,420.02 L348.60,421.16 L349.20,421.59 L349.80,422.96 L350.40,423.57 L351.00,424.44 L351.60,424.98 L352.20,426.47 L352.80,426.28 L353.40,426.98 L354.00,427.35 L354.60,428.24 L355.20,427.95 L355.80,428.19 L356.40,428.96 L357.00,429.29 L357.60,429.17 L358.20,428.00 L358.80,428.73 L359.40,428.75 L360.00,428.77 L360.60,429.11 L361.20,429.95 L361.80,429.23 L362.40,429.11 L363.00,429.63 L363.60,429.42 L364.20,429.44 L364.80,429.16 L365.40,429.40 L366.00,429.55 L366.60,428.73 L367.20,428.84 L367.80,429.78 L368.40,429.70 L369.00,429.22 L369.60,429.04 L370.20,429.34 L370.80,428.98 L371.40,429.28 L372.00,429.97 L372.60,429.41 L373.20,429.75 L373.80,429.21 L374.40,429.37 L375.00,429.69 L375.60,428.62 L376.20,428.91 L376.80,428.91 L377.40,428.99 L378.00,429.42 L378.60,428.98 L379.20,427.94 L379.80,428.27 L380.40,427.74 L381.00,427.43 L381.60,428.57 L382.20,426.70 L382.80,427.01 L383.40,426.20 L384.00,426.64 L384.60,426.03 L385.20,425.52 L385.80,425.01 L386.40,425.17 L387.00,423.66 L387.60,423.26 L388.20,422.53 L388.80,423.17 L389.40,421.67 L390.00,420.54 L390.60,420.03 L391.20,420.63 L391.80,418.45 L392.40,418.07 L393.00,417.01 L393.60,415.88 L394.20,414.62 L394.80,413.87 L395.40,412.93 L396.00,411.09 L396.60,412.60 L397.20,410.86 L397.80,409.51 L398.40,408.43 L399.00,407.28 L399.60,407.39 L400.20,406.21 L400.80,405.95 L401.40,404.45 L402.00,404.85 L402.60,405.33 L403.20,404.06 L403.80,404.68 L404.40,404.51 L405.00,405.35 L405.60,405.71 L406.20,405.62 L406.80,405.75 L407.40,406.78 L408.00,407.39 L408.60,407.87 L409.20,409.25 L409.80,410.05 L410.40,410.21 L411.00,411.46 L411.60,413.86 L412.20,413.70 L412.80,414.25 L413.40,416.37 L414.00,415.84 L414.60,415.79 L415.20,417.03 L415.80,418.15 L416.40,419.92 L417.00,421.15 L417.60,420.44 L418.20,422.93 L418.80,422.55 L419.40,424.01 L420.00,424.73 L420.60,425.26 L421.20,425.56 L421.80,426.12 L422.40,425.90 L423.00,427.01 L423.60,427.74 L424.20,428.06 L424.80,429.15 L425.40,428.69 L426.00,428.80 L426.60,429.43 L427.20,429.10 L427.80,428.78 L428.40,428.70 L429.00,430.09 L429.60,430.05 L430.20,430.31 L430.80,430.15 L431.40,430.50 L432.00,431.05 L432.60,430.81 L433.20,430.63 L433.80,430.94 L434.40,431.45 L435.00,431.09 L435.60,430.96 L436.20,431.16 L436.80,431.45 L437.40,431.90 L438.00,431.90 L438.60,431.90 L439.20,431.95 L439.80,432.20 L440.40,432.31 L441.00,432.37 L441.60,432.51 L442.20,432.56 L442.80,432.85 L443.40,432.65 L444.00,432.89 L444.60,432.91 L445.20,433.06 L445.80,433.08 L446.40,433.15 L447.00,433.20 L447.60,433.22 L448.20,433.28 L448.80,433.24 L449.40,433.33 L450.00,433.33 L450.60,433.37 L451.20,433.42 L451.80,433.43 L452.40,433.47 L453.00,433.44 L453.60,433.47 L454.20,433.51 L454.80,433.51 L455.40,433.54 L456.00,433.56 L456.60,433.57 L457.20,433.57 L457.80,433.59 L458.40,433.59 L459.00,433.60 L459.60,433.60 L459.60,433.60Z" fill="#4a5669" stroke="#15181d" stroke-width="0.45" stroke-linejoin="round"/>
<rect x="290.60" y="402.60" width="186.90" height="31.00" fill="none" stroke="#1a1a1a" stroke-width="1.0"/>
<line x1="287.60" y1="406.50" x2="290.60" y2="406.50" stroke="#333" stroke-width="0.8"/>
<text x="284.40" y="408.50" font-size="5.9" text-anchor="end" fill="#1e1e1e">500</text>
<line x1="287.60" y1="411.70" x2="290.60" y2="411.70" stroke="#333" stroke-width="0.8"/>
<text x="284.40" y="413.70" font-size="5.9" text-anchor="end" fill="#1e1e1e">400</text>
<line x1="287.60" y1="417.00" x2="290.60" y2="417.00" stroke="#333" stroke-width="0.8"/>
<text x="284.40" y="419.00" font-size="5.9" text-anchor="end" fill="#1e1e1e">300</text>
<line x1="287.60" y1="422.30" x2="290.60" y2="422.30" stroke="#333" stroke-width="0.8"/>
<text x="284.40" y="424.30" font-size="5.9" text-anchor="end" fill="#1e1e1e">200</text>
<line x1="287.60" y1="427.70" x2="290.60" y2="427.70" stroke="#333" stroke-width="0.8"/>
<text x="284.40" y="429.70" font-size="5.9" text-anchor="end" fill="#1e1e1e">100</text>
<line x1="287.60" y1="433.00" x2="290.60" y2="433.00" stroke="#333" stroke-width="0.8"/>
<text x="284.40" y="435.00" font-size="5.9" text-anchor="end" fill="#1e1e1e">0</text>
<line x1="289.40" y1="403.50" x2="290.60" y2="403.50" stroke="#555" stroke-width="0.4"/>
<line x1="289.40" y1="404.50" x2="290.60" y2="404.50" stroke="#555" stroke-width="0.4"/>
<line x1="289.40" y1="405.50" x2="290.60" y2="405.50" stroke="#555" stroke-width="0.4"/>
<line x1="289.40" y1="406.50" x2="290.60" y2="406.50" stroke="#555" stroke-width="0.4"/>
<line x1="289.40" y1="407.50" x2="290.60" y2="407.50" stroke="#555" stroke-width="0.4"/>
<line x1="289.40" y1="408.50" x2="290.60" y2="408.50" stroke="#555" stroke-width="0.4"/>
<line x1="289.40" y1="409.50" x2="290.60" y2="409.50" stroke="#555" stroke-width="0.4"/>
<line x1="289.40" y1="410.50" x2="290.60" y2="410.50" stroke="#555" stroke-width="0.4"/>
<line x1="289.40" y1="411.50" x2="290.60" y2="411.50" stroke="#555" stroke-width="0.4"/>
<line x1="289.40" y1="412.50" x2="290.60" y2="412.50" stroke="#555" stroke-width="0.4"/>
<line x1="289.40" y1="413.50" x2="290.60" y2="413.50" stroke="#555" stroke-width="0.4"/>
<line x1="289.40" y1="414.50" x2="290.60" y2="414.50" stroke="#555" stroke-width="0.4"/>
<line x1="289.40" y1="415.50" x2="290.60" y2="415.50" stroke="#555" stroke-width="0.4"/>
<line x1="289.40" y1="416.50" x2="290.60" y2="416.50" stroke="#555" stroke-width="0.4"/>
<line x1="289.40" y1="417.50" x2="290.60" y2="417.50" stroke="#555" stroke-width="0.4"/>
<line x1="289.40" y1="418.50" x2="290.60" y2="418.50" stroke="#555" stroke-width="0.4"/>
<line x1="289.40" y1="419.50" x2="290.60" y2="419.50" stroke="#555" stroke-width="0.4"/>
<line x1="289.40" y1="420.50" x2="290.60" y2="420.50" stroke="#555" stroke-width="0.4"/>
<line x1="289.40" y1="421.50" x2="290.60" y2="421.50" stroke="#555" stroke-width="0.4"/>
<line x1="289.40" y1="422.50" x2="290.60" y2="422.50" stroke="#555" stroke-width="0.4"/>
<line x1="289.40" y1="423.50" x2="290.60" y2="423.50" stroke="#555" stroke-width="0.4"/>
<line x1="289.40" y1="424.50" x2="290.60" y2="424.50" stroke="#555" stroke-width="0.4"/>
<line x1="289.40" y1="425.50" x2="290.60" y2="425.50" stroke="#555" stroke-width="0.4"/>
<line x1="289.40" y1="426.50" x2="290.60" y2="426.50" stroke="#555" stroke-width="0.4"/>
<line x1="289.40" y1="427.50" x2="290.60" y2="427.50" stroke="#555" stroke-width="0.4"/>
<line x1="289.40" y1="428.50" x2="290.60" y2="428.50" stroke="#555" stroke-width="0.4"/>
<line x1="289.40" y1="429.50" x2="290.60" y2="429.50" stroke="#555" stroke-width="0.4"/>
<line x1="289.40" y1="430.50" x2="290.60" y2="430.50" stroke="#555" stroke-width="0.4"/>
<line x1="289.40" y1="431.50" x2="290.60" y2="431.50" stroke="#555" stroke-width="0.4"/>
<line x1="289.40" y1="432.50" x2="290.60" y2="432.50" stroke="#555" stroke-width="0.4"/>
<line x1="301.00" y1="433.60" x2="301.00" y2="436.00" stroke="#333" stroke-width="0.8"/>
<line x1="339.60" y1="433.60" x2="339.60" y2="436.00" stroke="#333" stroke-width="0.8"/>
<line x1="380.50" y1="433.60" x2="380.50" y2="436.00" stroke="#333" stroke-width="0.8"/>
<line x1="421.60" y1="433.60" x2="421.60" y2="436.00" stroke="#333" stroke-width="0.8"/>
<line x1="456.50" y1="433.60" x2="456.50" y2="436.00" stroke="#333" stroke-width="0.8"/>
<line x1="292.50" y1="433.60" x2="292.50" y2="434.70" stroke="#555" stroke-width="0.4"/>
<line x1="295.10" y1="433.60" x2="295.10" y2="434.70" stroke="#555" stroke-width="0.4"/>
<line x1="297.70" y1="433.60" x2="297.70" y2="434.70" stroke="#555" stroke-width="0.4"/>
<line x1="300.30" y1="433.60" x2="300.30" y2="434.70" stroke="#555" stroke-width="0.4"/>
<line x1="302.90" y1="433.60" x2="302.90" y2="434.70" stroke="#555" stroke-width="0.4"/>
<line x1="305.50" y1="433.60" x2="305.50" y2="434.70" stroke="#555" stroke-width="0.4"/>
<line x1="308.10" y1="433.60" x2="308.10" y2="434.70" stroke="#555" stroke-width="0.4"/>
<line x1="310.70" y1="433.60" x2="310.70" y2="434.70" stroke="#555" stroke-width="0.4"/>
<line x1="313.30" y1="433.60" x2="313.30" y2="434.70" stroke="#555" stroke-width="0.4"/>
<line x1="315.90" y1="433.60" x2="315.90" y2="434.70" stroke="#555" stroke-width="0.4"/>
<line x1="318.50" y1="433.60" x2="318.50" y2="434.70" stroke="#555" stroke-width="0.4"/>
<line x1="321.10" y1="433.60" x2="321.10" y2="434.70" stroke="#555" stroke-width="0.4"/>
<line x1="323.70" y1="433.60" x2="323.70" y2="434.70" stroke="#555" stroke-width="0.4"/>
<line x1="326.30" y1="433.60" x2="326.30" y2="434.70" stroke="#555" stroke-width="0.4"/>
<line x1="328.90" y1="433.60" x2="328.90" y2="434.70" stroke="#555" stroke-width="0.4"/>
<line x1="331.50" y1="433.60" x2="331.50" y2="434.70" stroke="#555" stroke-width="0.4"/>
<line x1="334.10" y1="433.60" x2="334.10" y2="434.70" stroke="#555" stroke-width="0.4"/>
<line x1="336.70" y1="433.60" x2="336.70" y2="434.70" stroke="#555" stroke-width="0.4"/>
<line x1="339.30" y1="433.60" x2="339.30" y2="434.70" stroke="#555" stroke-width="0.4"/>
<line x1="341.90" y1="433.60" x2="341.90" y2="434.70" stroke="#555" stroke-width="0.4"/>
<line x1="344.50" y1="433.60" x2="344.50" y2="434.70" stroke="#555" stroke-width="0.4"/>
<line x1="347.10" y1="433.60" x2="347.10" y2="434.70" stroke="#555" stroke-width="0.4"/>
<line x1="349.70" y1="433.60" x2="349.70" y2="434.70" stroke="#555" stroke-width="0.4"/>
<line x1="352.30" y1="433.60" x2="352.30" y2="434.70" stroke="#555" stroke-width="0.4"/>
<line x1="354.90" y1="433.60" x2="354.90" y2="434.70" stroke="#555" stroke-width="0.4"/>
<line x1="357.50" y1="433.60" x2="357.50" y2="434.70" stroke="#555" stroke-width="0.4"/>
<line x1="360.10" y1="433.60" x2="360.10" y2="434.70" stroke="#555" stroke-width="0.4"/>
<line x1="362.70" y1="433.60" x2="362.70" y2="434.70" stroke="#555" stroke-width="0.4"/>
<line x1="365.30" y1="433.60" x2="365.30" y2="434.70" stroke="#555" stroke-width="0.4"/>
<line x1="367.90" y1="433.60" x2="367.90" y2="434.70" stroke="#555" stroke-width="0.4"/>
<line x1="370.50" y1="433.60" x2="370.50" y2="434.70" stroke="#555" stroke-width="0.4"/>
<line x1="373.10" y1="433.60" x2="373.10" y2="434.70" stroke="#555" stroke-width="0.4"/>
<line x1="375.70" y1="433.60" x2="375.70" y2="434.70" stroke="#555" stroke-width="0.4"/>
<line x1="378.30" y1="433.60" x2="378.30" y2="434.70" stroke="#555" stroke-width="0.4"/>
<line x1="380.90" y1="433.60" x2="380.90" y2="434.70" stroke="#555" stroke-width="0.4"/>
<line x1="383.50" y1="433.60" x2="383.50" y2="434.70" stroke="#555" stroke-width="0.4"/>
<line x1="386.10" y1="433.60" x2="386.10" y2="434.70" stroke="#555" stroke-width="0.4"/>
<line x1="388.70" y1="433.60" x2="388.70" y2="434.70" stroke="#555" stroke-width="0.4"/>
<line x1="391.30" y1="433.60" x2="391.30" y2="434.70" stroke="#555" stroke-width="0.4"/>
<line x1="393.90" y1="433.60" x2="393.90" y2="434.70" stroke="#555" stroke-width="0.4"/>
<line x1="396.50" y1="433.60" x2="396.50" y2="434.70" stroke="#555" stroke-width="0.4"/>
<line x1="399.10" y1="433.60" x2="399.10" y2="434.70" stroke="#555" stroke-width="0.4"/>
<line x1="401.70" y1="433.60" x2="401.70" y2="434.70" stroke="#555" stroke-width="0.4"/>
<line x1="404.30" y1="433.60" x2="404.30" y2="434.70" stroke="#555" stroke-width="0.4"/>
<line x1="406.90" y1="433.60" x2="406.90" y2="434.70" stroke="#555" stroke-width="0.4"/>
<line x1="409.50" y1="433.60" x2="409.50" y2="434.70" stroke="#555" stroke-width="0.4"/>
<line x1="412.10" y1="433.60" x2="412.10" y2="434.70" stroke="#555" stroke-width="0.4"/>
<line x1="414.70" y1="433.60" x2="414.70" y2="434.70" stroke="#555" stroke-width="0.4"/>
<line x1="417.30" y1="433.60" x2="417.30" y2="434.70" stroke="#555" stroke-width="0.4"/>
<line x1="419.90" y1="433.60" x2="419.90" y2="434.70" stroke="#555" stroke-width="0.4"/>
<line x1="422.50" y1="433.60" x2="422.50" y2="434.70" stroke="#555" stroke-width="0.4"/>
<line x1="425.10" y1="433.60" x2="425.10" y2="434.70" stroke="#555" stroke-width="0.4"/>
<line x1="427.70" y1="433.60" x2="427.70" y2="434.70" stroke="#555" stroke-width="0.4"/>
<line x1="430.30" y1="433.60" x2="430.30" y2="434.70" stroke="#555" stroke-width="0.4"/>
<line x1="432.90" y1="433.60" x2="432.90" y2="434.70" stroke="#555" stroke-width="0.4"/>
<line x1="435.50" y1="433.60" x2="435.50" y2="434.70" stroke="#555" stroke-width="0.4"/>
<line x1="438.10" y1="433.60" x2="438.10" y2="434.70" stroke="#555" stroke-width="0.4"/>
<line x1="440.70" y1="433.60" x2="440.70" y2="434.70" stroke="#555" stroke-width="0.4"/>
<line x1="443.30" y1="433.60" x2="443.30" y2="434.70" stroke="#555" stroke-width="0.4"/>
<line x1="445.90" y1="433.60" x2="445.90" y2="434.70" stroke="#555" stroke-width="0.4"/>
<line x1="448.50" y1="433.60" x2="448.50" y2="434.70" stroke="#555" stroke-width="0.4"/>
<line x1="451.10" y1="433.60" x2="451.10" y2="434.70" stroke="#555" stroke-width="0.4"/>
<line x1="453.70" y1="433.60" x2="453.70" y2="434.70" stroke="#555" stroke-width="0.4"/>
<line x1="456.30" y1="433.60" x2="456.30" y2="434.70" stroke="#555" stroke-width="0.4"/>
<line x1="458.90" y1="433.60" x2="458.90" y2="434.70" stroke="#555" stroke-width="0.4"/>
<line x1="461.50" y1="433.60" x2="461.50" y2="434.70" stroke="#555" stroke-width="0.4"/>
<line x1="464.10" y1="433.60" x2="464.10" y2="434.70" stroke="#555" stroke-width="0.4"/>
<line x1="466.70" y1="433.60" x2="466.70" y2="434.70" stroke="#555" stroke-width="0.4"/>
<line x1="469.30" y1="433.60" x2="469.30" y2="434.70" stroke="#555" stroke-width="0.4"/>
<line x1="471.90" y1="433.60" x2="471.90" y2="434.70" stroke="#555" stroke-width="0.4"/>
<line x1="474.50" y1="433.60" x2="474.50" y2="434.70" stroke="#555" stroke-width="0.4"/>
<text x="302.20" y="445.00" font-size="5.6" text-anchor="middle" fill="#333">&#8722;10<tspan font-size="3.6" dy="-2.4">4</tspan></text>
<text x="339.60" y="445.00" font-size="5.6" text-anchor="middle" fill="#333">0</text>
<text x="381.70" y="445.00" font-size="5.6" text-anchor="middle" fill="#333">10<tspan font-size="3.6" dy="-2.4">4</tspan></text>
<text x="422.80" y="445.00" font-size="5.6" text-anchor="middle" fill="#333">10<tspan font-size="3.6" dy="-2.4">5</tspan></text>
<text x="457.70" y="445.00" font-size="5.6" text-anchor="middle" fill="#333">10<tspan font-size="3.6" dy="-2.4">6</tspan></text>
<text x="295.80" y="413.50" font-size="8.2">SB431542</text>
<text x="470.40" y="413.20" font-size="8.0" text-anchor="end" fill="#333">MFI: 34,550</text>
<line x1="365.50" y1="418.90" x2="476.50" y2="418.90" stroke="#222" stroke-width="0.9" stroke-dasharray="4.3,5.3"/>
<path d="M322.00,488.40 L322.00,488.40 L322.60,488.40 L323.20,488.38 L323.80,488.36 L324.40,488.34 L325.00,488.32 L325.60,488.27 L326.20,488.23 L326.80,488.19 L327.40,488.08 L328.00,488.12 L328.60,487.92 L329.20,487.88 L329.80,487.90 L330.40,487.43 L331.00,486.98 L331.60,486.30 L332.20,485.87 L332.80,484.54 L333.40,484.11 L334.00,484.16 L334.60,482.65 L335.20,481.42 L335.80,480.62 L336.40,479.47 L337.00,478.12 L337.60,477.10 L338.20,474.76 L338.80,474.58 L339.40,472.58 L340.00,471.98 L340.60,470.33 L341.20,468.76 L341.80,468.22 L342.40,466.82 L343.00,466.95 L343.60,465.61 L344.20,465.29 L344.80,463.59 L345.40,464.25 L346.00,462.62 L346.60,462.85 L347.20,462.09 L347.80,460.73 L348.40,461.11 L349.00,460.37 L349.60,460.58 L350.20,460.88 L350.80,460.37 L351.40,460.49 L352.00,459.31 L352.60,459.96 L353.20,460.00 L353.80,460.35 L354.40,459.51 L355.00,460.26 L355.60,460.47 L356.20,459.85 L356.80,460.50 L357.40,461.65 L358.00,461.29 L358.60,461.82 L359.20,463.51 L359.80,463.87 L360.40,464.26 L361.00,465.07 L361.60,465.46 L362.20,466.05 L362.80,466.75 L363.40,467.83 L364.00,468.94 L364.60,468.67 L365.20,469.47 L365.80,469.99 L366.40,470.05 L367.00,471.38 L367.60,472.24 L368.20,471.94 L368.80,473.32 L369.40,473.15 L370.00,474.54 L370.60,475.09 L371.20,474.80 L371.80,474.49 L372.40,475.80 L373.00,475.74 L373.60,476.21 L374.20,477.17 L374.80,478.39 L375.40,478.07 L376.00,478.40 L376.60,477.96 L377.20,478.94 L377.80,478.88 L378.40,480.16 L379.00,479.93 L379.60,480.46 L380.20,480.75 L380.80,480.93 L381.40,481.76 L382.00,481.77 L382.60,481.60 L383.20,482.07 L383.80,482.48 L384.40,483.09 L385.00,482.66 L385.60,483.46 L386.20,482.70 L386.80,483.04 L387.40,482.68 L388.00,483.81 L388.60,483.22 L389.20,483.38 L389.80,484.23 L390.40,483.86 L391.00,483.91 L391.60,484.61 L392.20,484.32 L392.80,484.78 L393.40,484.45 L394.00,484.89 L394.60,485.08 L395.20,484.86 L395.80,485.44 L396.40,484.88 L397.00,485.01 L397.60,485.16 L398.20,485.47 L398.80,485.20 L399.40,485.22 L400.00,485.46 L400.60,485.77 L401.20,485.42 L401.80,485.28 L402.40,485.61 L403.00,485.84 L403.60,485.63 L404.20,485.83 L404.80,485.46 L405.40,485.91 L406.00,485.97 L406.60,486.13 L407.20,486.11 L407.80,486.24 L408.40,485.95 L409.00,486.31 L409.60,485.93 L410.20,486.17 L410.80,486.51 L411.40,486.50 L412.00,486.10 L412.60,486.54 L413.20,486.42 L413.80,486.42 L414.40,486.62 L415.00,486.65 L415.60,486.88 L416.20,486.52 L416.80,486.72 L417.40,486.80 L418.00,486.63 L418.60,487.06 L419.20,487.17 L419.80,486.94 L420.40,487.10 L421.00,487.07 L421.60,487.18 L422.20,487.13 L422.80,487.32 L423.40,487.18 L424.00,487.45 L424.60,487.40 L425.20,487.61 L425.80,487.33 L426.40,487.49 L427.00,487.45 L427.60,487.58 L428.20,487.66 L428.80,487.62 L429.40,487.64 L430.00,487.67 L430.60,487.82 L431.20,487.90 L431.80,487.93 L432.40,487.92 L433.00,487.91 L433.60,487.96 L434.20,487.95 L434.80,487.97 L435.40,488.08 L436.00,488.06 L436.60,488.10 L437.20,488.11 L437.80,488.16 L438.40,488.18 L439.00,488.16 L439.60,488.19 L440.20,488.21 L440.80,488.25 L441.40,488.27 L442.00,488.27 L442.60,488.31 L443.20,488.30 L443.80,488.31 L444.40,488.32 L445.00,488.35 L445.60,488.36 L446.20,488.37 L446.80,488.38 L447.40,488.39 L448.00,488.39 L448.60,488.40 L449.20,488.40 L449.80,488.40 L449.80,488.40Z" fill="#4a5669" stroke="#15181d" stroke-width="0.45" stroke-linejoin="round"/>
<rect x="290.60" y="457.90" width="186.90" height="30.50" fill="none" stroke="#1a1a1a" stroke-width="1.0"/>
<line x1="287.60" y1="458.50" x2="290.60" y2="458.50" stroke="#333" stroke-width="0.8"/>
<text x="284.40" y="460.50" font-size="5.9" text-anchor="end" fill="#1e1e1e">1.5K</text>
<line x1="287.60" y1="468.50" x2="290.60" y2="468.50" stroke="#333" stroke-width="0.8"/>
<text x="284.40" y="470.50" font-size="5.9" text-anchor="end" fill="#1e1e1e">1.0K</text>
<line x1="287.60" y1="478.30" x2="290.60" y2="478.30" stroke="#333" stroke-width="0.8"/>
<text x="284.40" y="480.30" font-size="5.9" text-anchor="end" fill="#1e1e1e">500</text>
<line x1="287.60" y1="487.90" x2="290.60" y2="487.90" stroke="#333" stroke-width="0.8"/>
<text x="284.40" y="489.90" font-size="5.9" text-anchor="end" fill="#1e1e1e">0</text>
<line x1="289.40" y1="458.50" x2="290.60" y2="458.50" stroke="#555" stroke-width="0.4"/>
<line x1="289.40" y1="459.50" x2="290.60" y2="459.50" stroke="#555" stroke-width="0.4"/>
<line x1="289.40" y1="460.50" x2="290.60" y2="460.50" stroke="#555" stroke-width="0.4"/>
<line x1="289.40" y1="461.50" x2="290.60" y2="461.50" stroke="#555" stroke-width="0.4"/>
<line x1="289.40" y1="462.50" x2="290.60" y2="462.50" stroke="#555" stroke-width="0.4"/>
<line x1="289.40" y1="463.50" x2="290.60" y2="463.50" stroke="#555" stroke-width="0.4"/>
<line x1="289.40" y1="464.50" x2="290.60" y2="464.50" stroke="#555" stroke-width="0.4"/>
<line x1="289.40" y1="465.50" x2="290.60" y2="465.50" stroke="#555" stroke-width="0.4"/>
<line x1="289.40" y1="466.50" x2="290.60" y2="466.50" stroke="#555" stroke-width="0.4"/>
<line x1="289.40" y1="467.50" x2="290.60" y2="467.50" stroke="#555" stroke-width="0.4"/>
<line x1="289.40" y1="468.50" x2="290.60" y2="468.50" stroke="#555" stroke-width="0.4"/>
<line x1="289.40" y1="469.50" x2="290.60" y2="469.50" stroke="#555" stroke-width="0.4"/>
<line x1="289.40" y1="470.50" x2="290.60" y2="470.50" stroke="#555" stroke-width="0.4"/>
<line x1="289.40" y1="471.50" x2="290.60" y2="471.50" stroke="#555" stroke-width="0.4"/>
<line x1="289.40" y1="472.50" x2="290.60" y2="472.50" stroke="#555" stroke-width="0.4"/>
<line x1="289.40" y1="473.50" x2="290.60" y2="473.50" stroke="#555" stroke-width="0.4"/>
<line x1="289.40" y1="474.50" x2="290.60" y2="474.50" stroke="#555" stroke-width="0.4"/>
<line x1="289.40" y1="475.50" x2="290.60" y2="475.50" stroke="#555" stroke-width="0.4"/>
<line x1="289.40" y1="476.50" x2="290.60" y2="476.50" stroke="#555" stroke-width="0.4"/>
<line x1="289.40" y1="477.50" x2="290.60" y2="477.50" stroke="#555" stroke-width="0.4"/>
<line x1="289.40" y1="478.50" x2="290.60" y2="478.50" stroke="#555" stroke-width="0.4"/>
<line x1="289.40" y1="479.50" x2="290.60" y2="479.50" stroke="#555" stroke-width="0.4"/>
<line x1="289.40" y1="480.50" x2="290.60" y2="480.50" stroke="#555" stroke-width="0.4"/>
<line x1="289.40" y1="481.50" x2="290.60" y2="481.50" stroke="#555" stroke-width="0.4"/>
<line x1="289.40" y1="482.50" x2="290.60" y2="482.50" stroke="#555" stroke-width="0.4"/>
<line x1="289.40" y1="483.50" x2="290.60" y2="483.50" stroke="#555" stroke-width="0.4"/>
<line x1="289.40" y1="484.50" x2="290.60" y2="484.50" stroke="#555" stroke-width="0.4"/>
<line x1="289.40" y1="485.50" x2="290.60" y2="485.50" stroke="#555" stroke-width="0.4"/>
<line x1="289.40" y1="486.50" x2="290.60" y2="486.50" stroke="#555" stroke-width="0.4"/>
<line x1="289.40" y1="487.50" x2="290.60" y2="487.50" stroke="#555" stroke-width="0.4"/>
<line x1="301.00" y1="488.40" x2="301.00" y2="490.80" stroke="#333" stroke-width="0.8"/>
<line x1="339.60" y1="488.40" x2="339.60" y2="490.80" stroke="#333" stroke-width="0.8"/>
<line x1="380.50" y1="488.40" x2="380.50" y2="490.80" stroke="#333" stroke-width="0.8"/>
<line x1="421.60" y1="488.40" x2="421.60" y2="490.80" stroke="#333" stroke-width="0.8"/>
<line x1="456.50" y1="488.40" x2="456.50" y2="490.80" stroke="#333" stroke-width="0.8"/>
<line x1="292.50" y1="488.40" x2="292.50" y2="489.50" stroke="#555" stroke-width="0.4"/>
<line x1="295.10" y1="488.40" x2="295.10" y2="489.50" stroke="#555" stroke-width="0.4"/>
<line x1="297.70" y1="488.40" x2="297.70" y2="489.50" stroke="#555" stroke-width="0.4"/>
<line x1="300.30" y1="488.40" x2="300.30" y2="489.50" stroke="#555" stroke-width="0.4"/>
<line x1="302.90" y1="488.40" x2="302.90" y2="489.50" stroke="#555" stroke-width="0.4"/>
<line x1="305.50" y1="488.40" x2="305.50" y2="489.50" stroke="#555" stroke-width="0.4"/>
<line x1="308.10" y1="488.40" x2="308.10" y2="489.50" stroke="#555" stroke-width="0.4"/>
<line x1="310.70" y1="488.40" x2="310.70" y2="489.50" stroke="#555" stroke-width="0.4"/>
<line x1="313.30" y1="488.40" x2="313.30" y2="489.50" stroke="#555" stroke-width="0.4"/>
<line x1="315.90" y1="488.40" x2="315.90" y2="489.50" stroke="#555" stroke-width="0.4"/>
<line x1="318.50" y1="488.40" x2="318.50" y2="489.50" stroke="#555" stroke-width="0.4"/>
<line x1="321.10" y1="488.40" x2="321.10" y2="489.50" stroke="#555" stroke-width="0.4"/>
<line x1="323.70" y1="488.40" x2="323.70" y2="489.50" stroke="#555" stroke-width="0.4"/>
<line x1="326.30" y1="488.40" x2="326.30" y2="489.50" stroke="#555" stroke-width="0.4"/>
<line x1="328.90" y1="488.40" x2="328.90" y2="489.50" stroke="#555" stroke-width="0.4"/>
<line x1="331.50" y1="488.40" x2="331.50" y2="489.50" stroke="#555" stroke-width="0.4"/>
<line x1="334.10" y1="488.40" x2="334.10" y2="489.50" stroke="#555" stroke-width="0.4"/>
<line x1="336.70" y1="488.40" x2="336.70" y2="489.50" stroke="#555" stroke-width="0.4"/>
<line x1="339.30" y1="488.40" x2="339.30" y2="489.50" stroke="#555" stroke-width="0.4"/>
<line x1="341.90" y1="488.40" x2="341.90" y2="489.50" stroke="#555" stroke-width="0.4"/>
<line x1="344.50" y1="488.40" x2="344.50" y2="489.50" stroke="#555" stroke-width="0.4"/>
<line x1="347.10" y1="488.40" x2="347.10" y2="489.50" stroke="#555" stroke-width="0.4"/>
<line x1="349.70" y1="488.40" x2="349.70" y2="489.50" stroke="#555" stroke-width="0.4"/>
<line x1="352.30" y1="488.40" x2="352.30" y2="489.50" stroke="#555" stroke-width="0.4"/>
<line x1="354.90" y1="488.40" x2="354.90" y2="489.50" stroke="#555" stroke-width="0.4"/>
<line x1="357.50" y1="488.40" x2="357.50" y2="489.50" stroke="#555" stroke-width="0.4"/>
<line x1="360.10" y1="488.40" x2="360.10" y2="489.50" stroke="#555" stroke-width="0.4"/>
<line x1="362.70" y1="488.40" x2="362.70" y2="489.50" stroke="#555" stroke-width="0.4"/>
<line x1="365.30" y1="488.40" x2="365.30" y2="489.50" stroke="#555" stroke-width="0.4"/>
<line x1="367.90" y1="488.40" x2="367.90" y2="489.50" stroke="#555" stroke-width="0.4"/>
<line x1="370.50" y1="488.40" x2="370.50" y2="489.50" stroke="#555" stroke-width="0.4"/>
<line x1="373.10" y1="488.40" x2="373.10" y2="489.50" stroke="#555" stroke-width="0.4"/>
<line x1="375.70" y1="488.40" x2="375.70" y2="489.50" stroke="#555" stroke-width="0.4"/>
<line x1="378.30" y1="488.40" x2="378.30" y2="489.50" stroke="#555" stroke-width="0.4"/>
<line x1="380.90" y1="488.40" x2="380.90" y2="489.50" stroke="#555" stroke-width="0.4"/>
<line x1="383.50" y1="488.40" x2="383.50" y2="489.50" stroke="#555" stroke-width="0.4"/>
<line x1="386.10" y1="488.40" x2="386.10" y2="489.50" stroke="#555" stroke-width="0.4"/>
<line x1="388.70" y1="488.40" x2="388.70" y2="489.50" stroke="#555" stroke-width="0.4"/>
<line x1="391.30" y1="488.40" x2="391.30" y2="489.50" stroke="#555" stroke-width="0.4"/>
<line x1="393.90" y1="488.40" x2="393.90" y2="489.50" stroke="#555" stroke-width="0.4"/>
<line x1="396.50" y1="488.40" x2="396.50" y2="489.50" stroke="#555" stroke-width="0.4"/>
<line x1="399.10" y1="488.40" x2="399.10" y2="489.50" stroke="#555" stroke-width="0.4"/>
<line x1="401.70" y1="488.40" x2="401.70" y2="489.50" stroke="#555" stroke-width="0.4"/>
<line x1="404.30" y1="488.40" x2="404.30" y2="489.50" stroke="#555" stroke-width="0.4"/>
<line x1="406.90" y1="488.40" x2="406.90" y2="489.50" stroke="#555" stroke-width="0.4"/>
<line x1="409.50" y1="488.40" x2="409.50" y2="489.50" stroke="#555" stroke-width="0.4"/>
<line x1="412.10" y1="488.40" x2="412.10" y2="489.50" stroke="#555" stroke-width="0.4"/>
<line x1="414.70" y1="488.40" x2="414.70" y2="489.50" stroke="#555" stroke-width="0.4"/>
<line x1="417.30" y1="488.40" x2="417.30" y2="489.50" stroke="#555" stroke-width="0.4"/>
<line x1="419.90" y1="488.40" x2="419.90" y2="489.50" stroke="#555" stroke-width="0.4"/>
<line x1="422.50" y1="488.40" x2="422.50" y2="489.50" stroke="#555" stroke-width="0.4"/>
<line x1="425.10" y1="488.40" x2="425.10" y2="489.50" stroke="#555" stroke-width="0.4"/>
<line x1="427.70" y1="488.40" x2="427.70" y2="489.50" stroke="#555" stroke-width="0.4"/>
<line x1="430.30" y1="488.40" x2="430.30" y2="489.50" stroke="#555" stroke-width="0.4"/>
<line x1="432.90" y1="488.40" x2="432.90" y2="489.50" stroke="#555" stroke-width="0.4"/>
<line x1="435.50" y1="488.40" x2="435.50" y2="489.50" stroke="#555" stroke-width="0.4"/>
<line x1="438.10" y1="488.40" x2="438.10" y2="489.50" stroke="#555" stroke-width="0.4"/>
<line x1="440.70" y1="488.40" x2="440.70" y2="489.50" stroke="#555" stroke-width="0.4"/>
<line x1="443.30" y1="488.40" x2="443.30" y2="489.50" stroke="#555" stroke-width="0.4"/>
<line x1="445.90" y1="488.40" x2="445.90" y2="489.50" stroke="#555" stroke-width="0.4"/>
<line x1="448.50" y1="488.40" x2="448.50" y2="489.50" stroke="#555" stroke-width="0.4"/>
<line x1="451.10" y1="488.40" x2="451.10" y2="489.50" stroke="#555" stroke-width="0.4"/>
<line x1="453.70" y1="488.40" x2="453.70" y2="489.50" stroke="#555" stroke-width="0.4"/>
<line x1="456.30" y1="488.40" x2="456.30" y2="489.50" stroke="#555" stroke-width="0.4"/>
<line x1="458.90" y1="488.40" x2="458.90" y2="489.50" stroke="#555" stroke-width="0.4"/>
<line x1="461.50" y1="488.40" x2="461.50" y2="489.50" stroke="#555" stroke-width="0.4"/>
<line x1="464.10" y1="488.40" x2="464.10" y2="489.50" stroke="#555" stroke-width="0.4"/>
<line x1="466.70" y1="488.40" x2="466.70" y2="489.50" stroke="#555" stroke-width="0.4"/>
<line x1="469.30" y1="488.40" x2="469.30" y2="489.50" stroke="#555" stroke-width="0.4"/>
<line x1="471.90" y1="488.40" x2="471.90" y2="489.50" stroke="#555" stroke-width="0.4"/>
<line x1="474.50" y1="488.40" x2="474.50" y2="489.50" stroke="#555" stroke-width="0.4"/>
<text x="302.20" y="499.80" font-size="5.6" text-anchor="middle" fill="#333">&#8722;10<tspan font-size="3.6" dy="-2.4">4</tspan></text>
<text x="339.60" y="499.80" font-size="5.6" text-anchor="middle" fill="#333">0</text>
<text x="381.70" y="499.80" font-size="5.6" text-anchor="middle" fill="#333">10<tspan font-size="3.6" dy="-2.4">4</tspan></text>
<text x="422.80" y="499.80" font-size="5.6" text-anchor="middle" fill="#333">10<tspan font-size="3.6" dy="-2.4">5</tspan></text>
<text x="457.70" y="499.80" font-size="5.6" text-anchor="middle" fill="#333">10<tspan font-size="3.6" dy="-2.4">6</tspan></text>
<text x="295.80" y="468.80" font-size="8.2">TGF&#946;2</text>
<text x="470.40" y="468.50" font-size="8.0" text-anchor="end" fill="#333">MFI: 6,209</text>
<line x1="373.70" y1="474.30" x2="476.50" y2="474.30" stroke="#222" stroke-width="0.9" stroke-dasharray="4.3,5.3"/>
<line x1="266.60" y1="300.50" x2="266.60" y2="470.40" stroke="#222" stroke-width="0.9"/>
<path d="M266.6,297.0 L264.8,301.6 L268.4,301.6 Z" fill="#222"/>
<text x="0" y="0" font-size="7.2" text-anchor="middle" font-weight="bold" fill="#2a2a2a" transform="translate(268.90,481.30) rotate(-90) scale(0.68,1)">Count</text>
<text x="0" y="0" font-size="7.2" text-anchor="middle" font-weight="bold" fill="#2a2a2a" transform="translate(311.20,511.40) scale(0.69,1)">VECAD APC-Cy7</text>
<line x1="334.00" y1="508.60" x2="476.50" y2="508.60" stroke="#222" stroke-width="0.9"/>
<path d="M480.0,508.6 L475.5,506.8 L475.5,510.4 Z" fill="#222"/>
<rect x="0.5" y="0.5" width="519" height="519" fill="none" stroke="#5e5e5e" stroke-width="1"/>
</svg>
</body></html>
